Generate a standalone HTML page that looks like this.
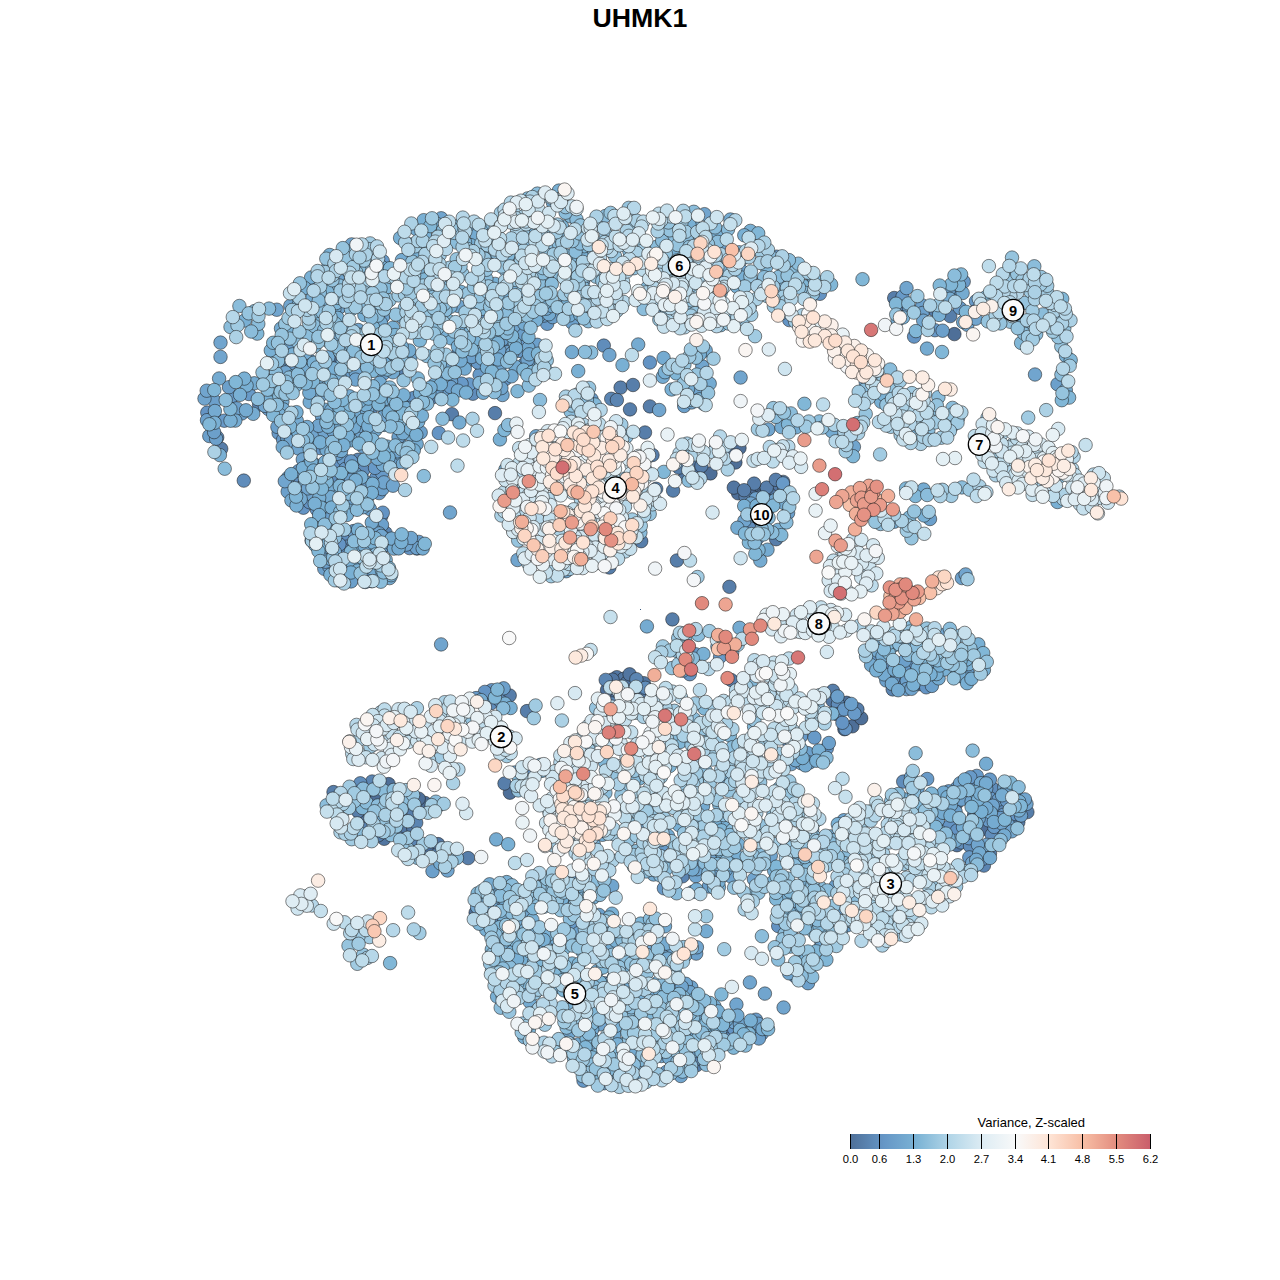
<!DOCTYPE html>
<html><head><meta charset="utf-8"><title>UHMK1</title>
<style>
html,body{margin:0;padding:0;background:#fff}
body{width:1280px;height:1280px;overflow:hidden;font-family:"Liberation Sans",sans-serif}
svg{display:block;font-family:"Liberation Sans",sans-serif}
#p circle{r:6.75px;stroke:#1e1e1e;stroke-width:.62px;stroke-opacity:.88}
.lb{fill:#fbfbfb;stroke:#000;stroke-width:1.25px}
.lt{font-size:14.6px;font-weight:700;text-anchor:middle;fill:#000}
.tk{font-size:11.2px;text-anchor:middle;fill:#000}
.lgt{font-size:13px;text-anchor:end;fill:#000}
.ttl{font-size:26.7px;font-weight:700;text-anchor:middle;fill:#000}
.a{fill:#4e6f98}.b{fill:#5276a1}.c{fill:#577eaa}.d{fill:#5b85b2}.e{fill:#608dbb}.f{fill:#6494c4}.g{fill:#689ac8}.h{fill:#6ca0cb}.i{fill:#71a5ce}.j{fill:#75abd1}.k{fill:#79b0d4}.l{fill:#81b7d7}.m{fill:#8bbddb}.n{fill:#96c4de}.o{fill:#a1cbe2}.p{fill:#acd1e5}.q{fill:#b6d7e9}.r{fill:#bedceb}.s{fill:#c6e0ed}.t{fill:#cfe5f0}.u{fill:#d7e9f2}.v{fill:#dfedf4}.w{fill:#e4f0f5}.x{fill:#e9f2f6}.y{fill:#eff4f7}.z{fill:#f4f6f8}.A{fill:#f9f9f9}.B{fill:#faf5f2}.C{fill:#fbf1eb}.D{fill:#fcede4}.E{fill:#fde9dd}.F{fill:#fee4d6}.G{fill:#fddece}.H{fill:#fcd7c4}.I{fill:#facfbb}.J{fill:#f9c8b2}.K{fill:#f8c1a9}.L{fill:#f5b9a1}.M{fill:#f1af99}.N{fill:#eda592}.O{fill:#e99c8b}.P{fill:#e59284}.Q{fill:#e1897d}.R{fill:#dc807a}.S{fill:#d77776}.T{fill:#d36f72}.U{fill:#ce666f}.V{fill:#c95d6b}
</style></head><body>
<svg width="1280" height="1280" viewBox="0 0 1280 1280">
<rect width="1280" height="1280" fill="#fff"/>
<text class="ttl" x="640" y="27">UHMK1</text>
<g id="p">
<circle class="a" cx="509.9" cy="792.7" r="6.75"/>
<circle class="a" cx="472.7" cy="388.0" r="6.75"/>
<circle class="a" cx="361.5" cy="821.4" r="6.75"/>
<circle class="a" cx="739.5" cy="448.0" r="6.75"/>
<circle class="a" cx="763.3" cy="491.8" r="6.75"/>
<circle class="a" cx="618.7" cy="706.2" r="6.75"/>
<circle class="a" cx="852.4" cy="726.3" r="6.75"/>
<circle class="a" cx="611.6" cy="691.7" r="6.75"/>
<circle class="a" cx="370.2" cy="795.1" r="6.75"/>
<circle class="a" cx="603.9" cy="702.0" r="6.75"/>
<circle class="a" cx="402.1" cy="813.9" r="6.75"/>
<circle class="a" cx="753.7" cy="489.8" r="6.75"/>
<circle class="a" cx="612.9" cy="697.0" r="6.75"/>
<circle class="a" cx="424.2" cy="853.0" r="6.75"/>
<circle class="a" cx="750.1" cy="494.6" r="6.75"/>
<circle class="a" cx="918.5" cy="684.1" r="6.75"/>
<circle class="a" cx="1010.7" cy="818.5" r="6.75"/>
<circle class="a" cx="425.1" cy="803.0" r="6.75"/>
<circle class="a" cx="775.8" cy="492.5" r="6.75"/>
<circle class="a" cx="376.2" cy="800.1" r="6.75"/>
<circle class="a" cx="984.8" cy="828.7" r="6.75"/>
<circle class="a" cx="767.6" cy="497.3" r="6.75"/>
<circle class="a" cx="631.4" cy="704.8" r="6.75"/>
<circle class="a" cx="861.2" cy="718.2" r="6.75"/>
<circle class="a" cx="738.1" cy="493.3" r="6.75"/>
<circle class="a" cx="716.1" cy="447.4" r="6.75"/>
<circle class="a" cx="640.8" cy="703.9" r="6.75"/>
<circle class="a" cx="406.3" cy="843.8" r="6.75"/>
<circle class="a" cx="418.7" cy="798.7" r="6.75"/>
<circle class="a" cx="904.4" cy="684.6" r="6.75"/>
<circle class="a" cx="616.1" cy="685.5" r="6.75"/>
<circle class="a" cx="623.2" cy="696.8" r="6.75"/>
<circle class="a" cx="710.5" cy="473.4" r="6.75"/>
<circle class="a" cx="846.6" cy="702.8" r="6.75"/>
<circle class="a" cx="338.8" cy="359.6" r="6.75"/>
<circle class="a" cx="954.4" cy="334.1" r="6.75"/>
<circle class="a" cx="647.3" cy="692.4" r="6.75"/>
<circle class="a" cx="429.3" cy="848.4" r="6.75"/>
<circle class="a" cx="761.2" cy="496.4" r="6.75"/>
<circle class="a" cx="784.6" cy="490.4" r="6.75"/>
<circle class="a" cx="735.4" cy="462.5" r="6.75"/>
<circle class="a" cx="956.2" cy="803.8" r="6.75"/>
<circle class="a" cx="607.0" cy="690.0" r="6.75"/>
<circle class="a" cx="388.6" cy="784.1" r="6.75"/>
<circle class="a" cx="475.6" cy="912.7" r="6.75"/>
<circle class="a" cx="850.1" cy="708.7" r="6.75"/>
<circle class="b" cx="398.6" cy="830.7" r="6.75"/>
<circle class="b" cx="772.2" cy="488.0" r="6.75"/>
<circle class="b" cx="405.2" cy="826.5" r="6.75"/>
<circle class="b" cx="633.2" cy="695.0" r="6.75"/>
<circle class="b" cx="778.6" cy="484.7" r="6.75"/>
<circle class="b" cx="413.2" cy="828.0" r="6.75"/>
<circle class="b" cx="639.0" cy="695.9" r="6.75"/>
<circle class="b" cx="685.4" cy="475.5" r="6.75"/>
<circle class="b" cx="844.4" cy="729.2" r="6.75"/>
<circle class="b" cx="616.8" cy="677.2" r="6.75"/>
<circle class="b" cx="832.5" cy="700.6" r="6.75"/>
<circle class="b" cx="636.8" cy="700.0" r="6.75"/>
<circle class="b" cx="623.6" cy="678.8" r="6.75"/>
<circle class="b" cx="626.8" cy="682.8" r="6.75"/>
<circle class="b" cx="384.2" cy="838.8" r="6.75"/>
<circle class="b" cx="694.6" cy="466.5" r="6.75"/>
<circle class="b" cx="629.6" cy="674.3" r="6.75"/>
<circle class="b" cx="733.8" cy="487.6" r="6.75"/>
<circle class="b" cx="636.0" cy="706.1" r="6.75"/>
<circle class="b" cx="643.8" cy="683.2" r="6.75"/>
<circle class="b" cx="957.0" cy="845.2" r="6.75"/>
<circle class="b" cx="438.1" cy="844.1" r="6.75"/>
<circle class="b" cx="624.4" cy="701.3" r="6.75"/>
<circle class="b" cx="620.0" cy="693.1" r="6.75"/>
<circle class="b" cx="762.0" cy="282.9" r="6.75"/>
<circle class="b" cx="612.5" cy="679.6" r="6.75"/>
<circle class="c" cx="738.8" cy="683.8" r="6.75"/>
<circle class="c" cx="672.4" cy="619.4" r="6.75"/>
<circle class="c" cx="650.6" cy="496.2" r="6.75"/>
<circle class="c" cx="673.1" cy="490.6" r="6.75"/>
<circle class="c" cx="495.0" cy="413.1" r="6.75"/>
<circle class="c" cx="731.2" cy="680.0" r="6.75"/>
<circle class="c" cx="620.6" cy="387.6" r="6.75"/>
<circle class="c" cx="729.4" cy="586.8" r="6.75"/>
<circle class="c" cx="221.2" cy="448.8" r="6.75"/>
<circle class="c" cx="451.9" cy="414.2" r="6.75"/>
<circle class="c" cx="468.1" cy="858.1" r="6.75"/>
<circle class="c" cx="676.9" cy="560.5" r="6.75"/>
<circle class="c" cx="633.0" cy="385.0" r="6.75"/>
<circle class="c" cx="645.0" cy="432.5" r="6.75"/>
<circle class="c" cx="745.6" cy="496.7" r="6.75"/>
<circle class="c" cx="389.4" cy="794.0" r="6.75"/>
<circle class="c" cx="974.1" cy="815.3" r="6.75"/>
<circle class="c" cx="766.7" cy="487.6" r="6.75"/>
<circle class="c" cx="832.9" cy="690.8" r="6.75"/>
<circle class="c" cx="701.4" cy="466.0" r="6.75"/>
<circle class="c" cx="413.6" cy="813.2" r="6.75"/>
<circle class="c" cx="754.1" cy="483.6" r="6.75"/>
<circle class="c" cx="509.7" cy="695.5" r="6.75"/>
<circle class="c" cx="783.2" cy="481.9" r="6.75"/>
<circle class="c" cx="729.9" cy="455.0" r="6.75"/>
<circle class="c" cx="1027.4" cy="812.1" r="6.75"/>
<circle class="c" cx="378.2" cy="835.3" r="6.75"/>
<circle class="c" cx="385.9" cy="821.1" r="6.75"/>
<circle class="c" cx="582.8" cy="398.1" r="6.75"/>
<circle class="c" cx="990.0" cy="853.1" r="6.75"/>
<circle class="c" cx="371.4" cy="581.1" r="6.75"/>
<circle class="c" cx="934.5" cy="310.0" r="6.75"/>
<circle class="c" cx="678.9" cy="467.6" r="6.75"/>
<circle class="c" cx="894.2" cy="298.0" r="6.75"/>
<circle class="c" cx="744.1" cy="490.2" r="6.75"/>
<circle class="c" cx="333.5" cy="792.1" r="6.75"/>
<circle class="c" cx="775.8" cy="479.8" r="6.75"/>
<circle class="c" cx="368.4" cy="837.5" r="6.75"/>
<circle class="c" cx="358.1" cy="811.4" r="6.75"/>
<circle class="c" cx="436.4" cy="855.2" r="6.75"/>
<circle class="c" cx="930.3" cy="680.5" r="6.75"/>
<circle class="c" cx="696.8" cy="1065.1" r="6.75"/>
<circle class="c" cx="1018.3" cy="822.3" r="6.75"/>
<circle class="c" cx="904.9" cy="310.8" r="6.75"/>
<circle class="c" cx="609.4" cy="567.5" r="6.75"/>
<circle class="c" cx="652.5" cy="455.0" r="6.75"/>
<circle class="c" cx="577.5" cy="426.2" r="6.75"/>
<circle class="c" cx="527.0" cy="711.1" r="6.75"/>
<circle class="c" cx="663.1" cy="946.2" r="6.75"/>
<circle class="c" cx="630.0" cy="409.4" r="6.75"/>
<circle class="c" cx="641.2" cy="541.2" r="6.75"/>
<circle class="c" cx="649.9" cy="406.4" r="6.75"/>
<circle class="c" cx="571.9" cy="426.9" r="6.75"/>
<circle class="c" cx="504.5" cy="783.5" r="6.75"/>
<circle class="c" cx="349.7" cy="556.4" r="6.75"/>
<circle class="c" cx="950.2" cy="316.1" r="6.75"/>
<circle class="c" cx="776.1" cy="539.2" r="6.75"/>
<circle class="c" cx="857.4" cy="709.3" r="6.75"/>
<circle class="d" cx="259.1" cy="404.6" r="6.75"/>
<circle class="d" cx="385.6" cy="533.0" r="6.75"/>
<circle class="d" cx="978.3" cy="808.2" r="6.75"/>
<circle class="d" cx="605.7" cy="679.9" r="6.75"/>
<circle class="d" cx="416.2" cy="822.8" r="6.75"/>
<circle class="d" cx="372.1" cy="781.5" r="6.75"/>
<circle class="d" cx="983.9" cy="865.6" r="6.75"/>
<circle class="d" cx="612.0" cy="703.5" r="6.75"/>
<circle class="d" cx="580.2" cy="396.2" r="6.75"/>
<circle class="d" cx="432.5" cy="397.3" r="6.75"/>
<circle class="d" cx="416.2" cy="843.4" r="6.75"/>
<circle class="d" cx="636.4" cy="679.2" r="6.75"/>
<circle class="d" cx="359.7" cy="466.5" r="6.75"/>
<circle class="d" cx="682.6" cy="876.3" r="6.75"/>
<circle class="d" cx="358.0" cy="459.8" r="6.75"/>
<circle class="d" cx="611.2" cy="398.8" r="6.75"/>
<circle class="d" cx="616.9" cy="400.0" r="6.75"/>
<circle class="d" cx="513.8" cy="531.9" r="6.75"/>
<circle class="d" cx="656.2" cy="488.8" r="6.75"/>
<circle class="d" cx="697.2" cy="1058.8" r="6.75"/>
<circle class="d" cx="381.3" cy="516.1" r="6.75"/>
<circle class="d" cx="665.1" cy="948.3" r="6.75"/>
<circle class="d" cx="362.4" cy="828.6" r="6.75"/>
<circle class="d" cx="403.7" cy="372.4" r="6.75"/>
<circle class="d" cx="892.7" cy="689.4" r="6.75"/>
<circle class="d" cx="610.6" cy="992.8" r="6.75"/>
<circle class="e" cx="504.5" cy="346.7" r="6.75"/>
<circle class="e" cx="972.4" cy="786.0" r="6.75"/>
<circle class="e" cx="450.4" cy="368.9" r="6.75"/>
<circle class="e" cx="752.0" cy="525.8" r="6.75"/>
<circle class="e" cx="956.0" cy="822.1" r="6.75"/>
<circle class="e" cx="217.2" cy="437.4" r="6.75"/>
<circle class="e" cx="360.3" cy="783.3" r="6.75"/>
<circle class="e" cx="961.0" cy="842.4" r="6.75"/>
<circle class="e" cx="417.0" cy="548.5" r="6.75"/>
<circle class="e" cx="752.5" cy="1030.3" r="6.75"/>
<circle class="e" cx="770.3" cy="291.3" r="6.75"/>
<circle class="e" cx="371.9" cy="407.4" r="6.75"/>
<circle class="e" cx="243.8" cy="480.6" r="6.75"/>
<circle class="e" cx="603.8" cy="345.6" r="6.75"/>
<circle class="e" cx="457.9" cy="354.5" r="6.75"/>
<circle class="e" cx="888.4" cy="666.5" r="6.75"/>
<circle class="e" cx="472.9" cy="393.7" r="6.75"/>
<circle class="e" cx="531.4" cy="771.7" r="6.75"/>
<circle class="e" cx="645.4" cy="687.8" r="6.75"/>
<circle class="e" cx="342.6" cy="537.3" r="6.75"/>
<circle class="e" cx="298.9" cy="481.9" r="6.75"/>
<circle class="e" cx="518.3" cy="330.0" r="6.75"/>
<circle class="e" cx="998.9" cy="834.5" r="6.75"/>
<circle class="e" cx="789.1" cy="742.8" r="6.75"/>
<circle class="e" cx="837.9" cy="704.2" r="6.75"/>
<circle class="e" cx="903.2" cy="781.6" r="6.75"/>
<circle class="e" cx="332.6" cy="513.9" r="6.75"/>
<circle class="e" cx="363.1" cy="470.2" r="6.75"/>
<circle class="e" cx="768.6" cy="508.3" r="6.75"/>
<circle class="e" cx="672.5" cy="988.0" r="6.75"/>
<circle class="e" cx="499.3" cy="919.6" r="6.75"/>
<circle class="e" cx="995.7" cy="812.8" r="6.75"/>
<circle class="e" cx="726.2" cy="1033.8" r="6.75"/>
<circle class="e" cx="991.9" cy="788.0" r="6.75"/>
<circle class="e" cx="795.1" cy="976.2" r="6.75"/>
<circle class="e" cx="727.8" cy="1026.1" r="6.75"/>
<circle class="e" cx="315.9" cy="440.3" r="6.75"/>
<circle class="e" cx="970.0" cy="846.0" r="6.75"/>
<circle class="e" cx="347.0" cy="546.6" r="6.75"/>
<circle class="e" cx="378.2" cy="521.4" r="6.75"/>
<circle class="e" cx="837.2" cy="714.3" r="6.75"/>
<circle class="e" cx="901.8" cy="678.8" r="6.75"/>
<circle class="e" cx="342.8" cy="549.6" r="6.75"/>
<circle class="e" cx="491.1" cy="703.2" r="6.75"/>
<circle class="e" cx="1000.6" cy="809.5" r="6.75"/>
<circle class="e" cx="336.7" cy="482.0" r="6.75"/>
<circle class="e" cx="991.7" cy="834.8" r="6.75"/>
<circle class="f" cx="982.9" cy="858.7" r="6.75"/>
<circle class="f" cx="776.8" cy="256.7" r="6.75"/>
<circle class="f" cx="438.8" cy="433.0" r="6.75"/>
<circle class="f" cx="500.1" cy="700.8" r="6.75"/>
<circle class="f" cx="320.1" cy="448.1" r="6.75"/>
<circle class="f" cx="326.2" cy="505.6" r="6.75"/>
<circle class="f" cx="972.8" cy="867.5" r="6.75"/>
<circle class="f" cx="481.0" cy="316.1" r="6.75"/>
<circle class="f" cx="948.5" cy="289.9" r="6.75"/>
<circle class="f" cx="517.9" cy="952.3" r="6.75"/>
<circle class="f" cx="383.6" cy="575.5" r="6.75"/>
<circle class="f" cx="826.8" cy="748.5" r="6.75"/>
<circle class="f" cx="513.1" cy="946.6" r="6.75"/>
<circle class="f" cx="649.6" cy="814.9" r="6.75"/>
<circle class="f" cx="316.9" cy="509.6" r="6.75"/>
<circle class="f" cx="893.4" cy="678.5" r="6.75"/>
<circle class="f" cx="879.1" cy="644.1" r="6.75"/>
<circle class="f" cx="538.1" cy="227.1" r="6.75"/>
<circle class="f" cx="383.8" cy="537.6" r="6.75"/>
<circle class="f" cx="689.8" cy="674.2" r="6.75"/>
<circle class="f" cx="531.1" cy="320.1" r="6.75"/>
<circle class="f" cx="303.4" cy="507.7" r="6.75"/>
<circle class="f" cx="309.6" cy="502.2" r="6.75"/>
<circle class="f" cx="926.2" cy="687.3" r="6.75"/>
<circle class="f" cx="440.5" cy="372.0" r="6.75"/>
<circle class="f" cx="778.2" cy="926.0" r="6.75"/>
<circle class="f" cx="734.1" cy="1029.0" r="6.75"/>
<circle class="f" cx="207.3" cy="412.6" r="6.75"/>
<circle class="f" cx="911.5" cy="661.9" r="6.75"/>
<circle class="f" cx="406.0" cy="401.2" r="6.75"/>
<circle class="f" cx="914.1" cy="336.6" r="6.75"/>
<circle class="f" cx="364.9" cy="572.5" r="6.75"/>
<circle class="f" cx="409.6" cy="548.1" r="6.75"/>
<circle class="f" cx="492.3" cy="355.8" r="6.75"/>
<circle class="f" cx="413.4" cy="398.1" r="6.75"/>
<circle class="f" cx="338.7" cy="580.4" r="6.75"/>
<circle class="f" cx="394.4" cy="462.9" r="6.75"/>
<circle class="f" cx="845.5" cy="728.8" r="6.75"/>
<circle class="f" cx="819.9" cy="293.8" r="6.75"/>
<circle class="f" cx="491.7" cy="690.2" r="6.75"/>
<circle class="f" cx="484.9" cy="691.9" r="6.75"/>
<circle class="f" cx="949.3" cy="826.3" r="6.75"/>
<circle class="f" cx="957.0" cy="830.5" r="6.75"/>
<circle class="f" cx="484.3" cy="339.8" r="6.75"/>
<circle class="f" cx="575.8" cy="319.0" r="6.75"/>
<circle class="f" cx="394.8" cy="455.5" r="6.75"/>
<circle class="f" cx="501.0" cy="382.8" r="6.75"/>
<circle class="f" cx="789.3" cy="320.1" r="6.75"/>
<circle class="f" cx="347.6" cy="576.3" r="6.75"/>
<circle class="f" cx="706.1" cy="388.7" r="6.75"/>
<circle class="f" cx="339.4" cy="544.4" r="6.75"/>
<circle class="f" cx="842.4" cy="722.8" r="6.75"/>
<circle class="f" cx="505.4" cy="379.0" r="6.75"/>
<circle class="f" cx="356.0" cy="493.6" r="6.75"/>
<circle class="f" cx="649.9" cy="362.5" r="6.75"/>
<circle class="f" cx="376.4" cy="477.6" r="6.75"/>
<circle class="f" cx="616.8" cy="949.5" r="6.75"/>
<circle class="f" cx="349.7" cy="361.5" r="6.75"/>
<circle class="f" cx="343.6" cy="480.3" r="6.75"/>
<circle class="f" cx="484.4" cy="902.8" r="6.75"/>
<circle class="f" cx="346.4" cy="581.7" r="6.75"/>
<circle class="f" cx="1014.2" cy="813.8" r="6.75"/>
<circle class="f" cx="661.2" cy="251.0" r="6.75"/>
<circle class="f" cx="337.7" cy="466.4" r="6.75"/>
<circle class="f" cx="311.5" cy="283.7" r="6.75"/>
<circle class="f" cx="287.6" cy="364.5" r="6.75"/>
<circle class="f" cx="525.6" cy="328.3" r="6.75"/>
<circle class="f" cx="693.3" cy="1040.5" r="6.75"/>
<circle class="f" cx="843.7" cy="910.5" r="6.75"/>
<circle class="f" cx="382.8" cy="512.7" r="6.75"/>
<circle class="f" cx="377.8" cy="293.6" r="6.75"/>
<circle class="g" cx="753.0" cy="235.2" r="6.75"/>
<circle class="g" cx="562.4" cy="312.6" r="6.75"/>
<circle class="g" cx="990.4" cy="798.5" r="6.75"/>
<circle class="g" cx="354.9" cy="422.7" r="6.75"/>
<circle class="g" cx="278.6" cy="433.0" r="6.75"/>
<circle class="g" cx="378.8" cy="389.6" r="6.75"/>
<circle class="g" cx="666.4" cy="1071.9" r="6.75"/>
<circle class="g" cx="364.6" cy="564.0" r="6.75"/>
<circle class="g" cx="844.1" cy="709.4" r="6.75"/>
<circle class="g" cx="343.7" cy="459.7" r="6.75"/>
<circle class="g" cx="345.4" cy="468.9" r="6.75"/>
<circle class="g" cx="524.5" cy="364.1" r="6.75"/>
<circle class="g" cx="755.9" cy="1019.7" r="6.75"/>
<circle class="g" cx="357.5" cy="301.2" r="6.75"/>
<circle class="g" cx="268.4" cy="409.1" r="6.75"/>
<circle class="g" cx="976.8" cy="775.9" r="6.75"/>
<circle class="g" cx="801.1" cy="736.2" r="6.75"/>
<circle class="g" cx="382.2" cy="473.2" r="6.75"/>
<circle class="g" cx="520.7" cy="346.2" r="6.75"/>
<circle class="g" cx="956.7" cy="788.2" r="6.75"/>
<circle class="g" cx="382.8" cy="261.1" r="6.75"/>
<circle class="g" cx="976.0" cy="301.2" r="6.75"/>
<circle class="g" cx="970.3" cy="777.2" r="6.75"/>
<circle class="g" cx="309.0" cy="359.9" r="6.75"/>
<circle class="g" cx="902.5" cy="296.6" r="6.75"/>
<circle class="g" cx="969.1" cy="838.2" r="6.75"/>
<circle class="g" cx="757.2" cy="538.6" r="6.75"/>
<circle class="g" cx="1003.8" cy="814.7" r="6.75"/>
<circle class="g" cx="327.4" cy="541.0" r="6.75"/>
<circle class="g" cx="283.1" cy="439.7" r="6.75"/>
<circle class="g" cx="1017.5" cy="796.9" r="6.75"/>
<circle class="g" cx="959.8" cy="308.0" r="6.75"/>
<circle class="g" cx="353.5" cy="531.1" r="6.75"/>
<circle class="g" cx="989.9" cy="779.6" r="6.75"/>
<circle class="g" cx="591.5" cy="399.2" r="6.75"/>
<circle class="g" cx="323.5" cy="516.8" r="6.75"/>
<circle class="g" cx="934.9" cy="330.2" r="6.75"/>
<circle class="g" cx="662.2" cy="844.7" r="6.75"/>
<circle class="g" cx="289.9" cy="370.2" r="6.75"/>
<circle class="g" cx="998.6" cy="799.6" r="6.75"/>
<circle class="g" cx="585.2" cy="1066.8" r="6.75"/>
<circle class="g" cx="932.4" cy="666.7" r="6.75"/>
<circle class="g" cx="465.4" cy="363.6" r="6.75"/>
<circle class="g" cx="325.6" cy="529.2" r="6.75"/>
<circle class="g" cx="380.1" cy="453.6" r="6.75"/>
<circle class="g" cx="994.2" cy="826.9" r="6.75"/>
<circle class="g" cx="957.4" cy="293.6" r="6.75"/>
<circle class="g" cx="469.3" cy="384.4" r="6.75"/>
<circle class="g" cx="476.1" cy="698.1" r="6.75"/>
<circle class="g" cx="927.2" cy="779.0" r="6.75"/>
<circle class="g" cx="481.5" cy="366.6" r="6.75"/>
<circle class="g" cx="277.4" cy="406.5" r="6.75"/>
<circle class="g" cx="872.6" cy="654.8" r="6.75"/>
<circle class="g" cx="672.4" cy="244.1" r="6.75"/>
<circle class="g" cx="418.9" cy="541.9" r="6.75"/>
<circle class="g" cx="966.0" cy="794.1" r="6.75"/>
<circle class="g" cx="364.8" cy="481.4" r="6.75"/>
<circle class="g" cx="1000.3" cy="818.0" r="6.75"/>
<circle class="g" cx="744.2" cy="1026.7" r="6.75"/>
<circle class="g" cx="379.1" cy="493.1" r="6.75"/>
<circle class="g" cx="695.6" cy="654.2" r="6.75"/>
<circle class="g" cx="974.8" cy="311.6" r="6.75"/>
<circle class="g" cx="1006.7" cy="829.3" r="6.75"/>
<circle class="g" cx="948.7" cy="791.3" r="6.75"/>
<circle class="g" cx="392.8" cy="362.2" r="6.75"/>
<circle class="g" cx="334.8" cy="290.4" r="6.75"/>
<circle class="g" cx="1006.9" cy="800.8" r="6.75"/>
<circle class="g" cx="479.6" cy="374.8" r="6.75"/>
<circle class="g" cx="367.0" cy="488.5" r="6.75"/>
<circle class="g" cx="963.7" cy="281.6" r="6.75"/>
<circle class="g" cx="562.2" cy="306.1" r="6.75"/>
<circle class="g" cx="309.6" cy="364.9" r="6.75"/>
<circle class="g" cx="409.7" cy="407.9" r="6.75"/>
<circle class="g" cx="573.8" cy="928.4" r="6.75"/>
<circle class="g" cx="720.1" cy="656.8" r="6.75"/>
<circle class="g" cx="784.3" cy="488.9" r="6.75"/>
<circle class="g" cx="298.7" cy="471.0" r="6.75"/>
<circle class="g" cx="809.9" cy="285.1" r="6.75"/>
<circle class="g" cx="520.0" cy="350.9" r="6.75"/>
<circle class="g" cx="295.2" cy="425.8" r="6.75"/>
<circle class="g" cx="905.0" cy="671.1" r="6.75"/>
<circle class="g" cx="356.3" cy="488.7" r="6.75"/>
<circle class="g" cx="248.9" cy="394.0" r="6.75"/>
<circle class="g" cx="663.9" cy="888.3" r="6.75"/>
<circle class="g" cx="988.3" cy="820.3" r="6.75"/>
<circle class="g" cx="214.2" cy="416.2" r="6.75"/>
<circle class="g" cx="309.7" cy="442.7" r="6.75"/>
<circle class="g" cx="351.1" cy="461.3" r="6.75"/>
<circle class="g" cx="814.4" cy="737.6" r="6.75"/>
<circle class="g" cx="224.3" cy="420.7" r="6.75"/>
<circle class="g" cx="375.0" cy="467.9" r="6.75"/>
<circle class="g" cx="583.5" cy="1080.7" r="6.75"/>
<circle class="g" cx="477.8" cy="362.5" r="6.75"/>
<circle class="g" cx="544.6" cy="884.8" r="6.75"/>
<circle class="g" cx="909.5" cy="646.4" r="6.75"/>
<circle class="g" cx="368.5" cy="339.9" r="6.75"/>
<circle class="g" cx="547.2" cy="323.8" r="6.75"/>
<circle class="g" cx="461.6" cy="383.6" r="6.75"/>
<circle class="g" cx="854.5" cy="713.5" r="6.75"/>
<circle class="g" cx="761.8" cy="1033.6" r="6.75"/>
<circle class="g" cx="782.9" cy="483.4" r="6.75"/>
<circle class="g" cx="755.4" cy="1034.7" r="6.75"/>
<circle class="g" cx="519.7" cy="341.4" r="6.75"/>
<circle class="g" cx="969.3" cy="857.4" r="6.75"/>
<circle class="g" cx="232.4" cy="396.6" r="6.75"/>
<circle class="g" cx="492.3" cy="380.9" r="6.75"/>
<circle class="h" cx="478.5" cy="344.7" r="6.75"/>
<circle class="h" cx="355.2" cy="473.6" r="6.75"/>
<circle class="h" cx="420.7" cy="432.4" r="6.75"/>
<circle class="h" cx="363.3" cy="446.8" r="6.75"/>
<circle class="h" cx="693.8" cy="1051.4" r="6.75"/>
<circle class="h" cx="229.0" cy="387.2" r="6.75"/>
<circle class="h" cx="209.3" cy="436.0" r="6.75"/>
<circle class="h" cx="327.8" cy="519.4" r="6.75"/>
<circle class="h" cx="807.6" cy="753.1" r="6.75"/>
<circle class="h" cx="984.0" cy="801.5" r="6.75"/>
<circle class="h" cx="741.4" cy="270.8" r="6.75"/>
<circle class="h" cx="808.0" cy="983.2" r="6.75"/>
<circle class="h" cx="568.7" cy="973.8" r="6.75"/>
<circle class="h" cx="451.1" cy="381.5" r="6.75"/>
<circle class="h" cx="836.5" cy="910.0" r="6.75"/>
<circle class="h" cx="967.5" cy="672.3" r="6.75"/>
<circle class="h" cx="931.9" cy="685.9" r="6.75"/>
<circle class="h" cx="1004.3" cy="787.2" r="6.75"/>
<circle class="h" cx="351.0" cy="479.6" r="6.75"/>
<circle class="h" cx="708.9" cy="886.5" r="6.75"/>
<circle class="h" cx="851.2" cy="703.9" r="6.75"/>
<circle class="h" cx="377.0" cy="547.4" r="6.75"/>
<circle class="h" cx="344.8" cy="499.1" r="6.75"/>
<circle class="h" cx="216.1" cy="438.7" r="6.75"/>
<circle class="h" cx="822.4" cy="930.4" r="6.75"/>
<circle class="h" cx="761.1" cy="521.8" r="6.75"/>
<circle class="h" cx="1008.1" cy="824.9" r="6.75"/>
<circle class="h" cx="399.5" cy="460.5" r="6.75"/>
<circle class="h" cx="440.5" cy="392.2" r="6.75"/>
<circle class="h" cx="723.3" cy="311.6" r="6.75"/>
<circle class="h" cx="755.9" cy="498.5" r="6.75"/>
<circle class="h" cx="503.6" cy="688.3" r="6.75"/>
<circle class="h" cx="574.9" cy="1004.8" r="6.75"/>
<circle class="h" cx="725.5" cy="784.2" r="6.75"/>
<circle class="h" cx="351.4" cy="373.8" r="6.75"/>
<circle class="h" cx="543.3" cy="930.7" r="6.75"/>
<circle class="h" cx="359.8" cy="408.2" r="6.75"/>
<circle class="h" cx="1021.0" cy="815.5" r="6.75"/>
<circle class="h" cx="449.7" cy="392.3" r="6.75"/>
<circle class="h" cx="416.8" cy="548.1" r="6.75"/>
<circle class="h" cx="287.7" cy="491.6" r="6.75"/>
<circle class="h" cx="604.5" cy="983.3" r="6.75"/>
<circle class="h" cx="703.6" cy="403.8" r="6.75"/>
<circle class="h" cx="583.2" cy="281.2" r="6.75"/>
<circle class="h" cx="909.3" cy="308.9" r="6.75"/>
<circle class="h" cx="961.9" cy="578.1" r="6.75"/>
<circle class="h" cx="948.8" cy="290.1" r="6.75"/>
<circle class="h" cx="432.5" cy="871.2" r="6.75"/>
<circle class="h" cx="1057.5" cy="384.2" r="6.75"/>
<circle class="h" cx="821.4" cy="942.4" r="6.75"/>
<circle class="h" cx="847.1" cy="925.4" r="6.75"/>
<circle class="h" cx="565.2" cy="891.7" r="6.75"/>
<circle class="h" cx="421.7" cy="249.7" r="6.75"/>
<circle class="h" cx="382.3" cy="489.1" r="6.75"/>
<circle class="h" cx="484.9" cy="913.2" r="6.75"/>
<circle class="h" cx="369.9" cy="509.0" r="6.75"/>
<circle class="h" cx="334.1" cy="500.2" r="6.75"/>
<circle class="h" cx="886.3" cy="680.5" r="6.75"/>
<circle class="h" cx="961.3" cy="799.5" r="6.75"/>
<circle class="h" cx="955.6" cy="811.7" r="6.75"/>
<circle class="h" cx="904.7" cy="660.7" r="6.75"/>
<circle class="h" cx="920.6" cy="672.4" r="6.75"/>
<circle class="h" cx="593.8" cy="1018.4" r="6.75"/>
<circle class="h" cx="321.7" cy="540.3" r="6.75"/>
<circle class="h" cx="753.8" cy="863.3" r="6.75"/>
<circle class="h" cx="572.0" cy="322.6" r="6.75"/>
<circle class="h" cx="616.5" cy="1000.6" r="6.75"/>
<circle class="h" cx="758.9" cy="1038.5" r="6.75"/>
<circle class="h" cx="835.9" cy="885.7" r="6.75"/>
<circle class="h" cx="986.2" cy="788.6" r="6.75"/>
<circle class="h" cx="930.0" cy="519.0" r="6.75"/>
<circle class="h" cx="906.8" cy="680.7" r="6.75"/>
<circle class="h" cx="324.3" cy="568.8" r="6.75"/>
<circle class="h" cx="654.8" cy="928.7" r="6.75"/>
<circle class="h" cx="581.2" cy="402.1" r="6.75"/>
<circle class="h" cx="714.1" cy="1052.8" r="6.75"/>
<circle class="h" cx="696.8" cy="1003.6" r="6.75"/>
<circle class="h" cx="287.0" cy="443.5" r="6.75"/>
<circle class="h" cx="837.5" cy="696.5" r="6.75"/>
<circle class="h" cx="329.3" cy="566.7" r="6.75"/>
<circle class="h" cx="529.3" cy="360.6" r="6.75"/>
<circle class="h" cx="288.0" cy="477.8" r="6.75"/>
<circle class="h" cx="277.4" cy="426.9" r="6.75"/>
<circle class="h" cx="459.4" cy="327.3" r="6.75"/>
<circle class="h" cx="917.6" cy="788.8" r="6.75"/>
<circle class="h" cx="461.5" cy="228.6" r="6.75"/>
<circle class="h" cx="917.3" cy="677.2" r="6.75"/>
<circle class="h" cx="399.8" cy="444.0" r="6.75"/>
<circle class="h" cx="301.6" cy="487.4" r="6.75"/>
<circle class="h" cx="325.6" cy="561.7" r="6.75"/>
<circle class="h" cx="788.1" cy="512.9" r="6.75"/>
<circle class="h" cx="684.2" cy="406.0" r="6.75"/>
<circle class="h" cx="572.0" cy="877.7" r="6.75"/>
<circle class="h" cx="922.3" cy="305.4" r="6.75"/>
<circle class="h" cx="331.8" cy="527.7" r="6.75"/>
<circle class="h" cx="608.9" cy="1025.1" r="6.75"/>
<circle class="h" cx="398.1" cy="544.1" r="6.75"/>
<circle class="h" cx="982.1" cy="436.5" r="6.75"/>
<circle class="h" cx="313.6" cy="429.3" r="6.75"/>
<circle class="h" cx="1010.6" cy="789.4" r="6.75"/>
<circle class="h" cx="375.2" cy="445.7" r="6.75"/>
<circle class="h" cx="450.5" cy="387.0" r="6.75"/>
<circle class="h" cx="288.8" cy="345.6" r="6.75"/>
<circle class="h" cx="324.4" cy="551.5" r="6.75"/>
<circle class="h" cx="809.6" cy="762.5" r="6.75"/>
<circle class="h" cx="471.5" cy="357.0" r="6.75"/>
<circle class="h" cx="214.8" cy="401.3" r="6.75"/>
<circle class="h" cx="575.5" cy="939.5" r="6.75"/>
<circle class="h" cx="645.0" cy="469.1" r="6.75"/>
<circle class="h" cx="365.3" cy="582.0" r="6.75"/>
<circle class="h" cx="537.1" cy="344.8" r="6.75"/>
<circle class="h" cx="398.5" cy="437.1" r="6.75"/>
<circle class="h" cx="598.9" cy="914.9" r="6.75"/>
<circle class="h" cx="522.1" cy="333.7" r="6.75"/>
<circle class="h" cx="241.7" cy="413.5" r="6.75"/>
<circle class="h" cx="543.9" cy="315.6" r="6.75"/>
<circle class="h" cx="405.0" cy="421.1" r="6.75"/>
<circle class="h" cx="534.1" cy="361.7" r="6.75"/>
<circle class="h" cx="351.1" cy="581.4" r="6.75"/>
<circle class="h" cx="927.9" cy="663.5" r="6.75"/>
<circle class="h" cx="552.7" cy="317.1" r="6.75"/>
<circle class="h" cx="568.1" cy="897.8" r="6.75"/>
<circle class="h" cx="337.4" cy="453.8" r="6.75"/>
<circle class="h" cx="383.7" cy="373.3" r="6.75"/>
<circle class="h" cx="386.7" cy="545.2" r="6.75"/>
<circle class="h" cx="351.9" cy="505.4" r="6.75"/>
<circle class="h" cx="214.1" cy="432.1" r="6.75"/>
<circle class="h" cx="717.5" cy="854.2" r="6.75"/>
<circle class="h" cx="236.7" cy="408.4" r="6.75"/>
<circle class="h" cx="542.1" cy="451.9" r="6.75"/>
<circle class="h" cx="758.2" cy="1023.8" r="6.75"/>
<circle class="h" cx="906.6" cy="689.1" r="6.75"/>
<circle class="h" cx="363.0" cy="371.9" r="6.75"/>
<circle class="h" cx="382.0" cy="524.8" r="6.75"/>
<circle class="h" cx="322.0" cy="416.3" r="6.75"/>
<circle class="h" cx="922.5" cy="313.0" r="6.75"/>
<circle class="h" cx="930.5" cy="822.7" r="6.75"/>
<circle class="h" cx="207.0" cy="420.2" r="6.75"/>
<circle class="h" cx="492.4" cy="367.0" r="6.75"/>
<circle class="h" cx="717.2" cy="871.3" r="6.75"/>
<circle class="h" cx="1006.0" cy="792.1" r="6.75"/>
<circle class="h" cx="682.8" cy="670.6" r="6.75"/>
<circle class="h" cx="570.6" cy="271.2" r="6.75"/>
<circle class="h" cx="503.1" cy="339.0" r="6.75"/>
<circle class="h" cx="983.1" cy="850.0" r="6.75"/>
<circle class="h" cx="376.4" cy="579.8" r="6.75"/>
<circle class="h" cx="547.4" cy="943.2" r="6.75"/>
<circle class="h" cx="942.6" cy="330.7" r="6.75"/>
<circle class="h" cx="678.3" cy="294.5" r="6.75"/>
<circle class="h" cx="304.1" cy="447.9" r="6.75"/>
<circle class="h" cx="277.0" cy="352.8" r="6.75"/>
<circle class="h" cx="828.9" cy="743.0" r="6.75"/>
<circle class="h" cx="696.2" cy="953.6" r="6.75"/>
<circle class="h" cx="580.7" cy="1051.6" r="6.75"/>
<circle class="h" cx="287.1" cy="437.4" r="6.75"/>
<circle class="i" cx="442.5" cy="378.0" r="6.75"/>
<circle class="i" cx="671.8" cy="953.8" r="6.75"/>
<circle class="i" cx="367.8" cy="552.5" r="6.75"/>
<circle class="i" cx="406.3" cy="544.6" r="6.75"/>
<circle class="i" cx="314.6" cy="435.0" r="6.75"/>
<circle class="i" cx="311.6" cy="540.4" r="6.75"/>
<circle class="i" cx="604.3" cy="1083.2" r="6.75"/>
<circle class="i" cx="290.3" cy="305.7" r="6.75"/>
<circle class="i" cx="351.7" cy="244.4" r="6.75"/>
<circle class="i" cx="504.0" cy="929.6" r="6.75"/>
<circle class="i" cx="1002.0" cy="823.4" r="6.75"/>
<circle class="i" cx="220.5" cy="342.6" r="6.75"/>
<circle class="i" cx="441.1" cy="644.4" r="6.75"/>
<circle class="i" cx="527.5" cy="360.0" r="6.75"/>
<circle class="i" cx="736.4" cy="1004.5" r="6.75"/>
<circle class="i" cx="764.9" cy="993.6" r="6.75"/>
<circle class="i" cx="517.5" cy="560.0" r="6.75"/>
<circle class="i" cx="783.6" cy="1007.5" r="6.75"/>
<circle class="i" cx="609.4" cy="355.0" r="6.75"/>
<circle class="i" cx="659.2" cy="410.0" r="6.75"/>
<circle class="i" cx="740.6" cy="377.5" r="6.75"/>
<circle class="i" cx="450.0" cy="512.5" r="6.75"/>
<circle class="i" cx="502.5" cy="395.0" r="6.75"/>
<circle class="i" cx="536.2" cy="436.2" r="6.75"/>
<circle class="i" cx="447.5" cy="870.5" r="6.75"/>
<circle class="i" cx="749.9" cy="982.4" r="6.75"/>
<circle class="i" cx="965.6" cy="574.4" r="6.75"/>
<circle class="i" cx="566.2" cy="571.2" r="6.75"/>
<circle class="i" cx="220.5" cy="356.9" r="6.75"/>
<circle class="i" cx="1035.0" cy="374.5" r="6.75"/>
<circle class="i" cx="710.8" cy="1009.6" r="6.75"/>
<circle class="i" cx="499.4" cy="368.0" r="6.75"/>
<circle class="i" cx="335.7" cy="393.4" r="6.75"/>
<circle class="i" cx="645.9" cy="949.9" r="6.75"/>
<circle class="i" cx="624.9" cy="982.7" r="6.75"/>
<circle class="i" cx="696.7" cy="389.7" r="6.75"/>
<circle class="i" cx="492.1" cy="907.9" r="6.75"/>
<circle class="i" cx="509.9" cy="960.6" r="6.75"/>
<circle class="i" cx="383.9" cy="482.4" r="6.75"/>
<circle class="i" cx="965.3" cy="678.5" r="6.75"/>
<circle class="i" cx="923.2" cy="320.7" r="6.75"/>
<circle class="i" cx="327.3" cy="533.8" r="6.75"/>
<circle class="i" cx="791.3" cy="764.1" r="6.75"/>
<circle class="i" cx="290.8" cy="440.7" r="6.75"/>
<circle class="i" cx="731.1" cy="876.6" r="6.75"/>
<circle class="i" cx="372.9" cy="423.7" r="6.75"/>
<circle class="i" cx="355.7" cy="372.1" r="6.75"/>
<circle class="i" cx="960.1" cy="783.3" r="6.75"/>
<circle class="i" cx="324.4" cy="431.6" r="6.75"/>
<circle class="i" cx="551.9" cy="929.2" r="6.75"/>
<circle class="i" cx="204.5" cy="398.6" r="6.75"/>
<circle class="i" cx="610.4" cy="982.7" r="6.75"/>
<circle class="i" cx="441.2" cy="218.3" r="6.75"/>
<circle class="i" cx="992.7" cy="805.7" r="6.75"/>
<circle class="i" cx="968.6" cy="832.6" r="6.75"/>
<circle class="i" cx="344.7" cy="409.6" r="6.75"/>
<circle class="i" cx="591.1" cy="1050.6" r="6.75"/>
<circle class="i" cx="696.9" cy="947.3" r="6.75"/>
<circle class="i" cx="600.3" cy="1024.3" r="6.75"/>
<circle class="i" cx="573.5" cy="892.3" r="6.75"/>
<circle class="i" cx="358.3" cy="330.0" r="6.75"/>
<circle class="i" cx="809.5" cy="316.9" r="6.75"/>
<circle class="i" cx="298.4" cy="448.5" r="6.75"/>
<circle class="i" cx="301.6" cy="366.5" r="6.75"/>
<circle class="i" cx="475.4" cy="243.9" r="6.75"/>
<circle class="i" cx="382.8" cy="449.2" r="6.75"/>
<circle class="i" cx="303.6" cy="338.0" r="6.75"/>
<circle class="i" cx="865.7" cy="382.1" r="6.75"/>
<circle class="i" cx="477.1" cy="907.0" r="6.75"/>
<circle class="i" cx="569.6" cy="1032.5" r="6.75"/>
<circle class="i" cx="337.8" cy="398.5" r="6.75"/>
<circle class="i" cx="369.1" cy="391.1" r="6.75"/>
<circle class="i" cx="362.8" cy="430.9" r="6.75"/>
<circle class="i" cx="695.9" cy="876.1" r="6.75"/>
<circle class="i" cx="410.4" cy="357.5" r="6.75"/>
<circle class="i" cx="691.8" cy="402.4" r="6.75"/>
<circle class="i" cx="703.6" cy="1014.0" r="6.75"/>
<circle class="i" cx="911.0" cy="777.1" r="6.75"/>
<circle class="i" cx="709.3" cy="822.9" r="6.75"/>
<circle class="i" cx="700.3" cy="236.9" r="6.75"/>
<circle class="i" cx="725.8" cy="869.8" r="6.75"/>
<circle class="i" cx="978.7" cy="818.5" r="6.75"/>
<circle class="i" cx="206.7" cy="390.7" r="6.75"/>
<circle class="i" cx="692.6" cy="892.0" r="6.75"/>
<circle class="i" cx="680.8" cy="1076.0" r="6.75"/>
<circle class="i" cx="383.2" cy="316.5" r="6.75"/>
<circle class="i" cx="691.3" cy="987.3" r="6.75"/>
<circle class="i" cx="341.9" cy="281.4" r="6.75"/>
<circle class="i" cx="458.3" cy="306.0" r="6.75"/>
<circle class="i" cx="526.0" cy="912.8" r="6.75"/>
<circle class="i" cx="685.8" cy="983.8" r="6.75"/>
<circle class="i" cx="636.5" cy="996.9" r="6.75"/>
<circle class="i" cx="753.9" cy="879.2" r="6.75"/>
<circle class="i" cx="318.6" cy="425.8" r="6.75"/>
<circle class="i" cx="789.1" cy="973.3" r="6.75"/>
<circle class="i" cx="655.6" cy="1009.8" r="6.75"/>
<circle class="i" cx="313.7" cy="335.1" r="6.75"/>
<circle class="i" cx="539.0" cy="315.7" r="6.75"/>
<circle class="i" cx="661.7" cy="316.6" r="6.75"/>
<circle class="i" cx="935.6" cy="807.8" r="6.75"/>
<circle class="i" cx="734.2" cy="1022.2" r="6.75"/>
<circle class="i" cx="327.2" cy="546.6" r="6.75"/>
<circle class="i" cx="802.1" cy="960.7" r="6.75"/>
<circle class="i" cx="1011.8" cy="831.3" r="6.75"/>
<circle class="i" cx="395.7" cy="542.4" r="6.75"/>
<circle class="i" cx="768.3" cy="429.4" r="6.75"/>
<circle class="i" cx="514.2" cy="893.7" r="6.75"/>
<circle class="i" cx="538.2" cy="906.5" r="6.75"/>
<circle class="i" cx="739.9" cy="1024.1" r="6.75"/>
<circle class="i" cx="689.9" cy="992.2" r="6.75"/>
<circle class="i" cx="624.6" cy="1043.6" r="6.75"/>
<circle class="i" cx="967.4" cy="324.8" r="6.75"/>
<circle class="i" cx="305.3" cy="483.0" r="6.75"/>
<circle class="i" cx="344.8" cy="566.0" r="6.75"/>
<circle class="i" cx="320.6" cy="395.4" r="6.75"/>
<circle class="i" cx="302.8" cy="459.4" r="6.75"/>
<circle class="i" cx="401.4" cy="454.8" r="6.75"/>
<circle class="i" cx="347.9" cy="353.7" r="6.75"/>
<circle class="i" cx="514.8" cy="772.5" r="6.75"/>
<circle class="i" cx="698.9" cy="864.9" r="6.75"/>
<circle class="i" cx="513.6" cy="919.1" r="6.75"/>
<circle class="i" cx="376.6" cy="560.0" r="6.75"/>
<circle class="i" cx="704.5" cy="214.2" r="6.75"/>
<circle class="i" cx="1026.5" cy="803.9" r="6.75"/>
<circle class="i" cx="359.7" cy="439.0" r="6.75"/>
<circle class="i" cx="286.4" cy="422.6" r="6.75"/>
<circle class="i" cx="353.7" cy="259.1" r="6.75"/>
<circle class="i" cx="446.9" cy="363.1" r="6.75"/>
<circle class="i" cx="801.2" cy="763.2" r="6.75"/>
<circle class="i" cx="332.4" cy="373.0" r="6.75"/>
<circle class="i" cx="635.7" cy="947.9" r="6.75"/>
<circle class="i" cx="943.2" cy="635.2" r="6.75"/>
<circle class="i" cx="355.7" cy="379.6" r="6.75"/>
<circle class="i" cx="612.2" cy="886.0" r="6.75"/>
<circle class="i" cx="693.7" cy="274.2" r="6.75"/>
<circle class="i" cx="661.4" cy="1056.0" r="6.75"/>
<circle class="i" cx="497.6" cy="900.7" r="6.75"/>
<circle class="i" cx="373.4" cy="529.2" r="6.75"/>
<circle class="i" cx="793.2" cy="737.7" r="6.75"/>
<circle class="i" cx="937.9" cy="820.1" r="6.75"/>
<circle class="i" cx="725.2" cy="243.8" r="6.75"/>
<circle class="i" cx="339.3" cy="307.4" r="6.75"/>
<circle class="i" cx="311.5" cy="494.5" r="6.75"/>
<circle class="i" cx="972.2" cy="862.9" r="6.75"/>
<circle class="i" cx="912.2" cy="808.5" r="6.75"/>
<circle class="i" cx="710.3" cy="859.3" r="6.75"/>
<circle class="i" cx="348.4" cy="327.9" r="6.75"/>
<circle class="i" cx="315.6" cy="465.3" r="6.75"/>
<circle class="i" cx="507.6" cy="352.2" r="6.75"/>
<circle class="i" cx="276.7" cy="385.7" r="6.75"/>
<circle class="i" cx="667.0" cy="981.1" r="6.75"/>
<circle class="i" cx="742.7" cy="258.3" r="6.75"/>
<circle class="i" cx="383.5" cy="407.0" r="6.75"/>
<circle class="i" cx="843.8" cy="820.2" r="6.75"/>
<circle class="i" cx="697.1" cy="869.2" r="6.75"/>
<circle class="i" cx="691.2" cy="1033.9" r="6.75"/>
<circle class="i" cx="774.6" cy="500.3" r="6.75"/>
<circle class="i" cx="331.2" cy="491.2" r="6.75"/>
<circle class="i" cx="926.0" cy="805.8" r="6.75"/>
<circle class="i" cx="524.4" cy="297.3" r="6.75"/>
<circle class="i" cx="384.2" cy="424.9" r="6.75"/>
<circle class="i" cx="495.9" cy="299.6" r="6.75"/>
<circle class="i" cx="501.4" cy="388.1" r="6.75"/>
<circle class="i" cx="307.9" cy="488.4" r="6.75"/>
<circle class="i" cx="388.4" cy="395.0" r="6.75"/>
<circle class="i" cx="644.3" cy="825.1" r="6.75"/>
<circle class="i" cx="666.8" cy="864.1" r="6.75"/>
<circle class="i" cx="594.3" cy="414.1" r="6.75"/>
<circle class="i" cx="743.1" cy="1039.1" r="6.75"/>
<circle class="i" cx="379.1" cy="533.4" r="6.75"/>
<circle class="i" cx="468.3" cy="223.0" r="6.75"/>
<circle class="i" cx="329.3" cy="387.8" r="6.75"/>
<circle class="i" cx="333.1" cy="285.3" r="6.75"/>
<circle class="i" cx="393.0" cy="485.7" r="6.75"/>
<circle class="i" cx="499.5" cy="350.8" r="6.75"/>
<circle class="i" cx="906.5" cy="288.1" r="6.75"/>
<circle class="i" cx="410.9" cy="244.5" r="6.75"/>
<circle class="i" cx="853.9" cy="446.8" r="6.75"/>
<circle class="i" cx="337.8" cy="277.4" r="6.75"/>
<circle class="i" cx="504.2" cy="906.4" r="6.75"/>
<circle class="i" cx="975.8" cy="318.7" r="6.75"/>
<circle class="i" cx="702.3" cy="366.3" r="6.75"/>
<circle class="i" cx="368.1" cy="286.2" r="6.75"/>
<circle class="i" cx="521.6" cy="926.9" r="6.75"/>
<circle class="i" cx="1024.9" cy="799.4" r="6.75"/>
<circle class="i" cx="506.4" cy="944.5" r="6.75"/>
<circle class="i" cx="359.5" cy="415.4" r="6.75"/>
<circle class="i" cx="750.8" cy="503.5" r="6.75"/>
<circle class="i" cx="333.1" cy="430.9" r="6.75"/>
<circle class="i" cx="744.4" cy="520.8" r="6.75"/>
<circle class="i" cx="368.8" cy="433.0" r="6.75"/>
<circle class="i" cx="411.0" cy="538.0" r="6.75"/>
<circle class="i" cx="285.4" cy="372.4" r="6.75"/>
<circle class="i" cx="681.7" cy="986.8" r="6.75"/>
<circle class="i" cx="397.5" cy="451.3" r="6.75"/>
<circle class="i" cx="383.7" cy="416.6" r="6.75"/>
<circle class="i" cx="266.1" cy="378.9" r="6.75"/>
<circle class="i" cx="514.1" cy="325.9" r="6.75"/>
<circle class="i" cx="538.5" cy="948.7" r="6.75"/>
<circle class="i" cx="672.4" cy="1062.3" r="6.75"/>
<circle class="i" cx="307.8" cy="465.4" r="6.75"/>
<circle class="i" cx="698.9" cy="1017.9" r="6.75"/>
<circle class="i" cx="986.8" cy="844.8" r="6.75"/>
<circle class="i" cx="977.9" cy="844.8" r="6.75"/>
<circle class="i" cx="341.6" cy="423.8" r="6.75"/>
<circle class="i" cx="391.5" cy="544.4" r="6.75"/>
<circle class="i" cx="276.8" cy="309.7" r="6.75"/>
<circle class="i" cx="754.3" cy="515.8" r="6.75"/>
<circle class="i" cx="971.6" cy="801.3" r="6.75"/>
<circle class="i" cx="721.9" cy="1016.3" r="6.75"/>
<circle class="i" cx="820.5" cy="947.9" r="6.75"/>
<circle class="i" cx="264.8" cy="405.8" r="6.75"/>
<circle class="i" cx="662.9" cy="956.2" r="6.75"/>
<circle class="i" cx="578.7" cy="933.0" r="6.75"/>
<circle class="i" cx="542.2" cy="955.5" r="6.75"/>
<circle class="i" cx="284.8" cy="481.2" r="6.75"/>
<circle class="i" cx="911.5" cy="688.8" r="6.75"/>
<circle class="i" cx="770.8" cy="855.8" r="6.75"/>
<circle class="i" cx="381.3" cy="535.9" r="6.75"/>
<circle class="i" cx="512.3" cy="353.0" r="6.75"/>
<circle class="i" cx="683.8" cy="1034.7" r="6.75"/>
<circle class="j" cx="556.1" cy="436.2" r="6.75"/>
<circle class="j" cx="360.1" cy="548.6" r="6.75"/>
<circle class="j" cx="298.8" cy="304.6" r="6.75"/>
<circle class="j" cx="643.2" cy="1064.6" r="6.75"/>
<circle class="j" cx="382.9" cy="464.7" r="6.75"/>
<circle class="j" cx="669.6" cy="258.7" r="6.75"/>
<circle class="j" cx="884.1" cy="674.4" r="6.75"/>
<circle class="j" cx="363.1" cy="507.3" r="6.75"/>
<circle class="j" cx="362.4" cy="350.3" r="6.75"/>
<circle class="j" cx="309.7" cy="402.1" r="6.75"/>
<circle class="j" cx="614.4" cy="1034.6" r="6.75"/>
<circle class="j" cx="334.1" cy="336.4" r="6.75"/>
<circle class="j" cx="549.0" cy="314.2" r="6.75"/>
<circle class="j" cx="952.3" cy="669.7" r="6.75"/>
<circle class="j" cx="602.4" cy="834.8" r="6.75"/>
<circle class="j" cx="959.7" cy="675.9" r="6.75"/>
<circle class="j" cx="388.3" cy="402.7" r="6.75"/>
<circle class="j" cx="798.0" cy="744.8" r="6.75"/>
<circle class="j" cx="737.4" cy="527.8" r="6.75"/>
<circle class="j" cx="665.9" cy="1008.5" r="6.75"/>
<circle class="j" cx="877.0" cy="650.5" r="6.75"/>
<circle class="j" cx="980.9" cy="783.2" r="6.75"/>
<circle class="j" cx="416.7" cy="444.0" r="6.75"/>
<circle class="j" cx="894.4" cy="521.7" r="6.75"/>
<circle class="j" cx="805.4" cy="765.4" r="6.75"/>
<circle class="j" cx="422.7" cy="548.5" r="6.75"/>
<circle class="j" cx="576.7" cy="1000.0" r="6.75"/>
<circle class="j" cx="720.0" cy="1031.4" r="6.75"/>
<circle class="j" cx="457.9" cy="390.6" r="6.75"/>
<circle class="j" cx="427.0" cy="260.0" r="6.75"/>
<circle class="j" cx="1023.1" cy="324.3" r="6.75"/>
<circle class="j" cx="577.7" cy="1044.4" r="6.75"/>
<circle class="j" cx="379.9" cy="382.8" r="6.75"/>
<circle class="j" cx="921.2" cy="662.0" r="6.75"/>
<circle class="j" cx="665.8" cy="975.8" r="6.75"/>
<circle class="j" cx="951.0" cy="804.7" r="6.75"/>
<circle class="j" cx="335.3" cy="422.7" r="6.75"/>
<circle class="j" cx="336.1" cy="505.4" r="6.75"/>
<circle class="j" cx="632.8" cy="1053.1" r="6.75"/>
<circle class="j" cx="663.6" cy="358.0" r="6.75"/>
<circle class="j" cx="767.5" cy="549.7" r="6.75"/>
<circle class="j" cx="667.5" cy="958.6" r="6.75"/>
<circle class="j" cx="906.4" cy="642.6" r="6.75"/>
<circle class="j" cx="307.1" cy="427.0" r="6.75"/>
<circle class="j" cx="557.7" cy="940.4" r="6.75"/>
<circle class="j" cx="653.6" cy="874.5" r="6.75"/>
<circle class="j" cx="540.6" cy="764.8" r="6.75"/>
<circle class="j" cx="342.9" cy="574.0" r="6.75"/>
<circle class="j" cx="329.2" cy="486.3" r="6.75"/>
<circle class="j" cx="528.4" cy="347.9" r="6.75"/>
<circle class="j" cx="714.4" cy="1006.2" r="6.75"/>
<circle class="j" cx="979.2" cy="853.3" r="6.75"/>
<circle class="j" cx="416.2" cy="229.1" r="6.75"/>
<circle class="j" cx="377.6" cy="284.4" r="6.75"/>
<circle class="j" cx="254.3" cy="383.3" r="6.75"/>
<circle class="j" cx="741.5" cy="311.8" r="6.75"/>
<circle class="j" cx="610.7" cy="1007.1" r="6.75"/>
<circle class="j" cx="437.1" cy="224.0" r="6.75"/>
<circle class="j" cx="296.8" cy="420.7" r="6.75"/>
<circle class="j" cx="797.7" cy="753.5" r="6.75"/>
<circle class="j" cx="384.7" cy="399.0" r="6.75"/>
<circle class="j" cx="282.4" cy="401.7" r="6.75"/>
<circle class="j" cx="502.0" cy="963.9" r="6.75"/>
<circle class="j" cx="781.5" cy="313.3" r="6.75"/>
<circle class="j" cx="665.2" cy="991.9" r="6.75"/>
<circle class="j" cx="324.8" cy="409.7" r="6.75"/>
<circle class="j" cx="464.6" cy="329.6" r="6.75"/>
<circle class="j" cx="688.0" cy="389.0" r="6.75"/>
<circle class="j" cx="990.9" cy="812.8" r="6.75"/>
<circle class="j" cx="493.4" cy="376.2" r="6.75"/>
<circle class="j" cx="943.0" cy="812.8" r="6.75"/>
<circle class="j" cx="278.2" cy="411.7" r="6.75"/>
<circle class="j" cx="377.6" cy="458.8" r="6.75"/>
<circle class="j" cx="891.9" cy="683.8" r="6.75"/>
<circle class="j" cx="379.6" cy="821.7" r="6.75"/>
<circle class="j" cx="291.4" cy="500.4" r="6.75"/>
<circle class="j" cx="709.7" cy="383.6" r="6.75"/>
<circle class="j" cx="955.5" cy="840.9" r="6.75"/>
<circle class="j" cx="384.8" cy="357.6" r="6.75"/>
<circle class="j" cx="738.8" cy="1035.8" r="6.75"/>
<circle class="j" cx="949.8" cy="298.8" r="6.75"/>
<circle class="j" cx="435.0" cy="383.9" r="6.75"/>
<circle class="j" cx="551.5" cy="892.0" r="6.75"/>
<circle class="j" cx="898.2" cy="690.2" r="6.75"/>
<circle class="j" cx="380.8" cy="322.6" r="6.75"/>
<circle class="j" cx="393.0" cy="372.3" r="6.75"/>
<circle class="j" cx="642.9" cy="958.0" r="6.75"/>
<circle class="j" cx="508.2" cy="916.2" r="6.75"/>
<circle class="j" cx="809.9" cy="861.4" r="6.75"/>
<circle class="j" cx="305.5" cy="353.0" r="6.75"/>
<circle class="j" cx="354.0" cy="427.4" r="6.75"/>
<circle class="j" cx="344.7" cy="286.7" r="6.75"/>
<circle class="j" cx="421.6" cy="274.5" r="6.75"/>
<circle class="j" cx="756.2" cy="849.8" r="6.75"/>
<circle class="j" cx="795.6" cy="760.2" r="6.75"/>
<circle class="j" cx="529.3" cy="238.0" r="6.75"/>
<circle class="j" cx="389.6" cy="578.1" r="6.75"/>
<circle class="j" cx="402.4" cy="317.3" r="6.75"/>
<circle class="j" cx="640.1" cy="1078.8" r="6.75"/>
<circle class="j" cx="481.3" cy="352.6" r="6.75"/>
<circle class="j" cx="1004.3" cy="835.5" r="6.75"/>
<circle class="j" cx="830.5" cy="836.4" r="6.75"/>
<circle class="j" cx="349.4" cy="510.7" r="6.75"/>
<circle class="j" cx="1002.1" cy="795.3" r="6.75"/>
<circle class="j" cx="522.5" cy="267.0" r="6.75"/>
<circle class="j" cx="875.4" cy="380.5" r="6.75"/>
<circle class="j" cx="326.6" cy="450.0" r="6.75"/>
<circle class="j" cx="882.4" cy="656.4" r="6.75"/>
<circle class="j" cx="364.6" cy="546.1" r="6.75"/>
<circle class="j" cx="339.0" cy="442.8" r="6.75"/>
<circle class="j" cx="938.6" cy="678.4" r="6.75"/>
<circle class="j" cx="641.4" cy="256.5" r="6.75"/>
<circle class="j" cx="796.1" cy="427.3" r="6.75"/>
<circle class="j" cx="940.3" cy="831.9" r="6.75"/>
<circle class="j" cx="762.5" cy="1029.1" r="6.75"/>
<circle class="j" cx="472.9" cy="229.2" r="6.75"/>
<circle class="j" cx="737.4" cy="1015.6" r="6.75"/>
<circle class="j" cx="552.9" cy="202.5" r="6.75"/>
<circle class="j" cx="492.5" cy="241.8" r="6.75"/>
<circle class="j" cx="705.7" cy="350.4" r="6.75"/>
<circle class="j" cx="986.0" cy="783.4" r="6.75"/>
<circle class="j" cx="283.4" cy="409.4" r="6.75"/>
<circle class="j" cx="526.0" cy="991.6" r="6.75"/>
<circle class="j" cx="392.8" cy="809.0" r="6.75"/>
<circle class="j" cx="498.0" cy="359.5" r="6.75"/>
<circle class="j" cx="1065.8" cy="389.9" r="6.75"/>
<circle class="j" cx="923.6" cy="489.5" r="6.75"/>
<circle class="j" cx="564.1" cy="886.5" r="6.75"/>
<circle class="j" cx="533.6" cy="301.4" r="6.75"/>
<circle class="j" cx="330.8" cy="559.0" r="6.75"/>
<circle class="j" cx="372.2" cy="568.4" r="6.75"/>
<circle class="j" cx="943.6" cy="792.6" r="6.75"/>
<circle class="j" cx="621.0" cy="503.1" r="6.75"/>
<circle class="j" cx="668.8" cy="968.9" r="6.75"/>
<circle class="j" cx="442.6" cy="282.6" r="6.75"/>
<circle class="j" cx="328.3" cy="357.3" r="6.75"/>
<circle class="j" cx="529.1" cy="354.3" r="6.75"/>
<circle class="j" cx="408.0" cy="258.6" r="6.75"/>
<circle class="j" cx="351.2" cy="440.3" r="6.75"/>
<circle class="j" cx="312.4" cy="297.6" r="6.75"/>
<circle class="j" cx="888.6" cy="647.7" r="6.75"/>
<circle class="j" cx="610.0" cy="927.6" r="6.75"/>
<circle class="j" cx="371.8" cy="522.5" r="6.75"/>
<circle class="j" cx="665.0" cy="926.3" r="6.75"/>
<circle class="j" cx="349.5" cy="396.3" r="6.75"/>
<circle class="j" cx="291.3" cy="384.0" r="6.75"/>
<circle class="j" cx="496.2" cy="839.4" r="6.75"/>
<circle class="j" cx="571.9" cy="352.0" r="6.75"/>
<circle class="j" cx="459.4" cy="422.5" r="6.75"/>
<circle class="j" cx="986.1" cy="763.8" r="6.75"/>
<circle class="j" cx="646.9" cy="626.4" r="6.75"/>
<circle class="j" cx="706.2" cy="931.2" r="6.75"/>
<circle class="j" cx="927.0" cy="348.6" r="6.75"/>
<circle class="j" cx="638.2" cy="344.5" r="6.75"/>
<circle class="j" cx="323.7" cy="381.3" r="6.75"/>
<circle class="j" cx="692.5" cy="869.4" r="6.75"/>
<circle class="j" cx="521.9" cy="895.5" r="6.75"/>
<circle class="j" cx="402.8" cy="464.1" r="6.75"/>
<circle class="j" cx="532.4" cy="232.4" r="6.75"/>
<circle class="j" cx="369.7" cy="306.3" r="6.75"/>
<circle class="j" cx="623.6" cy="1009.6" r="6.75"/>
<circle class="j" cx="666.6" cy="943.6" r="6.75"/>
<circle class="j" cx="282.7" cy="447.0" r="6.75"/>
<circle class="j" cx="334.4" cy="309.1" r="6.75"/>
<circle class="j" cx="894.4" cy="669.8" r="6.75"/>
<circle class="j" cx="630.5" cy="985.0" r="6.75"/>
<circle class="j" cx="555.6" cy="1043.1" r="6.75"/>
<circle class="j" cx="760.3" cy="560.6" r="6.75"/>
<circle class="j" cx="235.3" cy="420.6" r="6.75"/>
<circle class="j" cx="536.3" cy="209.6" r="6.75"/>
<circle class="j" cx="335.4" cy="524.7" r="6.75"/>
<circle class="j" cx="498.8" cy="941.2" r="6.75"/>
<circle class="j" cx="330.5" cy="497.2" r="6.75"/>
<circle class="j" cx="375.3" cy="430.1" r="6.75"/>
<circle class="j" cx="351.7" cy="302.7" r="6.75"/>
<circle class="j" cx="572.8" cy="969.7" r="6.75"/>
<circle class="j" cx="887.7" cy="389.9" r="6.75"/>
<circle class="j" cx="667.9" cy="835.7" r="6.75"/>
<circle class="j" cx="546.2" cy="308.7" r="6.75"/>
<circle class="j" cx="473.3" cy="344.6" r="6.75"/>
<circle class="j" cx="831.8" cy="431.2" r="6.75"/>
<circle class="j" cx="464.7" cy="368.6" r="6.75"/>
<circle class="j" cx="703.7" cy="1006.6" r="6.75"/>
<circle class="j" cx="496.8" cy="892.1" r="6.75"/>
<circle class="j" cx="613.9" cy="977.3" r="6.75"/>
<circle class="j" cx="586.5" cy="310.2" r="6.75"/>
<circle class="j" cx="662.8" cy="376.8" r="6.75"/>
<circle class="j" cx="281.0" cy="328.5" r="6.75"/>
<circle class="j" cx="703.0" cy="806.0" r="6.75"/>
<circle class="j" cx="384.5" cy="363.6" r="6.75"/>
<circle class="j" cx="309.3" cy="392.7" r="6.75"/>
<circle class="j" cx="382.1" cy="267.2" r="6.75"/>
<circle class="j" cx="726.3" cy="1020.0" r="6.75"/>
<circle class="j" cx="686.9" cy="310.5" r="6.75"/>
<circle class="j" cx="749.6" cy="691.0" r="6.75"/>
<circle class="j" cx="373.7" cy="288.5" r="6.75"/>
<circle class="j" cx="794.5" cy="909.3" r="6.75"/>
<circle class="j" cx="355.4" cy="410.9" r="6.75"/>
<circle class="j" cx="976.2" cy="859.8" r="6.75"/>
<circle class="j" cx="440.3" cy="863.4" r="6.75"/>
<circle class="j" cx="401.9" cy="260.1" r="6.75"/>
<circle class="j" cx="490.6" cy="256.8" r="6.75"/>
<circle class="j" cx="331.1" cy="410.6" r="6.75"/>
<circle class="j" cx="524.3" cy="323.7" r="6.75"/>
<circle class="j" cx="253.2" cy="413.8" r="6.75"/>
<circle class="j" cx="219.1" cy="378.5" r="6.75"/>
<circle class="j" cx="918.3" cy="812.4" r="6.75"/>
<circle class="j" cx="481.0" cy="700.1" r="6.75"/>
<circle class="j" cx="785.2" cy="843.4" r="6.75"/>
<circle class="j" cx="652.1" cy="995.7" r="6.75"/>
<circle class="j" cx="502.0" cy="982.2" r="6.75"/>
<circle class="j" cx="592.2" cy="1029.4" r="6.75"/>
<circle class="j" cx="305.8" cy="370.6" r="6.75"/>
<circle class="j" cx="551.7" cy="306.0" r="6.75"/>
<circle class="j" cx="515.4" cy="366.7" r="6.75"/>
<circle class="j" cx="410.5" cy="434.7" r="6.75"/>
<circle class="j" cx="986.3" cy="808.2" r="6.75"/>
<circle class="j" cx="639.0" cy="974.1" r="6.75"/>
<circle class="j" cx="609.9" cy="948.4" r="6.75"/>
<circle class="j" cx="739.5" cy="627.8" r="6.75"/>
<circle class="j" cx="506.2" cy="297.3" r="6.75"/>
<circle class="j" cx="963.2" cy="322.0" r="6.75"/>
<circle class="j" cx="372.3" cy="333.1" r="6.75"/>
<circle class="j" cx="810.8" cy="903.0" r="6.75"/>
<circle class="j" cx="350.0" cy="341.8" r="6.75"/>
<circle class="j" cx="354.3" cy="296.4" r="6.75"/>
<circle class="j" cx="409.3" cy="350.5" r="6.75"/>
<circle class="j" cx="871.1" cy="665.1" r="6.75"/>
<circle class="j" cx="393.9" cy="548.6" r="6.75"/>
<circle class="j" cx="341.1" cy="450.9" r="6.75"/>
<circle class="j" cx="569.6" cy="315.4" r="6.75"/>
<circle class="j" cx="489.6" cy="884.3" r="6.75"/>
<circle class="j" cx="484.5" cy="897.9" r="6.75"/>
<circle class="j" cx="511.6" cy="376.3" r="6.75"/>
<circle class="j" cx="695.6" cy="227.5" r="6.75"/>
<circle class="j" cx="783.5" cy="502.8" r="6.75"/>
<circle class="j" cx="366.7" cy="499.2" r="6.75"/>
<circle class="j" cx="683.5" cy="275.1" r="6.75"/>
<circle class="j" cx="767.0" cy="669.9" r="6.75"/>
<circle class="j" cx="730.4" cy="219.5" r="6.75"/>
<circle class="j" cx="318.2" cy="377.6" r="6.75"/>
<circle class="j" cx="993.8" cy="822.0" r="6.75"/>
<circle class="j" cx="517.4" cy="923.0" r="6.75"/>
<circle class="j" cx="318.2" cy="521.1" r="6.75"/>
<circle class="j" cx="669.2" cy="1058.0" r="6.75"/>
<circle class="j" cx="399.8" cy="398.9" r="6.75"/>
<circle class="j" cx="940.7" cy="836.6" r="6.75"/>
<circle class="j" cx="483.2" cy="392.8" r="6.75"/>
<circle class="j" cx="962.6" cy="293.0" r="6.75"/>
<circle class="j" cx="877.0" cy="638.3" r="6.75"/>
<circle class="j" cx="402.9" cy="433.2" r="6.75"/>
<circle class="j" cx="391.6" cy="538.6" r="6.75"/>
<circle class="j" cx="214.9" cy="411.0" r="6.75"/>
<circle class="j" cx="460.6" cy="360.5" r="6.75"/>
<circle class="j" cx="300.7" cy="499.1" r="6.75"/>
<circle class="j" cx="398.6" cy="548.4" r="6.75"/>
<circle class="j" cx="733.1" cy="853.9" r="6.75"/>
<circle class="j" cx="807.4" cy="813.7" r="6.75"/>
<circle class="j" cx="963.0" cy="827.1" r="6.75"/>
<circle class="j" cx="400.6" cy="357.5" r="6.75"/>
<circle class="j" cx="550.9" cy="939.8" r="6.75"/>
<circle class="j" cx="697.7" cy="856.7" r="6.75"/>
<circle class="j" cx="781.4" cy="427.1" r="6.75"/>
<circle class="j" cx="504.5" cy="899.2" r="6.75"/>
<circle class="j" cx="529.7" cy="1001.8" r="6.75"/>
<circle class="j" cx="366.9" cy="272.4" r="6.75"/>
<circle class="j" cx="990.0" cy="857.9" r="6.75"/>
<circle class="j" cx="476.8" cy="235.1" r="6.75"/>
<circle class="j" cx="494.7" cy="896.7" r="6.75"/>
<circle class="j" cx="897.5" cy="320.6" r="6.75"/>
<circle class="j" cx="367.1" cy="410.8" r="6.75"/>
<circle class="j" cx="246.0" cy="410.3" r="6.75"/>
<circle class="k" cx="676.4" cy="723.3" r="6.75"/>
<circle class="k" cx="531.9" cy="976.6" r="6.75"/>
<circle class="k" cx="517.8" cy="287.8" r="6.75"/>
<circle class="k" cx="365.7" cy="405.2" r="6.75"/>
<circle class="k" cx="681.0" cy="1066.4" r="6.75"/>
<circle class="k" cx="818.8" cy="750.6" r="6.75"/>
<circle class="k" cx="450.5" cy="306.8" r="6.75"/>
<circle class="k" cx="536.2" cy="320.0" r="6.75"/>
<circle class="k" cx="964.8" cy="779.4" r="6.75"/>
<circle class="k" cx="304.4" cy="333.1" r="6.75"/>
<circle class="k" cx="319.2" cy="497.8" r="6.75"/>
<circle class="k" cx="881.2" cy="401.8" r="6.75"/>
<circle class="k" cx="399.7" cy="422.5" r="6.75"/>
<circle class="k" cx="349.8" cy="419.3" r="6.75"/>
<circle class="k" cx="451.0" cy="338.3" r="6.75"/>
<circle class="k" cx="658.9" cy="253.7" r="6.75"/>
<circle class="k" cx="917.6" cy="667.7" r="6.75"/>
<circle class="k" cx="662.9" cy="1003.8" r="6.75"/>
<circle class="k" cx="630.9" cy="1013.4" r="6.75"/>
<circle class="k" cx="352.4" cy="562.7" r="6.75"/>
<circle class="k" cx="321.9" cy="545.3" r="6.75"/>
<circle class="k" cx="883.1" cy="394.3" r="6.75"/>
<circle class="k" cx="497.1" cy="996.6" r="6.75"/>
<circle class="k" cx="699.8" cy="354.3" r="6.75"/>
<circle class="k" cx="673.6" cy="289.5" r="6.75"/>
<circle class="k" cx="951.6" cy="419.3" r="6.75"/>
<circle class="k" cx="948.5" cy="838.0" r="6.75"/>
<circle class="k" cx="429.4" cy="393.1" r="6.75"/>
<circle class="k" cx="410.8" cy="428.9" r="6.75"/>
<circle class="k" cx="913.4" cy="684.6" r="6.75"/>
<circle class="k" cx="526.2" cy="977.3" r="6.75"/>
<circle class="k" cx="562.6" cy="974.4" r="6.75"/>
<circle class="k" cx="302.9" cy="468.2" r="6.75"/>
<circle class="k" cx="394.0" cy="399.9" r="6.75"/>
<circle class="k" cx="393.0" cy="327.7" r="6.75"/>
<circle class="k" cx="514.7" cy="342.9" r="6.75"/>
<circle class="k" cx="525.5" cy="958.1" r="6.75"/>
<circle class="k" cx="1011.4" cy="270.4" r="6.75"/>
<circle class="k" cx="574.0" cy="1058.3" r="6.75"/>
<circle class="k" cx="482.1" cy="358.6" r="6.75"/>
<circle class="k" cx="477.7" cy="309.8" r="6.75"/>
<circle class="k" cx="776.8" cy="412.2" r="6.75"/>
<circle class="k" cx="418.2" cy="421.6" r="6.75"/>
<circle class="k" cx="420.1" cy="393.2" r="6.75"/>
<circle class="k" cx="421.9" cy="415.6" r="6.75"/>
<circle class="k" cx="505.1" cy="949.4" r="6.75"/>
<circle class="k" cx="359.0" cy="538.6" r="6.75"/>
<circle class="k" cx="311.3" cy="461.5" r="6.75"/>
<circle class="k" cx="388.8" cy="412.5" r="6.75"/>
<circle class="k" cx="597.0" cy="971.2" r="6.75"/>
<circle class="k" cx="548.2" cy="934.9" r="6.75"/>
<circle class="k" cx="504.3" cy="920.0" r="6.75"/>
<circle class="k" cx="939.1" cy="314.9" r="6.75"/>
<circle class="k" cx="690.7" cy="287.8" r="6.75"/>
<circle class="k" cx="718.9" cy="887.1" r="6.75"/>
<circle class="k" cx="440.8" cy="384.3" r="6.75"/>
<circle class="k" cx="430.8" cy="329.5" r="6.75"/>
<circle class="k" cx="725.0" cy="277.6" r="6.75"/>
<circle class="k" cx="774.2" cy="870.8" r="6.75"/>
<circle class="k" cx="313.8" cy="362.8" r="6.75"/>
<circle class="k" cx="947.5" cy="797.1" r="6.75"/>
<circle class="k" cx="731.5" cy="858.5" r="6.75"/>
<circle class="k" cx="401.7" cy="346.5" r="6.75"/>
<circle class="k" cx="750.7" cy="1020.5" r="6.75"/>
<circle class="k" cx="372.5" cy="483.8" r="6.75"/>
<circle class="k" cx="311.1" cy="277.5" r="6.75"/>
<circle class="k" cx="347.7" cy="435.7" r="6.75"/>
<circle class="k" cx="615.9" cy="1025.9" r="6.75"/>
<circle class="k" cx="244.8" cy="320.5" r="6.75"/>
<circle class="k" cx="731.0" cy="753.4" r="6.75"/>
<circle class="k" cx="404.9" cy="407.7" r="6.75"/>
<circle class="k" cx="968.7" cy="664.1" r="6.75"/>
<circle class="k" cx="496.1" cy="338.2" r="6.75"/>
<circle class="k" cx="401.4" cy="542.1" r="6.75"/>
<circle class="k" cx="689.7" cy="278.0" r="6.75"/>
<circle class="k" cx="512.1" cy="952.0" r="6.75"/>
<circle class="k" cx="497.9" cy="343.2" r="6.75"/>
<circle class="k" cx="457.9" cy="346.3" r="6.75"/>
<circle class="k" cx="416.3" cy="434.8" r="6.75"/>
<circle class="k" cx="325.1" cy="462.1" r="6.75"/>
<circle class="k" cx="580.2" cy="314.7" r="6.75"/>
<circle class="k" cx="330.4" cy="574.8" r="6.75"/>
<circle class="k" cx="502.6" cy="995.8" r="6.75"/>
<circle class="k" cx="320.1" cy="442.3" r="6.75"/>
<circle class="k" cx="527.1" cy="904.4" r="6.75"/>
<circle class="k" cx="975.0" cy="791.9" r="6.75"/>
<circle class="k" cx="476.1" cy="291.4" r="6.75"/>
<circle class="k" cx="532.2" cy="901.0" r="6.75"/>
<circle class="k" cx="361.3" cy="477.4" r="6.75"/>
<circle class="k" cx="246.6" cy="385.5" r="6.75"/>
<circle class="k" cx="359.9" cy="401.1" r="6.75"/>
<circle class="k" cx="544.7" cy="302.9" r="6.75"/>
<circle class="k" cx="525.8" cy="929.1" r="6.75"/>
<circle class="k" cx="739.1" cy="753.6" r="6.75"/>
<circle class="k" cx="744.2" cy="506.0" r="6.75"/>
<circle class="k" cx="683.3" cy="268.1" r="6.75"/>
<circle class="k" cx="314.6" cy="475.8" r="6.75"/>
<circle class="k" cx="334.8" cy="552.1" r="6.75"/>
<circle class="k" cx="717.8" cy="1011.3" r="6.75"/>
<circle class="k" cx="460.9" cy="291.9" r="6.75"/>
<circle class="k" cx="778.0" cy="529.9" r="6.75"/>
<circle class="k" cx="893.5" cy="645.6" r="6.75"/>
<circle class="k" cx="604.7" cy="1016.1" r="6.75"/>
<circle class="k" cx="924.1" cy="515.5" r="6.75"/>
<circle class="k" cx="642.7" cy="977.0" r="6.75"/>
<circle class="k" cx="579.3" cy="893.2" r="6.75"/>
<circle class="k" cx="328.1" cy="426.7" r="6.75"/>
<circle class="k" cx="426.5" cy="247.2" r="6.75"/>
<circle class="k" cx="444.1" cy="330.2" r="6.75"/>
<circle class="k" cx="282.4" cy="384.8" r="6.75"/>
<circle class="k" cx="541.8" cy="770.9" r="6.75"/>
<circle class="k" cx="699.7" cy="399.3" r="6.75"/>
<circle class="k" cx="673.2" cy="253.0" r="6.75"/>
<circle class="k" cx="333.0" cy="803.4" r="6.75"/>
<circle class="k" cx="924.0" cy="815.1" r="6.75"/>
<circle class="k" cx="403.5" cy="395.2" r="6.75"/>
<circle class="k" cx="837.8" cy="824.1" r="6.75"/>
<circle class="k" cx="797.2" cy="861.5" r="6.75"/>
<circle class="k" cx="762.8" cy="509.1" r="6.75"/>
<circle class="k" cx="486.2" cy="929.7" r="6.75"/>
<circle class="k" cx="584.9" cy="892.8" r="6.75"/>
<circle class="k" cx="499.9" cy="439.4" r="6.75"/>
<circle class="k" cx="622.5" cy="365.1" r="6.75"/>
<circle class="k" cx="1057.5" cy="502.0" r="6.75"/>
<circle class="k" cx="578.2" cy="371.1" r="6.75"/>
<circle class="k" cx="508.2" cy="844.2" r="6.75"/>
<circle class="k" cx="750.4" cy="230.9" r="6.75"/>
<circle class="k" cx="943.9" cy="658.1" r="6.75"/>
<circle class="k" cx="572.2" cy="305.3" r="6.75"/>
<circle class="k" cx="710.8" cy="309.6" r="6.75"/>
<circle class="k" cx="678.9" cy="825.0" r="6.75"/>
<circle class="k" cx="809.1" cy="973.1" r="6.75"/>
<circle class="k" cx="889.5" cy="635.7" r="6.75"/>
<circle class="k" cx="658.5" cy="982.1" r="6.75"/>
<circle class="k" cx="896.4" cy="637.2" r="6.75"/>
<circle class="k" cx="329.7" cy="255.0" r="6.75"/>
<circle class="k" cx="744.3" cy="235.3" r="6.75"/>
<circle class="k" cx="806.5" cy="956.9" r="6.75"/>
<circle class="k" cx="342.4" cy="363.1" r="6.75"/>
<circle class="k" cx="689.4" cy="224.3" r="6.75"/>
<circle class="k" cx="674.9" cy="1040.5" r="6.75"/>
<circle class="k" cx="593.8" cy="844.5" r="6.75"/>
<circle class="k" cx="240.0" cy="394.8" r="6.75"/>
<circle class="k" cx="470.7" cy="245.1" r="6.75"/>
<circle class="k" cx="981.4" cy="811.7" r="6.75"/>
<circle class="k" cx="723.2" cy="826.1" r="6.75"/>
<circle class="k" cx="432.1" cy="287.7" r="6.75"/>
<circle class="k" cx="534.2" cy="961.7" r="6.75"/>
<circle class="k" cx="664.5" cy="270.1" r="6.75"/>
<circle class="k" cx="660.0" cy="991.0" r="6.75"/>
<circle class="k" cx="740.7" cy="277.3" r="6.75"/>
<circle class="k" cx="296.5" cy="505.5" r="6.75"/>
<circle class="k" cx="1018.9" cy="810.4" r="6.75"/>
<circle class="k" cx="388.6" cy="457.5" r="6.75"/>
<circle class="k" cx="617.5" cy="1044.3" r="6.75"/>
<circle class="k" cx="737.6" cy="857.2" r="6.75"/>
<circle class="k" cx="713.8" cy="260.2" r="6.75"/>
<circle class="k" cx="660.9" cy="1028.9" r="6.75"/>
<circle class="k" cx="335.2" cy="531.6" r="6.75"/>
<circle class="k" cx="496.7" cy="318.9" r="6.75"/>
<circle class="k" cx="358.5" cy="249.3" r="6.75"/>
<circle class="k" cx="532.1" cy="928.1" r="6.75"/>
<circle class="k" cx="339.6" cy="376.9" r="6.75"/>
<circle class="k" cx="660.9" cy="1039.0" r="6.75"/>
<circle class="k" cx="613.0" cy="1077.6" r="6.75"/>
<circle class="k" cx="571.5" cy="280.2" r="6.75"/>
<circle class="k" cx="476.8" cy="338.9" r="6.75"/>
<circle class="k" cx="314.3" cy="480.7" r="6.75"/>
<circle class="k" cx="571.4" cy="983.2" r="6.75"/>
<circle class="k" cx="230.5" cy="420.7" r="6.75"/>
<circle class="k" cx="298.3" cy="432.3" r="6.75"/>
<circle class="k" cx="569.3" cy="1009.7" r="6.75"/>
<circle class="k" cx="404.6" cy="795.0" r="6.75"/>
<circle class="k" cx="425.2" cy="235.6" r="6.75"/>
<circle class="k" cx="664.9" cy="372.2" r="6.75"/>
<circle class="k" cx="950.5" cy="815.6" r="6.75"/>
<circle class="k" cx="739.1" cy="252.3" r="6.75"/>
<circle class="k" cx="343.5" cy="445.1" r="6.75"/>
<circle class="k" cx="315.2" cy="545.0" r="6.75"/>
<circle class="k" cx="285.3" cy="357.4" r="6.75"/>
<circle class="k" cx="683.9" cy="1046.0" r="6.75"/>
<circle class="k" cx="722.8" cy="855.4" r="6.75"/>
<circle class="k" cx="642.6" cy="994.8" r="6.75"/>
<circle class="k" cx="506.7" cy="882.1" r="6.75"/>
<circle class="k" cx="799.5" cy="918.7" r="6.75"/>
<circle class="k" cx="714.8" cy="823.7" r="6.75"/>
<circle class="k" cx="355.7" cy="480.2" r="6.75"/>
<circle class="k" cx="333.4" cy="368.5" r="6.75"/>
<circle class="k" cx="730.8" cy="864.4" r="6.75"/>
<circle class="k" cx="780.4" cy="286.0" r="6.75"/>
<circle class="k" cx="321.1" cy="507.6" r="6.75"/>
<circle class="k" cx="547.8" cy="372.4" r="6.75"/>
<circle class="k" cx="807.8" cy="885.6" r="6.75"/>
<circle class="k" cx="358.0" cy="529.7" r="6.75"/>
<circle class="k" cx="426.0" cy="327.8" r="6.75"/>
<circle class="k" cx="804.2" cy="969.0" r="6.75"/>
<circle class="k" cx="291.2" cy="474.1" r="6.75"/>
<circle class="k" cx="978.1" cy="799.5" r="6.75"/>
<circle class="k" cx="385.8" cy="271.7" r="6.75"/>
<circle class="k" cx="944.8" cy="669.5" r="6.75"/>
<circle class="k" cx="546.0" cy="947.8" r="6.75"/>
<circle class="k" cx="339.5" cy="411.2" r="6.75"/>
<circle class="k" cx="296.5" cy="412.2" r="6.75"/>
<circle class="k" cx="524.3" cy="1037.2" r="6.75"/>
<circle class="k" cx="435.9" cy="292.3" r="6.75"/>
<circle class="k" cx="712.7" cy="1030.2" r="6.75"/>
<circle class="k" cx="293.9" cy="334.3" r="6.75"/>
<circle class="k" cx="532.4" cy="919.9" r="6.75"/>
<circle class="k" cx="400.1" cy="237.9" r="6.75"/>
<circle class="k" cx="915.6" cy="798.4" r="6.75"/>
<circle class="k" cx="612.0" cy="913.7" r="6.75"/>
<circle class="k" cx="357.7" cy="570.5" r="6.75"/>
<circle class="k" cx="1066.0" cy="356.0" r="6.75"/>
<circle class="k" cx="557.5" cy="1047.3" r="6.75"/>
<circle class="k" cx="539.6" cy="959.9" r="6.75"/>
<circle class="k" cx="391.1" cy="575.2" r="6.75"/>
<circle class="k" cx="487.0" cy="367.4" r="6.75"/>
<circle class="k" cx="618.4" cy="955.0" r="6.75"/>
<circle class="k" cx="504.9" cy="703.6" r="6.75"/>
<circle class="k" cx="738.4" cy="844.3" r="6.75"/>
<circle class="k" cx="505.4" cy="469.6" r="6.75"/>
<circle class="k" cx="214.5" cy="422.8" r="6.75"/>
<circle class="k" cx="756.5" cy="505.7" r="6.75"/>
<circle class="k" cx="694.9" cy="999.0" r="6.75"/>
<circle class="k" cx="552.2" cy="876.2" r="6.75"/>
<circle class="k" cx="372.8" cy="542.5" r="6.75"/>
<circle class="k" cx="326.7" cy="293.5" r="6.75"/>
<circle class="k" cx="288.9" cy="332.8" r="6.75"/>
<circle class="k" cx="368.4" cy="398.6" r="6.75"/>
<circle class="k" cx="543.7" cy="939.9" r="6.75"/>
<circle class="k" cx="905.0" cy="799.4" r="6.75"/>
<circle class="k" cx="978.3" cy="644.3" r="6.75"/>
<circle class="k" cx="936.5" cy="674.1" r="6.75"/>
<circle class="k" cx="371.8" cy="492.9" r="6.75"/>
<circle class="k" cx="939.8" cy="665.5" r="6.75"/>
<circle class="k" cx="293.8" cy="376.0" r="6.75"/>
<circle class="k" cx="568.2" cy="300.5" r="6.75"/>
<circle class="k" cx="718.6" cy="881.9" r="6.75"/>
<circle class="k" cx="279.9" cy="415.0" r="6.75"/>
<circle class="k" cx="364.4" cy="315.1" r="6.75"/>
<circle class="k" cx="816.3" cy="760.7" r="6.75"/>
<circle class="k" cx="269.7" cy="400.5" r="6.75"/>
<circle class="k" cx="553.9" cy="961.6" r="6.75"/>
<circle class="k" cx="863.3" cy="875.8" r="6.75"/>
<circle class="k" cx="516.0" cy="348.3" r="6.75"/>
<circle class="k" cx="328.8" cy="303.5" r="6.75"/>
<circle class="k" cx="363.0" cy="420.1" r="6.75"/>
<circle class="k" cx="273.1" cy="389.4" r="6.75"/>
<circle class="k" cx="292.6" cy="354.4" r="6.75"/>
<circle class="k" cx="731.7" cy="281.6" r="6.75"/>
<circle class="k" cx="980.1" cy="793.6" r="6.75"/>
<circle class="k" cx="413.8" cy="450.4" r="6.75"/>
<circle class="k" cx="716.6" cy="1026.4" r="6.75"/>
<circle class="k" cx="788.4" cy="753.9" r="6.75"/>
<circle class="k" cx="337.6" cy="317.9" r="6.75"/>
<circle class="k" cx="730.4" cy="777.9" r="6.75"/>
<circle class="k" cx="415.6" cy="254.2" r="6.75"/>
<circle class="k" cx="720.0" cy="273.0" r="6.75"/>
<circle class="k" cx="794.7" cy="900.8" r="6.75"/>
<circle class="k" cx="466.1" cy="392.6" r="6.75"/>
<circle class="k" cx="495.1" cy="283.9" r="6.75"/>
<circle class="k" cx="313.6" cy="470.5" r="6.75"/>
<circle class="k" cx="729.6" cy="309.0" r="6.75"/>
<circle class="k" cx="346.8" cy="515.0" r="6.75"/>
<circle class="k" cx="331.6" cy="507.6" r="6.75"/>
<circle class="k" cx="423.5" cy="269.0" r="6.75"/>
<circle class="k" cx="381.9" cy="556.7" r="6.75"/>
<circle class="k" cx="304.6" cy="287.9" r="6.75"/>
<circle class="k" cx="244.3" cy="378.6" r="6.75"/>
<circle class="k" cx="511.3" cy="216.7" r="6.75"/>
<circle class="k" cx="696.5" cy="889.5" r="6.75"/>
<circle class="k" cx="549.4" cy="811.6" r="6.75"/>
<circle class="k" cx="582.1" cy="256.1" r="6.75"/>
<circle class="k" cx="368.8" cy="811.2" r="6.75"/>
<circle class="k" cx="423.7" cy="220.2" r="6.75"/>
<circle class="k" cx="967.1" cy="683.2" r="6.75"/>
<circle class="k" cx="717.6" cy="234.8" r="6.75"/>
<circle class="k" cx="703.4" cy="654.0" r="6.75"/>
<circle class="k" cx="789.4" cy="912.7" r="6.75"/>
<circle class="k" cx="806.1" cy="896.3" r="6.75"/>
<circle class="k" cx="314.7" cy="503.8" r="6.75"/>
<circle class="k" cx="785.0" cy="895.9" r="6.75"/>
<circle class="k" cx="219.9" cy="455.1" r="6.75"/>
<circle class="k" cx="813.9" cy="925.7" r="6.75"/>
<circle class="k" cx="796.8" cy="891.7" r="6.75"/>
<circle class="k" cx="562.0" cy="899.5" r="6.75"/>
<circle class="k" cx="966.4" cy="659.6" r="6.75"/>
<circle class="k" cx="368.3" cy="426.1" r="6.75"/>
<circle class="k" cx="517.1" cy="959.4" r="6.75"/>
<circle class="k" cx="1019.1" cy="801.4" r="6.75"/>
<circle class="k" cx="593.4" cy="897.5" r="6.75"/>
<circle class="k" cx="558.9" cy="190.6" r="6.75"/>
<circle class="k" cx="582.4" cy="898.7" r="6.75"/>
<circle class="k" cx="386.9" cy="446.5" r="6.75"/>
<circle class="k" cx="809.5" cy="300.8" r="6.75"/>
<circle class="k" cx="319.1" cy="515.0" r="6.75"/>
<circle class="k" cx="971.4" cy="678.8" r="6.75"/>
<circle class="k" cx="736.8" cy="286.6" r="6.75"/>
<circle class="k" cx="722.1" cy="268.5" r="6.75"/>
<circle class="k" cx="915.3" cy="433.5" r="6.75"/>
<circle class="k" cx="592.7" cy="1038.9" r="6.75"/>
<circle class="k" cx="270.8" cy="350.4" r="6.75"/>
<circle class="k" cx="615.6" cy="940.8" r="6.75"/>
<circle class="k" cx="671.6" cy="389.5" r="6.75"/>
<circle class="k" cx="554.4" cy="987.6" r="6.75"/>
<circle class="k" cx="430.5" cy="387.4" r="6.75"/>
<circle class="k" cx="876.3" cy="670.4" r="6.75"/>
<circle class="k" cx="983.9" cy="669.9" r="6.75"/>
<circle class="k" cx="930.5" cy="674.3" r="6.75"/>
<circle class="k" cx="350.9" cy="572.5" r="6.75"/>
<circle class="k" cx="802.6" cy="758.0" r="6.75"/>
<circle class="k" cx="510.6" cy="708.0" r="6.75"/>
<circle class="k" cx="903.1" cy="317.4" r="6.75"/>
<circle class="l" cx="875.0" cy="878.4" r="6.75"/>
<circle class="l" cx="336.5" cy="417.8" r="6.75"/>
<circle class="l" cx="685.3" cy="640.4" r="6.75"/>
<circle class="l" cx="751.2" cy="686.2" r="6.75"/>
<circle class="l" cx="1069.1" cy="397.6" r="6.75"/>
<circle class="l" cx="584.4" cy="246.2" r="6.75"/>
<circle class="l" cx="923.0" cy="644.1" r="6.75"/>
<circle class="l" cx="720.7" cy="292.7" r="6.75"/>
<circle class="l" cx="647.7" cy="287.3" r="6.75"/>
<circle class="l" cx="579.3" cy="238.2" r="6.75"/>
<circle class="l" cx="813.5" cy="931.8" r="6.75"/>
<circle class="l" cx="390.0" cy="268.2" r="6.75"/>
<circle class="l" cx="826.4" cy="959.7" r="6.75"/>
<circle class="l" cx="296.1" cy="496.6" r="6.75"/>
<circle class="l" cx="341.1" cy="473.0" r="6.75"/>
<circle class="l" cx="641.6" cy="1059.8" r="6.75"/>
<circle class="l" cx="505.5" cy="959.1" r="6.75"/>
<circle class="l" cx="313.1" cy="381.8" r="6.75"/>
<circle class="l" cx="314.7" cy="346.0" r="6.75"/>
<circle class="l" cx="456.5" cy="226.4" r="6.75"/>
<circle class="l" cx="700.0" cy="777.1" r="6.75"/>
<circle class="l" cx="257.3" cy="333.6" r="6.75"/>
<circle class="l" cx="555.1" cy="950.7" r="6.75"/>
<circle class="l" cx="971.6" cy="806.9" r="6.75"/>
<circle class="l" cx="1061.8" cy="400.2" r="6.75"/>
<circle class="l" cx="325.4" cy="287.8" r="6.75"/>
<circle class="l" cx="541.5" cy="966.7" r="6.75"/>
<circle class="l" cx="523.3" cy="982.2" r="6.75"/>
<circle class="l" cx="853.1" cy="456.2" r="6.75"/>
<circle class="l" cx="942.0" cy="352.0" r="6.75"/>
<circle class="l" cx="862.5" cy="279.2" r="6.75"/>
<circle class="l" cx="390.1" cy="963.1" r="6.75"/>
<circle class="l" cx="721.4" cy="994.4" r="6.75"/>
<circle class="l" cx="504.4" cy="430.0" r="6.75"/>
<circle class="l" cx="531.2" cy="380.0" r="6.75"/>
<circle class="l" cx="663.8" cy="471.9" r="6.75"/>
<circle class="l" cx="273.2" cy="342.8" r="6.75"/>
<circle class="l" cx="636.1" cy="1013.0" r="6.75"/>
<circle class="l" cx="430.9" cy="274.5" r="6.75"/>
<circle class="l" cx="773.0" cy="882.0" r="6.75"/>
<circle class="l" cx="372.5" cy="439.7" r="6.75"/>
<circle class="l" cx="290.3" cy="426.6" r="6.75"/>
<circle class="l" cx="438.2" cy="805.8" r="6.75"/>
<circle class="l" cx="491.9" cy="371.7" r="6.75"/>
<circle class="l" cx="375.4" cy="348.3" r="6.75"/>
<circle class="l" cx="676.1" cy="226.2" r="6.75"/>
<circle class="l" cx="364.2" cy="459.7" r="6.75"/>
<circle class="l" cx="539.8" cy="899.8" r="6.75"/>
<circle class="l" cx="470.6" cy="331.7" r="6.75"/>
<circle class="l" cx="350.9" cy="551.7" r="6.75"/>
<circle class="l" cx="629.4" cy="251.3" r="6.75"/>
<circle class="l" cx="361.9" cy="334.8" r="6.75"/>
<circle class="l" cx="834.4" cy="840.0" r="6.75"/>
<circle class="l" cx="804.1" cy="865.2" r="6.75"/>
<circle class="l" cx="815.9" cy="951.3" r="6.75"/>
<circle class="l" cx="733.6" cy="1047.7" r="6.75"/>
<circle class="l" cx="758.5" cy="550.1" r="6.75"/>
<circle class="l" cx="369.3" cy="417.2" r="6.75"/>
<circle class="l" cx="362.4" cy="808.0" r="6.75"/>
<circle class="l" cx="874.6" cy="857.2" r="6.75"/>
<circle class="l" cx="691.0" cy="1021.7" r="6.75"/>
<circle class="l" cx="543.9" cy="906.8" r="6.75"/>
<circle class="l" cx="348.2" cy="413.8" r="6.75"/>
<circle class="l" cx="447.3" cy="282.5" r="6.75"/>
<circle class="l" cx="482.4" cy="308.8" r="6.75"/>
<circle class="l" cx="594.5" cy="252.6" r="6.75"/>
<circle class="l" cx="273.2" cy="415.0" r="6.75"/>
<circle class="l" cx="721.3" cy="830.4" r="6.75"/>
<circle class="l" cx="572.1" cy="885.2" r="6.75"/>
<circle class="l" cx="365.6" cy="437.8" r="6.75"/>
<circle class="l" cx="719.2" cy="279.3" r="6.75"/>
<circle class="l" cx="383.9" cy="456.5" r="6.75"/>
<circle class="l" cx="669.8" cy="766.0" r="6.75"/>
<circle class="l" cx="766.2" cy="266.8" r="6.75"/>
<circle class="l" cx="430.3" cy="226.1" r="6.75"/>
<circle class="l" cx="465.0" cy="242.2" r="6.75"/>
<circle class="l" cx="572.2" cy="963.5" r="6.75"/>
<circle class="l" cx="437.1" cy="303.5" r="6.75"/>
<circle class="l" cx="398.5" cy="417.6" r="6.75"/>
<circle class="l" cx="788.1" cy="424.2" r="6.75"/>
<circle class="l" cx="880.1" cy="665.8" r="6.75"/>
<circle class="l" cx="339.0" cy="406.5" r="6.75"/>
<circle class="l" cx="538.0" cy="353.7" r="6.75"/>
<circle class="l" cx="755.3" cy="553.7" r="6.75"/>
<circle class="l" cx="499.6" cy="927.2" r="6.75"/>
<circle class="l" cx="717.9" cy="863.9" r="6.75"/>
<circle class="l" cx="586.6" cy="1038.5" r="6.75"/>
<circle class="l" cx="793.2" cy="927.8" r="6.75"/>
<circle class="l" cx="748.9" cy="542.4" r="6.75"/>
<circle class="l" cx="701.4" cy="1052.0" r="6.75"/>
<circle class="l" cx="394.8" cy="335.1" r="6.75"/>
<circle class="l" cx="725.3" cy="706.6" r="6.75"/>
<circle class="l" cx="976.4" cy="823.7" r="6.75"/>
<circle class="l" cx="373.1" cy="370.9" r="6.75"/>
<circle class="l" cx="1020.8" cy="806.0" r="6.75"/>
<circle class="l" cx="704.4" cy="1027.3" r="6.75"/>
<circle class="l" cx="790.4" cy="946.6" r="6.75"/>
<circle class="l" cx="513.5" cy="931.0" r="6.75"/>
<circle class="l" cx="214.3" cy="390.0" r="6.75"/>
<circle class="l" cx="906.0" cy="824.0" r="6.75"/>
<circle class="l" cx="754.1" cy="726.7" r="6.75"/>
<circle class="l" cx="627.2" cy="954.0" r="6.75"/>
<circle class="l" cx="680.3" cy="741.9" r="6.75"/>
<circle class="l" cx="710.2" cy="738.5" r="6.75"/>
<circle class="l" cx="519.1" cy="778.2" r="6.75"/>
<circle class="l" cx="479.2" cy="923.7" r="6.75"/>
<circle class="l" cx="688.6" cy="851.1" r="6.75"/>
<circle class="l" cx="740.0" cy="1029.9" r="6.75"/>
<circle class="l" cx="402.9" cy="413.4" r="6.75"/>
<circle class="l" cx="543.9" cy="972.5" r="6.75"/>
<circle class="l" cx="577.7" cy="265.8" r="6.75"/>
<circle class="l" cx="508.1" cy="308.0" r="6.75"/>
<circle class="l" cx="387.3" cy="369.5" r="6.75"/>
<circle class="l" cx="385.5" cy="288.4" r="6.75"/>
<circle class="l" cx="965.9" cy="311.8" r="6.75"/>
<circle class="l" cx="906.1" cy="488.4" r="6.75"/>
<circle class="l" cx="714.3" cy="888.1" r="6.75"/>
<circle class="l" cx="666.9" cy="313.6" r="6.75"/>
<circle class="l" cx="517.3" cy="983.3" r="6.75"/>
<circle class="l" cx="684.9" cy="955.9" r="6.75"/>
<circle class="l" cx="588.7" cy="896.3" r="6.75"/>
<circle class="l" cx="766.7" cy="256.5" r="6.75"/>
<circle class="l" cx="594.9" cy="404.5" r="6.75"/>
<circle class="l" cx="978.4" cy="655.9" r="6.75"/>
<circle class="l" cx="710.0" cy="1003.0" r="6.75"/>
<circle class="l" cx="691.2" cy="400.0" r="6.75"/>
<circle class="l" cx="983.2" cy="653.1" r="6.75"/>
<circle class="l" cx="857.4" cy="423.0" r="6.75"/>
<circle class="l" cx="361.5" cy="500.0" r="6.75"/>
<circle class="l" cx="523.5" cy="369.7" r="6.75"/>
<circle class="l" cx="781.3" cy="535.1" r="6.75"/>
<circle class="l" cx="1010.6" cy="782.7" r="6.75"/>
<circle class="l" cx="654.6" cy="959.1" r="6.75"/>
<circle class="l" cx="959.1" cy="285.1" r="6.75"/>
<circle class="l" cx="985.8" cy="297.2" r="6.75"/>
<circle class="l" cx="706.7" cy="287.8" r="6.75"/>
<circle class="l" cx="419.9" cy="340.5" r="6.75"/>
<circle class="l" cx="698.2" cy="835.7" r="6.75"/>
<circle class="l" cx="477.6" cy="893.4" r="6.75"/>
<circle class="l" cx="296.1" cy="385.2" r="6.75"/>
<circle class="l" cx="491.8" cy="949.4" r="6.75"/>
<circle class="l" cx="347.6" cy="251.5" r="6.75"/>
<circle class="l" cx="783.4" cy="908.6" r="6.75"/>
<circle class="l" cx="533.2" cy="908.2" r="6.75"/>
<circle class="l" cx="720.6" cy="325.2" r="6.75"/>
<circle class="l" cx="326.6" cy="481.5" r="6.75"/>
<circle class="l" cx="640.7" cy="923.6" r="6.75"/>
<circle class="l" cx="676.3" cy="373.4" r="6.75"/>
<circle class="l" cx="339.8" cy="485.9" r="6.75"/>
<circle class="l" cx="951.1" cy="284.5" r="6.75"/>
<circle class="l" cx="424.8" cy="543.8" r="6.75"/>
<circle class="l" cx="583.0" cy="952.5" r="6.75"/>
<circle class="l" cx="230.4" cy="409.0" r="6.75"/>
<circle class="l" cx="714.3" cy="1044.1" r="6.75"/>
<circle class="l" cx="685.4" cy="299.9" r="6.75"/>
<circle class="l" cx="562.0" cy="226.5" r="6.75"/>
<circle class="l" cx="585.5" cy="1047.3" r="6.75"/>
<circle class="l" cx="826.6" cy="932.8" r="6.75"/>
<circle class="l" cx="776.3" cy="866.7" r="6.75"/>
<circle class="l" cx="312.0" cy="314.5" r="6.75"/>
<circle class="l" cx="401.7" cy="534.3" r="6.75"/>
<circle class="l" cx="307.3" cy="438.3" r="6.75"/>
<circle class="l" cx="617.7" cy="809.6" r="6.75"/>
<circle class="l" cx="527.7" cy="198.4" r="6.75"/>
<circle class="l" cx="385.7" cy="559.9" r="6.75"/>
<circle class="l" cx="305.7" cy="383.4" r="6.75"/>
<circle class="l" cx="372.3" cy="352.6" r="6.75"/>
<circle class="l" cx="683.4" cy="997.3" r="6.75"/>
<circle class="l" cx="605.1" cy="762.6" r="6.75"/>
<circle class="l" cx="471.4" cy="310.9" r="6.75"/>
<circle class="l" cx="389.0" cy="567.9" r="6.75"/>
<circle class="l" cx="558.7" cy="886.6" r="6.75"/>
<circle class="l" cx="235.7" cy="382.1" r="6.75"/>
<circle class="l" cx="952.0" cy="426.1" r="6.75"/>
<circle class="l" cx="350.1" cy="404.7" r="6.75"/>
<circle class="l" cx="209.4" cy="424.3" r="6.75"/>
<circle class="l" cx="579.5" cy="982.2" r="6.75"/>
<circle class="l" cx="358.8" cy="443.6" r="6.75"/>
<circle class="l" cx="587.3" cy="902.3" r="6.75"/>
<circle class="l" cx="598.0" cy="1075.8" r="6.75"/>
<circle class="l" cx="945.7" cy="416.4" r="6.75"/>
<circle class="l" cx="561.7" cy="937.4" r="6.75"/>
<circle class="l" cx="532.0" cy="890.2" r="6.75"/>
<circle class="l" cx="609.1" cy="917.5" r="6.75"/>
<circle class="l" cx="554.7" cy="974.6" r="6.75"/>
<circle class="l" cx="528.5" cy="337.1" r="6.75"/>
<circle class="l" cx="616.4" cy="1070.8" r="6.75"/>
<circle class="l" cx="717.4" cy="646.6" r="6.75"/>
<circle class="l" cx="681.7" cy="1041.5" r="6.75"/>
<circle class="l" cx="636.7" cy="960.0" r="6.75"/>
<circle class="l" cx="758.2" cy="233.3" r="6.75"/>
<circle class="l" cx="570.8" cy="216.4" r="6.75"/>
<circle class="l" cx="1070.7" cy="360.1" r="6.75"/>
<circle class="l" cx="840.6" cy="932.1" r="6.75"/>
<circle class="l" cx="803.7" cy="286.1" r="6.75"/>
<circle class="l" cx="814.4" cy="278.8" r="6.75"/>
<circle class="l" cx="699.9" cy="821.6" r="6.75"/>
<circle class="l" cx="494.9" cy="697.5" r="6.75"/>
<circle class="l" cx="630.3" cy="802.4" r="6.75"/>
<circle class="l" cx="719.3" cy="804.7" r="6.75"/>
<circle class="l" cx="417.8" cy="378.4" r="6.75"/>
<circle class="l" cx="702.5" cy="306.5" r="6.75"/>
<circle class="l" cx="639.4" cy="778.5" r="6.75"/>
<circle class="l" cx="434.9" cy="321.9" r="6.75"/>
<circle class="l" cx="321.7" cy="370.2" r="6.75"/>
<circle class="l" cx="331.2" cy="380.7" r="6.75"/>
<circle class="l" cx="704.6" cy="708.6" r="6.75"/>
<circle class="l" cx="375.1" cy="538.2" r="6.75"/>
<circle class="l" cx="939.7" cy="285.5" r="6.75"/>
<circle class="l" cx="750.1" cy="282.7" r="6.75"/>
<circle class="l" cx="336.1" cy="303.1" r="6.75"/>
<circle class="l" cx="532.6" cy="371.9" r="6.75"/>
<circle class="l" cx="514.0" cy="310.9" r="6.75"/>
<circle class="l" cx="919.7" cy="806.8" r="6.75"/>
<circle class="l" cx="485.0" cy="230.0" r="6.75"/>
<circle class="l" cx="729.9" cy="735.5" r="6.75"/>
<circle class="l" cx="482.3" cy="271.9" r="6.75"/>
<circle class="l" cx="673.4" cy="239.0" r="6.75"/>
<circle class="l" cx="748.9" cy="1033.6" r="6.75"/>
<circle class="l" cx="649.5" cy="1012.5" r="6.75"/>
<circle class="l" cx="574.3" cy="1026.1" r="6.75"/>
<circle class="l" cx="706.4" cy="1022.9" r="6.75"/>
<circle class="l" cx="915.4" cy="496.0" r="6.75"/>
<circle class="l" cx="523.2" cy="940.2" r="6.75"/>
<circle class="l" cx="955.9" cy="653.3" r="6.75"/>
<circle class="l" cx="627.4" cy="970.4" r="6.75"/>
<circle class="l" cx="789.7" cy="891.5" r="6.75"/>
<circle class="l" cx="421.9" cy="321.8" r="6.75"/>
<circle class="l" cx="832.3" cy="713.6" r="6.75"/>
<circle class="l" cx="346.6" cy="347.4" r="6.75"/>
<circle class="l" cx="776.2" cy="899.1" r="6.75"/>
<circle class="l" cx="603.0" cy="967.5" r="6.75"/>
<circle class="l" cx="1021.1" cy="342.9" r="6.75"/>
<circle class="l" cx="611.8" cy="1052.3" r="6.75"/>
<circle class="l" cx="427.0" cy="288.9" r="6.75"/>
<circle class="l" cx="528.8" cy="1030.2" r="6.75"/>
<circle class="l" cx="507.0" cy="998.8" r="6.75"/>
<circle class="l" cx="586.5" cy="1029.6" r="6.75"/>
<circle class="l" cx="381.8" cy="570.0" r="6.75"/>
<circle class="l" cx="1062.2" cy="298.8" r="6.75"/>
<circle class="l" cx="768.1" cy="1029.2" r="6.75"/>
<circle class="l" cx="648.1" cy="1051.0" r="6.75"/>
<circle class="l" cx="807.9" cy="868.6" r="6.75"/>
<circle class="l" cx="931.5" cy="793.6" r="6.75"/>
<circle class="l" cx="597.5" cy="1054.3" r="6.75"/>
<circle class="l" cx="745.0" cy="533.4" r="6.75"/>
<circle class="l" cx="592.1" cy="1023.8" r="6.75"/>
<circle class="l" cx="547.8" cy="280.6" r="6.75"/>
<circle class="l" cx="512.1" cy="336.1" r="6.75"/>
<circle class="l" cx="591.8" cy="1057.4" r="6.75"/>
<circle class="l" cx="448.3" cy="320.8" r="6.75"/>
<circle class="l" cx="497.4" cy="689.6" r="6.75"/>
<circle class="l" cx="674.3" cy="305.4" r="6.75"/>
<circle class="l" cx="723.0" cy="1024.8" r="6.75"/>
<circle class="l" cx="600.0" cy="982.2" r="6.75"/>
<circle class="l" cx="909.3" cy="517.6" r="6.75"/>
<circle class="l" cx="330.0" cy="290.1" r="6.75"/>
<circle class="l" cx="594.9" cy="1013.6" r="6.75"/>
<circle class="l" cx="424.3" cy="279.5" r="6.75"/>
<circle class="l" cx="517.5" cy="391.2" r="6.75"/>
<circle class="l" cx="961.1" cy="274.4" r="6.75"/>
<circle class="l" cx="804.4" cy="403.8" r="6.75"/>
<circle class="l" cx="551.9" cy="885.6" r="6.75"/>
<circle class="l" cx="899.1" cy="671.2" r="6.75"/>
<circle class="l" cx="831.1" cy="284.5" r="6.75"/>
<circle class="l" cx="568.2" cy="524.7" r="6.75"/>
<circle class="l" cx="513.8" cy="253.9" r="6.75"/>
<circle class="l" cx="311.2" cy="524.2" r="6.75"/>
<circle class="l" cx="960.6" cy="660.6" r="6.75"/>
<circle class="l" cx="888.8" cy="653.1" r="6.75"/>
<circle class="l" cx="896.0" cy="303.7" r="6.75"/>
<circle class="l" cx="321.9" cy="488.7" r="6.75"/>
<circle class="l" cx="593.0" cy="1078.3" r="6.75"/>
<circle class="l" cx="570.5" cy="257.8" r="6.75"/>
<circle class="l" cx="483.9" cy="248.7" r="6.75"/>
<circle class="l" cx="372.9" cy="327.0" r="6.75"/>
<circle class="l" cx="889.1" cy="642.7" r="6.75"/>
<circle class="l" cx="819.4" cy="925.9" r="6.75"/>
<circle class="l" cx="508.5" cy="255.1" r="6.75"/>
<circle class="l" cx="674.7" cy="970.9" r="6.75"/>
<circle class="l" cx="352.0" cy="466.5" r="6.75"/>
<circle class="l" cx="608.9" cy="1069.7" r="6.75"/>
<circle class="l" cx="342.5" cy="399.9" r="6.75"/>
<circle class="l" cx="1004.8" cy="819.7" r="6.75"/>
<circle class="l" cx="378.5" cy="404.4" r="6.75"/>
<circle class="l" cx="320.5" cy="323.3" r="6.75"/>
<circle class="l" cx="915.9" cy="331.1" r="6.75"/>
<circle class="l" cx="925.2" cy="657.4" r="6.75"/>
<circle class="l" cx="743.8" cy="1034.3" r="6.75"/>
<circle class="l" cx="452.4" cy="399.8" r="6.75"/>
<circle class="l" cx="566.3" cy="255.6" r="6.75"/>
<circle class="l" cx="563.9" cy="948.6" r="6.75"/>
<circle class="l" cx="371.7" cy="261.1" r="6.75"/>
<circle class="l" cx="380.4" cy="396.8" r="6.75"/>
<circle class="l" cx="849.9" cy="899.7" r="6.75"/>
<circle class="l" cx="318.4" cy="551.0" r="6.75"/>
<circle class="l" cx="564.0" cy="990.4" r="6.75"/>
<circle class="l" cx="773.3" cy="505.6" r="6.75"/>
<circle class="l" cx="578.9" cy="963.9" r="6.75"/>
<circle class="l" cx="564.3" cy="237.6" r="6.75"/>
<circle class="l" cx="515.0" cy="940.6" r="6.75"/>
<circle class="l" cx="935.6" cy="826.9" r="6.75"/>
<circle class="m" cx="396.2" cy="404.0" r="6.75"/>
<circle class="m" cx="376.1" cy="554.3" r="6.75"/>
<circle class="m" cx="911.2" cy="675.4" r="6.75"/>
<circle class="m" cx="331.5" cy="452.1" r="6.75"/>
<circle class="m" cx="751.0" cy="895.6" r="6.75"/>
<circle class="m" cx="575.6" cy="251.8" r="6.75"/>
<circle class="m" cx="328.5" cy="265.3" r="6.75"/>
<circle class="m" cx="706.4" cy="1064.8" r="6.75"/>
<circle class="m" cx="432.7" cy="297.1" r="6.75"/>
<circle class="m" cx="773.3" cy="814.7" r="6.75"/>
<circle class="m" cx="675.3" cy="733.7" r="6.75"/>
<circle class="m" cx="817.5" cy="920.3" r="6.75"/>
<circle class="m" cx="898.3" cy="794.0" r="6.75"/>
<circle class="m" cx="506.4" cy="333.0" r="6.75"/>
<circle class="m" cx="805.9" cy="923.7" r="6.75"/>
<circle class="m" cx="586.1" cy="398.0" r="6.75"/>
<circle class="m" cx="914.1" cy="792.8" r="6.75"/>
<circle class="m" cx="968.5" cy="790.1" r="6.75"/>
<circle class="m" cx="883.9" cy="649.3" r="6.75"/>
<circle class="m" cx="937.5" cy="660.3" r="6.75"/>
<circle class="m" cx="801.6" cy="808.5" r="6.75"/>
<circle class="m" cx="366.8" cy="361.8" r="6.75"/>
<circle class="m" cx="605.4" cy="216.0" r="6.75"/>
<circle class="m" cx="275.8" cy="372.7" r="6.75"/>
<circle class="m" cx="369.8" cy="267.4" r="6.75"/>
<circle class="m" cx="308.7" cy="335.3" r="6.75"/>
<circle class="m" cx="633.7" cy="780.6" r="6.75"/>
<circle class="m" cx="723.8" cy="316.5" r="6.75"/>
<circle class="m" cx="337.9" cy="297.9" r="6.75"/>
<circle class="m" cx="621.7" cy="836.4" r="6.75"/>
<circle class="m" cx="594.1" cy="987.0" r="6.75"/>
<circle class="m" cx="681.5" cy="323.8" r="6.75"/>
<circle class="m" cx="511.9" cy="885.3" r="6.75"/>
<circle class="m" cx="717.8" cy="241.9" r="6.75"/>
<circle class="m" cx="445.4" cy="310.3" r="6.75"/>
<circle class="m" cx="688.6" cy="480.6" r="6.75"/>
<circle class="m" cx="693.2" cy="1017.0" r="6.75"/>
<circle class="m" cx="449.6" cy="239.1" r="6.75"/>
<circle class="m" cx="289.2" cy="377.6" r="6.75"/>
<circle class="m" cx="298.0" cy="374.1" r="6.75"/>
<circle class="m" cx="258.3" cy="323.9" r="6.75"/>
<circle class="m" cx="589.1" cy="296.5" r="6.75"/>
<circle class="m" cx="1018.6" cy="787.2" r="6.75"/>
<circle class="m" cx="492.0" cy="969.8" r="6.75"/>
<circle class="m" cx="771.4" cy="257.2" r="6.75"/>
<circle class="m" cx="575.0" cy="903.7" r="6.75"/>
<circle class="m" cx="598.8" cy="269.6" r="6.75"/>
<circle class="m" cx="389.7" cy="387.5" r="6.75"/>
<circle class="m" cx="704.7" cy="863.0" r="6.75"/>
<circle class="m" cx="372.5" cy="452.7" r="6.75"/>
<circle class="m" cx="598.1" cy="316.1" r="6.75"/>
<circle class="m" cx="626.3" cy="959.7" r="6.75"/>
<circle class="m" cx="848.8" cy="851.4" r="6.75"/>
<circle class="m" cx="754.6" cy="542.7" r="6.75"/>
<circle class="m" cx="702.9" cy="794.3" r="6.75"/>
<circle class="m" cx="817.6" cy="705.4" r="6.75"/>
<circle class="m" cx="529.0" cy="951.0" r="6.75"/>
<circle class="m" cx="448.0" cy="373.6" r="6.75"/>
<circle class="m" cx="366.4" cy="802.4" r="6.75"/>
<circle class="m" cx="794.5" cy="865.3" r="6.75"/>
<circle class="m" cx="314.4" cy="326.1" r="6.75"/>
<circle class="m" cx="507.1" cy="361.7" r="6.75"/>
<circle class="m" cx="552.8" cy="897.8" r="6.75"/>
<circle class="m" cx="804.9" cy="857.1" r="6.75"/>
<circle class="m" cx="890.2" cy="369.5" r="6.75"/>
<circle class="m" cx="669.2" cy="1004.4" r="6.75"/>
<circle class="m" cx="332.2" cy="442.0" r="6.75"/>
<circle class="m" cx="664.0" cy="1024.2" r="6.75"/>
<circle class="m" cx="697.7" cy="1038.8" r="6.75"/>
<circle class="m" cx="373.0" cy="386.3" r="6.75"/>
<circle class="m" cx="486.4" cy="278.9" r="6.75"/>
<circle class="m" cx="322.3" cy="312.0" r="6.75"/>
<circle class="m" cx="812.2" cy="976.9" r="6.75"/>
<circle class="m" cx="383.2" cy="790.2" r="6.75"/>
<circle class="m" cx="702.2" cy="1032.8" r="6.75"/>
<circle class="m" cx="670.0" cy="1046.0" r="6.75"/>
<circle class="m" cx="535.1" cy="896.9" r="6.75"/>
<circle class="m" cx="588.3" cy="321.2" r="6.75"/>
<circle class="m" cx="326.6" cy="805.3" r="6.75"/>
<circle class="m" cx="660.0" cy="271.5" r="6.75"/>
<circle class="m" cx="677.2" cy="1022.9" r="6.75"/>
<circle class="m" cx="794.7" cy="272.4" r="6.75"/>
<circle class="m" cx="812.2" cy="829.7" r="6.75"/>
<circle class="m" cx="257.8" cy="399.0" r="6.75"/>
<circle class="m" cx="802.1" cy="905.6" r="6.75"/>
<circle class="m" cx="855.8" cy="898.2" r="6.75"/>
<circle class="m" cx="631.3" cy="1028.5" r="6.75"/>
<circle class="m" cx="800.7" cy="748.6" r="6.75"/>
<circle class="m" cx="351.0" cy="309.4" r="6.75"/>
<circle class="m" cx="508.2" cy="313.4" r="6.75"/>
<circle class="m" cx="326.4" cy="422.2" r="6.75"/>
<circle class="m" cx="716.1" cy="293.4" r="6.75"/>
<circle class="m" cx="711.3" cy="299.8" r="6.75"/>
<circle class="m" cx="633.8" cy="1064.6" r="6.75"/>
<circle class="m" cx="961.9" cy="487.4" r="6.75"/>
<circle class="m" cx="945.8" cy="833.6" r="6.75"/>
<circle class="m" cx="335.1" cy="537.6" r="6.75"/>
<circle class="m" cx="381.7" cy="368.6" r="6.75"/>
<circle class="m" cx="561.4" cy="556.5" r="6.75"/>
<circle class="m" cx="340.0" cy="351.8" r="6.75"/>
<circle class="m" cx="588.9" cy="1033.7" r="6.75"/>
<circle class="m" cx="392.6" cy="417.6" r="6.75"/>
<circle class="m" cx="456.9" cy="242.6" r="6.75"/>
<circle class="m" cx="582.5" cy="1025.7" r="6.75"/>
<circle class="m" cx="676.7" cy="893.3" r="6.75"/>
<circle class="m" cx="278.1" cy="360.8" r="6.75"/>
<circle class="m" cx="676.1" cy="1030.6" r="6.75"/>
<circle class="m" cx="340.3" cy="511.8" r="6.75"/>
<circle class="m" cx="239.4" cy="306.0" r="6.75"/>
<circle class="m" cx="723.7" cy="815.1" r="6.75"/>
<circle class="m" cx="524.2" cy="245.2" r="6.75"/>
<circle class="m" cx="779.2" cy="788.3" r="6.75"/>
<circle class="m" cx="1000.6" cy="840.0" r="6.75"/>
<circle class="m" cx="251.2" cy="331.5" r="6.75"/>
<circle class="m" cx="698.0" cy="289.8" r="6.75"/>
<circle class="m" cx="579.2" cy="1018.4" r="6.75"/>
<circle class="m" cx="908.7" cy="654.8" r="6.75"/>
<circle class="m" cx="650.4" cy="305.4" r="6.75"/>
<circle class="m" cx="492.5" cy="224.0" r="6.75"/>
<circle class="m" cx="801.6" cy="976.0" r="6.75"/>
<circle class="m" cx="363.2" cy="788.7" r="6.75"/>
<circle class="m" cx="359.5" cy="833.1" r="6.75"/>
<circle class="m" cx="439.9" cy="363.8" r="6.75"/>
<circle class="m" cx="471.6" cy="349.6" r="6.75"/>
<circle class="m" cx="582.7" cy="286.9" r="6.75"/>
<circle class="m" cx="798.3" cy="263.7" r="6.75"/>
<circle class="m" cx="579.5" cy="916.1" r="6.75"/>
<circle class="m" cx="747.2" cy="751.9" r="6.75"/>
<circle class="m" cx="224.7" cy="468.7" r="6.75"/>
<circle class="m" cx="316.9" cy="367.5" r="6.75"/>
<circle class="m" cx="484.5" cy="296.5" r="6.75"/>
<circle class="m" cx="679.1" cy="993.9" r="6.75"/>
<circle class="m" cx="899.2" cy="644.3" r="6.75"/>
<circle class="m" cx="788.9" cy="260.1" r="6.75"/>
<circle class="m" cx="512.2" cy="913.6" r="6.75"/>
<circle class="m" cx="254.5" cy="311.1" r="6.75"/>
<circle class="m" cx="380.8" cy="581.7" r="6.75"/>
<circle class="m" cx="562.4" cy="980.2" r="6.75"/>
<circle class="m" cx="545.1" cy="890.8" r="6.75"/>
<circle class="m" cx="662.6" cy="984.5" r="6.75"/>
<circle class="m" cx="509.9" cy="967.2" r="6.75"/>
<circle class="m" cx="559.4" cy="274.2" r="6.75"/>
<circle class="m" cx="690.3" cy="1013.3" r="6.75"/>
<circle class="m" cx="819.7" cy="887.0" r="6.75"/>
<circle class="m" cx="778.2" cy="959.6" r="6.75"/>
<circle class="m" cx="398.0" cy="428.1" r="6.75"/>
<circle class="m" cx="790.8" cy="413.4" r="6.75"/>
<circle class="m" cx="622.3" cy="940.3" r="6.75"/>
<circle class="m" cx="938.4" cy="397.2" r="6.75"/>
<circle class="m" cx="519.1" cy="947.5" r="6.75"/>
<circle class="m" cx="704.2" cy="1000.6" r="6.75"/>
<circle class="m" cx="814.5" cy="836.9" r="6.75"/>
<circle class="m" cx="393.7" cy="789.9" r="6.75"/>
<circle class="m" cx="602.0" cy="1065.0" r="6.75"/>
<circle class="m" cx="390.9" cy="835.1" r="6.75"/>
<circle class="m" cx="1036.2" cy="334.2" r="6.75"/>
<circle class="m" cx="576.5" cy="219.3" r="6.75"/>
<circle class="m" cx="569.9" cy="918.9" r="6.75"/>
<circle class="m" cx="1031.3" cy="332.4" r="6.75"/>
<circle class="m" cx="643.8" cy="930.0" r="6.75"/>
<circle class="m" cx="279.3" cy="396.2" r="6.75"/>
<circle class="m" cx="333.1" cy="557.5" r="6.75"/>
<circle class="m" cx="857.3" cy="833.1" r="6.75"/>
<circle class="m" cx="462.4" cy="351.3" r="6.75"/>
<circle class="m" cx="969.0" cy="653.6" r="6.75"/>
<circle class="m" cx="784.7" cy="933.7" r="6.75"/>
<circle class="m" cx="636.5" cy="851.0" r="6.75"/>
<circle class="m" cx="768.6" cy="517.8" r="6.75"/>
<circle class="m" cx="594.1" cy="951.1" r="6.75"/>
<circle class="m" cx="786.4" cy="522.4" r="6.75"/>
<circle class="m" cx="690.0" cy="235.8" r="6.75"/>
<circle class="m" cx="1059.7" cy="476.6" r="6.75"/>
<circle class="m" cx="506.1" cy="270.8" r="6.75"/>
<circle class="m" cx="783.2" cy="273.6" r="6.75"/>
<circle class="m" cx="805.7" cy="292.9" r="6.75"/>
<circle class="m" cx="337.9" cy="347.4" r="6.75"/>
<circle class="m" cx="570.7" cy="411.6" r="6.75"/>
<circle class="m" cx="732.7" cy="830.0" r="6.75"/>
<circle class="m" cx="377.8" cy="315.6" r="6.75"/>
<circle class="m" cx="357.0" cy="509.8" r="6.75"/>
<circle class="m" cx="376.3" cy="339.1" r="6.75"/>
<circle class="m" cx="479.6" cy="383.0" r="6.75"/>
<circle class="m" cx="529.7" cy="895.4" r="6.75"/>
<circle class="m" cx="648.9" cy="265.4" r="6.75"/>
<circle class="m" cx="626.4" cy="436.7" r="6.75"/>
<circle class="m" cx="775.9" cy="416.9" r="6.75"/>
<circle class="m" cx="908.3" cy="303.5" r="6.75"/>
<circle class="m" cx="539.3" cy="283.2" r="6.75"/>
<circle class="m" cx="323.8" cy="279.6" r="6.75"/>
<circle class="m" cx="399.0" cy="281.8" r="6.75"/>
<circle class="m" cx="592.8" cy="1064.5" r="6.75"/>
<circle class="m" cx="827.2" cy="890.4" r="6.75"/>
<circle class="m" cx="456.9" cy="857.9" r="6.75"/>
<circle class="m" cx="662.9" cy="997.2" r="6.75"/>
<circle class="m" cx="708.4" cy="872.8" r="6.75"/>
<circle class="m" cx="346.4" cy="269.3" r="6.75"/>
<circle class="m" cx="732.6" cy="747.2" r="6.75"/>
<circle class="m" cx="733.2" cy="314.8" r="6.75"/>
<circle class="m" cx="1034.3" cy="266.3" r="6.75"/>
<circle class="m" cx="427.2" cy="403.7" r="6.75"/>
<circle class="m" cx="704.6" cy="320.5" r="6.75"/>
<circle class="m" cx="605.4" cy="792.9" r="6.75"/>
<circle class="m" cx="640.4" cy="532.6" r="6.75"/>
<circle class="m" cx="977.3" cy="864.5" r="6.75"/>
<circle class="m" cx="772.3" cy="532.6" r="6.75"/>
<circle class="m" cx="660.3" cy="875.5" r="6.75"/>
<circle class="m" cx="728.0" cy="229.4" r="6.75"/>
<circle class="m" cx="955.0" cy="648.3" r="6.75"/>
<circle class="m" cx="668.0" cy="987.0" r="6.75"/>
<circle class="m" cx="671.4" cy="1073.2" r="6.75"/>
<circle class="m" cx="489.0" cy="236.2" r="6.75"/>
<circle class="m" cx="705.7" cy="771.0" r="6.75"/>
<circle class="m" cx="668.6" cy="236.7" r="6.75"/>
<circle class="m" cx="524.5" cy="202.2" r="6.75"/>
<circle class="m" cx="729.8" cy="835.0" r="6.75"/>
<circle class="m" cx="949.8" cy="628.8" r="6.75"/>
<circle class="m" cx="646.1" cy="871.4" r="6.75"/>
<circle class="m" cx="670.7" cy="1025.6" r="6.75"/>
<circle class="m" cx="541.9" cy="240.5" r="6.75"/>
<circle class="m" cx="508.1" cy="425.0" r="6.75"/>
<circle class="m" cx="591.2" cy="352.5" r="6.75"/>
<circle class="m" cx="972.6" cy="750.6" r="6.75"/>
<circle class="m" cx="423.8" cy="476.1" r="6.75"/>
<circle class="m" cx="528.8" cy="385.6" r="6.75"/>
<circle class="m" cx="954.4" cy="275.5" r="6.75"/>
<circle class="m" cx="540.0" cy="400.0" r="6.75"/>
<circle class="m" cx="761.9" cy="936.2" r="6.75"/>
<circle class="m" cx="585.0" cy="352.0" r="6.75"/>
<circle class="m" cx="442.5" cy="418.8" r="6.75"/>
<circle class="m" cx="915.6" cy="753.2" r="6.75"/>
<circle class="m" cx="586.9" cy="400.0" r="6.75"/>
<circle class="m" cx="355.8" cy="285.7" r="6.75"/>
<circle class="m" cx="901.8" cy="636.7" r="6.75"/>
<circle class="m" cx="527.4" cy="375.0" r="6.75"/>
<circle class="m" cx="584.1" cy="234.3" r="6.75"/>
<circle class="m" cx="1024.0" cy="333.5" r="6.75"/>
<circle class="m" cx="502.8" cy="968.5" r="6.75"/>
<circle class="m" cx="362.5" cy="306.8" r="6.75"/>
<circle class="m" cx="619.1" cy="1058.8" r="6.75"/>
<circle class="m" cx="319.8" cy="293.0" r="6.75"/>
<circle class="m" cx="297.5" cy="341.5" r="6.75"/>
<circle class="m" cx="693.9" cy="718.9" r="6.75"/>
<circle class="m" cx="872.9" cy="510.5" r="6.75"/>
<circle class="m" cx="503.2" cy="708.3" r="6.75"/>
<circle class="m" cx="267.6" cy="389.7" r="6.75"/>
<circle class="m" cx="566.6" cy="1027.6" r="6.75"/>
<circle class="m" cx="916.8" cy="646.7" r="6.75"/>
<circle class="m" cx="377.8" cy="805.5" r="6.75"/>
<circle class="m" cx="522.0" cy="292.6" r="6.75"/>
<circle class="m" cx="675.9" cy="283.6" r="6.75"/>
<circle class="m" cx="348.7" cy="493.6" r="6.75"/>
<circle class="m" cx="286.0" cy="381.7" r="6.75"/>
<circle class="m" cx="732.2" cy="652.4" r="6.75"/>
<circle class="m" cx="656.3" cy="247.0" r="6.75"/>
<circle class="m" cx="359.2" cy="268.2" r="6.75"/>
<circle class="m" cx="682.4" cy="258.3" r="6.75"/>
<circle class="m" cx="631.9" cy="1080.7" r="6.75"/>
<circle class="m" cx="726.5" cy="860.9" r="6.75"/>
<circle class="m" cx="300.1" cy="361.6" r="6.75"/>
<circle class="m" cx="276.9" cy="404.9" r="6.75"/>
<circle class="m" cx="911.7" cy="626.7" r="6.75"/>
<circle class="m" cx="318.8" cy="300.6" r="6.75"/>
<circle class="m" cx="599.8" cy="894.9" r="6.75"/>
<circle class="m" cx="629.7" cy="1018.3" r="6.75"/>
<circle class="m" cx="662.2" cy="240.7" r="6.75"/>
<circle class="m" cx="368.0" cy="533.6" r="6.75"/>
<circle class="m" cx="643.7" cy="309.0" r="6.75"/>
<circle class="m" cx="514.3" cy="304.6" r="6.75"/>
<circle class="m" cx="404.8" cy="803.6" r="6.75"/>
<circle class="m" cx="508.8" cy="495.4" r="6.75"/>
<circle class="m" cx="303.0" cy="440.7" r="6.75"/>
<circle class="m" cx="435.9" cy="801.7" r="6.75"/>
<circle class="m" cx="767.2" cy="529.7" r="6.75"/>
<circle class="m" cx="758.8" cy="852.0" r="6.75"/>
<circle class="m" cx="344.2" cy="489.2" r="6.75"/>
<circle class="m" cx="660.0" cy="801.6" r="6.75"/>
<circle class="m" cx="952.9" cy="798.3" r="6.75"/>
<circle class="m" cx="390.4" cy="426.5" r="6.75"/>
<circle class="m" cx="511.0" cy="979.7" r="6.75"/>
<circle class="m" cx="616.9" cy="553.5" r="6.75"/>
<circle class="m" cx="541.2" cy="362.5" r="6.75"/>
<circle class="m" cx="500.2" cy="910.9" r="6.75"/>
<circle class="m" cx="505.8" cy="889.9" r="6.75"/>
<circle class="m" cx="334.5" cy="402.2" r="6.75"/>
<circle class="m" cx="437.3" cy="328.4" r="6.75"/>
<circle class="m" cx="830.9" cy="843.4" r="6.75"/>
<circle class="m" cx="687.4" cy="271.0" r="6.75"/>
<circle class="m" cx="823.7" cy="905.5" r="6.75"/>
<circle class="m" cx="500.1" cy="895.7" r="6.75"/>
<circle class="m" cx="606.1" cy="560.7" r="6.75"/>
<circle class="m" cx="594.7" cy="880.8" r="6.75"/>
<circle class="m" cx="831.7" cy="863.4" r="6.75"/>
<circle class="m" cx="408.1" cy="798.2" r="6.75"/>
<circle class="m" cx="692.6" cy="307.0" r="6.75"/>
<circle class="m" cx="353.5" cy="350.7" r="6.75"/>
<circle class="m" cx="230.5" cy="327.0" r="6.75"/>
<circle class="m" cx="395.4" cy="445.5" r="6.75"/>
<circle class="m" cx="877.2" cy="375.8" r="6.75"/>
<circle class="m" cx="693.8" cy="211.8" r="6.75"/>
<circle class="m" cx="367.1" cy="367.3" r="6.75"/>
<circle class="m" cx="335.1" cy="323.5" r="6.75"/>
<circle class="m" cx="553.9" cy="239.5" r="6.75"/>
<circle class="m" cx="324.2" cy="330.0" r="6.75"/>
<circle class="m" cx="676.7" cy="650.9" r="6.75"/>
<circle class="m" cx="554.4" cy="248.5" r="6.75"/>
<circle class="m" cx="715.1" cy="227.4" r="6.75"/>
<circle class="m" cx="889.0" cy="881.1" r="6.75"/>
<circle class="m" cx="952.5" cy="407.9" r="6.75"/>
<circle class="m" cx="543.0" cy="273.3" r="6.75"/>
<circle class="m" cx="804.8" cy="928.4" r="6.75"/>
<circle class="m" cx="551.8" cy="283.9" r="6.75"/>
<circle class="m" cx="444.2" cy="304.1" r="6.75"/>
<circle class="m" cx="404.8" cy="308.1" r="6.75"/>
<circle class="m" cx="706.1" cy="294.0" r="6.75"/>
<circle class="m" cx="571.8" cy="845.4" r="6.75"/>
<circle class="m" cx="539.5" cy="887.2" r="6.75"/>
<circle class="m" cx="697.6" cy="1009.3" r="6.75"/>
<circle class="m" cx="580.1" cy="243.5" r="6.75"/>
<circle class="m" cx="960.3" cy="792.5" r="6.75"/>
<circle class="m" cx="666.4" cy="868.7" r="6.75"/>
<circle class="m" cx="422.9" cy="402.0" r="6.75"/>
<circle class="m" cx="565.6" cy="212.7" r="6.75"/>
<circle class="m" cx="507.8" cy="328.4" r="6.75"/>
<circle class="m" cx="891.2" cy="800.9" r="6.75"/>
<circle class="m" cx="500.7" cy="1007.7" r="6.75"/>
<circle class="m" cx="1042.9" cy="314.4" r="6.75"/>
<circle class="m" cx="761.6" cy="528.8" r="6.75"/>
<circle class="m" cx="1014.6" cy="806.6" r="6.75"/>
<circle class="m" cx="880.6" cy="524.0" r="6.75"/>
<circle class="m" cx="698.4" cy="634.9" r="6.75"/>
<circle class="m" cx="371.3" cy="317.9" r="6.75"/>
<circle class="m" cx="812.4" cy="884.8" r="6.75"/>
<circle class="m" cx="671.0" cy="300.8" r="6.75"/>
<circle class="m" cx="338.9" cy="285.4" r="6.75"/>
<circle class="m" cx="682.5" cy="1071.6" r="6.75"/>
<circle class="m" cx="468.8" cy="338.3" r="6.75"/>
<circle class="m" cx="324.7" cy="524.6" r="6.75"/>
<circle class="m" cx="687.1" cy="240.1" r="6.75"/>
<circle class="m" cx="631.2" cy="1007.3" r="6.75"/>
<circle class="m" cx="404.1" cy="363.0" r="6.75"/>
<circle class="m" cx="935.2" cy="412.0" r="6.75"/>
<circle class="m" cx="778.9" cy="276.8" r="6.75"/>
<circle class="m" cx="426.8" cy="356.0" r="6.75"/>
<circle class="m" cx="819.3" cy="421.4" r="6.75"/>
<circle class="m" cx="497.1" cy="253.6" r="6.75"/>
<circle class="m" cx="764.2" cy="277.2" r="6.75"/>
<circle class="m" cx="745.4" cy="1045.6" r="6.75"/>
<circle class="m" cx="927.2" cy="495.0" r="6.75"/>
<circle class="m" cx="502.3" cy="375.5" r="6.75"/>
<circle class="m" cx="269.0" cy="308.6" r="6.75"/>
<circle class="m" cx="354.1" cy="541.3" r="6.75"/>
<circle class="m" cx="529.8" cy="780.5" r="6.75"/>
<circle class="m" cx="541.7" cy="984.5" r="6.75"/>
<circle class="m" cx="564.8" cy="941.2" r="6.75"/>
<circle class="m" cx="581.3" cy="909.9" r="6.75"/>
<circle class="m" cx="494.4" cy="392.2" r="6.75"/>
<circle class="m" cx="443.1" cy="230.1" r="6.75"/>
<circle class="m" cx="844.5" cy="863.1" r="6.75"/>
<circle class="m" cx="1061.4" cy="374.6" r="6.75"/>
<circle class="m" cx="864.5" cy="389.6" r="6.75"/>
<circle class="m" cx="495.6" cy="934.9" r="6.75"/>
<circle class="m" cx="225.7" cy="400.1" r="6.75"/>
<circle class="m" cx="383.5" cy="572.4" r="6.75"/>
<circle class="m" cx="928.3" cy="430.5" r="6.75"/>
<circle class="m" cx="546.4" cy="248.4" r="6.75"/>
<circle class="m" cx="625.0" cy="478.6" r="6.75"/>
<circle class="m" cx="650.0" cy="919.2" r="6.75"/>
<circle class="m" cx="692.8" cy="658.4" r="6.75"/>
<circle class="m" cx="537.4" cy="193.6" r="6.75"/>
<circle class="m" cx="826.5" cy="757.9" r="6.75"/>
<circle class="m" cx="417.5" cy="857.9" r="6.75"/>
<circle class="n" cx="557.1" cy="900.1" r="6.75"/>
<circle class="n" cx="610.6" cy="212.9" r="6.75"/>
<circle class="n" cx="618.9" cy="967.0" r="6.75"/>
<circle class="n" cx="322.1" cy="389.7" r="6.75"/>
<circle class="n" cx="776.0" cy="892.9" r="6.75"/>
<circle class="n" cx="823.0" cy="762.5" r="6.75"/>
<circle class="n" cx="599.2" cy="517.7" r="6.75"/>
<circle class="n" cx="565.0" cy="966.1" r="6.75"/>
<circle class="n" cx="1041.0" cy="277.0" r="6.75"/>
<circle class="n" cx="788.0" cy="878.6" r="6.75"/>
<circle class="n" cx="553.5" cy="891.5" r="6.75"/>
<circle class="n" cx="792.3" cy="847.0" r="6.75"/>
<circle class="n" cx="395.8" cy="314.6" r="6.75"/>
<circle class="n" cx="749.8" cy="306.1" r="6.75"/>
<circle class="n" cx="540.6" cy="977.2" r="6.75"/>
<circle class="n" cx="384.2" cy="807.1" r="6.75"/>
<circle class="n" cx="563.5" cy="892.5" r="6.75"/>
<circle class="n" cx="931.5" cy="812.7" r="6.75"/>
<circle class="n" cx="758.4" cy="892.9" r="6.75"/>
<circle class="n" cx="688.6" cy="1041.6" r="6.75"/>
<circle class="n" cx="381.8" cy="444.6" r="6.75"/>
<circle class="n" cx="312.5" cy="487.7" r="6.75"/>
<circle class="n" cx="1062.4" cy="393.1" r="6.75"/>
<circle class="n" cx="575.9" cy="1049.6" r="6.75"/>
<circle class="n" cx="963.4" cy="870.9" r="6.75"/>
<circle class="n" cx="991.7" cy="845.1" r="6.75"/>
<circle class="n" cx="523.5" cy="934.3" r="6.75"/>
<circle class="n" cx="695.9" cy="357.7" r="6.75"/>
<circle class="n" cx="1059.3" cy="314.5" r="6.75"/>
<circle class="n" cx="799.0" cy="287.6" r="6.75"/>
<circle class="n" cx="681.0" cy="1001.7" r="6.75"/>
<circle class="n" cx="661.0" cy="1008.4" r="6.75"/>
<circle class="n" cx="467.5" cy="248.9" r="6.75"/>
<circle class="n" cx="685.4" cy="452.5" r="6.75"/>
<circle class="n" cx="523.0" cy="231.8" r="6.75"/>
<circle class="n" cx="357.2" cy="334.6" r="6.75"/>
<circle class="n" cx="492.7" cy="347.3" r="6.75"/>
<circle class="n" cx="818.7" cy="892.7" r="6.75"/>
<circle class="n" cx="492.4" cy="954.4" r="6.75"/>
<circle class="n" cx="530.7" cy="216.6" r="6.75"/>
<circle class="n" cx="529.0" cy="887.6" r="6.75"/>
<circle class="n" cx="325.9" cy="473.3" r="6.75"/>
<circle class="n" cx="870.5" cy="373.5" r="6.75"/>
<circle class="n" cx="958.1" cy="418.1" r="6.75"/>
<circle class="n" cx="417.7" cy="326.0" r="6.75"/>
<circle class="n" cx="984.6" cy="795.4" r="6.75"/>
<circle class="n" cx="828.0" cy="943.3" r="6.75"/>
<circle class="n" cx="454.8" cy="372.2" r="6.75"/>
<circle class="n" cx="403.6" cy="380.4" r="6.75"/>
<circle class="n" cx="1012.0" cy="257.6" r="6.75"/>
<circle class="n" cx="569.4" cy="934.0" r="6.75"/>
<circle class="n" cx="604.4" cy="880.2" r="6.75"/>
<circle class="n" cx="281.0" cy="421.0" r="6.75"/>
<circle class="n" cx="1010.4" cy="321.8" r="6.75"/>
<circle class="n" cx="330.7" cy="327.6" r="6.75"/>
<circle class="n" cx="658.6" cy="291.0" r="6.75"/>
<circle class="n" cx="698.2" cy="994.1" r="6.75"/>
<circle class="n" cx="634.0" cy="268.2" r="6.75"/>
<circle class="n" cx="661.2" cy="226.9" r="6.75"/>
<circle class="n" cx="987.5" cy="417.7" r="6.75"/>
<circle class="n" cx="629.1" cy="1039.5" r="6.75"/>
<circle class="n" cx="664.6" cy="743.2" r="6.75"/>
<circle class="n" cx="656.2" cy="1041.4" r="6.75"/>
<circle class="n" cx="626.0" cy="789.9" r="6.75"/>
<circle class="n" cx="970.4" cy="648.4" r="6.75"/>
<circle class="n" cx="629.7" cy="993.6" r="6.75"/>
<circle class="n" cx="718.7" cy="840.5" r="6.75"/>
<circle class="n" cx="506.5" cy="939.3" r="6.75"/>
<circle class="n" cx="657.7" cy="1074.1" r="6.75"/>
<circle class="n" cx="389.5" cy="300.2" r="6.75"/>
<circle class="n" cx="910.3" cy="631.5" r="6.75"/>
<circle class="n" cx="527.7" cy="893.2" r="6.75"/>
<circle class="n" cx="560.6" cy="910.2" r="6.75"/>
<circle class="n" cx="412.3" cy="261.7" r="6.75"/>
<circle class="n" cx="886.4" cy="404.9" r="6.75"/>
<circle class="n" cx="628.3" cy="840.3" r="6.75"/>
<circle class="n" cx="530.9" cy="1021.5" r="6.75"/>
<circle class="n" cx="636.5" cy="978.3" r="6.75"/>
<circle class="n" cx="335.0" cy="448.1" r="6.75"/>
<circle class="n" cx="321.0" cy="477.5" r="6.75"/>
<circle class="n" cx="548.4" cy="233.4" r="6.75"/>
<circle class="n" cx="630.7" cy="824.3" r="6.75"/>
<circle class="n" cx="328.1" cy="341.1" r="6.75"/>
<circle class="n" cx="1012.0" cy="279.1" r="6.75"/>
<circle class="n" cx="596.0" cy="276.7" r="6.75"/>
<circle class="n" cx="615.0" cy="256.3" r="6.75"/>
<circle class="n" cx="953.7" cy="678.4" r="6.75"/>
<circle class="n" cx="732.5" cy="811.1" r="6.75"/>
<circle class="n" cx="546.9" cy="879.0" r="6.75"/>
<circle class="n" cx="684.1" cy="833.2" r="6.75"/>
<circle class="n" cx="633.3" cy="228.5" r="6.75"/>
<circle class="n" cx="914.2" cy="511.4" r="6.75"/>
<circle class="n" cx="677.1" cy="1052.3" r="6.75"/>
<circle class="n" cx="686.0" cy="1050.9" r="6.75"/>
<circle class="n" cx="813.5" cy="880.0" r="6.75"/>
<circle class="n" cx="510.3" cy="357.9" r="6.75"/>
<circle class="n" cx="546.8" cy="360.4" r="6.75"/>
<circle class="n" cx="696.8" cy="374.6" r="6.75"/>
<circle class="n" cx="959.3" cy="818.2" r="6.75"/>
<circle class="n" cx="380.5" cy="288.5" r="6.75"/>
<circle class="n" cx="497.6" cy="294.6" r="6.75"/>
<circle class="n" cx="589.3" cy="1072.8" r="6.75"/>
<circle class="n" cx="647.0" cy="954.9" r="6.75"/>
<circle class="n" cx="556.3" cy="259.5" r="6.75"/>
<circle class="n" cx="1017.4" cy="828.4" r="6.75"/>
<circle class="n" cx="542.8" cy="268.1" r="6.75"/>
<circle class="n" cx="375.4" cy="358.8" r="6.75"/>
<circle class="n" cx="534.8" cy="993.2" r="6.75"/>
<circle class="n" cx="596.1" cy="708.1" r="6.75"/>
<circle class="n" cx="367.5" cy="504.4" r="6.75"/>
<circle class="n" cx="652.7" cy="923.3" r="6.75"/>
<circle class="n" cx="669.7" cy="230.3" r="6.75"/>
<circle class="n" cx="804.9" cy="847.3" r="6.75"/>
<circle class="n" cx="295.0" cy="293.9" r="6.75"/>
<circle class="n" cx="621.4" cy="795.0" r="6.75"/>
<circle class="n" cx="347.1" cy="424.9" r="6.75"/>
<circle class="n" cx="594.0" cy="999.6" r="6.75"/>
<circle class="n" cx="285.3" cy="324.1" r="6.75"/>
<circle class="n" cx="361.7" cy="557.4" r="6.75"/>
<circle class="n" cx="824.1" cy="912.6" r="6.75"/>
<circle class="n" cx="642.6" cy="1054.7" r="6.75"/>
<circle class="n" cx="657.8" cy="949.1" r="6.75"/>
<circle class="n" cx="933.7" cy="882.0" r="6.75"/>
<circle class="n" cx="684.4" cy="1014.5" r="6.75"/>
<circle class="n" cx="588.0" cy="760.4" r="6.75"/>
<circle class="n" cx="590.8" cy="262.9" r="6.75"/>
<circle class="n" cx="728.7" cy="790.8" r="6.75"/>
<circle class="n" cx="787.5" cy="787.4" r="6.75"/>
<circle class="n" cx="923.6" cy="823.3" r="6.75"/>
<circle class="n" cx="327.3" cy="415.8" r="6.75"/>
<circle class="n" cx="372.8" cy="394.3" r="6.75"/>
<circle class="n" cx="618.0" cy="1082.4" r="6.75"/>
<circle class="n" cx="318.2" cy="342.1" r="6.75"/>
<circle class="n" cx="704.0" cy="728.9" r="6.75"/>
<circle class="n" cx="690.7" cy="862.8" r="6.75"/>
<circle class="n" cx="938.1" cy="305.2" r="6.75"/>
<circle class="n" cx="520.2" cy="316.1" r="6.75"/>
<circle class="n" cx="320.2" cy="561.0" r="6.75"/>
<circle class="n" cx="585.0" cy="297.0" r="6.75"/>
<circle class="n" cx="925.8" cy="669.7" r="6.75"/>
<circle class="n" cx="875.3" cy="521.9" r="6.75"/>
<circle class="n" cx="490.1" cy="963.6" r="6.75"/>
<circle class="n" cx="788.7" cy="795.7" r="6.75"/>
<circle class="n" cx="995.6" cy="439.0" r="6.75"/>
<circle class="n" cx="986.8" cy="661.8" r="6.75"/>
<circle class="n" cx="728.9" cy="1043.4" r="6.75"/>
<circle class="n" cx="1024.9" cy="302.8" r="6.75"/>
<circle class="n" cx="335.7" cy="518.4" r="6.75"/>
<circle class="n" cx="454.2" cy="331.5" r="6.75"/>
<circle class="n" cx="330.6" cy="470.4" r="6.75"/>
<circle class="n" cx="673.9" cy="997.9" r="6.75"/>
<circle class="n" cx="960.2" cy="635.6" r="6.75"/>
<circle class="n" cx="597.2" cy="991.9" r="6.75"/>
<circle class="n" cx="522.7" cy="1023.5" r="6.75"/>
<circle class="n" cx="1054.6" cy="317.7" r="6.75"/>
<circle class="n" cx="346.1" cy="257.7" r="6.75"/>
<circle class="n" cx="652.0" cy="810.2" r="6.75"/>
<circle class="n" cx="987.8" cy="321.4" r="6.75"/>
<circle class="n" cx="665.8" cy="253.6" r="6.75"/>
<circle class="n" cx="865.7" cy="413.9" r="6.75"/>
<circle class="n" cx="605.7" cy="233.6" r="6.75"/>
<circle class="n" cx="470.7" cy="720.2" r="6.75"/>
<circle class="n" cx="401.8" cy="449.4" r="6.75"/>
<circle class="n" cx="649.7" cy="514.0" r="6.75"/>
<circle class="n" cx="925.1" cy="810.6" r="6.75"/>
<circle class="n" cx="413.1" cy="795.1" r="6.75"/>
<circle class="n" cx="567.1" cy="546.8" r="6.75"/>
<circle class="n" cx="408.4" cy="447.3" r="6.75"/>
<circle class="n" cx="556.3" cy="569.6" r="6.75"/>
<circle class="n" cx="812.8" cy="294.0" r="6.75"/>
<circle class="n" cx="923.8" cy="678.9" r="6.75"/>
<circle class="n" cx="728.7" cy="323.6" r="6.75"/>
<circle class="n" cx="582.8" cy="1076.1" r="6.75"/>
<circle class="n" cx="572.4" cy="241.1" r="6.75"/>
<circle class="n" cx="691.1" cy="1065.8" r="6.75"/>
<circle class="n" cx="605.8" cy="1001.1" r="6.75"/>
<circle class="n" cx="558.7" cy="877.3" r="6.75"/>
<circle class="n" cx="822.4" cy="427.6" r="6.75"/>
<circle class="n" cx="289.7" cy="338.6" r="6.75"/>
<circle class="n" cx="1017.2" cy="274.0" r="6.75"/>
<circle class="n" cx="694.9" cy="313.0" r="6.75"/>
<circle class="n" cx="907.2" cy="402.5" r="6.75"/>
<circle class="n" cx="330.7" cy="394.9" r="6.75"/>
<circle class="n" cx="481.7" cy="891.0" r="6.75"/>
<circle class="n" cx="271.9" cy="381.0" r="6.75"/>
<circle class="n" cx="374.4" cy="811.2" r="6.75"/>
<circle class="n" cx="506.1" cy="924.9" r="6.75"/>
<circle class="n" cx="396.2" cy="826.4" r="6.75"/>
<circle class="n" cx="603.7" cy="890.6" r="6.75"/>
<circle class="n" cx="572.1" cy="405.5" r="6.75"/>
<circle class="n" cx="281.7" cy="335.0" r="6.75"/>
<circle class="n" cx="918.0" cy="658.0" r="6.75"/>
<circle class="n" cx="783.9" cy="412.6" r="6.75"/>
<circle class="n" cx="390.4" cy="818.7" r="6.75"/>
<circle class="n" cx="406.6" cy="453.0" r="6.75"/>
<circle class="n" cx="678.2" cy="637.9" r="6.75"/>
<circle class="n" cx="832.6" cy="932.4" r="6.75"/>
<circle class="n" cx="683.8" cy="383.2" r="6.75"/>
<circle class="n" cx="671.9" cy="668.1" r="6.75"/>
<circle class="n" cx="631.2" cy="963.7" r="6.75"/>
<circle class="n" cx="454.6" cy="232.9" r="6.75"/>
<circle class="n" cx="342.8" cy="248.1" r="6.75"/>
<circle class="n" cx="668.4" cy="222.5" r="6.75"/>
<circle class="n" cx="789.3" cy="506.9" r="6.75"/>
<circle class="n" cx="437.3" cy="368.0" r="6.75"/>
<circle class="n" cx="691.5" cy="300.3" r="6.75"/>
<circle class="n" cx="734.1" cy="887.7" r="6.75"/>
<circle class="n" cx="451.2" cy="227.7" r="6.75"/>
<circle class="n" cx="936.8" cy="405.3" r="6.75"/>
<circle class="n" cx="1017.7" cy="328.2" r="6.75"/>
<circle class="n" cx="960.4" cy="667.5" r="6.75"/>
<circle class="n" cx="494.6" cy="324.2" r="6.75"/>
<circle class="n" cx="361.5" cy="357.1" r="6.75"/>
<circle class="n" cx="278.0" cy="342.9" r="6.75"/>
<circle class="n" cx="612.4" cy="954.8" r="6.75"/>
<circle class="n" cx="342.1" cy="334.1" r="6.75"/>
<circle class="n" cx="621.7" cy="1071.0" r="6.75"/>
<circle class="n" cx="545.6" cy="254.0" r="6.75"/>
<circle class="n" cx="404.1" cy="736.6" r="6.75"/>
<circle class="n" cx="280.7" cy="391.7" r="6.75"/>
<circle class="n" cx="425.7" cy="389.8" r="6.75"/>
<circle class="n" cx="750.4" cy="276.2" r="6.75"/>
<circle class="n" cx="704.1" cy="1058.9" r="6.75"/>
<circle class="n" cx="392.5" cy="391.7" r="6.75"/>
<circle class="n" cx="363.5" cy="249.3" r="6.75"/>
<circle class="n" cx="896.2" cy="314.5" r="6.75"/>
<circle class="n" cx="595.9" cy="242.8" r="6.75"/>
<circle class="n" cx="401.6" cy="809.0" r="6.75"/>
<circle class="n" cx="356.2" cy="272.2" r="6.75"/>
<circle class="n" cx="655.7" cy="918.5" r="6.75"/>
<circle class="n" cx="595.9" cy="1068.7" r="6.75"/>
<circle class="n" cx="602.9" cy="1054.2" r="6.75"/>
<circle class="n" cx="685.6" cy="788.2" r="6.75"/>
<circle class="n" cx="677.7" cy="245.0" r="6.75"/>
<circle class="n" cx="709.0" cy="756.7" r="6.75"/>
<circle class="n" cx="742.8" cy="319.5" r="6.75"/>
<circle class="n" cx="723.3" cy="1039.8" r="6.75"/>
<circle class="n" cx="522.6" cy="272.8" r="6.75"/>
<circle class="n" cx="684.4" cy="364.8" r="6.75"/>
<circle class="n" cx="248.7" cy="313.3" r="6.75"/>
<circle class="n" cx="742.6" cy="866.5" r="6.75"/>
<circle class="n" cx="808.0" cy="951.5" r="6.75"/>
<circle class="n" cx="300.1" cy="381.1" r="6.75"/>
<circle class="n" cx="733.9" cy="1039.6" r="6.75"/>
<circle class="n" cx="754.4" cy="720.2" r="6.75"/>
<circle class="n" cx="962.7" cy="837.1" r="6.75"/>
<circle class="n" cx="915.8" cy="440.0" r="6.75"/>
<circle class="n" cx="565.6" cy="207.1" r="6.75"/>
<circle class="n" cx="646.9" cy="973.0" r="6.75"/>
<circle class="n" cx="539.7" cy="217.5" r="6.75"/>
<circle class="n" cx="484.4" cy="258.5" r="6.75"/>
<circle class="n" cx="579.3" cy="233.4" r="6.75"/>
<circle class="n" cx="354.2" cy="801.4" r="6.75"/>
<circle class="n" cx="848.8" cy="920.8" r="6.75"/>
<circle class="n" cx="677.5" cy="1061.8" r="6.75"/>
<circle class="n" cx="776.6" cy="876.5" r="6.75"/>
<circle class="n" cx="413.3" cy="298.5" r="6.75"/>
<circle class="n" cx="810.5" cy="834.2" r="6.75"/>
<circle class="n" cx="285.5" cy="393.9" r="6.75"/>
<circle class="n" cx="708.1" cy="392.9" r="6.75"/>
<circle class="n" cx="698.8" cy="843.7" r="6.75"/>
<circle class="n" cx="353.7" cy="291.0" r="6.75"/>
<circle class="n" cx="583.7" cy="318.4" r="6.75"/>
<circle class="n" cx="572.4" cy="945.6" r="6.75"/>
<circle class="n" cx="480.5" cy="303.5" r="6.75"/>
<circle class="n" cx="433.9" cy="333.7" r="6.75"/>
<circle class="n" cx="617.6" cy="543.4" r="6.75"/>
<circle class="n" cx="952.7" cy="664.8" r="6.75"/>
<circle class="n" cx="509.3" cy="1011.8" r="6.75"/>
<circle class="n" cx="434.5" cy="363.5" r="6.75"/>
<circle class="n" cx="552.1" cy="300.0" r="6.75"/>
<circle class="n" cx="360.6" cy="573.4" r="6.75"/>
<circle class="n" cx="617.5" cy="776.3" r="6.75"/>
<circle class="n" cx="676.6" cy="1069.4" r="6.75"/>
<circle class="n" cx="628.7" cy="207.9" r="6.75"/>
<circle class="n" cx="407.8" cy="849.0" r="6.75"/>
<circle class="n" cx="456.6" cy="259.2" r="6.75"/>
<circle class="n" cx="597.1" cy="539.6" r="6.75"/>
<circle class="n" cx="498.1" cy="329.1" r="6.75"/>
<circle class="n" cx="689.4" cy="247.0" r="6.75"/>
<circle class="n" cx="583.8" cy="777.3" r="6.75"/>
<circle class="n" cx="602.3" cy="280.9" r="6.75"/>
<circle class="n" cx="782.7" cy="939.3" r="6.75"/>
<circle class="n" cx="490.8" cy="928.7" r="6.75"/>
<circle class="n" cx="534.9" cy="886.2" r="6.75"/>
<circle class="n" cx="814.1" cy="890.1" r="6.75"/>
<circle class="n" cx="384.0" cy="309.6" r="6.75"/>
<circle class="n" cx="752.5" cy="854.9" r="6.75"/>
<circle class="n" cx="926.7" cy="628.5" r="6.75"/>
<circle class="n" cx="760.3" cy="825.4" r="6.75"/>
<circle class="n" cx="516.1" cy="280.0" r="6.75"/>
<circle class="n" cx="1061.3" cy="346.4" r="6.75"/>
<circle class="n" cx="610.5" cy="298.1" r="6.75"/>
<circle class="n" cx="670.4" cy="276.6" r="6.75"/>
<circle class="n" cx="924.9" cy="865.5" r="6.75"/>
<circle class="n" cx="429.3" cy="315.3" r="6.75"/>
<circle class="n" cx="501.3" cy="266.5" r="6.75"/>
<circle class="n" cx="937.6" cy="652.5" r="6.75"/>
<circle class="n" cx="578.2" cy="947.6" r="6.75"/>
<circle class="n" cx="632.9" cy="495.8" r="6.75"/>
<circle class="n" cx="486.4" cy="269.8" r="6.75"/>
<circle class="n" cx="478.9" cy="296.2" r="6.75"/>
<circle class="n" cx="490.1" cy="306.6" r="6.75"/>
<circle class="n" cx="911.5" cy="538.3" r="6.75"/>
<circle class="n" cx="837.7" cy="857.0" r="6.75"/>
<circle class="n" cx="803.9" cy="874.7" r="6.75"/>
<circle class="n" cx="383.1" cy="298.5" r="6.75"/>
<circle class="n" cx="292.7" cy="393.1" r="6.75"/>
<circle class="n" cx="763.7" cy="534.4" r="6.75"/>
<circle class="n" cx="631.6" cy="753.9" r="6.75"/>
<circle class="n" cx="527.3" cy="315.8" r="6.75"/>
<circle class="n" cx="655.4" cy="794.4" r="6.75"/>
<circle class="n" cx="299.9" cy="283.3" r="6.75"/>
<circle class="n" cx="659.3" cy="319.7" r="6.75"/>
<circle class="n" cx="373.4" cy="789.5" r="6.75"/>
<circle class="n" cx="787.6" cy="275.3" r="6.75"/>
<circle class="n" cx="518.2" cy="790.4" r="6.75"/>
<circle class="n" cx="468.0" cy="293.5" r="6.75"/>
<circle class="n" cx="952.2" cy="414.5" r="6.75"/>
<circle class="n" cx="262.5" cy="372.4" r="6.75"/>
<circle class="n" cx="807.9" cy="961.6" r="6.75"/>
<circle class="n" cx="462.3" cy="273.5" r="6.75"/>
<circle class="n" cx="760.2" cy="782.3" r="6.75"/>
<circle class="n" cx="580.9" cy="302.5" r="6.75"/>
<circle class="n" cx="675.9" cy="1017.6" r="6.75"/>
<circle class="n" cx="1058.3" cy="337.2" r="6.75"/>
<circle class="n" cx="728.1" cy="643.9" r="6.75"/>
<circle class="n" cx="696.3" cy="265.1" r="6.75"/>
<circle class="n" cx="691.5" cy="744.7" r="6.75"/>
<circle class="n" cx="363.2" cy="954.7" r="6.75"/>
<circle class="n" cx="518.2" cy="540.6" r="6.75"/>
<circle class="n" cx="737.7" cy="644.8" r="6.75"/>
<circle class="n" cx="332.4" cy="280.3" r="6.75"/>
<circle class="n" cx="439.7" cy="244.6" r="6.75"/>
<circle class="n" cx="790.3" cy="933.0" r="6.75"/>
<circle class="n" cx="493.5" cy="959.8" r="6.75"/>
<circle class="n" cx="326.3" cy="258.7" r="6.75"/>
<circle class="n" cx="384.1" cy="825.5" r="6.75"/>
<circle class="n" cx="849.0" cy="914.2" r="6.75"/>
<circle class="n" cx="402.7" cy="848.1" r="6.75"/>
<circle class="n" cx="460.5" cy="266.7" r="6.75"/>
<circle class="n" cx="598.4" cy="1042.4" r="6.75"/>
<circle class="n" cx="586.0" cy="275.6" r="6.75"/>
<circle class="n" cx="773.3" cy="408.1" r="6.75"/>
<circle class="n" cx="318.4" cy="336.8" r="6.75"/>
<circle class="n" cx="683.5" cy="947.1" r="6.75"/>
<circle class="n" cx="496.4" cy="314.2" r="6.75"/>
<circle class="n" cx="638.3" cy="1020.3" r="6.75"/>
<circle class="n" cx="833.7" cy="905.6" r="6.75"/>
<circle class="n" cx="1064.3" cy="328.3" r="6.75"/>
<circle class="n" cx="473.9" cy="287.0" r="6.75"/>
<circle class="n" cx="708.0" cy="244.3" r="6.75"/>
<circle class="n" cx="1006.6" cy="312.1" r="6.75"/>
<circle class="n" cx="627.4" cy="1032.8" r="6.75"/>
<circle class="n" cx="579.0" cy="1011.0" r="6.75"/>
<circle class="n" cx="489.0" cy="332.5" r="6.75"/>
<circle class="n" cx="932.8" cy="658.6" r="6.75"/>
<circle class="n" cx="894.4" cy="388.8" r="6.75"/>
<circle class="n" cx="718.8" cy="849.1" r="6.75"/>
<circle class="n" cx="589.1" cy="387.9" r="6.75"/>
<circle class="n" cx="566.7" cy="281.3" r="6.75"/>
<circle class="n" cx="604.7" cy="934.0" r="6.75"/>
<circle class="n" cx="532.0" cy="473.1" r="6.75"/>
<circle class="n" cx="439.9" cy="308.9" r="6.75"/>
<circle class="n" cx="487.5" cy="291.7" r="6.75"/>
<circle class="n" cx="574.3" cy="1021.0" r="6.75"/>
<circle class="n" cx="392.2" cy="814.4" r="6.75"/>
<circle class="n" cx="973.5" cy="487.2" r="6.75"/>
<circle class="n" cx="535.6" cy="1012.2" r="6.75"/>
<circle class="n" cx="621.2" cy="1015.9" r="6.75"/>
<circle class="n" cx="442.6" cy="290.3" r="6.75"/>
<circle class="n" cx="580.4" cy="225.4" r="6.75"/>
<circle class="n" cx="430.8" cy="254.8" r="6.75"/>
<circle class="n" cx="908.7" cy="408.8" r="6.75"/>
<circle class="n" cx="521.7" cy="1032.6" r="6.75"/>
<circle class="n" cx="1000.3" cy="323.4" r="6.75"/>
<circle class="n" cx="424.4" cy="315.8" r="6.75"/>
<circle class="n" cx="609.2" cy="1056.5" r="6.75"/>
<circle class="n" cx="563.0" cy="1048.5" r="6.75"/>
<circle class="n" cx="928.6" cy="637.7" r="6.75"/>
<circle class="n" cx="348.5" cy="945.7" r="6.75"/>
<circle class="n" cx="738.4" cy="745.0" r="6.75"/>
<circle class="n" cx="309.8" cy="449.7" r="6.75"/>
<circle class="n" cx="634.5" cy="770.8" r="6.75"/>
<circle class="n" cx="774.7" cy="947.2" r="6.75"/>
<circle class="n" cx="677.6" cy="269.4" r="6.75"/>
<circle class="n" cx="433.7" cy="308.2" r="6.75"/>
<circle class="n" cx="540.4" cy="296.0" r="6.75"/>
<circle class="n" cx="546.6" cy="228.5" r="6.75"/>
<circle class="n" cx="910.2" cy="782.1" r="6.75"/>
<circle class="n" cx="530.6" cy="327.8" r="6.75"/>
<circle class="n" cx="348.2" cy="365.9" r="6.75"/>
<circle class="o" cx="536.8" cy="972.0" r="6.75"/>
<circle class="o" cx="598.3" cy="941.5" r="6.75"/>
<circle class="o" cx="851.1" cy="843.7" r="6.75"/>
<circle class="o" cx="795.5" cy="851.1" r="6.75"/>
<circle class="o" cx="633.9" cy="866.7" r="6.75"/>
<circle class="o" cx="762.9" cy="497.4" r="6.75"/>
<circle class="o" cx="299.4" cy="331.7" r="6.75"/>
<circle class="o" cx="591.0" cy="742.2" r="6.75"/>
<circle class="o" cx="332.6" cy="275.3" r="6.75"/>
<circle class="o" cx="656.1" cy="1034.5" r="6.75"/>
<circle class="o" cx="508.5" cy="303.1" r="6.75"/>
<circle class="o" cx="766.8" cy="295.9" r="6.75"/>
<circle class="o" cx="465.2" cy="345.2" r="6.75"/>
<circle class="o" cx="744.8" cy="286.5" r="6.75"/>
<circle class="o" cx="709.7" cy="783.1" r="6.75"/>
<circle class="o" cx="820.6" cy="850.5" r="6.75"/>
<circle class="o" cx="526.5" cy="256.7" r="6.75"/>
<circle class="o" cx="568.4" cy="1042.8" r="6.75"/>
<circle class="o" cx="597.8" cy="1085.6" r="6.75"/>
<circle class="o" cx="535.2" cy="305.7" r="6.75"/>
<circle class="o" cx="674.4" cy="710.8" r="6.75"/>
<circle class="o" cx="528.1" cy="526.0" r="6.75"/>
<circle class="o" cx="369.1" cy="344.5" r="6.75"/>
<circle class="o" cx="340.0" cy="432.5" r="6.75"/>
<circle class="o" cx="398.6" cy="295.4" r="6.75"/>
<circle class="o" cx="618.8" cy="931.3" r="6.75"/>
<circle class="o" cx="573.4" cy="1053.6" r="6.75"/>
<circle class="o" cx="453.4" cy="272.2" r="6.75"/>
<circle class="o" cx="850.8" cy="864.4" r="6.75"/>
<circle class="o" cx="808.8" cy="421.5" r="6.75"/>
<circle class="o" cx="947.3" cy="662.9" r="6.75"/>
<circle class="o" cx="441.0" cy="757.2" r="6.75"/>
<circle class="o" cx="773.3" cy="286.7" r="6.75"/>
<circle class="o" cx="845.7" cy="451.3" r="6.75"/>
<circle class="o" cx="692.3" cy="1006.0" r="6.75"/>
<circle class="o" cx="707.6" cy="1038.2" r="6.75"/>
<circle class="o" cx="340.6" cy="290.5" r="6.75"/>
<circle class="o" cx="662.6" cy="216.3" r="6.75"/>
<circle class="o" cx="797.8" cy="278.5" r="6.75"/>
<circle class="o" cx="859.1" cy="853.7" r="6.75"/>
<circle class="o" cx="606.1" cy="818.6" r="6.75"/>
<circle class="o" cx="782.8" cy="919.5" r="6.75"/>
<circle class="o" cx="562.3" cy="242.9" r="6.75"/>
<circle class="o" cx="812.4" cy="877.8" r="6.75"/>
<circle class="o" cx="972.1" cy="820.4" r="6.75"/>
<circle class="o" cx="576.6" cy="288.6" r="6.75"/>
<circle class="o" cx="973.7" cy="655.5" r="6.75"/>
<circle class="o" cx="549.0" cy="1051.1" r="6.75"/>
<circle class="o" cx="689.0" cy="735.6" r="6.75"/>
<circle class="o" cx="810.4" cy="966.6" r="6.75"/>
<circle class="o" cx="854.0" cy="923.2" r="6.75"/>
<circle class="o" cx="380.6" cy="334.0" r="6.75"/>
<circle class="o" cx="849.1" cy="869.4" r="6.75"/>
<circle class="o" cx="331.3" cy="344.4" r="6.75"/>
<circle class="o" cx="969.7" cy="827.5" r="6.75"/>
<circle class="o" cx="613.9" cy="1064.4" r="6.75"/>
<circle class="o" cx="550.6" cy="292.8" r="6.75"/>
<circle class="o" cx="570.1" cy="1023.5" r="6.75"/>
<circle class="o" cx="345.0" cy="795.2" r="6.75"/>
<circle class="o" cx="488.4" cy="286.4" r="6.75"/>
<circle class="o" cx="593.4" cy="945.4" r="6.75"/>
<circle class="o" cx="760.6" cy="251.1" r="6.75"/>
<circle class="o" cx="786.8" cy="817.1" r="6.75"/>
<circle class="o" cx="439.7" cy="254.9" r="6.75"/>
<circle class="o" cx="394.5" cy="341.8" r="6.75"/>
<circle class="o" cx="816.5" cy="963.9" r="6.75"/>
<circle class="o" cx="690.9" cy="315.6" r="6.75"/>
<circle class="o" cx="814.4" cy="822.1" r="6.75"/>
<circle class="o" cx="748.7" cy="860.7" r="6.75"/>
<circle class="o" cx="765.2" cy="743.8" r="6.75"/>
<circle class="o" cx="677.2" cy="1044.5" r="6.75"/>
<circle class="o" cx="662.9" cy="646.4" r="6.75"/>
<circle class="o" cx="533.8" cy="718.2" r="6.75"/>
<circle class="o" cx="755.0" cy="336.2" r="6.75"/>
<circle class="o" cx="535.6" cy="705.5" r="6.75"/>
<circle class="o" cx="419.4" cy="933.1" r="6.75"/>
<circle class="o" cx="1028.2" cy="417.6" r="6.75"/>
<circle class="o" cx="706.2" cy="916.2" r="6.75"/>
<circle class="o" cx="967.5" cy="579.2" r="6.75"/>
<circle class="o" cx="697.5" cy="577.0" r="6.75"/>
<circle class="o" cx="880.1" cy="454.4" r="6.75"/>
<circle class="o" cx="724.2" cy="949.2" r="6.75"/>
<circle class="o" cx="893.0" cy="660.0" r="6.75"/>
<circle class="o" cx="287.0" cy="452.6" r="6.75"/>
<circle class="o" cx="980.7" cy="673.7" r="6.75"/>
<circle class="o" cx="334.9" cy="580.3" r="6.75"/>
<circle class="o" cx="830.8" cy="920.4" r="6.75"/>
<circle class="o" cx="826.1" cy="849.6" r="6.75"/>
<circle class="o" cx="891.9" cy="398.9" r="6.75"/>
<circle class="o" cx="785.7" cy="923.7" r="6.75"/>
<circle class="o" cx="659.1" cy="1013.7" r="6.75"/>
<circle class="o" cx="795.2" cy="962.2" r="6.75"/>
<circle class="o" cx="890.1" cy="917.7" r="6.75"/>
<circle class="o" cx="589.0" cy="245.0" r="6.75"/>
<circle class="o" cx="431.7" cy="805.1" r="6.75"/>
<circle class="o" cx="871.5" cy="852.5" r="6.75"/>
<circle class="o" cx="1047.3" cy="292.5" r="6.75"/>
<circle class="o" cx="1047.2" cy="285.8" r="6.75"/>
<circle class="o" cx="309.9" cy="476.8" r="6.75"/>
<circle class="o" cx="866.0" cy="656.2" r="6.75"/>
<circle class="o" cx="696.9" cy="781.0" r="6.75"/>
<circle class="o" cx="805.9" cy="426.7" r="6.75"/>
<circle class="o" cx="341.8" cy="813.7" r="6.75"/>
<circle class="o" cx="640.8" cy="525.8" r="6.75"/>
<circle class="o" cx="665.8" cy="1051.8" r="6.75"/>
<circle class="o" cx="957.5" cy="422.8" r="6.75"/>
<circle class="o" cx="951.3" cy="495.9" r="6.75"/>
<circle class="o" cx="763.6" cy="858.4" r="6.75"/>
<circle class="o" cx="499.2" cy="972.4" r="6.75"/>
<circle class="o" cx="1040.4" cy="284.6" r="6.75"/>
<circle class="o" cx="414.3" cy="804.6" r="6.75"/>
<circle class="o" cx="494.2" cy="288.9" r="6.75"/>
<circle class="o" cx="529.8" cy="1040.5" r="6.75"/>
<circle class="o" cx="369.5" cy="937.1" r="6.75"/>
<circle class="o" cx="363.1" cy="283.7" r="6.75"/>
<circle class="o" cx="613.5" cy="834.2" r="6.75"/>
<circle class="o" cx="342.8" cy="505.4" r="6.75"/>
<circle class="o" cx="942.4" cy="489.8" r="6.75"/>
<circle class="o" cx="756.2" cy="868.3" r="6.75"/>
<circle class="o" cx="874.9" cy="899.8" r="6.75"/>
<circle class="o" cx="715.0" cy="315.8" r="6.75"/>
<circle class="o" cx="677.4" cy="956.4" r="6.75"/>
<circle class="o" cx="689.2" cy="356.7" r="6.75"/>
<circle class="o" cx="554.4" cy="1051.1" r="6.75"/>
<circle class="o" cx="1022.4" cy="280.5" r="6.75"/>
<circle class="o" cx="517.5" cy="489.1" r="6.75"/>
<circle class="o" cx="325.5" cy="272.1" r="6.75"/>
<circle class="o" cx="670.1" cy="650.5" r="6.75"/>
<circle class="o" cx="481.2" cy="243.5" r="6.75"/>
<circle class="o" cx="517.6" cy="889.9" r="6.75"/>
<circle class="o" cx="953.5" cy="792.2" r="6.75"/>
<circle class="o" cx="1028.0" cy="336.9" r="6.75"/>
<circle class="o" cx="491.4" cy="937.7" r="6.75"/>
<circle class="o" cx="388.6" cy="829.7" r="6.75"/>
<circle class="o" cx="802.9" cy="815.2" r="6.75"/>
<circle class="o" cx="361.2" cy="491.6" r="6.75"/>
<circle class="o" cx="659.7" cy="711.1" r="6.75"/>
<circle class="o" cx="487.4" cy="245.3" r="6.75"/>
<circle class="o" cx="632.2" cy="998.9" r="6.75"/>
<circle class="o" cx="373.1" cy="254.5" r="6.75"/>
<circle class="o" cx="1030.3" cy="291.3" r="6.75"/>
<circle class="o" cx="559.0" cy="474.7" r="6.75"/>
<circle class="o" cx="423.2" cy="285.5" r="6.75"/>
<circle class="o" cx="691.8" cy="947.9" r="6.75"/>
<circle class="o" cx="570.7" cy="400.6" r="6.75"/>
<circle class="o" cx="546.0" cy="293.6" r="6.75"/>
<circle class="o" cx="418.1" cy="297.2" r="6.75"/>
<circle class="o" cx="714.5" cy="706.7" r="6.75"/>
<circle class="o" cx="747.4" cy="514.5" r="6.75"/>
<circle class="o" cx="391.3" cy="727.4" r="6.75"/>
<circle class="o" cx="443.6" cy="322.7" r="6.75"/>
<circle class="o" cx="569.6" cy="568.9" r="6.75"/>
<circle class="o" cx="786.9" cy="287.9" r="6.75"/>
<circle class="o" cx="540.1" cy="893.9" r="6.75"/>
<circle class="o" cx="415.3" cy="246.3" r="6.75"/>
<circle class="o" cx="557.3" cy="933.5" r="6.75"/>
<circle class="o" cx="604.5" cy="921.0" r="6.75"/>
<circle class="o" cx="771.1" cy="688.7" r="6.75"/>
<circle class="o" cx="690.9" cy="349.4" r="6.75"/>
<circle class="o" cx="537.8" cy="939.3" r="6.75"/>
<circle class="o" cx="761.4" cy="514.4" r="6.75"/>
<circle class="o" cx="432.0" cy="218.3" r="6.75"/>
<circle class="o" cx="407.7" cy="837.8" r="6.75"/>
<circle class="o" cx="687.6" cy="764.1" r="6.75"/>
<circle class="o" cx="578.4" cy="1030.3" r="6.75"/>
<circle class="o" cx="588.5" cy="925.5" r="6.75"/>
<circle class="o" cx="237.5" cy="325.3" r="6.75"/>
<circle class="o" cx="380.6" cy="565.4" r="6.75"/>
<circle class="o" cx="764.4" cy="886.8" r="6.75"/>
<circle class="o" cx="870.2" cy="867.8" r="6.75"/>
<circle class="o" cx="833.9" cy="848.3" r="6.75"/>
<circle class="o" cx="783.2" cy="296.7" r="6.75"/>
<circle class="o" cx="349.5" cy="786.7" r="6.75"/>
<circle class="o" cx="553.3" cy="549.8" r="6.75"/>
<circle class="o" cx="557.5" cy="307.3" r="6.75"/>
<circle class="o" cx="782.3" cy="875.9" r="6.75"/>
<circle class="o" cx="500.9" cy="212.8" r="6.75"/>
<circle class="o" cx="553.0" cy="872.6" r="6.75"/>
<circle class="o" cx="368.2" cy="296.0" r="6.75"/>
<circle class="o" cx="743.7" cy="892.3" r="6.75"/>
<circle class="o" cx="702.9" cy="346.4" r="6.75"/>
<circle class="o" cx="827.3" cy="865.3" r="6.75"/>
<circle class="o" cx="341.1" cy="369.3" r="6.75"/>
<circle class="o" cx="330.5" cy="317.1" r="6.75"/>
<circle class="o" cx="1069.7" cy="365.8" r="6.75"/>
<circle class="o" cx="912.8" cy="770.9" r="6.75"/>
<circle class="o" cx="711.0" cy="864.2" r="6.75"/>
<circle class="o" cx="363.5" cy="292.1" r="6.75"/>
<circle class="o" cx="552.0" cy="880.7" r="6.75"/>
<circle class="o" cx="588.3" cy="749.3" r="6.75"/>
<circle class="o" cx="816.9" cy="841.1" r="6.75"/>
<circle class="o" cx="751.2" cy="314.8" r="6.75"/>
<circle class="o" cx="355.5" cy="307.2" r="6.75"/>
<circle class="o" cx="564.4" cy="1022.2" r="6.75"/>
<circle class="o" cx="770.1" cy="740.0" r="6.75"/>
<circle class="o" cx="411.2" cy="413.0" r="6.75"/>
<circle class="o" cx="949.9" cy="431.0" r="6.75"/>
<circle class="o" cx="588.0" cy="934.6" r="6.75"/>
<circle class="o" cx="527.6" cy="1025.5" r="6.75"/>
<circle class="o" cx="636.4" cy="965.4" r="6.75"/>
<circle class="o" cx="744.0" cy="817.1" r="6.75"/>
<circle class="o" cx="759.6" cy="666.2" r="6.75"/>
<circle class="o" cx="977.1" cy="834.5" r="6.75"/>
<circle class="o" cx="730.4" cy="783.9" r="6.75"/>
<circle class="o" cx="751.5" cy="534.1" r="6.75"/>
<circle class="o" cx="836.3" cy="946.0" r="6.75"/>
<circle class="o" cx="294.2" cy="315.0" r="6.75"/>
<circle class="o" cx="465.5" cy="312.3" r="6.75"/>
<circle class="o" cx="370.1" cy="243.4" r="6.75"/>
<circle class="o" cx="400.2" cy="839.8" r="6.75"/>
<circle class="o" cx="586.8" cy="564.7" r="6.75"/>
<circle class="o" cx="682.4" cy="647.5" r="6.75"/>
<circle class="o" cx="386.5" cy="341.7" r="6.75"/>
<circle class="o" cx="917.4" cy="296.1" r="6.75"/>
<circle class="o" cx="900.6" cy="435.0" r="6.75"/>
<circle class="o" cx="808.3" cy="272.7" r="6.75"/>
<circle class="o" cx="918.0" cy="425.3" r="6.75"/>
<circle class="o" cx="414.8" cy="290.5" r="6.75"/>
<circle class="o" cx="952.2" cy="658.0" r="6.75"/>
<circle class="o" cx="583.1" cy="736.4" r="6.75"/>
<circle class="o" cx="263.0" cy="384.5" r="6.75"/>
<circle class="o" cx="643.9" cy="245.2" r="6.75"/>
<circle class="o" cx="719.8" cy="735.7" r="6.75"/>
<circle class="o" cx="520.7" cy="303.8" r="6.75"/>
<circle class="o" cx="1008.0" cy="290.1" r="6.75"/>
<circle class="o" cx="372.5" cy="293.1" r="6.75"/>
<circle class="o" cx="780.5" cy="880.4" r="6.75"/>
<circle class="o" cx="312.2" cy="374.1" r="6.75"/>
<circle class="o" cx="437.9" cy="297.0" r="6.75"/>
<circle class="o" cx="520.4" cy="977.9" r="6.75"/>
<circle class="o" cx="773.8" cy="844.0" r="6.75"/>
<circle class="o" cx="708.1" cy="1017.7" r="6.75"/>
<circle class="o" cx="443.7" cy="803.8" r="6.75"/>
<circle class="o" cx="533.2" cy="311.8" r="6.75"/>
<circle class="o" cx="728.7" cy="762.1" r="6.75"/>
<circle class="o" cx="312.0" cy="541.0" r="6.75"/>
<circle class="o" cx="788.0" cy="886.5" r="6.75"/>
<circle class="o" cx="999.3" cy="845.0" r="6.75"/>
<circle class="o" cx="1032.8" cy="339.4" r="6.75"/>
<circle class="o" cx="538.1" cy="989.7" r="6.75"/>
<circle class="o" cx="906.8" cy="530.7" r="6.75"/>
<circle class="o" cx="683.2" cy="868.2" r="6.75"/>
<circle class="o" cx="599.0" cy="1019.5" r="6.75"/>
<circle class="o" cx="584.8" cy="929.1" r="6.75"/>
<circle class="o" cx="685.8" cy="795.6" r="6.75"/>
<circle class="o" cx="294.6" cy="488.2" r="6.75"/>
<circle class="o" cx="638.0" cy="238.3" r="6.75"/>
<circle class="o" cx="785.3" cy="302.2" r="6.75"/>
<circle class="o" cx="682.9" cy="961.6" r="6.75"/>
<circle class="o" cx="405.9" cy="790.1" r="6.75"/>
<circle class="o" cx="383.6" cy="832.1" r="6.75"/>
<circle class="o" cx="478.7" cy="323.7" r="6.75"/>
<circle class="o" cx="1009.8" cy="809.2" r="6.75"/>
<circle class="o" cx="529.4" cy="534.6" r="6.75"/>
<circle class="o" cx="380.2" cy="303.3" r="6.75"/>
<circle class="o" cx="658.4" cy="1048.3" r="6.75"/>
<circle class="o" cx="789.3" cy="781.3" r="6.75"/>
<circle class="o" cx="506.4" cy="323.8" r="6.75"/>
<circle class="o" cx="991.4" cy="433.4" r="6.75"/>
<circle class="o" cx="288.5" cy="318.1" r="6.75"/>
<circle class="o" cx="678.8" cy="871.5" r="6.75"/>
<circle class="o" cx="553.8" cy="254.3" r="6.75"/>
<circle class="o" cx="681.5" cy="222.2" r="6.75"/>
<circle class="o" cx="671.3" cy="1033.5" r="6.75"/>
<circle class="o" cx="506.8" cy="756.1" r="6.75"/>
<circle class="o" cx="449.6" cy="267.8" r="6.75"/>
<circle class="o" cx="364.1" cy="541.1" r="6.75"/>
<circle class="o" cx="668.7" cy="368.7" r="6.75"/>
<circle class="o" cx="601.7" cy="961.0" r="6.75"/>
<circle class="o" cx="328.9" cy="310.9" r="6.75"/>
<circle class="o" cx="515.4" cy="525.5" r="6.75"/>
<circle class="o" cx="556.4" cy="554.8" r="6.75"/>
<circle class="o" cx="412.4" cy="457.2" r="6.75"/>
<circle class="o" cx="564.3" cy="294.2" r="6.75"/>
<circle class="o" cx="1004.5" cy="781.5" r="6.75"/>
<circle class="o" cx="630.7" cy="935.1" r="6.75"/>
<circle class="o" cx="861.0" cy="829.6" r="6.75"/>
<circle class="o" cx="1035.6" cy="453.8" r="6.75"/>
<circle class="o" cx="580.8" cy="291.1" r="6.75"/>
<circle class="o" cx="422.0" cy="306.0" r="6.75"/>
<circle class="o" cx="386.2" cy="800.4" r="6.75"/>
<circle class="o" cx="1032.4" cy="311.0" r="6.75"/>
<circle class="o" cx="302.8" cy="429.0" r="6.75"/>
<circle class="o" cx="912.3" cy="788.1" r="6.75"/>
<circle class="o" cx="578.7" cy="284.0" r="6.75"/>
<circle class="o" cx="671.3" cy="841.2" r="6.75"/>
<circle class="o" cx="890.8" cy="426.8" r="6.75"/>
<circle class="o" cx="357.3" cy="963.8" r="6.75"/>
<circle class="o" cx="364.0" cy="260.6" r="6.75"/>
<circle class="o" cx="390.2" cy="467.4" r="6.75"/>
<circle class="o" cx="546.0" cy="484.4" r="6.75"/>
<circle class="o" cx="634.4" cy="258.7" r="6.75"/>
<circle class="o" cx="445.9" cy="354.7" r="6.75"/>
<circle class="o" cx="351.7" cy="839.2" r="6.75"/>
<circle class="o" cx="639.8" cy="866.1" r="6.75"/>
<circle class="o" cx="949.5" cy="844.6" r="6.75"/>
<circle class="o" cx="594.8" cy="427.1" r="6.75"/>
<circle class="o" cx="570.8" cy="292.6" r="6.75"/>
<circle class="o" cx="1036.9" cy="469.3" r="6.75"/>
<circle class="o" cx="349.1" cy="807.9" r="6.75"/>
<circle class="o" cx="354.8" cy="398.6" r="6.75"/>
<circle class="o" cx="510.0" cy="897.2" r="6.75"/>
<circle class="o" cx="695.3" cy="703.4" r="6.75"/>
<circle class="o" cx="692.8" cy="251.0" r="6.75"/>
<circle class="o" cx="664.6" cy="262.7" r="6.75"/>
<circle class="o" cx="899.9" cy="381.3" r="6.75"/>
<circle class="o" cx="405.0" cy="294.6" r="6.75"/>
<circle class="o" cx="858.7" cy="391.8" r="6.75"/>
<circle class="o" cx="572.2" cy="888.4" r="6.75"/>
<circle class="o" cx="908.2" cy="525.5" r="6.75"/>
<circle class="o" cx="675.3" cy="847.2" r="6.75"/>
<circle class="o" cx="390.1" cy="276.9" r="6.75"/>
<circle class="o" cx="509.7" cy="905.7" r="6.75"/>
<circle class="o" cx="899.9" cy="934.4" r="6.75"/>
<circle class="o" cx="969.6" cy="489.7" r="6.75"/>
<circle class="o" cx="287.2" cy="387.2" r="6.75"/>
<circle class="o" cx="868.8" cy="837.8" r="6.75"/>
<circle class="o" cx="365.6" cy="729.3" r="6.75"/>
<circle class="o" cx="784.1" cy="948.4" r="6.75"/>
<circle class="o" cx="590.1" cy="822.4" r="6.75"/>
<circle class="o" cx="635.8" cy="811.5" r="6.75"/>
<circle class="o" cx="491.5" cy="301.1" r="6.75"/>
<circle class="o" cx="487.6" cy="894.0" r="6.75"/>
<circle class="o" cx="410.8" cy="293.4" r="6.75"/>
<circle class="o" cx="368.9" cy="249.1" r="6.75"/>
<circle class="o" cx="521.2" cy="533.8" r="6.75"/>
<circle class="o" cx="423.3" cy="843.9" r="6.75"/>
<circle class="o" cx="696.3" cy="773.2" r="6.75"/>
<circle class="o" cx="922.4" cy="421.1" r="6.75"/>
<circle class="o" cx="718.0" cy="1049.9" r="6.75"/>
<circle class="o" cx="539.3" cy="927.3" r="6.75"/>
<circle class="o" cx="362.0" cy="533.0" r="6.75"/>
<circle class="o" cx="929.2" cy="419.1" r="6.75"/>
<circle class="o" cx="727.9" cy="850.4" r="6.75"/>
<circle class="o" cx="558.7" cy="1039.1" r="6.75"/>
<circle class="o" cx="551.2" cy="576.2" r="6.75"/>
<circle class="o" cx="728.7" cy="1015.6" r="6.75"/>
<circle class="o" cx="666.2" cy="293.9" r="6.75"/>
<circle class="o" cx="292.1" cy="310.0" r="6.75"/>
<circle class="o" cx="437.5" cy="350.3" r="6.75"/>
<circle class="o" cx="912.2" cy="813.5" r="6.75"/>
<circle class="o" cx="591.3" cy="494.2" r="6.75"/>
<circle class="o" cx="272.0" cy="363.8" r="6.75"/>
<circle class="o" cx="961.2" cy="649.3" r="6.75"/>
<circle class="o" cx="358.6" cy="936.0" r="6.75"/>
<circle class="o" cx="713.4" cy="754.5" r="6.75"/>
<circle class="o" cx="646.2" cy="1082.0" r="6.75"/>
<circle class="o" cx="309.2" cy="323.3" r="6.75"/>
<circle class="o" cx="489.9" cy="726.8" r="6.75"/>
<circle class="o" cx="316.0" cy="539.0" r="6.75"/>
<circle class="o" cx="505.7" cy="990.1" r="6.75"/>
<circle class="o" cx="580.7" cy="465.2" r="6.75"/>
<circle class="o" cx="723.6" cy="1044.7" r="6.75"/>
<circle class="o" cx="773.9" cy="306.4" r="6.75"/>
<circle class="o" cx="440.3" cy="341.3" r="6.75"/>
<circle class="o" cx="788.6" cy="728.8" r="6.75"/>
<circle class="o" cx="999.4" cy="287.9" r="6.75"/>
<circle class="o" cx="370.4" cy="746.8" r="6.75"/>
<circle class="o" cx="717.8" cy="299.2" r="6.75"/>
<circle class="o" cx="704.3" cy="825.4" r="6.75"/>
<circle class="o" cx="353.1" cy="267.0" r="6.75"/>
<circle class="o" cx="961.4" cy="654.9" r="6.75"/>
<circle class="o" cx="344.4" cy="529.6" r="6.75"/>
<circle class="o" cx="997.2" cy="427.5" r="6.75"/>
<circle class="o" cx="556.4" cy="232.3" r="6.75"/>
<circle class="o" cx="646.8" cy="811.3" r="6.75"/>
<circle class="o" cx="882.1" cy="382.5" r="6.75"/>
<circle class="o" cx="619.5" cy="972.9" r="6.75"/>
<circle class="o" cx="996.4" cy="459.5" r="6.75"/>
<circle class="o" cx="795.1" cy="321.5" r="6.75"/>
<circle class="o" cx="916.8" cy="877.5" r="6.75"/>
<circle class="o" cx="709.4" cy="631.1" r="6.75"/>
<circle class="o" cx="391.6" cy="367.5" r="6.75"/>
<circle class="o" cx="1053.1" cy="331.7" r="6.75"/>
<circle class="o" cx="989.5" cy="305.4" r="6.75"/>
<circle class="o" cx="661.0" cy="776.9" r="6.75"/>
<circle class="o" cx="552.9" cy="564.7" r="6.75"/>
<circle class="o" cx="685.6" cy="231.8" r="6.75"/>
<circle class="o" cx="354.4" cy="793.2" r="6.75"/>
<circle class="o" cx="582.7" cy="1059.9" r="6.75"/>
<circle class="o" cx="698.7" cy="814.5" r="6.75"/>
<circle class="o" cx="570.0" cy="265.8" r="6.75"/>
<circle class="o" cx="574.4" cy="915.3" r="6.75"/>
<circle class="o" cx="518.8" cy="914.3" r="6.75"/>
<circle class="o" cx="717.3" cy="799.8" r="6.75"/>
<circle class="o" cx="406.7" cy="288.5" r="6.75"/>
<circle class="o" cx="903.9" cy="864.1" r="6.75"/>
<circle class="o" cx="358.6" cy="943.8" r="6.75"/>
<circle class="o" cx="691.2" cy="1071.1" r="6.75"/>
<circle class="o" cx="562.2" cy="1007.3" r="6.75"/>
<circle class="o" cx="441.4" cy="399.2" r="6.75"/>
<circle class="o" cx="633.6" cy="855.0" r="6.75"/>
<circle class="o" cx="325.3" cy="361.7" r="6.75"/>
<circle class="o" cx="544.8" cy="1024.7" r="6.75"/>
<circle class="o" cx="805.5" cy="831.5" r="6.75"/>
<circle class="o" cx="621.3" cy="424.6" r="6.75"/>
<circle class="o" cx="956.1" cy="886.6" r="6.75"/>
<circle class="o" cx="779.6" cy="753.7" r="6.75"/>
<circle class="o" cx="932.4" cy="641.1" r="6.75"/>
<circle class="o" cx="664.4" cy="818.5" r="6.75"/>
<circle class="o" cx="340.4" cy="328.2" r="6.75"/>
<circle class="o" cx="541.3" cy="230.6" r="6.75"/>
<circle class="o" cx="734.5" cy="847.2" r="6.75"/>
<circle class="o" cx="909.4" cy="636.3" r="6.75"/>
<circle class="o" cx="693.4" cy="784.4" r="6.75"/>
<circle class="o" cx="678.4" cy="664.1" r="6.75"/>
<circle class="o" cx="561.1" cy="786.3" r="6.75"/>
<circle class="o" cx="636.5" cy="836.1" r="6.75"/>
<circle class="o" cx="757.9" cy="429.2" r="6.75"/>
<circle class="o" cx="911.9" cy="393.1" r="6.75"/>
<circle class="o" cx="258.5" cy="316.0" r="6.75"/>
<circle class="o" cx="632.2" cy="519.5" r="6.75"/>
<circle class="o" cx="478.4" cy="254.9" r="6.75"/>
<circle class="o" cx="928.8" cy="511.8" r="6.75"/>
<circle class="o" cx="935.4" cy="422.4" r="6.75"/>
<circle class="o" cx="660.9" cy="840.0" r="6.75"/>
<circle class="o" cx="941.3" cy="437.7" r="6.75"/>
<circle class="o" cx="538.6" cy="369.9" r="6.75"/>
<circle class="o" cx="780.4" cy="306.1" r="6.75"/>
<circle class="o" cx="641.2" cy="1013.2" r="6.75"/>
<circle class="o" cx="746.4" cy="686.9" r="6.75"/>
<circle class="o" cx="634.0" cy="1033.0" r="6.75"/>
<circle class="o" cx="746.7" cy="856.3" r="6.75"/>
<circle class="o" cx="764.2" cy="863.8" r="6.75"/>
<circle class="o" cx="368.6" cy="557.6" r="6.75"/>
<circle class="o" cx="806.4" cy="806.8" r="6.75"/>
<circle class="o" cx="913.9" cy="312.6" r="6.75"/>
<circle class="o" cx="520.9" cy="260.5" r="6.75"/>
<circle class="o" cx="577.9" cy="276.4" r="6.75"/>
<circle class="o" cx="626.9" cy="1004.9" r="6.75"/>
<circle class="o" cx="634.9" cy="952.6" r="6.75"/>
<circle class="o" cx="563.8" cy="929.3" r="6.75"/>
<circle class="o" cx="699.1" cy="295.7" r="6.75"/>
<circle class="o" cx="634.7" cy="476.5" r="6.75"/>
<circle class="o" cx="557.5" cy="224.5" r="6.75"/>
<circle class="o" cx="552.8" cy="845.4" r="6.75"/>
<circle class="o" cx="304.9" cy="478.2" r="6.75"/>
<circle class="o" cx="455.0" cy="267.2" r="6.75"/>
<circle class="o" cx="713.5" cy="358.7" r="6.75"/>
<circle class="o" cx="663.7" cy="965.7" r="6.75"/>
<circle class="o" cx="632.1" cy="1022.3" r="6.75"/>
<circle class="o" cx="891.9" cy="794.9" r="6.75"/>
<circle class="p" cx="955.1" cy="301.7" r="6.75"/>
<circle class="p" cx="655.1" cy="302.0" r="6.75"/>
<circle class="p" cx="954.0" cy="639.7" r="6.75"/>
<circle class="p" cx="340.5" cy="832.3" r="6.75"/>
<circle class="p" cx="418.1" cy="331.9" r="6.75"/>
<circle class="p" cx="563.4" cy="318.9" r="6.75"/>
<circle class="p" cx="747.7" cy="812.9" r="6.75"/>
<circle class="p" cx="527.7" cy="944.2" r="6.75"/>
<circle class="p" cx="429.0" cy="759.9" r="6.75"/>
<circle class="p" cx="214.4" cy="452.0" r="6.75"/>
<circle class="p" cx="537.7" cy="1043.7" r="6.75"/>
<circle class="p" cx="669.1" cy="890.6" r="6.75"/>
<circle class="p" cx="560.6" cy="890.8" r="6.75"/>
<circle class="p" cx="628.6" cy="939.8" r="6.75"/>
<circle class="p" cx="395.6" cy="278.4" r="6.75"/>
<circle class="p" cx="636.6" cy="252.9" r="6.75"/>
<circle class="p" cx="638.0" cy="928.6" r="6.75"/>
<circle class="p" cx="417.7" cy="241.0" r="6.75"/>
<circle class="p" cx="414.1" cy="275.4" r="6.75"/>
<circle class="p" cx="920.8" cy="443.9" r="6.75"/>
<circle class="p" cx="572.2" cy="759.9" r="6.75"/>
<circle class="p" cx="438.0" cy="236.7" r="6.75"/>
<circle class="p" cx="729.4" cy="275.4" r="6.75"/>
<circle class="p" cx="517.5" cy="991.6" r="6.75"/>
<circle class="p" cx="703.3" cy="751.2" r="6.75"/>
<circle class="p" cx="1044.1" cy="470.2" r="6.75"/>
<circle class="p" cx="760.3" cy="263.0" r="6.75"/>
<circle class="p" cx="673.8" cy="960.5" r="6.75"/>
<circle class="p" cx="378.9" cy="426.1" r="6.75"/>
<circle class="p" cx="827.2" cy="277.2" r="6.75"/>
<circle class="p" cx="634.9" cy="1002.7" r="6.75"/>
<circle class="p" cx="844.4" cy="432.2" r="6.75"/>
<circle class="p" cx="461.2" cy="336.1" r="6.75"/>
<circle class="p" cx="789.7" cy="492.5" r="6.75"/>
<circle class="p" cx="531.7" cy="967.2" r="6.75"/>
<circle class="p" cx="531.6" cy="277.5" r="6.75"/>
<circle class="p" cx="670.0" cy="319.6" r="6.75"/>
<circle class="p" cx="653.9" cy="821.2" r="6.75"/>
<circle class="p" cx="308.7" cy="318.5" r="6.75"/>
<circle class="p" cx="578.0" cy="444.1" r="6.75"/>
<circle class="p" cx="914.1" cy="419.6" r="6.75"/>
<circle class="p" cx="392.8" cy="353.1" r="6.75"/>
<circle class="p" cx="1025.1" cy="285.1" r="6.75"/>
<circle class="p" cx="473.1" cy="251.2" r="6.75"/>
<circle class="p" cx="416.9" cy="708.2" r="6.75"/>
<circle class="p" cx="942.5" cy="803.8" r="6.75"/>
<circle class="p" cx="345.3" cy="833.8" r="6.75"/>
<circle class="p" cx="757.3" cy="286.1" r="6.75"/>
<circle class="p" cx="580.9" cy="499.5" r="6.75"/>
<circle class="p" cx="492.8" cy="942.2" r="6.75"/>
<circle class="p" cx="307.2" cy="309.9" r="6.75"/>
<circle class="p" cx="344.0" cy="583.5" r="6.75"/>
<circle class="p" cx="683.2" cy="210.8" r="6.75"/>
<circle class="p" cx="732.4" cy="729.0" r="6.75"/>
<circle class="p" cx="281.8" cy="350.7" r="6.75"/>
<circle class="p" cx="910.7" cy="443.0" r="6.75"/>
<circle class="p" cx="425.4" cy="254.0" r="6.75"/>
<circle class="p" cx="913.4" cy="410.8" r="6.75"/>
<circle class="p" cx="829.2" cy="912.7" r="6.75"/>
<circle class="p" cx="695.9" cy="793.1" r="6.75"/>
<circle class="p" cx="650.6" cy="1007.8" r="6.75"/>
<circle class="p" cx="538.7" cy="1008.6" r="6.75"/>
<circle class="p" cx="604.9" cy="242.0" r="6.75"/>
<circle class="p" cx="645.0" cy="989.9" r="6.75"/>
<circle class="p" cx="1054.8" cy="311.0" r="6.75"/>
<circle class="p" cx="686.1" cy="262.9" r="6.75"/>
<circle class="p" cx="520.1" cy="311.1" r="6.75"/>
<circle class="p" cx="802.6" cy="315.2" r="6.75"/>
<circle class="p" cx="630.1" cy="214.6" r="6.75"/>
<circle class="p" cx="495.5" cy="385.2" r="6.75"/>
<circle class="p" cx="811.9" cy="718.4" r="6.75"/>
<circle class="p" cx="731.4" cy="772.1" r="6.75"/>
<circle class="p" cx="899.8" cy="636.3" r="6.75"/>
<circle class="p" cx="525.4" cy="782.2" r="6.75"/>
<circle class="p" cx="647.4" cy="1057.4" r="6.75"/>
<circle class="p" cx="508.0" cy="955.0" r="6.75"/>
<circle class="p" cx="783.7" cy="265.5" r="6.75"/>
<circle class="p" cx="890.7" cy="816.1" r="6.75"/>
<circle class="p" cx="606.5" cy="961.5" r="6.75"/>
<circle class="p" cx="586.0" cy="494.6" r="6.75"/>
<circle class="p" cx="236.2" cy="337.1" r="6.75"/>
<circle class="p" cx="516.2" cy="511.7" r="6.75"/>
<circle class="p" cx="517.1" cy="230.0" r="6.75"/>
<circle class="p" cx="595.5" cy="925.7" r="6.75"/>
<circle class="p" cx="991.6" cy="423.0" r="6.75"/>
<circle class="p" cx="364.8" cy="378.5" r="6.75"/>
<circle class="p" cx="570.7" cy="884.0" r="6.75"/>
<circle class="p" cx="385.5" cy="814.9" r="6.75"/>
<circle class="p" cx="935.5" cy="844.5" r="6.75"/>
<circle class="p" cx="625.9" cy="1023.3" r="6.75"/>
<circle class="p" cx="487.0" cy="380.0" r="6.75"/>
<circle class="p" cx="516.6" cy="785.8" r="6.75"/>
<circle class="p" cx="1034.9" cy="299.2" r="6.75"/>
<circle class="p" cx="350.9" cy="833.5" r="6.75"/>
<circle class="p" cx="359.5" cy="289.1" r="6.75"/>
<circle class="p" cx="655.7" cy="267.8" r="6.75"/>
<circle class="p" cx="494.5" cy="985.7" r="6.75"/>
<circle class="p" cx="587.7" cy="981.9" r="6.75"/>
<circle class="p" cx="596.7" cy="225.7" r="6.75"/>
<circle class="p" cx="571.4" cy="830.2" r="6.75"/>
<circle class="p" cx="588.2" cy="949.0" r="6.75"/>
<circle class="p" cx="417.0" cy="833.7" r="6.75"/>
<circle class="p" cx="499.8" cy="883.1" r="6.75"/>
<circle class="p" cx="1029.7" cy="278.4" r="6.75"/>
<circle class="p" cx="670.9" cy="1068.2" r="6.75"/>
<circle class="p" cx="613.1" cy="538.7" r="6.75"/>
<circle class="p" cx="474.6" cy="900.0" r="6.75"/>
<circle class="p" cx="439.4" cy="263.8" r="6.75"/>
<circle class="p" cx="694.9" cy="840.7" r="6.75"/>
<circle class="p" cx="608.1" cy="833.8" r="6.75"/>
<circle class="p" cx="677.0" cy="260.5" r="6.75"/>
<circle class="p" cx="1070.8" cy="494.8" r="6.75"/>
<circle class="p" cx="365.7" cy="254.5" r="6.75"/>
<circle class="p" cx="900.6" cy="911.7" r="6.75"/>
<circle class="p" cx="844.4" cy="874.3" r="6.75"/>
<circle class="p" cx="902.5" cy="405.9" r="6.75"/>
<circle class="p" cx="672.5" cy="364.8" r="6.75"/>
<circle class="p" cx="752.8" cy="901.3" r="6.75"/>
<circle class="p" cx="820.3" cy="856.0" r="6.75"/>
<circle class="p" cx="879.4" cy="861.7" r="6.75"/>
<circle class="p" cx="793.9" cy="788.7" r="6.75"/>
<circle class="p" cx="511.4" cy="238.4" r="6.75"/>
<circle class="p" cx="542.6" cy="196.1" r="6.75"/>
<circle class="p" cx="935.5" cy="894.4" r="6.75"/>
<circle class="p" cx="574.1" cy="987.9" r="6.75"/>
<circle class="p" cx="979.4" cy="486.2" r="6.75"/>
<circle class="p" cx="397.7" cy="364.6" r="6.75"/>
<circle class="p" cx="270.0" cy="405.5" r="6.75"/>
<circle class="p" cx="549.8" cy="902.0" r="6.75"/>
<circle class="p" cx="565.3" cy="432.7" r="6.75"/>
<circle class="p" cx="607.3" cy="478.7" r="6.75"/>
<circle class="p" cx="623.5" cy="949.6" r="6.75"/>
<circle class="p" cx="1042.7" cy="484.4" r="6.75"/>
<circle class="p" cx="464.0" cy="321.1" r="6.75"/>
<circle class="p" cx="430.8" cy="841.3" r="6.75"/>
<circle class="p" cx="723.0" cy="875.1" r="6.75"/>
<circle class="p" cx="291.4" cy="412.8" r="6.75"/>
<circle class="p" cx="614.1" cy="931.1" r="6.75"/>
<circle class="p" cx="545.9" cy="1008.6" r="6.75"/>
<circle class="p" cx="514.0" cy="213.0" r="6.75"/>
<circle class="p" cx="778.4" cy="822.6" r="6.75"/>
<circle class="p" cx="946.8" cy="651.2" r="6.75"/>
<circle class="p" cx="407.9" cy="821.2" r="6.75"/>
<circle class="p" cx="641.7" cy="852.5" r="6.75"/>
<circle class="p" cx="757.9" cy="533.5" r="6.75"/>
<circle class="p" cx="882.3" cy="945.5" r="6.75"/>
<circle class="p" cx="345.1" cy="301.6" r="6.75"/>
<circle class="p" cx="1050.9" cy="327.5" r="6.75"/>
<circle class="p" cx="652.5" cy="504.3" r="6.75"/>
<circle class="p" cx="498.0" cy="949.5" r="6.75"/>
<circle class="p" cx="860.7" cy="571.5" r="6.75"/>
<circle class="p" cx="826.2" cy="949.4" r="6.75"/>
<circle class="p" cx="618.6" cy="784.2" r="6.75"/>
<circle class="p" cx="334.4" cy="263.5" r="6.75"/>
<circle class="p" cx="406.5" cy="312.4" r="6.75"/>
<circle class="p" cx="645.7" cy="493.4" r="6.75"/>
<circle class="p" cx="970.9" cy="870.3" r="6.75"/>
<circle class="p" cx="837.3" cy="893.1" r="6.75"/>
<circle class="p" cx="568.8" cy="308.7" r="6.75"/>
<circle class="p" cx="698.6" cy="759.6" r="6.75"/>
<circle class="p" cx="717.4" cy="267.3" r="6.75"/>
<circle class="p" cx="864.9" cy="650.6" r="6.75"/>
<circle class="p" cx="923.5" cy="437.0" r="6.75"/>
<circle class="p" cx="650.5" cy="869.8" r="6.75"/>
<circle class="p" cx="873.4" cy="843.4" r="6.75"/>
<circle class="p" cx="681.6" cy="1026.4" r="6.75"/>
<circle class="p" cx="735.1" cy="269.3" r="6.75"/>
<circle class="p" cx="672.5" cy="1007.6" r="6.75"/>
<circle class="p" cx="767.5" cy="1024.5" r="6.75"/>
<circle class="p" cx="422.8" cy="240.8" r="6.75"/>
<circle class="p" cx="901.8" cy="521.1" r="6.75"/>
<circle class="p" cx="528.9" cy="273.6" r="6.75"/>
<circle class="p" cx="1063.1" cy="498.9" r="6.75"/>
<circle class="p" cx="665.4" cy="707.5" r="6.75"/>
<circle class="p" cx="683.6" cy="735.6" r="6.75"/>
<circle class="p" cx="785.9" cy="857.8" r="6.75"/>
<circle class="p" cx="758.8" cy="842.2" r="6.75"/>
<circle class="p" cx="663.4" cy="278.0" r="6.75"/>
<circle class="p" cx="451.5" cy="277.5" r="6.75"/>
<circle class="p" cx="798.1" cy="949.1" r="6.75"/>
<circle class="p" cx="995.7" cy="315.3" r="6.75"/>
<circle class="p" cx="560.7" cy="252.8" r="6.75"/>
<circle class="p" cx="583.9" cy="486.4" r="6.75"/>
<circle class="p" cx="317.8" cy="402.7" r="6.75"/>
<circle class="p" cx="427.1" cy="323.0" r="6.75"/>
<circle class="p" cx="487.1" cy="351.4" r="6.75"/>
<circle class="p" cx="789.0" cy="432.3" r="6.75"/>
<circle class="p" cx="1027.4" cy="445.9" r="6.75"/>
<circle class="p" cx="603.8" cy="1073.9" r="6.75"/>
<circle class="p" cx="585.8" cy="994.7" r="6.75"/>
<circle class="p" cx="596.5" cy="216.6" r="6.75"/>
<circle class="p" cx="779.9" cy="496.0" r="6.75"/>
<circle class="p" cx="505.1" cy="280.8" r="6.75"/>
<circle class="p" cx="939.4" cy="647.8" r="6.75"/>
<circle class="p" cx="749.6" cy="1038.3" r="6.75"/>
<circle class="p" cx="724.2" cy="843.2" r="6.75"/>
<circle class="p" cx="995.9" cy="475.3" r="6.75"/>
<circle class="p" cx="615.4" cy="305.0" r="6.75"/>
<circle class="p" cx="662.4" cy="832.8" r="6.75"/>
<circle class="p" cx="524.1" cy="216.0" r="6.75"/>
<circle class="p" cx="567.7" cy="910.0" r="6.75"/>
<circle class="p" cx="515.0" cy="319.1" r="6.75"/>
<circle class="p" cx="1084.8" cy="488.6" r="6.75"/>
<circle class="p" cx="353.5" cy="331.4" r="6.75"/>
<circle class="p" cx="830.8" cy="856.1" r="6.75"/>
<circle class="p" cx="707.9" cy="838.5" r="6.75"/>
<circle class="p" cx="718.6" cy="834.4" r="6.75"/>
<circle class="p" cx="544.0" cy="1042.7" r="6.75"/>
<circle class="p" cx="929.3" cy="440.1" r="6.75"/>
<circle class="p" cx="563.4" cy="1016.0" r="6.75"/>
<circle class="p" cx="700.2" cy="261.0" r="6.75"/>
<circle class="p" cx="727.7" cy="469.4" r="6.75"/>
<circle class="p" cx="735.3" cy="781.0" r="6.75"/>
<circle class="p" cx="708.9" cy="792.7" r="6.75"/>
<circle class="p" cx="1002.4" cy="307.3" r="6.75"/>
<circle class="p" cx="687.1" cy="443.6" r="6.75"/>
<circle class="p" cx="385.7" cy="304.1" r="6.75"/>
<circle class="p" cx="798.3" cy="705.3" r="6.75"/>
<circle class="p" cx="671.4" cy="756.7" r="6.75"/>
<circle class="p" cx="682.7" cy="811.8" r="6.75"/>
<circle class="p" cx="848.4" cy="837.8" r="6.75"/>
<circle class="p" cx="1026.9" cy="320.3" r="6.75"/>
<circle class="p" cx="646.2" cy="292.4" r="6.75"/>
<circle class="p" cx="614.6" cy="486.6" r="6.75"/>
<circle class="p" cx="744.6" cy="909.4" r="6.75"/>
<circle class="p" cx="802.8" cy="900.5" r="6.75"/>
<circle class="p" cx="909.8" cy="863.1" r="6.75"/>
<circle class="p" cx="636.3" cy="712.7" r="6.75"/>
<circle class="p" cx="438.6" cy="318.0" r="6.75"/>
<circle class="p" cx="868.9" cy="397.8" r="6.75"/>
<circle class="p" cx="1034.9" cy="282.7" r="6.75"/>
<circle class="p" cx="782.1" cy="256.3" r="6.75"/>
<circle class="p" cx="590.5" cy="510.0" r="6.75"/>
<circle class="p" cx="695.0" cy="454.4" r="6.75"/>
<circle class="p" cx="703.3" cy="836.6" r="6.75"/>
<circle class="p" cx="528.2" cy="563.4" r="6.75"/>
<circle class="p" cx="1070.5" cy="320.3" r="6.75"/>
<circle class="p" cx="461.0" cy="342.3" r="6.75"/>
<circle class="p" cx="500.3" cy="990.7" r="6.75"/>
<circle class="p" cx="428.0" cy="812.8" r="6.75"/>
<circle class="p" cx="870.7" cy="820.7" r="6.75"/>
<circle class="p" cx="712.7" cy="759.5" r="6.75"/>
<circle class="p" cx="636.7" cy="220.6" r="6.75"/>
<circle class="p" cx="613.5" cy="828.7" r="6.75"/>
<circle class="p" cx="814.5" cy="897.7" r="6.75"/>
<circle class="p" cx="756.1" cy="885.5" r="6.75"/>
<circle class="p" cx="626.9" cy="230.7" r="6.75"/>
<circle class="p" cx="565.3" cy="439.8" r="6.75"/>
<circle class="p" cx="742.7" cy="802.1" r="6.75"/>
<circle class="p" cx="589.5" cy="306.3" r="6.75"/>
<circle class="p" cx="522.2" cy="478.0" r="6.75"/>
<circle class="p" cx="462.6" cy="246.9" r="6.75"/>
<circle class="p" cx="616.7" cy="310.9" r="6.75"/>
<circle class="p" cx="721.1" cy="769.7" r="6.75"/>
<circle class="p" cx="637.0" cy="792.5" r="6.75"/>
<circle class="p" cx="336.0" cy="270.9" r="6.75"/>
<circle class="p" cx="761.4" cy="881.1" r="6.75"/>
<circle class="p" cx="658.8" cy="263.0" r="6.75"/>
<circle class="p" cx="700.4" cy="384.0" r="6.75"/>
<circle class="p" cx="542.9" cy="522.9" r="6.75"/>
<circle class="p" cx="451.5" cy="861.7" r="6.75"/>
<circle class="p" cx="1009.3" cy="477.2" r="6.75"/>
<circle class="p" cx="320.2" cy="286.5" r="6.75"/>
<circle class="p" cx="532.3" cy="197.0" r="6.75"/>
<circle class="p" cx="759.5" cy="864.4" r="6.75"/>
<circle class="p" cx="768.0" cy="249.8" r="6.75"/>
<circle class="p" cx="405.0" cy="490.0" r="6.75"/>
<circle class="p" cx="413.8" cy="929.4" r="6.75"/>
<circle class="p" cx="577.5" cy="394.4" r="6.75"/>
<circle class="p" cx="541.2" cy="358.8" r="6.75"/>
<circle class="p" cx="561.9" cy="720.5" r="6.75"/>
<circle class="p" cx="1046.2" cy="410.1" r="6.75"/>
<circle class="p" cx="472.5" cy="418.8" r="6.75"/>
<circle class="p" cx="453.1" cy="783.1" r="6.75"/>
<circle class="p" cx="649.9" cy="1001.3" r="6.75"/>
<circle class="p" cx="355.9" cy="254.3" r="6.75"/>
<circle class="p" cx="913.4" cy="916.7" r="6.75"/>
<circle class="p" cx="940.3" cy="496.1" r="6.75"/>
<circle class="p" cx="673.6" cy="808.0" r="6.75"/>
<circle class="p" cx="594.5" cy="869.2" r="6.75"/>
<circle class="p" cx="716.3" cy="815.2" r="6.75"/>
<circle class="p" cx="317.7" cy="271.0" r="6.75"/>
<circle class="p" cx="600.0" cy="920.3" r="6.75"/>
<circle class="p" cx="515.2" cy="901.8" r="6.75"/>
<circle class="p" cx="859.3" cy="625.7" r="6.75"/>
<circle class="p" cx="697.1" cy="232.0" r="6.75"/>
<circle class="p" cx="659.8" cy="274.8" r="6.75"/>
<circle class="p" cx="939.4" cy="837.4" r="6.75"/>
<circle class="p" cx="563.9" cy="830.3" r="6.75"/>
<circle class="p" cx="649.3" cy="930.2" r="6.75"/>
<circle class="p" cx="334.0" cy="384.8" r="6.75"/>
<circle class="p" cx="868.2" cy="843.9" r="6.75"/>
<circle class="p" cx="930.1" cy="305.5" r="6.75"/>
<circle class="p" cx="326.5" cy="323.5" r="6.75"/>
<circle class="p" cx="739.5" cy="797.2" r="6.75"/>
<circle class="p" cx="562.3" cy="985.3" r="6.75"/>
<circle class="p" cx="299.1" cy="297.7" r="6.75"/>
<circle class="p" cx="541.5" cy="309.3" r="6.75"/>
<circle class="p" cx="726.1" cy="723.8" r="6.75"/>
<circle class="p" cx="764.3" cy="242.6" r="6.75"/>
<circle class="p" cx="664.5" cy="1043.2" r="6.75"/>
<circle class="p" cx="485.5" cy="344.2" r="6.75"/>
<circle class="p" cx="358.8" cy="740.2" r="6.75"/>
<circle class="p" cx="824.6" cy="723.5" r="6.75"/>
<circle class="p" cx="619.7" cy="528.4" r="6.75"/>
<circle class="p" cx="617.0" cy="438.6" r="6.75"/>
<circle class="p" cx="707.5" cy="260.3" r="6.75"/>
<circle class="p" cx="892.4" cy="923.2" r="6.75"/>
<circle class="p" cx="488.3" cy="264.9" r="6.75"/>
<circle class="p" cx="584.6" cy="305.4" r="6.75"/>
<circle class="p" cx="367.3" cy="957.9" r="6.75"/>
<circle class="p" cx="925.0" cy="393.6" r="6.75"/>
<circle class="p" cx="478.7" cy="282.1" r="6.75"/>
<circle class="p" cx="359.6" cy="257.4" r="6.75"/>
<circle class="p" cx="593.9" cy="930.6" r="6.75"/>
<circle class="p" cx="611.6" cy="963.3" r="6.75"/>
<circle class="p" cx="567.1" cy="241.7" r="6.75"/>
<circle class="p" cx="834.4" cy="424.8" r="6.75"/>
<circle class="p" cx="1065.2" cy="494.7" r="6.75"/>
<circle class="p" cx="356.9" cy="498.3" r="6.75"/>
<circle class="p" cx="798.7" cy="940.2" r="6.75"/>
<circle class="p" cx="516.1" cy="218.1" r="6.75"/>
<circle class="p" cx="968.5" cy="639.0" r="6.75"/>
<circle class="p" cx="518.3" cy="481.0" r="6.75"/>
<circle class="p" cx="587.9" cy="796.9" r="6.75"/>
<circle class="p" cx="928.5" cy="632.8" r="6.75"/>
<circle class="p" cx="583.1" cy="471.0" r="6.75"/>
<circle class="p" cx="677.9" cy="367.4" r="6.75"/>
<circle class="p" cx="775.0" cy="712.5" r="6.75"/>
<circle class="p" cx="565.9" cy="396.6" r="6.75"/>
<circle class="p" cx="1034.5" cy="463.6" r="6.75"/>
<circle class="p" cx="633.1" cy="1073.3" r="6.75"/>
<circle class="p" cx="582.6" cy="938.1" r="6.75"/>
<circle class="p" cx="607.3" cy="1035.4" r="6.75"/>
<circle class="p" cx="531.1" cy="221.5" r="6.75"/>
<circle class="p" cx="929.2" cy="887.2" r="6.75"/>
<circle class="p" cx="720.5" cy="254.2" r="6.75"/>
<circle class="p" cx="773.4" cy="298.9" r="6.75"/>
<circle class="p" cx="405.2" cy="242.5" r="6.75"/>
<circle class="p" cx="661.3" cy="867.2" r="6.75"/>
<circle class="p" cx="797.5" cy="820.5" r="6.75"/>
<circle class="p" cx="342.6" cy="804.1" r="6.75"/>
<circle class="p" cx="757.4" cy="760.0" r="6.75"/>
<circle class="p" cx="643.2" cy="842.3" r="6.75"/>
<circle class="p" cx="575.4" cy="330.5" r="6.75"/>
<circle class="p" cx="411.3" cy="223.5" r="6.75"/>
<circle class="p" cx="905.1" cy="650.1" r="6.75"/>
<circle class="p" cx="825.6" cy="835.7" r="6.75"/>
<circle class="p" cx="526.4" cy="452.9" r="6.75"/>
<circle class="p" cx="1034.8" cy="292.2" r="6.75"/>
<circle class="p" cx="782.4" cy="818.8" r="6.75"/>
<circle class="p" cx="582.9" cy="261.9" r="6.75"/>
<circle class="p" cx="927.8" cy="330.0" r="6.75"/>
<circle class="p" cx="657.6" cy="231.2" r="6.75"/>
<circle class="p" cx="363.8" cy="395.2" r="6.75"/>
<circle class="p" cx="603.8" cy="266.3" r="6.75"/>
<circle class="p" cx="607.3" cy="516.1" r="6.75"/>
<circle class="p" cx="748.3" cy="866.0" r="6.75"/>
<circle class="p" cx="750.9" cy="271.5" r="6.75"/>
<circle class="p" cx="660.2" cy="855.9" r="6.75"/>
<circle class="p" cx="519.0" cy="998.0" r="6.75"/>
<circle class="p" cx="888.1" cy="872.6" r="6.75"/>
<circle class="p" cx="961.4" cy="412.4" r="6.75"/>
<circle class="p" cx="801.9" cy="891.6" r="6.75"/>
<circle class="p" cx="783.2" cy="887.8" r="6.75"/>
<circle class="p" cx="370.8" cy="300.9" r="6.75"/>
<circle class="p" cx="688.6" cy="1058.5" r="6.75"/>
<circle class="p" cx="612.4" cy="860.6" r="6.75"/>
<circle class="p" cx="1022.9" cy="468.8" r="6.75"/>
<circle class="p" cx="671.8" cy="1012.4" r="6.75"/>
<circle class="p" cx="679.9" cy="632.8" r="6.75"/>
<circle class="p" cx="523.6" cy="250.4" r="6.75"/>
<circle class="p" cx="776.8" cy="917.7" r="6.75"/>
<circle class="p" cx="559.1" cy="529.2" r="6.75"/>
<circle class="p" cx="958.0" cy="876.1" r="6.75"/>
<circle class="p" cx="863.2" cy="422.5" r="6.75"/>
<circle class="p" cx="564.4" cy="444.9" r="6.75"/>
<circle class="p" cx="572.6" cy="285.9" r="6.75"/>
<circle class="p" cx="575.7" cy="908.2" r="6.75"/>
<circle class="p" cx="894.5" cy="633.0" r="6.75"/>
<circle class="p" cx="756.3" cy="299.1" r="6.75"/>
<circle class="p" cx="700.9" cy="277.4" r="6.75"/>
<circle class="p" cx="687.4" cy="657.9" r="6.75"/>
<circle class="p" cx="846.3" cy="445.1" r="6.75"/>
<circle class="p" cx="455.6" cy="322.1" r="6.75"/>
<circle class="p" cx="858.1" cy="433.3" r="6.75"/>
<circle class="p" cx="748.8" cy="257.3" r="6.75"/>
<circle class="p" cx="634.6" cy="941.4" r="6.75"/>
<circle class="p" cx="371.7" cy="841.2" r="6.75"/>
<circle class="p" cx="1062.1" cy="323.3" r="6.75"/>
<circle class="p" cx="445.1" cy="866.8" r="6.75"/>
<circle class="p" cx="549.7" cy="270.8" r="6.75"/>
<circle class="p" cx="930.0" cy="654.5" r="6.75"/>
<circle class="p" cx="351.7" cy="336.3" r="6.75"/>
<circle class="p" cx="883.1" cy="853.5" r="6.75"/>
<circle class="p" cx="576.2" cy="899.2" r="6.75"/>
<circle class="p" cx="815.2" cy="711.4" r="6.75"/>
<circle class="p" cx="544.1" cy="367.3" r="6.75"/>
<circle class="p" cx="666.9" cy="738.7" r="6.75"/>
<circle class="p" cx="619.3" cy="1086.9" r="6.75"/>
<circle class="p" cx="816.7" cy="902.1" r="6.75"/>
<circle class="p" cx="349.2" cy="296.1" r="6.75"/>
<circle class="p" cx="644.2" cy="515.5" r="6.75"/>
<circle class="p" cx="661.3" cy="652.5" r="6.75"/>
<circle class="p" cx="558.2" cy="199.2" r="6.75"/>
<circle class="p" cx="894.1" cy="514.4" r="6.75"/>
<circle class="p" cx="656.3" cy="937.1" r="6.75"/>
<circle class="p" cx="444.7" cy="702.2" r="6.75"/>
<circle class="p" cx="643.7" cy="716.9" r="6.75"/>
<circle class="p" cx="501.4" cy="515.5" r="6.75"/>
<circle class="p" cx="767.5" cy="261.3" r="6.75"/>
<circle class="p" cx="373.6" cy="823.9" r="6.75"/>
<circle class="q" cx="510.3" cy="500.5" r="6.75"/>
<circle class="q" cx="422.1" cy="261.9" r="6.75"/>
<circle class="q" cx="1072.2" cy="469.0" r="6.75"/>
<circle class="q" cx="406.4" cy="323.0" r="6.75"/>
<circle class="q" cx="751.8" cy="756.5" r="6.75"/>
<circle class="q" cx="393.1" cy="930.2" r="6.75"/>
<circle class="q" cx="908.6" cy="858.5" r="6.75"/>
<circle class="q" cx="439.9" cy="277.6" r="6.75"/>
<circle class="q" cx="913.1" cy="846.7" r="6.75"/>
<circle class="q" cx="614.7" cy="970.6" r="6.75"/>
<circle class="q" cx="887.8" cy="824.3" r="6.75"/>
<circle class="q" cx="749.5" cy="308.2" r="6.75"/>
<circle class="q" cx="661.9" cy="1080.3" r="6.75"/>
<circle class="q" cx="906.6" cy="877.7" r="6.75"/>
<circle class="q" cx="760.2" cy="836.2" r="6.75"/>
<circle class="q" cx="997.2" cy="301.3" r="6.75"/>
<circle class="q" cx="609.7" cy="507.6" r="6.75"/>
<circle class="q" cx="911.7" cy="880.0" r="6.75"/>
<circle class="q" cx="769.8" cy="447.0" r="6.75"/>
<circle class="q" cx="917.0" cy="823.7" r="6.75"/>
<circle class="q" cx="947.2" cy="437.6" r="6.75"/>
<circle class="q" cx="779.9" cy="408.3" r="6.75"/>
<circle class="q" cx="812.8" cy="959.5" r="6.75"/>
<circle class="q" cx="636.4" cy="263.5" r="6.75"/>
<circle class="q" cx="363.4" cy="797.2" r="6.75"/>
<circle class="q" cx="595.9" cy="824.3" r="6.75"/>
<circle class="q" cx="526.0" cy="899.9" r="6.75"/>
<circle class="q" cx="850.9" cy="435.3" r="6.75"/>
<circle class="q" cx="649.3" cy="823.5" r="6.75"/>
<circle class="q" cx="462.8" cy="217.6" r="6.75"/>
<circle class="q" cx="342.8" cy="356.6" r="6.75"/>
<circle class="q" cx="621.3" cy="723.9" r="6.75"/>
<circle class="q" cx="618.1" cy="983.2" r="6.75"/>
<circle class="q" cx="823.2" cy="841.9" r="6.75"/>
<circle class="q" cx="1017.2" cy="292.7" r="6.75"/>
<circle class="q" cx="718.4" cy="1055.1" r="6.75"/>
<circle class="q" cx="628.3" cy="497.8" r="6.75"/>
<circle class="q" cx="1010.4" cy="296.2" r="6.75"/>
<circle class="q" cx="928.0" cy="407.1" r="6.75"/>
<circle class="q" cx="600.6" cy="410.0" r="6.75"/>
<circle class="q" cx="737.3" cy="317.3" r="6.75"/>
<circle class="q" cx="506.3" cy="285.9" r="6.75"/>
<circle class="q" cx="625.3" cy="551.4" r="6.75"/>
<circle class="q" cx="378.1" cy="258.7" r="6.75"/>
<circle class="q" cx="1093.7" cy="474.5" r="6.75"/>
<circle class="q" cx="623.0" cy="281.3" r="6.75"/>
<circle class="q" cx="893.3" cy="913.6" r="6.75"/>
<circle class="q" cx="962.9" cy="876.7" r="6.75"/>
<circle class="q" cx="379.1" cy="830.3" r="6.75"/>
<circle class="q" cx="934.6" cy="439.7" r="6.75"/>
<circle class="q" cx="712.9" cy="848.6" r="6.75"/>
<circle class="q" cx="549.3" cy="262.6" r="6.75"/>
<circle class="q" cx="889.0" cy="842.5" r="6.75"/>
<circle class="q" cx="411.4" cy="332.6" r="6.75"/>
<circle class="q" cx="515.6" cy="223.9" r="6.75"/>
<circle class="q" cx="640.4" cy="936.0" r="6.75"/>
<circle class="q" cx="1073.6" cy="456.8" r="6.75"/>
<circle class="q" cx="886.2" cy="425.6" r="6.75"/>
<circle class="q" cx="861.5" cy="940.9" r="6.75"/>
<circle class="q" cx="349.7" cy="272.8" r="6.75"/>
<circle class="q" cx="819.3" cy="818.9" r="6.75"/>
<circle class="q" cx="681.7" cy="853.4" r="6.75"/>
<circle class="q" cx="769.9" cy="278.0" r="6.75"/>
<circle class="q" cx="879.9" cy="835.7" r="6.75"/>
<circle class="q" cx="609.3" cy="870.4" r="6.75"/>
<circle class="q" cx="474.0" cy="221.6" r="6.75"/>
<circle class="q" cx="312.0" cy="905.5" r="6.75"/>
<circle class="q" cx="528.6" cy="936.7" r="6.75"/>
<circle class="q" cx="360.6" cy="297.4" r="6.75"/>
<circle class="q" cx="664.4" cy="322.1" r="6.75"/>
<circle class="q" cx="481.5" cy="908.6" r="6.75"/>
<circle class="q" cx="746.0" cy="251.0" r="6.75"/>
<circle class="q" cx="442.3" cy="848.3" r="6.75"/>
<circle class="q" cx="623.7" cy="302.0" r="6.75"/>
<circle class="q" cx="934.6" cy="628.2" r="6.75"/>
<circle class="q" cx="700.4" cy="478.4" r="6.75"/>
<circle class="q" cx="1055.1" cy="305.0" r="6.75"/>
<circle class="q" cx="838.8" cy="828.6" r="6.75"/>
<circle class="q" cx="402.3" cy="714.5" r="6.75"/>
<circle class="q" cx="914.5" cy="526.9" r="6.75"/>
<circle class="q" cx="679.5" cy="817.6" r="6.75"/>
<circle class="q" cx="377.0" cy="246.4" r="6.75"/>
<circle class="q" cx="781.1" cy="721.6" r="6.75"/>
<circle class="q" cx="430.9" cy="282.4" r="6.75"/>
<circle class="q" cx="928.2" cy="423.9" r="6.75"/>
<circle class="q" cx="565.3" cy="267.6" r="6.75"/>
<circle class="q" cx="596.9" cy="849.9" r="6.75"/>
<circle class="q" cx="794.7" cy="803.4" r="6.75"/>
<circle class="q" cx="918.4" cy="415.2" r="6.75"/>
<circle class="q" cx="715.5" cy="1036.9" r="6.75"/>
<circle class="q" cx="850.1" cy="836.6" r="6.75"/>
<circle class="q" cx="584.5" cy="1054.4" r="6.75"/>
<circle class="q" cx="587.0" cy="770.0" r="6.75"/>
<circle class="q" cx="723.3" cy="864.6" r="6.75"/>
<circle class="q" cx="892.1" cy="928.1" r="6.75"/>
<circle class="q" cx="656.5" cy="1024.3" r="6.75"/>
<circle class="q" cx="483.8" cy="332.3" r="6.75"/>
<circle class="q" cx="835.6" cy="441.3" r="6.75"/>
<circle class="q" cx="473.0" cy="325.7" r="6.75"/>
<circle class="q" cx="685.8" cy="1029.0" r="6.75"/>
<circle class="q" cx="837.5" cy="876.6" r="6.75"/>
<circle class="q" cx="611.5" cy="1085.2" r="6.75"/>
<circle class="q" cx="647.9" cy="966.2" r="6.75"/>
<circle class="q" cx="1010.7" cy="485.0" r="6.75"/>
<circle class="q" cx="679.5" cy="453.3" r="6.75"/>
<circle class="q" cx="910.0" cy="833.9" r="6.75"/>
<circle class="q" cx="601.8" cy="864.2" r="6.75"/>
<circle class="q" cx="769.7" cy="694.3" r="6.75"/>
<circle class="q" cx="1033.6" cy="320.5" r="6.75"/>
<circle class="q" cx="728.3" cy="259.6" r="6.75"/>
<circle class="q" cx="575.5" cy="852.8" r="6.75"/>
<circle class="q" cx="350.2" cy="933.3" r="6.75"/>
<circle class="q" cx="709.4" cy="1042.4" r="6.75"/>
<circle class="q" cx="386.2" cy="390.5" r="6.75"/>
<circle class="q" cx="762.6" cy="430.7" r="6.75"/>
<circle class="q" cx="528.7" cy="995.9" r="6.75"/>
<circle class="q" cx="522.9" cy="237.7" r="6.75"/>
<circle class="q" cx="700.3" cy="894.1" r="6.75"/>
<circle class="q" cx="668.9" cy="268.3" r="6.75"/>
<circle class="q" cx="232.8" cy="317.1" r="6.75"/>
<circle class="q" cx="654.4" cy="288.1" r="6.75"/>
<circle class="q" cx="1003.6" cy="292.2" r="6.75"/>
<circle class="q" cx="445.9" cy="296.6" r="6.75"/>
<circle class="q" cx="545.3" cy="899.1" r="6.75"/>
<circle class="q" cx="585.2" cy="878.2" r="6.75"/>
<circle class="q" cx="611.1" cy="251.1" r="6.75"/>
<circle class="q" cx="1002.8" cy="274.1" r="6.75"/>
<circle class="q" cx="361.1" cy="341.2" r="6.75"/>
<circle class="q" cx="724.1" cy="283.0" r="6.75"/>
<circle class="q" cx="682.3" cy="360.6" r="6.75"/>
<circle class="q" cx="1004.7" cy="286.5" r="6.75"/>
<circle class="q" cx="642.1" cy="859.7" r="6.75"/>
<circle class="q" cx="548.2" cy="969.2" r="6.75"/>
<circle class="q" cx="713.2" cy="1022.5" r="6.75"/>
<circle class="q" cx="670.3" cy="725.4" r="6.75"/>
<circle class="q" cx="827.2" cy="923.4" r="6.75"/>
<circle class="q" cx="628.9" cy="1070.4" r="6.75"/>
<circle class="q" cx="628.9" cy="235.8" r="6.75"/>
<circle class="q" cx="384.5" cy="276.4" r="6.75"/>
<circle class="q" cx="367.8" cy="355.8" r="6.75"/>
<circle class="q" cx="748.4" cy="763.3" r="6.75"/>
<circle class="q" cx="715.6" cy="255.5" r="6.75"/>
<circle class="q" cx="842.7" cy="840.7" r="6.75"/>
<circle class="q" cx="552.0" cy="1056.4" r="6.75"/>
<circle class="q" cx="649.7" cy="844.5" r="6.75"/>
<circle class="q" cx="793.3" cy="730.9" r="6.75"/>
<circle class="q" cx="797.6" cy="420.4" r="6.75"/>
<circle class="q" cx="1012.6" cy="444.8" r="6.75"/>
<circle class="q" cx="655.0" cy="1057.2" r="6.75"/>
<circle class="q" cx="419.5" cy="384.3" r="6.75"/>
<circle class="q" cx="758.4" cy="245.9" r="6.75"/>
<circle class="q" cx="340.7" cy="793.0" r="6.75"/>
<circle class="q" cx="368.7" cy="311.2" r="6.75"/>
<circle class="q" cx="885.7" cy="833.0" r="6.75"/>
<circle class="q" cx="675.8" cy="310.4" r="6.75"/>
<circle class="q" cx="921.8" cy="838.2" r="6.75"/>
<circle class="q" cx="450.6" cy="742.0" r="6.75"/>
<circle class="q" cx="725.0" cy="446.5" r="6.75"/>
<circle class="q" cx="860.9" cy="426.7" r="6.75"/>
<circle class="q" cx="597.8" cy="298.7" r="6.75"/>
<circle class="q" cx="716.6" cy="326.2" r="6.75"/>
<circle class="q" cx="488.0" cy="358.9" r="6.75"/>
<circle class="q" cx="676.7" cy="964.6" r="6.75"/>
<circle class="q" cx="898.8" cy="392.9" r="6.75"/>
<circle class="q" cx="1071.6" cy="452.2" r="6.75"/>
<circle class="q" cx="686.6" cy="718.5" r="6.75"/>
<circle class="q" cx="783.8" cy="516.6" r="6.75"/>
<circle class="q" cx="537.1" cy="497.2" r="6.75"/>
<circle class="q" cx="594.1" cy="957.3" r="6.75"/>
<circle class="q" cx="349.1" cy="283.9" r="6.75"/>
<circle class="q" cx="1016.2" cy="463.1" r="6.75"/>
<circle class="q" cx="649.7" cy="753.9" r="6.75"/>
<circle class="q" cx="664.5" cy="878.2" r="6.75"/>
<circle class="q" cx="1066.5" cy="336.6" r="6.75"/>
<circle class="q" cx="600.0" cy="257.6" r="6.75"/>
<circle class="q" cx="720.0" cy="436.5" r="6.75"/>
<circle class="q" cx="648.4" cy="937.2" r="6.75"/>
<circle class="q" cx="793.1" cy="498.3" r="6.75"/>
<circle class="q" cx="385.0" cy="330.5" r="6.75"/>
<circle class="q" cx="642.9" cy="964.6" r="6.75"/>
<circle class="q" cx="575.0" cy="524.5" r="6.75"/>
<circle class="q" cx="900.7" cy="888.0" r="6.75"/>
<circle class="q" cx="473.8" cy="919.3" r="6.75"/>
<circle class="q" cx="879.0" cy="422.0" r="6.75"/>
<circle class="q" cx="910.3" cy="424.4" r="6.75"/>
<circle class="q" cx="584.2" cy="833.0" r="6.75"/>
<circle class="q" cx="561.9" cy="550.1" r="6.75"/>
<circle class="q" cx="691.4" cy="780.0" r="6.75"/>
<circle class="q" cx="674.7" cy="856.6" r="6.75"/>
<circle class="q" cx="307.1" cy="896.2" r="6.75"/>
<circle class="q" cx="348.8" cy="486.5" r="6.75"/>
<circle class="q" cx="506.7" cy="982.6" r="6.75"/>
<circle class="q" cx="971.1" cy="875.0" r="6.75"/>
<circle class="q" cx="900.7" cy="859.8" r="6.75"/>
<circle class="q" cx="578.0" cy="969.0" r="6.75"/>
<circle class="q" cx="448.1" cy="437.5" r="6.75"/>
<circle class="q" cx="603.9" cy="228.4" r="6.75"/>
<circle class="q" cx="408.3" cy="249.8" r="6.75"/>
<circle class="q" cx="1011.3" cy="465.0" r="6.75"/>
<circle class="q" cx="610.9" cy="706.5" r="6.75"/>
<circle class="q" cx="628.4" cy="1085.8" r="6.75"/>
<circle class="q" cx="887.3" cy="886.7" r="6.75"/>
<circle class="q" cx="730.0" cy="815.8" r="6.75"/>
<circle class="q" cx="776.6" cy="761.2" r="6.75"/>
<circle class="q" cx="345.5" cy="340.2" r="6.75"/>
<circle class="q" cx="504.5" cy="209.6" r="6.75"/>
<circle class="q" cx="556.3" cy="448.8" r="6.75"/>
<circle class="q" cx="920.3" cy="871.8" r="6.75"/>
<circle class="q" cx="588.5" cy="1079.0" r="6.75"/>
<circle class="q" cx="789.0" cy="941.2" r="6.75"/>
<circle class="q" cx="1035.8" cy="328.8" r="6.75"/>
<circle class="q" cx="1119.3" cy="496.6" r="6.75"/>
<circle class="q" cx="419.7" cy="813.0" r="6.75"/>
<circle class="q" cx="446.0" cy="249.0" r="6.75"/>
<circle class="q" cx="885.4" cy="639.3" r="6.75"/>
<circle class="q" cx="1065.2" cy="351.3" r="6.75"/>
<circle class="q" cx="653.2" cy="1079.0" r="6.75"/>
<circle class="q" cx="406.0" cy="277.3" r="6.75"/>
<circle class="q" cx="421.0" cy="290.5" r="6.75"/>
<circle class="q" cx="539.3" cy="873.0" r="6.75"/>
<circle class="q" cx="550.6" cy="1003.2" r="6.75"/>
<circle class="q" cx="386.0" cy="347.1" r="6.75"/>
<circle class="q" cx="756.2" cy="710.3" r="6.75"/>
<circle class="q" cx="413.6" cy="280.9" r="6.75"/>
<circle class="q" cx="587.3" cy="270.5" r="6.75"/>
<circle class="q" cx="596.8" cy="526.7" r="6.75"/>
<circle class="q" cx="532.4" cy="986.8" r="6.75"/>
<circle class="q" cx="568.5" cy="825.4" r="6.75"/>
<circle class="q" cx="586.2" cy="1019.5" r="6.75"/>
<circle class="q" cx="957.9" cy="865.3" r="6.75"/>
<circle class="q" cx="1010.0" cy="472.3" r="6.75"/>
<circle class="q" cx="427.7" cy="299.7" r="6.75"/>
<circle class="q" cx="659.4" cy="806.6" r="6.75"/>
<circle class="q" cx="1009.8" cy="302.3" r="6.75"/>
<circle class="q" cx="521.4" cy="511.9" r="6.75"/>
<circle class="q" cx="789.2" cy="734.9" r="6.75"/>
<circle class="q" cx="478.1" cy="275.7" r="6.75"/>
<circle class="q" cx="819.8" cy="695.1" r="6.75"/>
<circle class="q" cx="356.5" cy="724.9" r="6.75"/>
<circle class="q" cx="621.6" cy="856.5" r="6.75"/>
<circle class="q" cx="797.4" cy="885.9" r="6.75"/>
<circle class="q" cx="924.4" cy="903.9" r="6.75"/>
<circle class="q" cx="591.9" cy="837.6" r="6.75"/>
<circle class="q" cx="777.9" cy="911.5" r="6.75"/>
<circle class="q" cx="549.5" cy="499.1" r="6.75"/>
<circle class="q" cx="886.5" cy="922.4" r="6.75"/>
<circle class="q" cx="615.7" cy="897.7" r="6.75"/>
<circle class="q" cx="682.4" cy="763.6" r="6.75"/>
<circle class="q" cx="1066.2" cy="453.2" r="6.75"/>
<circle class="q" cx="552.5" cy="907.2" r="6.75"/>
<circle class="q" cx="584.7" cy="987.2" r="6.75"/>
<circle class="q" cx="706.6" cy="372.9" r="6.75"/>
<circle class="q" cx="441.9" cy="715.2" r="6.75"/>
<circle class="q" cx="928.7" cy="895.7" r="6.75"/>
<circle class="q" cx="288.7" cy="417.9" r="6.75"/>
<circle class="q" cx="713.3" cy="452.3" r="6.75"/>
<circle class="q" cx="718.6" cy="776.3" r="6.75"/>
<circle class="q" cx="1057.2" cy="328.5" r="6.75"/>
<circle class="q" cx="379.8" cy="361.4" r="6.75"/>
<circle class="q" cx="298.0" cy="311.2" r="6.75"/>
<circle class="q" cx="691.7" cy="825.8" r="6.75"/>
<circle class="q" cx="361.8" cy="244.4" r="6.75"/>
<circle class="q" cx="317.5" cy="276.3" r="6.75"/>
<circle class="q" cx="574.6" cy="395.5" r="6.75"/>
<circle class="q" cx="510.9" cy="202.6" r="6.75"/>
<circle class="q" cx="735.3" cy="220.3" r="6.75"/>
<circle class="q" cx="793.4" cy="922.3" r="6.75"/>
<circle class="q" cx="1050.3" cy="303.0" r="6.75"/>
<circle class="q" cx="658.4" cy="701.3" r="6.75"/>
<circle class="q" cx="604.4" cy="1039.3" r="6.75"/>
<circle class="q" cx="854.6" cy="889.0" r="6.75"/>
<circle class="q" cx="980.7" cy="493.0" r="6.75"/>
<circle class="q" cx="814.3" cy="289.2" r="6.75"/>
<circle class="q" cx="675.4" cy="882.3" r="6.75"/>
<circle class="q" cx="687.1" cy="375.2" r="6.75"/>
<circle class="q" cx="409.5" cy="370.6" r="6.75"/>
<circle class="q" cx="331.1" cy="542.5" r="6.75"/>
<circle class="q" cx="458.4" cy="769.5" r="6.75"/>
<circle class="q" cx="492.6" cy="736.0" r="6.75"/>
<circle class="q" cx="572.1" cy="894.0" r="6.75"/>
<circle class="q" cx="435.2" cy="241.6" r="6.75"/>
<circle class="q" cx="923.3" cy="652.8" r="6.75"/>
<circle class="q" cx="713.7" cy="882.9" r="6.75"/>
<circle class="q" cx="313.6" cy="290.7" r="6.75"/>
<circle class="q" cx="613.0" cy="744.4" r="6.75"/>
<circle class="q" cx="898.8" cy="926.8" r="6.75"/>
<circle class="q" cx="402.4" cy="351.9" r="6.75"/>
<circle class="q" cx="797.5" cy="870.9" r="6.75"/>
<circle class="q" cx="675.2" cy="463.3" r="6.75"/>
<circle class="q" cx="557.7" cy="441.3" r="6.75"/>
<circle class="q" cx="596.7" cy="321.5" r="6.75"/>
<circle class="q" cx="818.9" cy="913.6" r="6.75"/>
<circle class="q" cx="495.0" cy="249.5" r="6.75"/>
<circle class="q" cx="695.7" cy="629.1" r="6.75"/>
<circle class="q" cx="606.8" cy="247.9" r="6.75"/>
<circle class="q" cx="370.4" cy="818.2" r="6.75"/>
<circle class="q" cx="655.0" cy="853.1" r="6.75"/>
<circle class="q" cx="436.7" cy="355.8" r="6.75"/>
<circle class="q" cx="897.3" cy="377.5" r="6.75"/>
<circle class="q" cx="871.3" cy="811.3" r="6.75"/>
<circle class="q" cx="526.2" cy="224.3" r="6.75"/>
<circle class="q" cx="547.9" cy="984.2" r="6.75"/>
<circle class="q" cx="647.0" cy="864.0" r="6.75"/>
<circle class="q" cx="680.7" cy="780.2" r="6.75"/>
<circle class="q" cx="676.0" cy="290.8" r="6.75"/>
<circle class="q" cx="928.8" cy="322.6" r="6.75"/>
<circle class="q" cx="680.9" cy="697.2" r="6.75"/>
<circle class="q" cx="635.5" cy="991.0" r="6.75"/>
<circle class="q" cx="581.7" cy="479.4" r="6.75"/>
<circle class="q" cx="734.8" cy="757.5" r="6.75"/>
<circle class="q" cx="999.4" cy="312.1" r="6.75"/>
<circle class="q" cx="589.2" cy="1002.4" r="6.75"/>
<circle class="q" cx="355.5" cy="406.0" r="6.75"/>
<circle class="q" cx="343.5" cy="558.8" r="6.75"/>
<circle class="q" cx="1065.8" cy="313.6" r="6.75"/>
<circle class="q" cx="711.7" cy="319.1" r="6.75"/>
<circle class="q" cx="465.3" cy="231.5" r="6.75"/>
<circle class="q" cx="371.9" cy="956.0" r="6.75"/>
<circle class="q" cx="928.5" cy="817.0" r="6.75"/>
<circle class="q" cx="560.4" cy="762.4" r="6.75"/>
<circle class="q" cx="604.0" cy="988.1" r="6.75"/>
<circle class="q" cx="1064.9" cy="308.6" r="6.75"/>
<circle class="q" cx="691.8" cy="798.2" r="6.75"/>
<circle class="q" cx="471.7" cy="278.7" r="6.75"/>
<circle class="q" cx="736.0" cy="690.4" r="6.75"/>
<circle class="q" cx="597.5" cy="563.0" r="6.75"/>
<circle class="q" cx="611.7" cy="1019.8" r="6.75"/>
<circle class="q" cx="659.7" cy="790.7" r="6.75"/>
<circle class="q" cx="670.4" cy="216.4" r="6.75"/>
<circle class="q" cx="782.1" cy="698.2" r="6.75"/>
<circle class="q" cx="657.0" cy="865.5" r="6.75"/>
<circle class="q" cx="896.0" cy="832.1" r="6.75"/>
<circle class="q" cx="626.8" cy="271.5" r="6.75"/>
<circle class="q" cx="626.7" cy="813.1" r="6.75"/>
<circle class="q" cx="517.3" cy="472.5" r="6.75"/>
<circle class="q" cx="543.1" cy="1004.3" r="6.75"/>
<circle class="q" cx="798.6" cy="980.4" r="6.75"/>
<circle class="q" cx="899.9" cy="429.5" r="6.75"/>
<circle class="q" cx="767.9" cy="765.6" r="6.75"/>
<circle class="q" cx="693.9" cy="245.9" r="6.75"/>
<circle class="q" cx="778.8" cy="670.6" r="6.75"/>
<circle class="q" cx="679.0" cy="844.4" r="6.75"/>
<circle class="q" cx="1063.0" cy="368.7" r="6.75"/>
<circle class="q" cx="688.8" cy="811.2" r="6.75"/>
<circle class="q" cx="625.0" cy="506.8" r="6.75"/>
<circle class="q" cx="502.6" cy="254.6" r="6.75"/>
<circle class="q" cx="551.5" cy="197.7" r="6.75"/>
<circle class="q" cx="525.8" cy="221.5" r="6.75"/>
<circle class="q" cx="750.4" cy="836.4" r="6.75"/>
<circle class="q" cx="416.7" cy="404.9" r="6.75"/>
<circle class="q" cx="582.6" cy="922.7" r="6.75"/>
<circle class="q" cx="583.4" cy="424.7" r="6.75"/>
<circle class="q" cx="756.1" cy="772.0" r="6.75"/>
<circle class="q" cx="667.8" cy="1037.3" r="6.75"/>
<circle class="q" cx="824.2" cy="286.9" r="6.75"/>
<circle class="q" cx="1046.3" cy="279.8" r="6.75"/>
<circle class="q" cx="684.6" cy="327.3" r="6.75"/>
<circle class="q" cx="462.3" cy="237.6" r="6.75"/>
<circle class="q" cx="587.7" cy="292.0" r="6.75"/>
<circle class="q" cx="716.3" cy="288.5" r="6.75"/>
<circle class="q" cx="530.0" cy="201.6" r="6.75"/>
<circle class="q" cx="670.1" cy="308.1" r="6.75"/>
<circle class="q" cx="815.0" cy="857.4" r="6.75"/>
<circle class="q" cx="804.3" cy="299.1" r="6.75"/>
<circle class="q" cx="794.4" cy="917.5" r="6.75"/>
<circle class="q" cx="640.7" cy="818.0" r="6.75"/>
<circle class="q" cx="875.1" cy="815.3" r="6.75"/>
<circle class="q" cx="1001.7" cy="433.8" r="6.75"/>
<circle class="q" cx="846.9" cy="919.5" r="6.75"/>
<circle class="q" cx="661.1" cy="220.7" r="6.75"/>
<circle class="q" cx="370.2" cy="927.5" r="6.75"/>
<circle class="q" cx="898.2" cy="906.0" r="6.75"/>
<circle class="q" cx="396.2" cy="820.6" r="6.75"/>
<circle class="q" cx="894.7" cy="635.8" r="6.75"/>
<circle class="q" cx="929.0" cy="842.4" r="6.75"/>
<circle class="q" cx="638.3" cy="296.2" r="6.75"/>
<circle class="q" cx="1020.8" cy="268.4" r="6.75"/>
<circle class="q" cx="338.1" cy="801.7" r="6.75"/>
<circle class="q" cx="791.4" cy="299.1" r="6.75"/>
<circle class="q" cx="335.3" cy="561.4" r="6.75"/>
<circle class="q" cx="579.6" cy="1068.8" r="6.75"/>
<circle class="q" cx="884.3" cy="910.4" r="6.75"/>
<circle class="q" cx="681.6" cy="861.2" r="6.75"/>
<circle class="q" cx="613.6" cy="478.2" r="6.75"/>
<circle class="q" cx="879.5" cy="885.2" r="6.75"/>
<circle class="q" cx="1009.3" cy="265.9" r="6.75"/>
<circle class="q" cx="380.8" cy="712.3" r="6.75"/>
<circle class="q" cx="996.1" cy="295.9" r="6.75"/>
<circle class="q" cx="814.1" cy="909.6" r="6.75"/>
<circle class="q" cx="788.3" cy="446.6" r="6.75"/>
<circle class="q" cx="1014.2" cy="286.2" r="6.75"/>
<circle class="q" cx="764.0" cy="290.2" r="6.75"/>
<circle class="q" cx="786.9" cy="905.4" r="6.75"/>
<circle class="q" cx="951.4" cy="882.3" r="6.75"/>
<circle class="q" cx="793.0" cy="752.5" r="6.75"/>
<circle class="q" cx="756.3" cy="813.2" r="6.75"/>
<circle class="q" cx="838.6" cy="920.5" r="6.75"/>
<circle class="q" cx="717.5" cy="304.6" r="6.75"/>
<circle class="q" cx="376.1" cy="299.8" r="6.75"/>
<circle class="q" cx="986.4" cy="492.2" r="6.75"/>
<circle class="q" cx="682.8" cy="654.7" r="6.75"/>
<circle class="q" cx="1043.1" cy="474.9" r="6.75"/>
<circle class="q" cx="375.4" cy="419.1" r="6.75"/>
<circle class="q" cx="532.3" cy="876.3" r="6.75"/>
<circle class="q" cx="650.8" cy="836.3" r="6.75"/>
<circle class="q" cx="890.1" cy="909.5" r="6.75"/>
<circle class="q" cx="310.4" cy="533.3" r="6.75"/>
<circle class="q" cx="616.4" cy="297.6" r="6.75"/>
<circle class="q" cx="708.5" cy="669.0" r="6.75"/>
<circle class="q" cx="392.5" cy="798.5" r="6.75"/>
<circle class="q" cx="348.3" cy="290.7" r="6.75"/>
<circle class="q" cx="598.3" cy="493.0" r="6.75"/>
<circle class="q" cx="725.1" cy="458.6" r="6.75"/>
<circle class="q" cx="630.7" cy="861.6" r="6.75"/>
<circle class="q" cx="634.0" cy="207.9" r="6.75"/>
<circle class="q" cx="568.3" cy="450.5" r="6.75"/>
<circle class="q" cx="537.3" cy="518.9" r="6.75"/>
<circle class="q" cx="603.0" cy="993.9" r="6.75"/>
<circle class="q" cx="588.5" cy="806.7" r="6.75"/>
<circle class="q" cx="385.8" cy="742.5" r="6.75"/>
<circle class="q" cx="863.8" cy="403.8" r="6.75"/>
<circle class="q" cx="619.9" cy="1075.9" r="6.75"/>
<circle class="q" cx="488.8" cy="918.9" r="6.75"/>
<circle class="q" cx="582.3" cy="270.6" r="6.75"/>
<circle class="q" cx="602.3" cy="787.4" r="6.75"/>
<circle class="r" cx="704.2" cy="855.9" r="6.75"/>
<circle class="r" cx="449.1" cy="221.7" r="6.75"/>
<circle class="r" cx="798.4" cy="897.3" r="6.75"/>
<circle class="r" cx="353.6" cy="828.0" r="6.75"/>
<circle class="r" cx="710.7" cy="223.4" r="6.75"/>
<circle class="r" cx="397.8" cy="744.6" r="6.75"/>
<circle class="r" cx="872.0" cy="383.8" r="6.75"/>
<circle class="r" cx="997.7" cy="464.2" r="6.75"/>
<circle class="r" cx="1053.1" cy="495.9" r="6.75"/>
<circle class="r" cx="769.9" cy="796.4" r="6.75"/>
<circle class="r" cx="535.3" cy="241.5" r="6.75"/>
<circle class="r" cx="1074.8" cy="474.9" r="6.75"/>
<circle class="r" cx="410.3" cy="269.5" r="6.75"/>
<circle class="r" cx="785.3" cy="704.5" r="6.75"/>
<circle class="r" cx="789.9" cy="723.6" r="6.75"/>
<circle class="r" cx="259.0" cy="308.9" r="6.75"/>
<circle class="r" cx="452.4" cy="359.2" r="6.75"/>
<circle class="r" cx="411.3" cy="364.2" r="6.75"/>
<circle class="r" cx="549.3" cy="963.2" r="6.75"/>
<circle class="r" cx="531.9" cy="206.6" r="6.75"/>
<circle class="r" cx="584.2" cy="959.3" r="6.75"/>
<circle class="r" cx="404.5" cy="231.8" r="6.75"/>
<circle class="r" cx="1020.4" cy="286.0" r="6.75"/>
<circle class="r" cx="754.4" cy="660.2" r="6.75"/>
<circle class="r" cx="928.6" cy="848.5" r="6.75"/>
<circle class="r" cx="692.8" cy="444.8" r="6.75"/>
<circle class="r" cx="352.2" cy="753.6" r="6.75"/>
<circle class="r" cx="616.1" cy="532.5" r="6.75"/>
<circle class="r" cx="686.3" cy="251.2" r="6.75"/>
<circle class="r" cx="1056.8" cy="297.2" r="6.75"/>
<circle class="r" cx="341.8" cy="417.7" r="6.75"/>
<circle class="r" cx="512.9" cy="987.5" r="6.75"/>
<circle class="r" cx="955.1" cy="488.8" r="6.75"/>
<circle class="r" cx="650.1" cy="787.8" r="6.75"/>
<circle class="r" cx="672.4" cy="691.6" r="6.75"/>
<circle class="r" cx="852.8" cy="917.5" r="6.75"/>
<circle class="r" cx="483.4" cy="327.0" r="6.75"/>
<circle class="r" cx="707.5" cy="798.1" r="6.75"/>
<circle class="r" cx="605.8" cy="770.6" r="6.75"/>
<circle class="r" cx="600.1" cy="929.3" r="6.75"/>
<circle class="r" cx="866.7" cy="811.4" r="6.75"/>
<circle class="r" cx="866.9" cy="571.9" r="6.75"/>
<circle class="r" cx="845.0" cy="827.5" r="6.75"/>
<circle class="r" cx="723.6" cy="700.9" r="6.75"/>
<circle class="r" cx="876.3" cy="801.6" r="6.75"/>
<circle class="r" cx="872.0" cy="645.5" r="6.75"/>
<circle class="r" cx="916.0" cy="638.4" r="6.75"/>
<circle class="r" cx="765.3" cy="707.1" r="6.75"/>
<circle class="r" cx="435.4" cy="259.2" r="6.75"/>
<circle class="r" cx="344.5" cy="922.3" r="6.75"/>
<circle class="r" cx="542.4" cy="245.6" r="6.75"/>
<circle class="r" cx="815.0" cy="284.5" r="6.75"/>
<circle class="r" cx="487.2" cy="322.7" r="6.75"/>
<circle class="r" cx="463.7" cy="223.5" r="6.75"/>
<circle class="r" cx="740.0" cy="875.2" r="6.75"/>
<circle class="r" cx="707.6" cy="743.0" r="6.75"/>
<circle class="r" cx="612.0" cy="269.2" r="6.75"/>
<circle class="r" cx="545.8" cy="1017.2" r="6.75"/>
<circle class="r" cx="904.1" cy="421.4" r="6.75"/>
<circle class="r" cx="865.2" cy="857.1" r="6.75"/>
<circle class="r" cx="810.7" cy="712.1" r="6.75"/>
<circle class="r" cx="645.1" cy="1034.4" r="6.75"/>
<circle class="r" cx="362.2" cy="960.4" r="6.75"/>
<circle class="r" cx="926.7" cy="412.7" r="6.75"/>
<circle class="r" cx="495.8" cy="227.4" r="6.75"/>
<circle class="r" cx="522.1" cy="282.2" r="6.75"/>
<circle class="r" cx="665.7" cy="751.8" r="6.75"/>
<circle class="r" cx="521.7" cy="255.7" r="6.75"/>
<circle class="r" cx="878.2" cy="805.9" r="6.75"/>
<circle class="r" cx="435.0" cy="811.3" r="6.75"/>
<circle class="r" cx="609.7" cy="242.9" r="6.75"/>
<circle class="r" cx="572.5" cy="492.7" r="6.75"/>
<circle class="r" cx="545.3" cy="989.6" r="6.75"/>
<circle class="r" cx="415.8" cy="724.7" r="6.75"/>
<circle class="r" cx="656.1" cy="1001.2" r="6.75"/>
<circle class="r" cx="594.5" cy="445.9" r="6.75"/>
<circle class="r" cx="576.1" cy="832.6" r="6.75"/>
<circle class="r" cx="365.8" cy="930.1" r="6.75"/>
<circle class="r" cx="988.9" cy="266.1" r="6.75"/>
<circle class="r" cx="690.0" cy="560.5" r="6.75"/>
<circle class="r" cx="431.2" cy="446.9" r="6.75"/>
<circle class="r" cx="515.0" cy="863.0" r="6.75"/>
<circle class="r" cx="973.5" cy="479.6" r="6.75"/>
<circle class="r" cx="631.9" cy="355.0" r="6.75"/>
<circle class="r" cx="477.0" cy="430.8" r="6.75"/>
<circle class="r" cx="408.1" cy="912.5" r="6.75"/>
<circle class="r" cx="463.1" cy="440.5" r="6.75"/>
<circle class="r" cx="842.5" cy="778.8" r="6.75"/>
<circle class="r" cx="372.5" cy="581.1" r="6.75"/>
<circle class="r" cx="877.0" cy="922.1" r="6.75"/>
<circle class="r" cx="535.2" cy="982.6" r="6.75"/>
<circle class="r" cx="519.3" cy="463.4" r="6.75"/>
<circle class="r" cx="619.6" cy="245.3" r="6.75"/>
<circle class="r" cx="589.6" cy="888.4" r="6.75"/>
<circle class="r" cx="622.0" cy="686.7" r="6.75"/>
<circle class="r" cx="792.4" cy="742.6" r="6.75"/>
<circle class="r" cx="699.9" cy="690.1" r="6.75"/>
<circle class="r" cx="617.6" cy="766.1" r="6.75"/>
<circle class="r" cx="899.8" cy="838.5" r="6.75"/>
<circle class="r" cx="650.7" cy="1065.4" r="6.75"/>
<circle class="r" cx="337.6" cy="529.8" r="6.75"/>
<circle class="r" cx="788.9" cy="658.5" r="6.75"/>
<circle class="r" cx="384.5" cy="709.4" r="6.75"/>
<circle class="r" cx="678.9" cy="275.8" r="6.75"/>
<circle class="r" cx="659.4" cy="960.7" r="6.75"/>
<circle class="r" cx="1031.0" cy="481.6" r="6.75"/>
<circle class="r" cx="478.8" cy="224.8" r="6.75"/>
<circle class="r" cx="919.4" cy="857.1" r="6.75"/>
<circle class="r" cx="746.6" cy="823.6" r="6.75"/>
<circle class="r" cx="747.1" cy="699.0" r="6.75"/>
<circle class="r" cx="658.3" cy="223.5" r="6.75"/>
<circle class="r" cx="878.7" cy="633.9" r="6.75"/>
<circle class="r" cx="577.3" cy="529.6" r="6.75"/>
<circle class="r" cx="733.4" cy="838.7" r="6.75"/>
<circle class="r" cx="929.3" cy="801.9" r="6.75"/>
<circle class="r" cx="777.1" cy="262.7" r="6.75"/>
<circle class="r" cx="846.7" cy="845.3" r="6.75"/>
<circle class="r" cx="996.6" cy="282.7" r="6.75"/>
<circle class="r" cx="615.7" cy="236.5" r="6.75"/>
<circle class="r" cx="447.7" cy="848.1" r="6.75"/>
<circle class="r" cx="606.1" cy="743.6" r="6.75"/>
<circle class="r" cx="894.7" cy="822.5" r="6.75"/>
<circle class="r" cx="514.1" cy="515.9" r="6.75"/>
<circle class="r" cx="974.8" cy="436.0" r="6.75"/>
<circle class="r" cx="1033.3" cy="449.8" r="6.75"/>
<circle class="r" cx="588.7" cy="447.5" r="6.75"/>
<circle class="r" cx="366.4" cy="566.6" r="6.75"/>
<circle class="r" cx="604.4" cy="830.5" r="6.75"/>
<circle class="r" cx="708.6" cy="728.1" r="6.75"/>
<circle class="r" cx="990.1" cy="291.5" r="6.75"/>
<circle class="r" cx="635.9" cy="686.8" r="6.75"/>
<circle class="r" cx="813.4" cy="273.0" r="6.75"/>
<circle class="r" cx="668.5" cy="282.3" r="6.75"/>
<circle class="r" cx="621.6" cy="711.6" r="6.75"/>
<circle class="r" cx="666.8" cy="1016.8" r="6.75"/>
<circle class="r" cx="648.8" cy="983.7" r="6.75"/>
<circle class="r" cx="1008.2" cy="447.3" r="6.75"/>
<circle class="r" cx="578.1" cy="405.4" r="6.75"/>
<circle class="r" cx="783.2" cy="802.2" r="6.75"/>
<circle class="r" cx="604.8" cy="1061.2" r="6.75"/>
<circle class="r" cx="515.0" cy="295.3" r="6.75"/>
<circle class="r" cx="543.5" cy="544.2" r="6.75"/>
<circle class="r" cx="512.8" cy="974.5" r="6.75"/>
<circle class="r" cx="876.1" cy="909.1" r="6.75"/>
<circle class="r" cx="626.5" cy="757.1" r="6.75"/>
<circle class="r" cx="579.1" cy="799.8" r="6.75"/>
<circle class="r" cx="915.2" cy="868.1" r="6.75"/>
<circle class="r" cx="798.1" cy="790.6" r="6.75"/>
<circle class="r" cx="433.2" cy="246.1" r="6.75"/>
<circle class="r" cx="840.0" cy="882.8" r="6.75"/>
<circle class="r" cx="1060.7" cy="306.4" r="6.75"/>
<circle class="r" cx="748.7" cy="237.7" r="6.75"/>
<circle class="r" cx="770.9" cy="747.0" r="6.75"/>
<circle class="r" cx="897.8" cy="819.1" r="6.75"/>
<circle class="r" cx="702.7" cy="228.3" r="6.75"/>
<circle class="r" cx="742.2" cy="638.8" r="6.75"/>
<circle class="r" cx="816.2" cy="935.7" r="6.75"/>
<circle class="r" cx="622.7" cy="999.6" r="6.75"/>
<circle class="r" cx="981.9" cy="447.3" r="6.75"/>
<circle class="r" cx="848.9" cy="892.0" r="6.75"/>
<circle class="r" cx="421.3" cy="230.6" r="6.75"/>
<circle class="r" cx="581.9" cy="807.6" r="6.75"/>
<circle class="r" cx="415.3" cy="269.1" r="6.75"/>
<circle class="r" cx="1045.9" cy="300.8" r="6.75"/>
<circle class="r" cx="1049.6" cy="319.3" r="6.75"/>
<circle class="r" cx="680.6" cy="299.0" r="6.75"/>
<circle class="r" cx="535.4" cy="236.1" r="6.75"/>
<circle class="r" cx="574.8" cy="229.4" r="6.75"/>
<circle class="r" cx="915.5" cy="835.4" r="6.75"/>
<circle class="r" cx="607.4" cy="308.3" r="6.75"/>
<circle class="r" cx="945.2" cy="307.5" r="6.75"/>
<circle class="r" cx="500.0" cy="238.5" r="6.75"/>
<circle class="r" cx="490.9" cy="974.3" r="6.75"/>
<circle class="r" cx="705.6" cy="237.0" r="6.75"/>
<circle class="r" cx="509.5" cy="736.5" r="6.75"/>
<circle class="r" cx="430.8" cy="269.6" r="6.75"/>
<circle class="r" cx="1068.2" cy="381.4" r="6.75"/>
<circle class="r" cx="741.6" cy="763.3" r="6.75"/>
<circle class="r" cx="679.2" cy="229.9" r="6.75"/>
<circle class="r" cx="525.5" cy="278.6" r="6.75"/>
<circle class="r" cx="550.7" cy="435.9" r="6.75"/>
<circle class="r" cx="658.9" cy="213.7" r="6.75"/>
<circle class="r" cx="328.6" cy="277.7" r="6.75"/>
<circle class="r" cx="659.8" cy="819.9" r="6.75"/>
<circle class="r" cx="357.2" cy="823.4" r="6.75"/>
<circle class="r" cx="876.3" cy="386.7" r="6.75"/>
<circle class="r" cx="886.8" cy="940.8" r="6.75"/>
<circle class="r" cx="851.2" cy="831.9" r="6.75"/>
<circle class="r" cx="657.7" cy="772.8" r="6.75"/>
<circle class="r" cx="578.1" cy="492.2" r="6.75"/>
<circle class="r" cx="418.4" cy="850.9" r="6.75"/>
<circle class="r" cx="671.7" cy="745.4" r="6.75"/>
<circle class="r" cx="934.5" cy="800.6" r="6.75"/>
<circle class="r" cx="1012.3" cy="452.6" r="6.75"/>
<circle class="r" cx="368.9" cy="832.7" r="6.75"/>
<circle class="r" cx="448.0" cy="707.9" r="6.75"/>
<circle class="r" cx="441.6" cy="856.4" r="6.75"/>
<circle class="r" cx="726.8" cy="239.4" r="6.75"/>
<circle class="r" cx="873.3" cy="928.3" r="6.75"/>
<circle class="r" cx="1003.3" cy="461.8" r="6.75"/>
<circle class="r" cx="610.2" cy="687.4" r="6.75"/>
<circle class="r" cx="850.4" cy="819.4" r="6.75"/>
<circle class="r" cx="685.3" cy="216.4" r="6.75"/>
<circle class="r" cx="780.2" cy="675.9" r="6.75"/>
<circle class="r" cx="884.6" cy="518.3" r="6.75"/>
<circle class="r" cx="707.6" cy="816.6" r="6.75"/>
<circle class="r" cx="643.6" cy="793.3" r="6.75"/>
<circle class="r" cx="484.0" cy="721.6" r="6.75"/>
<circle class="r" cx="911.8" cy="400.1" r="6.75"/>
<circle class="r" cx="515.0" cy="495.7" r="6.75"/>
<circle class="r" cx="332.0" cy="810.5" r="6.75"/>
<circle class="r" cx="613.9" cy="494.3" r="6.75"/>
<circle class="r" cx="643.2" cy="221.6" r="6.75"/>
<circle class="r" cx="588.0" cy="731.7" r="6.75"/>
<circle class="r" cx="676.1" cy="388.3" r="6.75"/>
<circle class="r" cx="688.0" cy="295.7" r="6.75"/>
<circle class="r" cx="871.6" cy="585.4" r="6.75"/>
<circle class="r" cx="732.6" cy="265.0" r="6.75"/>
<circle class="r" cx="509.9" cy="266.4" r="6.75"/>
<circle class="r" cx="864.2" cy="870.3" r="6.75"/>
<circle class="r" cx="548.9" cy="951.5" r="6.75"/>
<circle class="r" cx="707.8" cy="877.6" r="6.75"/>
<circle class="r" cx="629.3" cy="258.8" r="6.75"/>
<circle class="r" cx="741.0" cy="776.6" r="6.75"/>
<circle class="r" cx="563.5" cy="490.7" r="6.75"/>
<circle class="r" cx="574.5" cy="749.0" r="6.75"/>
<circle class="r" cx="589.6" cy="478.1" r="6.75"/>
<circle class="r" cx="887.7" cy="930.2" r="6.75"/>
<circle class="r" cx="976.8" cy="496.1" r="6.75"/>
<circle class="r" cx="676.9" cy="645.7" r="6.75"/>
<circle class="r" cx="645.7" cy="775.3" r="6.75"/>
<circle class="r" cx="705.7" cy="405.1" r="6.75"/>
<circle class="r" cx="610.9" cy="987.8" r="6.75"/>
<circle class="r" cx="907.8" cy="904.5" r="6.75"/>
<circle class="r" cx="351.9" cy="930.1" r="6.75"/>
<circle class="r" cx="875.0" cy="848.2" r="6.75"/>
<circle class="r" cx="426.7" cy="333.0" r="6.75"/>
<circle class="r" cx="700.5" cy="723.0" r="6.75"/>
<circle class="r" cx="665.7" cy="688.0" r="6.75"/>
<circle class="r" cx="579.0" cy="883.7" r="6.75"/>
<circle class="r" cx="602.7" cy="953.5" r="6.75"/>
<circle class="r" cx="383.6" cy="351.5" r="6.75"/>
<circle class="r" cx="797.8" cy="842.1" r="6.75"/>
<circle class="r" cx="684.7" cy="774.5" r="6.75"/>
<circle class="r" cx="1054.3" cy="476.9" r="6.75"/>
<circle class="r" cx="757.5" cy="776.7" r="6.75"/>
<circle class="r" cx="503.9" cy="492.4" r="6.75"/>
<circle class="r" cx="843.3" cy="426.1" r="6.75"/>
<circle class="r" cx="529.4" cy="1013.4" r="6.75"/>
<circle class="r" cx="730.7" cy="702.4" r="6.75"/>
<circle class="r" cx="679.5" cy="235.8" r="6.75"/>
<circle class="r" cx="562.6" cy="879.8" r="6.75"/>
<circle class="r" cx="855.1" cy="400.8" r="6.75"/>
<circle class="r" cx="438.8" cy="739.2" r="6.75"/>
<circle class="r" cx="916.8" cy="639.0" r="6.75"/>
<circle class="r" cx="332.8" cy="798.7" r="6.75"/>
<circle class="r" cx="604.8" cy="552.4" r="6.75"/>
<circle class="r" cx="607.2" cy="319.1" r="6.75"/>
<circle class="r" cx="478.2" cy="269.3" r="6.75"/>
<circle class="r" cx="494.8" cy="979.4" r="6.75"/>
<circle class="r" cx="653.4" cy="1049.0" r="6.75"/>
<circle class="r" cx="559.6" cy="227.6" r="6.75"/>
<circle class="r" cx="562.1" cy="957.2" r="6.75"/>
<circle class="r" cx="641.5" cy="226.5" r="6.75"/>
<circle class="r" cx="825.8" cy="856.8" r="6.75"/>
<circle class="r" cx="783.6" cy="769.6" r="6.75"/>
<circle class="r" cx="580.7" cy="827.3" r="6.75"/>
<circle class="r" cx="618.5" cy="844.7" r="6.75"/>
<circle class="r" cx="678.7" cy="1037.9" r="6.75"/>
<circle class="r" cx="745.6" cy="311.7" r="6.75"/>
<circle class="r" cx="489.7" cy="900.0" r="6.75"/>
<circle class="r" cx="1017.1" cy="438.7" r="6.75"/>
<circle class="r" cx="579.2" cy="749.7" r="6.75"/>
<circle class="r" cx="581.3" cy="412.2" r="6.75"/>
<circle class="r" cx="777.0" cy="810.5" r="6.75"/>
<circle class="r" cx="795.5" cy="814.9" r="6.75"/>
<circle class="r" cx="524.7" cy="891.0" r="6.75"/>
<circle class="r" cx="408.0" cy="859.0" r="6.75"/>
<circle class="r" cx="316.8" cy="409.7" r="6.75"/>
<circle class="r" cx="612.7" cy="450.4" r="6.75"/>
<circle class="r" cx="675.9" cy="945.7" r="6.75"/>
<circle class="r" cx="592.1" cy="543.5" r="6.75"/>
<circle class="r" cx="1033.7" cy="274.3" r="6.75"/>
<circle class="r" cx="796.7" cy="809.0" r="6.75"/>
<circle class="r" cx="567.2" cy="553.3" r="6.75"/>
<circle class="r" cx="608.5" cy="524.1" r="6.75"/>
<circle class="r" cx="585.7" cy="846.8" r="6.75"/>
<circle class="r" cx="824.8" cy="712.9" r="6.75"/>
<circle class="r" cx="586.1" cy="1011.8" r="6.75"/>
<circle class="r" cx="418.0" cy="264.5" r="6.75"/>
<circle class="r" cx="618.0" cy="558.8" r="6.75"/>
<circle class="r" cx="410.8" cy="318.5" r="6.75"/>
<circle class="r" cx="582.9" cy="877.7" r="6.75"/>
<circle class="r" cx="392.3" cy="803.8" r="6.75"/>
<circle class="r" cx="680.0" cy="328.3" r="6.75"/>
<circle class="r" cx="850.3" cy="826.7" r="6.75"/>
<circle class="r" cx="842.2" cy="441.9" r="6.75"/>
<circle class="r" cx="535.5" cy="379.5" r="6.75"/>
<circle class="r" cx="379.5" cy="780.6" r="6.75"/>
<circle class="r" cx="944.7" cy="425.4" r="6.75"/>
<circle class="r" cx="594.6" cy="516.5" r="6.75"/>
<circle class="r" cx="470.9" cy="255.9" r="6.75"/>
<circle class="r" cx="557.2" cy="880.3" r="6.75"/>
<circle class="r" cx="897.4" cy="827.2" r="6.75"/>
<circle class="r" cx="1037.8" cy="449.1" r="6.75"/>
<circle class="r" cx="610.3" cy="474.5" r="6.75"/>
<circle class="r" cx="997.0" cy="434.1" r="6.75"/>
<circle class="r" cx="789.9" cy="700.8" r="6.75"/>
<circle class="r" cx="492.2" cy="296.1" r="6.75"/>
<circle class="r" cx="919.8" cy="906.5" r="6.75"/>
<circle class="r" cx="523.3" cy="553.4" r="6.75"/>
<circle class="r" cx="591.9" cy="994.8" r="6.75"/>
<circle class="r" cx="657.5" cy="781.0" r="6.75"/>
<circle class="r" cx="1041.0" cy="466.2" r="6.75"/>
<circle class="r" cx="402.7" cy="334.3" r="6.75"/>
<circle class="r" cx="412.0" cy="852.7" r="6.75"/>
<circle class="r" cx="587.6" cy="726.4" r="6.75"/>
<circle class="r" cx="574.6" cy="1014.3" r="6.75"/>
<circle class="r" cx="791.2" cy="689.1" r="6.75"/>
<circle class="r" cx="740.2" cy="1044.8" r="6.75"/>
<circle class="r" cx="905.9" cy="838.9" r="6.75"/>
<circle class="r" cx="685.8" cy="289.9" r="6.75"/>
<circle class="r" cx="888.1" cy="524.8" r="6.75"/>
<circle class="r" cx="619.2" cy="277.0" r="6.75"/>
<circle class="r" cx="774.2" cy="728.5" r="6.75"/>
<circle class="r" cx="736.2" cy="865.4" r="6.75"/>
<circle class="r" cx="826.0" cy="938.5" r="6.75"/>
<circle class="r" cx="686.7" cy="1002.0" r="6.75"/>
<circle class="r" cx="545.5" cy="355.6" r="6.75"/>
<circle class="r" cx="530.3" cy="884.2" r="6.75"/>
<circle class="r" cx="631.6" cy="761.1" r="6.75"/>
<circle class="r" cx="597.7" cy="739.5" r="6.75"/>
<circle class="r" cx="556.4" cy="830.4" r="6.75"/>
<circle class="r" cx="784.2" cy="850.3" r="6.75"/>
<circle class="r" cx="772.8" cy="461.4" r="6.75"/>
<circle class="r" cx="321.0" cy="469.9" r="6.75"/>
<circle class="r" cx="696.4" cy="400.9" r="6.75"/>
<circle class="r" cx="575.4" cy="514.3" r="6.75"/>
<circle class="r" cx="882.5" cy="918.4" r="6.75"/>
<circle class="r" cx="504.3" cy="511.3" r="6.75"/>
<circle class="r" cx="751.2" cy="781.6" r="6.75"/>
<circle class="r" cx="902.3" cy="416.5" r="6.75"/>
<circle class="r" cx="604.2" cy="457.1" r="6.75"/>
<circle class="r" cx="435.1" cy="372.5" r="6.75"/>
<circle class="r" cx="1079.8" cy="504.1" r="6.75"/>
<circle class="r" cx="411.5" cy="311.4" r="6.75"/>
<circle class="r" cx="678.8" cy="717.8" r="6.75"/>
<circle class="r" cx="874.3" cy="393.0" r="6.75"/>
<circle class="r" cx="329.5" cy="459.8" r="6.75"/>
<circle class="r" cx="808.4" cy="912.8" r="6.75"/>
<circle class="r" cx="643.5" cy="270.0" r="6.75"/>
<circle class="r" cx="978.8" cy="298.8" r="6.75"/>
<circle class="r" cx="520.0" cy="504.2" r="6.75"/>
<circle class="r" cx="637.8" cy="876.9" r="6.75"/>
<circle class="r" cx="359.1" cy="753.9" r="6.75"/>
<circle class="r" cx="779.8" cy="738.5" r="6.75"/>
<circle class="r" cx="563.8" cy="277.7" r="6.75"/>
<circle class="r" cx="563.6" cy="569.6" r="6.75"/>
<circle class="r" cx="708.9" cy="720.3" r="6.75"/>
<circle class="r" cx="931.3" cy="907.3" r="6.75"/>
<circle class="r" cx="599.2" cy="424.1" r="6.75"/>
<circle class="r" cx="614.4" cy="215.9" r="6.75"/>
<circle class="r" cx="710.4" cy="282.7" r="6.75"/>
<circle class="r" cx="923.6" cy="400.7" r="6.75"/>
<circle class="r" cx="812.9" cy="803.6" r="6.75"/>
<circle class="r" cx="457.5" cy="465.6" r="6.75"/>
<circle class="r" cx="823.1" cy="404.5" r="6.75"/>
<circle class="r" cx="555.0" cy="373.8" r="6.75"/>
<circle class="r" cx="310.6" cy="455.3" r="6.75"/>
<circle class="r" cx="520.8" cy="277.8" r="6.75"/>
<circle class="r" cx="625.0" cy="817.7" r="6.75"/>
<circle class="r" cx="569.0" cy="564.0" r="6.75"/>
<circle class="r" cx="767.3" cy="831.8" r="6.75"/>
<circle class="r" cx="560.9" cy="466.3" r="6.75"/>
<circle class="r" cx="406.5" cy="461.5" r="6.75"/>
<circle class="r" cx="456.2" cy="293.5" r="6.75"/>
<circle class="r" cx="349.7" cy="741.4" r="6.75"/>
<circle class="r" cx="908.3" cy="925.3" r="6.75"/>
<circle class="r" cx="559.0" cy="946.9" r="6.75"/>
<circle class="r" cx="524.3" cy="306.7" r="6.75"/>
<circle class="r" cx="604.9" cy="285.2" r="6.75"/>
<circle class="r" cx="336.9" cy="814.5" r="6.75"/>
<circle class="r" cx="687.1" cy="816.0" r="6.75"/>
<circle class="r" cx="854.9" cy="907.9" r="6.75"/>
<circle class="r" cx="795.2" cy="284.6" r="6.75"/>
<circle class="r" cx="637.6" cy="804.4" r="6.75"/>
<circle class="s" cx="398.2" cy="850.3" r="6.75"/>
<circle class="s" cx="860.1" cy="891.9" r="6.75"/>
<circle class="s" cx="584.4" cy="1007.1" r="6.75"/>
<circle class="s" cx="349.3" cy="319.9" r="6.75"/>
<circle class="s" cx="707.4" cy="1050.9" r="6.75"/>
<circle class="s" cx="392.4" cy="734.0" r="6.75"/>
<circle class="s" cx="622.1" cy="439.7" r="6.75"/>
<circle class="s" cx="357.5" cy="729.6" r="6.75"/>
<circle class="s" cx="496.6" cy="724.3" r="6.75"/>
<circle class="s" cx="690.4" cy="709.2" r="6.75"/>
<circle class="s" cx="529.0" cy="298.8" r="6.75"/>
<circle class="s" cx="751.6" cy="913.2" r="6.75"/>
<circle class="s" cx="845.0" cy="900.8" r="6.75"/>
<circle class="s" cx="567.2" cy="801.3" r="6.75"/>
<circle class="s" cx="552.1" cy="827.8" r="6.75"/>
<circle class="s" cx="424.5" cy="723.3" r="6.75"/>
<circle class="s" cx="1032.6" cy="494.9" r="6.75"/>
<circle class="s" cx="1097.5" cy="488.8" r="6.75"/>
<circle class="s" cx="895.4" cy="413.5" r="6.75"/>
<circle class="s" cx="712.2" cy="744.1" r="6.75"/>
<circle class="s" cx="593.4" cy="270.1" r="6.75"/>
<circle class="s" cx="558.0" cy="460.2" r="6.75"/>
<circle class="s" cx="773.4" cy="887.5" r="6.75"/>
<circle class="s" cx="496.3" cy="304.3" r="6.75"/>
<circle class="s" cx="794.5" cy="835.3" r="6.75"/>
<circle class="s" cx="782.8" cy="690.1" r="6.75"/>
<circle class="s" cx="669.9" cy="695.6" r="6.75"/>
<circle class="s" cx="762.1" cy="771.5" r="6.75"/>
<circle class="s" cx="928.6" cy="874.6" r="6.75"/>
<circle class="s" cx="511.0" cy="483.7" r="6.75"/>
<circle class="s" cx="431.0" cy="857.1" r="6.75"/>
<circle class="s" cx="755.5" cy="835.8" r="6.75"/>
<circle class="s" cx="934.5" cy="634.9" r="6.75"/>
<circle class="s" cx="449.8" cy="748.6" r="6.75"/>
<circle class="s" cx="782.8" cy="446.3" r="6.75"/>
<circle class="s" cx="588.3" cy="430.4" r="6.75"/>
<circle class="s" cx="903.0" cy="842.5" r="6.75"/>
<circle class="s" cx="572.8" cy="768.9" r="6.75"/>
<circle class="s" cx="1038.2" cy="459.5" r="6.75"/>
<circle class="s" cx="399.6" cy="789.2" r="6.75"/>
<circle class="s" cx="770.0" cy="773.3" r="6.75"/>
<circle class="s" cx="608.3" cy="726.6" r="6.75"/>
<circle class="s" cx="572.8" cy="427.5" r="6.75"/>
<circle class="s" cx="782.2" cy="729.0" r="6.75"/>
<circle class="s" cx="485.3" cy="240.6" r="6.75"/>
<circle class="s" cx="534.2" cy="955.5" r="6.75"/>
<circle class="s" cx="690.3" cy="841.7" r="6.75"/>
<circle class="s" cx="326.9" cy="811.6" r="6.75"/>
<circle class="s" cx="878.5" cy="926.7" r="6.75"/>
<circle class="s" cx="746.8" cy="777.0" r="6.75"/>
<circle class="s" cx="550.1" cy="455.3" r="6.75"/>
<circle class="s" cx="894.2" cy="892.1" r="6.75"/>
<circle class="s" cx="553.3" cy="266.6" r="6.75"/>
<circle class="s" cx="902.9" cy="924.4" r="6.75"/>
<circle class="s" cx="739.2" cy="826.8" r="6.75"/>
<circle class="s" cx="557.3" cy="575.6" r="6.75"/>
<circle class="s" cx="583.3" cy="447.1" r="6.75"/>
<circle class="s" cx="950.6" cy="634.9" r="6.75"/>
<circle class="s" cx="278.8" cy="378.9" r="6.75"/>
<circle class="s" cx="607.7" cy="856.0" r="6.75"/>
<circle class="s" cx="382.8" cy="719.9" r="6.75"/>
<circle class="s" cx="572.6" cy="1065.8" r="6.75"/>
<circle class="s" cx="457.6" cy="278.3" r="6.75"/>
<circle class="s" cx="558.0" cy="782.4" r="6.75"/>
<circle class="s" cx="821.7" cy="897.7" r="6.75"/>
<circle class="s" cx="511.0" cy="222.5" r="6.75"/>
<circle class="s" cx="573.9" cy="509.3" r="6.75"/>
<circle class="s" cx="453.1" cy="717.1" r="6.75"/>
<circle class="s" cx="903.9" cy="395.0" r="6.75"/>
<circle class="s" cx="527.6" cy="267.9" r="6.75"/>
<circle class="s" cx="1100.7" cy="498.0" r="6.75"/>
<circle class="s" cx="391.4" cy="573.2" r="6.75"/>
<circle class="s" cx="502.3" cy="289.3" r="6.75"/>
<circle class="s" cx="705.7" cy="701.9" r="6.75"/>
<circle class="s" cx="627.4" cy="998.1" r="6.75"/>
<circle class="s" cx="894.3" cy="403.9" r="6.75"/>
<circle class="s" cx="368.9" cy="448.2" r="6.75"/>
<circle class="s" cx="650.1" cy="778.8" r="6.75"/>
<circle class="s" cx="381.6" cy="542.6" r="6.75"/>
<circle class="s" cx="661.4" cy="294.2" r="6.75"/>
<circle class="s" cx="531.7" cy="478.3" r="6.75"/>
<circle class="s" cx="560.3" cy="755.4" r="6.75"/>
<circle class="s" cx="588.0" cy="228.3" r="6.75"/>
<circle class="s" cx="912.1" cy="826.9" r="6.75"/>
<circle class="s" cx="523.7" cy="949.2" r="6.75"/>
<circle class="s" cx="685.7" cy="847.4" r="6.75"/>
<circle class="s" cx="345.1" cy="382.7" r="6.75"/>
<circle class="s" cx="753.5" cy="460.8" r="6.75"/>
<circle class="s" cx="361.2" cy="841.9" r="6.75"/>
<circle class="s" cx="753.5" cy="749.5" r="6.75"/>
<circle class="s" cx="1083.4" cy="508.4" r="6.75"/>
<circle class="s" cx="682.3" cy="444.6" r="6.75"/>
<circle class="s" cx="1012.3" cy="316.2" r="6.75"/>
<circle class="s" cx="865.0" cy="833.5" r="6.75"/>
<circle class="s" cx="767.7" cy="675.5" r="6.75"/>
<circle class="s" cx="841.2" cy="557.4" r="6.75"/>
<circle class="s" cx="1059.5" cy="467.1" r="6.75"/>
<circle class="s" cx="335.8" cy="570.8" r="6.75"/>
<circle class="s" cx="924.3" cy="533.8" r="6.75"/>
<circle class="s" cx="826.7" cy="619.7" r="6.75"/>
<circle class="s" cx="509.6" cy="935.6" r="6.75"/>
<circle class="s" cx="773.7" cy="662.7" r="6.75"/>
<circle class="s" cx="602.3" cy="801.0" r="6.75"/>
<circle class="s" cx="964.7" cy="632.9" r="6.75"/>
<circle class="s" cx="980.8" cy="303.9" r="6.75"/>
<circle class="s" cx="676.8" cy="458.8" r="6.75"/>
<circle class="s" cx="948.0" cy="870.4" r="6.75"/>
<circle class="s" cx="889.7" cy="894.5" r="6.75"/>
<circle class="s" cx="538.3" cy="209.1" r="6.75"/>
<circle class="s" cx="650.8" cy="851.0" r="6.75"/>
<circle class="s" cx="645.0" cy="478.2" r="6.75"/>
<circle class="s" cx="353.3" cy="759.0" r="6.75"/>
<circle class="s" cx="589.0" cy="815.7" r="6.75"/>
<circle class="s" cx="799.7" cy="698.4" r="6.75"/>
<circle class="s" cx="787.5" cy="830.8" r="6.75"/>
<circle class="s" cx="491.0" cy="219.4" r="6.75"/>
<circle class="s" cx="742.4" cy="768.8" r="6.75"/>
<circle class="s" cx="590.2" cy="486.5" r="6.75"/>
<circle class="s" cx="913.5" cy="840.4" r="6.75"/>
<circle class="s" cx="585.4" cy="858.3" r="6.75"/>
<circle class="s" cx="379.7" cy="553.8" r="6.75"/>
<circle class="s" cx="1001.7" cy="444.0" r="6.75"/>
<circle class="s" cx="782.8" cy="782.6" r="6.75"/>
<circle class="s" cx="884.2" cy="418.8" r="6.75"/>
<circle class="s" cx="724.2" cy="286.8" r="6.75"/>
<circle class="s" cx="549.9" cy="519.2" r="6.75"/>
<circle class="s" cx="779.7" cy="623.7" r="6.75"/>
<circle class="s" cx="521.6" cy="904.9" r="6.75"/>
<circle class="s" cx="919.2" cy="843.2" r="6.75"/>
<circle class="s" cx="993.4" cy="324.7" r="6.75"/>
<circle class="s" cx="1004.4" cy="303.0" r="6.75"/>
<circle class="s" cx="721.7" cy="288.8" r="6.75"/>
<circle class="s" cx="537.1" cy="475.3" r="6.75"/>
<circle class="s" cx="654.4" cy="841.9" r="6.75"/>
<circle class="s" cx="602.2" cy="311.5" r="6.75"/>
<circle class="s" cx="463.0" cy="258.9" r="6.75"/>
<circle class="s" cx="631.7" cy="701.2" r="6.75"/>
<circle class="s" cx="796.9" cy="970.1" r="6.75"/>
<circle class="s" cx="519.2" cy="448.1" r="6.75"/>
<circle class="s" cx="925.7" cy="881.4" r="6.75"/>
<circle class="s" cx="842.8" cy="938.2" r="6.75"/>
<circle class="s" cx="329.9" cy="535.9" r="6.75"/>
<circle class="s" cx="510.7" cy="753.2" r="6.75"/>
<circle class="s" cx="667.0" cy="210.6" r="6.75"/>
<circle class="s" cx="609.9" cy="529.9" r="6.75"/>
<circle class="s" cx="692.7" cy="766.5" r="6.75"/>
<circle class="s" cx="909.8" cy="909.9" r="6.75"/>
<circle class="s" cx="925.6" cy="797.8" r="6.75"/>
<circle class="s" cx="628.5" cy="246.3" r="6.75"/>
<circle class="s" cx="615.6" cy="223.8" r="6.75"/>
<circle class="s" cx="832.1" cy="586.0" r="6.75"/>
<circle class="s" cx="920.5" cy="782.7" r="6.75"/>
<circle class="s" cx="746.5" cy="807.7" r="6.75"/>
<circle class="s" cx="838.2" cy="865.9" r="6.75"/>
<circle class="s" cx="500.0" cy="753.6" r="6.75"/>
<circle class="s" cx="712.6" cy="732.0" r="6.75"/>
<circle class="s" cx="396.9" cy="814.6" r="6.75"/>
<circle class="s" cx="571.8" cy="206.4" r="6.75"/>
<circle class="s" cx="384.6" cy="715.6" r="6.75"/>
<circle class="s" cx="749.7" cy="849.8" r="6.75"/>
<circle class="s" cx="669.4" cy="822.5" r="6.75"/>
<circle class="s" cx="805.8" cy="727.7" r="6.75"/>
<circle class="s" cx="630.2" cy="548.8" r="6.75"/>
<circle class="s" cx="670.7" cy="977.0" r="6.75"/>
<circle class="s" cx="920.6" cy="863.6" r="6.75"/>
<circle class="s" cx="903.2" cy="905.8" r="6.75"/>
<circle class="s" cx="655.6" cy="870.3" r="6.75"/>
<circle class="s" cx="919.2" cy="395.0" r="6.75"/>
<circle class="s" cx="340.4" cy="517.4" r="6.75"/>
<circle class="s" cx="678.3" cy="978.2" r="6.75"/>
<circle class="s" cx="625.7" cy="829.0" r="6.75"/>
<circle class="s" cx="618.5" cy="449.5" r="6.75"/>
<circle class="s" cx="774.8" cy="684.6" r="6.75"/>
<circle class="s" cx="650.7" cy="298.7" r="6.75"/>
<circle class="s" cx="774.5" cy="791.5" r="6.75"/>
<circle class="s" cx="472.9" cy="734.8" r="6.75"/>
<circle class="s" cx="349.9" cy="955.3" r="6.75"/>
<circle class="s" cx="723.2" cy="764.6" r="6.75"/>
<circle class="s" cx="298.1" cy="440.8" r="6.75"/>
<circle class="s" cx="841.8" cy="575.2" r="6.75"/>
<circle class="s" cx="351.2" cy="277.5" r="6.75"/>
<circle class="s" cx="752.9" cy="786.8" r="6.75"/>
<circle class="s" cx="603.2" cy="780.7" r="6.75"/>
<circle class="s" cx="567.4" cy="807.1" r="6.75"/>
<circle class="s" cx="583.3" cy="527.7" r="6.75"/>
<circle class="s" cx="654.9" cy="499.7" r="6.75"/>
<circle class="s" cx="895.7" cy="799.2" r="6.75"/>
<circle class="s" cx="476.1" cy="330.1" r="6.75"/>
<circle class="s" cx="747.0" cy="328.9" r="6.75"/>
<circle class="s" cx="631.6" cy="465.3" r="6.75"/>
<circle class="s" cx="692.9" cy="1045.3" r="6.75"/>
<circle class="s" cx="553.4" cy="805.2" r="6.75"/>
<circle class="s" cx="717.9" cy="892.6" r="6.75"/>
<circle class="s" cx="550.2" cy="993.8" r="6.75"/>
<circle class="s" cx="709.8" cy="775.5" r="6.75"/>
<circle class="s" cx="1015.1" cy="474.6" r="6.75"/>
<circle class="s" cx="312.4" cy="308.3" r="6.75"/>
<circle class="s" cx="474.9" cy="314.9" r="6.75"/>
<circle class="s" cx="984.6" cy="461.9" r="6.75"/>
<circle class="s" cx="584.1" cy="852.1" r="6.75"/>
<circle class="s" cx="790.2" cy="293.0" r="6.75"/>
<circle class="s" cx="692.1" cy="276.1" r="6.75"/>
<circle class="s" cx="703.6" cy="452.0" r="6.75"/>
<circle class="s" cx="630.9" cy="949.7" r="6.75"/>
<circle class="s" cx="746.9" cy="298.0" r="6.75"/>
<circle class="s" cx="290.0" cy="293.3" r="6.75"/>
<circle class="s" cx="745.4" cy="745.9" r="6.75"/>
<circle class="s" cx="558.2" cy="809.1" r="6.75"/>
<circle class="s" cx="861.2" cy="861.0" r="6.75"/>
<circle class="s" cx="537.6" cy="445.0" r="6.75"/>
<circle class="s" cx="483.2" cy="235.3" r="6.75"/>
<circle class="s" cx="853.0" cy="539.6" r="6.75"/>
<circle class="s" cx="555.0" cy="771.2" r="6.75"/>
<circle class="s" cx="698.0" cy="255.5" r="6.75"/>
<circle class="s" cx="855.2" cy="837.9" r="6.75"/>
<circle class="s" cx="610.5" cy="617.0" r="6.75"/>
<circle class="s" cx="1085.6" cy="445.0" r="6.75"/>
<circle class="s" cx="695.0" cy="929.4" r="6.75"/>
<circle class="s" cx="590.6" cy="650.0" r="6.75"/>
<circle class="s" cx="845.5" cy="796.8" r="6.75"/>
<circle class="s" cx="687.2" cy="395.0" r="6.75"/>
<circle class="s" cx="376.2" cy="562.6" r="6.75"/>
<circle class="s" cx="942.0" cy="888.2" r="6.75"/>
<circle class="s" cx="636.3" cy="761.6" r="6.75"/>
<circle class="s" cx="422.3" cy="353.5" r="6.75"/>
<circle class="s" cx="743.5" cy="831.2" r="6.75"/>
<circle class="s" cx="366.2" cy="555.7" r="6.75"/>
<circle class="s" cx="612.4" cy="543.8" r="6.75"/>
<circle class="s" cx="578.7" cy="856.5" r="6.75"/>
<circle class="s" cx="858.0" cy="821.0" r="6.75"/>
<circle class="s" cx="573.0" cy="808.7" r="6.75"/>
<circle class="s" cx="406.9" cy="303.9" r="6.75"/>
<circle class="s" cx="575.6" cy="560.5" r="6.75"/>
<circle class="s" cx="549.8" cy="957.2" r="6.75"/>
<circle class="s" cx="776.0" cy="678.4" r="6.75"/>
<circle class="s" cx="325.8" cy="318.0" r="6.75"/>
<circle class="s" cx="905.3" cy="814.3" r="6.75"/>
<circle class="s" cx="730.4" cy="224.2" r="6.75"/>
<circle class="s" cx="545.9" cy="572.5" r="6.75"/>
<circle class="s" cx="720.6" cy="456.5" r="6.75"/>
<circle class="s" cx="903.3" cy="439.5" r="6.75"/>
<circle class="s" cx="890.7" cy="806.7" r="6.75"/>
<circle class="s" cx="813.9" cy="870.5" r="6.75"/>
<circle class="s" cx="855.3" cy="874.5" r="6.75"/>
<circle class="s" cx="755.6" cy="705.2" r="6.75"/>
<circle class="s" cx="655.1" cy="657.3" r="6.75"/>
<circle class="s" cx="633.2" cy="431.8" r="6.75"/>
<circle class="s" cx="896.5" cy="884.7" r="6.75"/>
<circle class="s" cx="626.4" cy="931.6" r="6.75"/>
<circle class="s" cx="622.3" cy="767.5" r="6.75"/>
<circle class="s" cx="708.0" cy="250.4" r="6.75"/>
<circle class="s" cx="332.2" cy="548.1" r="6.75"/>
<circle class="s" cx="663.9" cy="326.7" r="6.75"/>
<circle class="s" cx="697.2" cy="482.8" r="6.75"/>
<circle class="s" cx="399.3" cy="736.7" r="6.75"/>
<circle class="s" cx="408.4" cy="742.1" r="6.75"/>
<circle class="s" cx="613.3" cy="764.2" r="6.75"/>
<circle class="s" cx="550.3" cy="1012.3" r="6.75"/>
<circle class="s" cx="833.5" cy="560.6" r="6.75"/>
<circle class="s" cx="624.8" cy="719.9" r="6.75"/>
<circle class="s" cx="1042.8" cy="325.5" r="6.75"/>
<circle class="s" cx="507.4" cy="250.3" r="6.75"/>
<circle class="s" cx="822.0" cy="868.0" r="6.75"/>
<circle class="s" cx="644.9" cy="506.0" r="6.75"/>
<circle class="s" cx="871.4" cy="631.4" r="6.75"/>
<circle class="s" cx="943.5" cy="867.7" r="6.75"/>
<circle class="s" cx="1049.4" cy="483.9" r="6.75"/>
<circle class="s" cx="323.7" cy="374.7" r="6.75"/>
<circle class="s" cx="623.9" cy="287.2" r="6.75"/>
<circle class="s" cx="593.0" cy="453.8" r="6.75"/>
<circle class="s" cx="1091.8" cy="506.7" r="6.75"/>
<circle class="s" cx="885.0" cy="935.3" r="6.75"/>
<circle class="s" cx="372.7" cy="715.0" r="6.75"/>
<circle class="s" cx="821.0" cy="607.4" r="6.75"/>
<circle class="s" cx="388.5" cy="569.4" r="6.75"/>
<circle class="s" cx="787.0" cy="758.7" r="6.75"/>
<circle class="s" cx="568.5" cy="1016.4" r="6.75"/>
<circle class="s" cx="450.4" cy="701.5" r="6.75"/>
<circle class="s" cx="865.5" cy="847.7" r="6.75"/>
<circle class="s" cx="646.0" cy="458.5" r="6.75"/>
<circle class="s" cx="902.9" cy="809.6" r="6.75"/>
<circle class="s" cx="320.8" cy="911.0" r="6.75"/>
<circle class="s" cx="1103.8" cy="478.0" r="6.75"/>
<circle class="s" cx="631.2" cy="732.3" r="6.75"/>
<circle class="s" cx="566.8" cy="286.7" r="6.75"/>
<circle class="s" cx="684.5" cy="633.4" r="6.75"/>
<circle class="s" cx="523.1" cy="493.6" r="6.75"/>
<circle class="s" cx="558.7" cy="886.0" r="6.75"/>
<circle class="s" cx="300.4" cy="350.0" r="6.75"/>
<circle class="s" cx="1062.2" cy="460.8" r="6.75"/>
<circle class="s" cx="841.1" cy="593.6" r="6.75"/>
<circle class="s" cx="636.5" cy="537.2" r="6.75"/>
<circle class="s" cx="575.4" cy="822.8" r="6.75"/>
<circle class="s" cx="571.2" cy="421.8" r="6.75"/>
<circle class="s" cx="589.4" cy="407.8" r="6.75"/>
<circle class="s" cx="753.7" cy="791.9" r="6.75"/>
<circle class="s" cx="601.2" cy="531.0" r="6.75"/>
<circle class="s" cx="521.7" cy="786.4" r="6.75"/>
<circle class="s" cx="808.5" cy="918.2" r="6.75"/>
<circle class="s" cx="636.9" cy="744.1" r="6.75"/>
<circle class="s" cx="895.9" cy="843.2" r="6.75"/>
<circle class="s" cx="897.5" cy="423.9" r="6.75"/>
<circle class="s" cx="788.4" cy="458.0" r="6.75"/>
<circle class="s" cx="721.6" cy="748.8" r="6.75"/>
<circle class="s" cx="579.6" cy="819.6" r="6.75"/>
<circle class="s" cx="751.9" cy="768.1" r="6.75"/>
<circle class="s" cx="911.3" cy="487.4" r="6.75"/>
<circle class="s" cx="921.8" cy="429.2" r="6.75"/>
<circle class="s" cx="505.5" cy="749.8" r="6.75"/>
<circle class="s" cx="485.4" cy="888.3" r="6.75"/>
<circle class="s" cx="599.5" cy="444.8" r="6.75"/>
<circle class="s" cx="762.1" cy="735.1" r="6.75"/>
<circle class="s" cx="833.7" cy="915.8" r="6.75"/>
<circle class="s" cx="601.6" cy="245.3" r="6.75"/>
<circle class="s" cx="937.6" cy="490.4" r="6.75"/>
<circle class="s" cx="365.9" cy="757.3" r="6.75"/>
<circle class="s" cx="653.4" cy="861.0" r="6.75"/>
<circle class="s" cx="439.6" cy="269.2" r="6.75"/>
<circle class="t" cx="580.4" cy="537.0" r="6.75"/>
<circle class="t" cx="754.4" cy="805.4" r="6.75"/>
<circle class="t" cx="670.2" cy="1020.7" r="6.75"/>
<circle class="t" cx="590.7" cy="228.4" r="6.75"/>
<circle class="t" cx="1017.2" cy="433.4" r="6.75"/>
<circle class="t" cx="602.7" cy="940.1" r="6.75"/>
<circle class="t" cx="993.5" cy="470.7" r="6.75"/>
<circle class="t" cx="374.4" cy="744.3" r="6.75"/>
<circle class="t" cx="744.0" cy="740.9" r="6.75"/>
<circle class="t" cx="777.9" cy="816.2" r="6.75"/>
<circle class="t" cx="661.6" cy="258.7" r="6.75"/>
<circle class="t" cx="445.0" cy="223.9" r="6.75"/>
<circle class="t" cx="519.3" cy="970.4" r="6.75"/>
<circle class="t" cx="779.9" cy="832.2" r="6.75"/>
<circle class="t" cx="594.1" cy="915.1" r="6.75"/>
<circle class="t" cx="1002.0" cy="451.5" r="6.75"/>
<circle class="t" cx="688.3" cy="470.1" r="6.75"/>
<circle class="t" cx="718.8" cy="294.3" r="6.75"/>
<circle class="t" cx="638.7" cy="1044.2" r="6.75"/>
<circle class="t" cx="853.4" cy="848.2" r="6.75"/>
<circle class="t" cx="515.5" cy="270.4" r="6.75"/>
<circle class="t" cx="704.4" cy="845.4" r="6.75"/>
<circle class="t" cx="456.9" cy="848.8" r="6.75"/>
<circle class="t" cx="812.1" cy="700.1" r="6.75"/>
<circle class="t" cx="771.9" cy="667.5" r="6.75"/>
<circle class="t" cx="398.4" cy="709.3" r="6.75"/>
<circle class="t" cx="531.9" cy="947.4" r="6.75"/>
<circle class="t" cx="625.3" cy="218.0" r="6.75"/>
<circle class="t" cx="874.7" cy="936.7" r="6.75"/>
<circle class="t" cx="874.6" cy="873.4" r="6.75"/>
<circle class="t" cx="471.4" cy="321.2" r="6.75"/>
<circle class="t" cx="702.2" cy="666.9" r="6.75"/>
<circle class="t" cx="811.9" cy="724.8" r="6.75"/>
<circle class="t" cx="507.5" cy="465.0" r="6.75"/>
<circle class="t" cx="1027.0" cy="347.6" r="6.75"/>
<circle class="t" cx="670.2" cy="855.4" r="6.75"/>
<circle class="t" cx="369.6" cy="562.3" r="6.75"/>
<circle class="t" cx="751.3" cy="737.5" r="6.75"/>
<circle class="t" cx="905.9" cy="804.4" r="6.75"/>
<circle class="t" cx="893.6" cy="877.9" r="6.75"/>
<circle class="t" cx="549.4" cy="1043.7" r="6.75"/>
<circle class="t" cx="399.7" cy="339.7" r="6.75"/>
<circle class="t" cx="832.6" cy="627.1" r="6.75"/>
<circle class="t" cx="739.1" cy="886.7" r="6.75"/>
<circle class="t" cx="340.4" cy="391.9" r="6.75"/>
<circle class="t" cx="695.6" cy="282.9" r="6.75"/>
<circle class="t" cx="525.3" cy="263.1" r="6.75"/>
<circle class="t" cx="770.8" cy="734.8" r="6.75"/>
<circle class="t" cx="572.8" cy="1045.9" r="6.75"/>
<circle class="t" cx="878.9" cy="851.3" r="6.75"/>
<circle class="t" cx="594.4" cy="312.9" r="6.75"/>
<circle class="t" cx="923.6" cy="852.7" r="6.75"/>
<circle class="t" cx="786.4" cy="694.9" r="6.75"/>
<circle class="t" cx="505.0" cy="215.7" r="6.75"/>
<circle class="t" cx="684.0" cy="401.8" r="6.75"/>
<circle class="t" cx="800.1" cy="622.1" r="6.75"/>
<circle class="t" cx="603.1" cy="521.3" r="6.75"/>
<circle class="t" cx="628.5" cy="488.5" r="6.75"/>
<circle class="t" cx="875.3" cy="893.8" r="6.75"/>
<circle class="t" cx="771.1" cy="848.4" r="6.75"/>
<circle class="t" cx="665.0" cy="767.7" r="6.75"/>
<circle class="t" cx="982.1" cy="454.5" r="6.75"/>
<circle class="t" cx="378.0" cy="721.1" r="6.75"/>
<circle class="t" cx="830.9" cy="937.5" r="6.75"/>
<circle class="t" cx="611.7" cy="1002.4" r="6.75"/>
<circle class="t" cx="775.5" cy="829.2" r="6.75"/>
<circle class="t" cx="305.0" cy="305.5" r="6.75"/>
<circle class="t" cx="864.2" cy="839.7" r="6.75"/>
<circle class="t" cx="905.4" cy="853.1" r="6.75"/>
<circle class="t" cx="676.6" cy="865.9" r="6.75"/>
<circle class="t" cx="761.2" cy="294.2" r="6.75"/>
<circle class="t" cx="395.3" cy="474.4" r="6.75"/>
<circle class="t" cx="824.8" cy="625.6" r="6.75"/>
<circle class="t" cx="723.2" cy="303.1" r="6.75"/>
<circle class="t" cx="1071.2" cy="477.9" r="6.75"/>
<circle class="t" cx="861.8" cy="866.3" r="6.75"/>
<circle class="t" cx="811.9" cy="613.4" r="6.75"/>
<circle class="t" cx="879.2" cy="844.2" r="6.75"/>
<circle class="t" cx="297.6" cy="908.6" r="6.75"/>
<circle class="t" cx="616.1" cy="421.2" r="6.75"/>
<circle class="t" cx="703.1" cy="459.8" r="6.75"/>
<circle class="t" cx="687.1" cy="725.7" r="6.75"/>
<circle class="t" cx="722.5" cy="711.9" r="6.75"/>
<circle class="t" cx="1050.1" cy="467.6" r="6.75"/>
<circle class="t" cx="331.5" cy="299.0" r="6.75"/>
<circle class="t" cx="761.1" cy="763.4" r="6.75"/>
<circle class="t" cx="672.6" cy="750.7" r="6.75"/>
<circle class="t" cx="563.2" cy="562.6" r="6.75"/>
<circle class="t" cx="364.6" cy="383.2" r="6.75"/>
<circle class="t" cx="440.0" cy="721.0" r="6.75"/>
<circle class="t" cx="838.2" cy="568.4" r="6.75"/>
<circle class="t" cx="594.7" cy="535.0" r="6.75"/>
<circle class="t" cx="416.1" cy="321.7" r="6.75"/>
<circle class="t" cx="695.0" cy="1027.3" r="6.75"/>
<circle class="t" cx="660.9" cy="662.2" r="6.75"/>
<circle class="t" cx="538.7" cy="541.9" r="6.75"/>
<circle class="t" cx="793.1" cy="707.7" r="6.75"/>
<circle class="t" cx="565.4" cy="193.1" r="6.75"/>
<circle class="t" cx="579.5" cy="1006.2" r="6.75"/>
<circle class="t" cx="573.6" cy="432.2" r="6.75"/>
<circle class="t" cx="666.6" cy="1077.1" r="6.75"/>
<circle class="t" cx="625.4" cy="849.2" r="6.75"/>
<circle class="t" cx="632.5" cy="1042.7" r="6.75"/>
<circle class="t" cx="524.7" cy="457.8" r="6.75"/>
<circle class="t" cx="668.8" cy="714.7" r="6.75"/>
<circle class="t" cx="480.5" cy="735.5" r="6.75"/>
<circle class="t" cx="576.5" cy="209.1" r="6.75"/>
<circle class="t" cx="762.8" cy="712.7" r="6.75"/>
<circle class="t" cx="381.8" cy="758.1" r="6.75"/>
<circle class="t" cx="422.7" cy="861.2" r="6.75"/>
<circle class="t" cx="613.1" cy="997.3" r="6.75"/>
<circle class="t" cx="1001.1" cy="468.0" r="6.75"/>
<circle class="t" cx="802.9" cy="836.8" r="6.75"/>
<circle class="t" cx="1019.6" cy="458.5" r="6.75"/>
<circle class="t" cx="697.3" cy="799.4" r="6.75"/>
<circle class="t" cx="594.3" cy="292.1" r="6.75"/>
<circle class="t" cx="912.1" cy="801.5" r="6.75"/>
<circle class="t" cx="701.8" cy="248.4" r="6.75"/>
<circle class="t" cx="549.7" cy="813.8" r="6.75"/>
<circle class="t" cx="498.7" cy="243.9" r="6.75"/>
<circle class="t" cx="757.7" cy="458.9" r="6.75"/>
<circle class="t" cx="531.6" cy="251.3" r="6.75"/>
<circle class="t" cx="408.7" cy="719.7" r="6.75"/>
<circle class="t" cx="570.4" cy="456.4" r="6.75"/>
<circle class="t" cx="775.5" cy="675.9" r="6.75"/>
<circle class="t" cx="567.8" cy="785.9" r="6.75"/>
<circle class="t" cx="605.2" cy="295.8" r="6.75"/>
<circle class="t" cx="752.8" cy="761.2" r="6.75"/>
<circle class="t" cx="322.3" cy="356.8" r="6.75"/>
<circle class="t" cx="485.6" cy="389.4" r="6.75"/>
<circle class="t" cx="545.6" cy="345.6" r="6.75"/>
<circle class="t" cx="784.9" cy="368.9" r="6.75"/>
<circle class="t" cx="740.6" cy="558.2" r="6.75"/>
<circle class="t" cx="527.0" cy="860.0" r="6.75"/>
<circle class="t" cx="709.8" cy="299.0" r="6.75"/>
<circle class="t" cx="596.0" cy="553.7" r="6.75"/>
<circle class="t" cx="543.3" cy="375.1" r="6.75"/>
<circle class="t" cx="505.6" cy="480.3" r="6.75"/>
<circle class="t" cx="776.1" cy="706.1" r="6.75"/>
<circle class="t" cx="869.2" cy="565.3" r="6.75"/>
<circle class="t" cx="575.0" cy="536.7" r="6.75"/>
<circle class="t" cx="796.8" cy="614.9" r="6.75"/>
<circle class="t" cx="379.8" cy="251.6" r="6.75"/>
<circle class="t" cx="982.6" cy="424.2" r="6.75"/>
<circle class="t" cx="460.5" cy="725.4" r="6.75"/>
<circle class="t" cx="460.8" cy="715.7" r="6.75"/>
<circle class="t" cx="1012.2" cy="797.3" r="6.75"/>
<circle class="t" cx="855.4" cy="828.0" r="6.75"/>
<circle class="t" cx="682.2" cy="284.6" r="6.75"/>
<circle class="t" cx="716.9" cy="640.1" r="6.75"/>
<circle class="t" cx="409.0" cy="418.0" r="6.75"/>
<circle class="t" cx="534.2" cy="283.4" r="6.75"/>
<circle class="t" cx="333.7" cy="923.7" r="6.75"/>
<circle class="t" cx="701.6" cy="325.8" r="6.75"/>
<circle class="t" cx="644.6" cy="1004.9" r="6.75"/>
<circle class="t" cx="579.9" cy="454.8" r="6.75"/>
<circle class="t" cx="767.5" cy="838.8" r="6.75"/>
<circle class="t" cx="546.1" cy="823.0" r="6.75"/>
<circle class="t" cx="626.6" cy="525.0" r="6.75"/>
<circle class="t" cx="874.7" cy="864.3" r="6.75"/>
<circle class="t" cx="590.9" cy="765.8" r="6.75"/>
<circle class="t" cx="873.2" cy="883.4" r="6.75"/>
<circle class="t" cx="859.3" cy="807.9" r="6.75"/>
<circle class="t" cx="578.1" cy="435.5" r="6.75"/>
<circle class="t" cx="528.6" cy="209.9" r="6.75"/>
<circle class="t" cx="654.0" cy="826.0" r="6.75"/>
<circle class="t" cx="597.4" cy="481.0" r="6.75"/>
<circle class="t" cx="882.8" cy="872.6" r="6.75"/>
<circle class="t" cx="570.6" cy="436.7" r="6.75"/>
<circle class="t" cx="571.1" cy="466.1" r="6.75"/>
<circle class="t" cx="419.4" cy="317.9" r="6.75"/>
<circle class="t" cx="898.0" cy="880.0" r="6.75"/>
<circle class="t" cx="582.9" cy="387.6" r="6.75"/>
<circle class="t" cx="582.0" cy="787.1" r="6.75"/>
<circle class="t" cx="905.9" cy="935.9" r="6.75"/>
<circle class="t" cx="939.0" cy="862.7" r="6.75"/>
<circle class="t" cx="1108.0" cy="502.7" r="6.75"/>
<circle class="t" cx="576.8" cy="772.4" r="6.75"/>
<circle class="t" cx="630.7" cy="473.5" r="6.75"/>
<circle class="t" cx="567.4" cy="513.0" r="6.75"/>
<circle class="t" cx="549.1" cy="212.9" r="6.75"/>
<circle class="t" cx="364.4" cy="581.7" r="6.75"/>
<circle class="t" cx="605.4" cy="471.4" r="6.75"/>
<circle class="t" cx="599.7" cy="949.7" r="6.75"/>
<circle class="t" cx="565.7" cy="816.7" r="6.75"/>
<circle class="t" cx="615.7" cy="293.0" r="6.75"/>
<circle class="t" cx="527.4" cy="785.6" r="6.75"/>
<circle class="t" cx="730.6" cy="442.3" r="6.75"/>
<circle class="t" cx="521.2" cy="773.1" r="6.75"/>
<circle class="t" cx="340.8" cy="267.7" r="6.75"/>
<circle class="t" cx="367.8" cy="921.5" r="6.75"/>
<circle class="t" cx="844.3" cy="553.5" r="6.75"/>
<circle class="t" cx="814.5" cy="814.2" r="6.75"/>
<circle class="t" cx="588.9" cy="463.1" r="6.75"/>
<circle class="t" cx="1098.9" cy="473.1" r="6.75"/>
<circle class="t" cx="861.2" cy="577.5" r="6.75"/>
<circle class="t" cx="1022.1" cy="447.1" r="6.75"/>
<circle class="t" cx="652.1" cy="474.3" r="6.75"/>
<circle class="t" cx="663.8" cy="793.1" r="6.75"/>
<circle class="t" cx="530.6" cy="457.5" r="6.75"/>
<circle class="t" cx="685.1" cy="1022.9" r="6.75"/>
<circle class="t" cx="554.4" cy="980.7" r="6.75"/>
<circle class="t" cx="714.2" cy="842.7" r="6.75"/>
<circle class="t" cx="748.7" cy="796.0" r="6.75"/>
<circle class="t" cx="705.1" cy="312.9" r="6.75"/>
<circle class="t" cx="643.4" cy="1042.3" r="6.75"/>
<circle class="t" cx="723.5" cy="311.1" r="6.75"/>
<circle class="t" cx="562.7" cy="797.3" r="6.75"/>
<circle class="t" cx="908.5" cy="843.1" r="6.75"/>
<circle class="t" cx="920.4" cy="635.7" r="6.75"/>
<circle class="t" cx="611.4" cy="1013.6" r="6.75"/>
<circle class="t" cx="681.4" cy="287.4" r="6.75"/>
<circle class="t" cx="628.6" cy="770.3" r="6.75"/>
<circle class="t" cx="716.8" cy="217.1" r="6.75"/>
<circle class="t" cx="692.5" cy="477.7" r="6.75"/>
<circle class="t" cx="373.2" cy="725.4" r="6.75"/>
<circle class="t" cx="552.1" cy="798.2" r="6.75"/>
<circle class="t" cx="637.7" cy="700.2" r="6.75"/>
<circle class="t" cx="587.7" cy="393.6" r="6.75"/>
<circle class="t" cx="522.2" cy="767.2" r="6.75"/>
<circle class="t" cx="649.1" cy="278.8" r="6.75"/>
<circle class="t" cx="645.7" cy="1072.6" r="6.75"/>
<circle class="t" cx="630.8" cy="977.2" r="6.75"/>
<circle class="t" cx="773.9" cy="616.8" r="6.75"/>
<circle class="t" cx="621.8" cy="307.1" r="6.75"/>
<circle class="t" cx="550.8" cy="806.8" r="6.75"/>
<circle class="t" cx="528.5" cy="495.2" r="6.75"/>
<circle class="t" cx="358.9" cy="277.5" r="6.75"/>
<circle class="t" cx="542.7" cy="529.7" r="6.75"/>
<circle class="t" cx="622.8" cy="262.8" r="6.75"/>
<circle class="t" cx="747.4" cy="900.5" r="6.75"/>
<circle class="t" cx="758.6" cy="664.6" r="6.75"/>
<circle class="t" cx="1072.2" cy="487.7" r="6.75"/>
<circle class="t" cx="668.2" cy="883.5" r="6.75"/>
<circle class="t" cx="864.6" cy="884.9" r="6.75"/>
<circle class="t" cx="722.1" cy="789.2" r="6.75"/>
<circle class="t" cx="372.3" cy="733.7" r="6.75"/>
<circle class="t" cx="949.4" cy="896.4" r="6.75"/>
<circle class="t" cx="1003.5" cy="477.4" r="6.75"/>
<circle class="t" cx="978.9" cy="664.9" r="6.75"/>
<circle class="t" cx="413.0" cy="423.0" r="6.75"/>
<circle class="t" cx="520.9" cy="200.7" r="6.75"/>
<circle class="t" cx="785.7" cy="719.9" r="6.75"/>
<circle class="t" cx="340.9" cy="827.4" r="6.75"/>
<circle class="t" cx="866.2" cy="908.3" r="6.75"/>
<circle class="t" cx="284.2" cy="431.6" r="6.75"/>
<circle class="t" cx="613.1" cy="514.9" r="6.75"/>
<circle class="t" cx="711.3" cy="828.7" r="6.75"/>
<circle class="t" cx="340.1" cy="569.0" r="6.75"/>
<circle class="t" cx="483.2" cy="920.8" r="6.75"/>
<circle class="t" cx="294.5" cy="321.5" r="6.75"/>
<circle class="t" cx="552.5" cy="777.0" r="6.75"/>
<circle class="t" cx="694.8" cy="809.1" r="6.75"/>
<circle class="t" cx="569.7" cy="820.4" r="6.75"/>
<circle class="t" cx="697.6" cy="319.1" r="6.75"/>
<circle class="t" cx="404.5" cy="708.8" r="6.75"/>
<circle class="t" cx="703.3" cy="319.5" r="6.75"/>
<circle class="t" cx="810.7" cy="817.6" r="6.75"/>
<circle class="t" cx="859.5" cy="887.1" r="6.75"/>
<circle class="t" cx="453.2" cy="768.8" r="6.75"/>
<circle class="t" cx="531.7" cy="501.8" r="6.75"/>
<circle class="t" cx="693.2" cy="847.1" r="6.75"/>
<circle class="t" cx="691.1" cy="321.2" r="6.75"/>
<circle class="t" cx="858.0" cy="920.3" r="6.75"/>
<circle class="t" cx="916.1" cy="630.4" r="6.75"/>
<circle class="t" cx="600.3" cy="730.5" r="6.75"/>
<circle class="t" cx="560.9" cy="962.6" r="6.75"/>
<circle class="t" cx="824.1" cy="693.2" r="6.75"/>
<circle class="t" cx="928.9" cy="645.4" r="6.75"/>
<circle class="t" cx="609.2" cy="1045.8" r="6.75"/>
<circle class="t" cx="600.6" cy="1003.7" r="6.75"/>
<circle class="t" cx="417.1" cy="741.2" r="6.75"/>
<circle class="t" cx="623.2" cy="991.8" r="6.75"/>
<circle class="t" cx="906.8" cy="899.3" r="6.75"/>
<circle class="t" cx="654.4" cy="752.5" r="6.75"/>
<circle class="t" cx="587.5" cy="239.7" r="6.75"/>
<circle class="t" cx="1056.0" cy="485.7" r="6.75"/>
<circle class="t" cx="923.4" cy="826.5" r="6.75"/>
<circle class="t" cx="981.8" cy="433.4" r="6.75"/>
<circle class="t" cx="436.9" cy="746.1" r="6.75"/>
<circle class="t" cx="641.8" cy="1084.6" r="6.75"/>
<circle class="t" cx="642.5" cy="262.7" r="6.75"/>
<circle class="t" cx="574.0" cy="974.9" r="6.75"/>
<circle class="t" cx="422.9" cy="737.1" r="6.75"/>
<circle class="t" cx="723.1" cy="645.9" r="6.75"/>
<circle class="t" cx="461.1" cy="740.0" r="6.75"/>
<circle class="t" cx="529.6" cy="517.6" r="6.75"/>
<circle class="t" cx="920.0" cy="819.1" r="6.75"/>
<circle class="t" cx="470.1" cy="301.6" r="6.75"/>
<circle class="u" cx="869.2" cy="378.1" r="6.75"/>
<circle class="u" cx="504.4" cy="737.4" r="6.75"/>
<circle class="u" cx="437.8" cy="734.4" r="6.75"/>
<circle class="u" cx="404.7" cy="854.9" r="6.75"/>
<circle class="u" cx="591.6" cy="720.9" r="6.75"/>
<circle class="u" cx="376.3" cy="515.8" r="6.75"/>
<circle class="u" cx="763.1" cy="661.3" r="6.75"/>
<circle class="u" cx="563.6" cy="521.7" r="6.75"/>
<circle class="u" cx="608.3" cy="498.3" r="6.75"/>
<circle class="u" cx="339.2" cy="498.2" r="6.75"/>
<circle class="u" cx="624.9" cy="492.0" r="6.75"/>
<circle class="u" cx="582.8" cy="813.3" r="6.75"/>
<circle class="u" cx="606.1" cy="277.9" r="6.75"/>
<circle class="u" cx="495.2" cy="740.8" r="6.75"/>
<circle class="u" cx="528.3" cy="290.5" r="6.75"/>
<circle class="u" cx="609.4" cy="720.9" r="6.75"/>
<circle class="u" cx="538.6" cy="506.7" r="6.75"/>
<circle class="u" cx="640.5" cy="982.2" r="6.75"/>
<circle class="u" cx="534.6" cy="777.1" r="6.75"/>
<circle class="u" cx="643.8" cy="510.8" r="6.75"/>
<circle class="u" cx="1022.7" cy="474.5" r="6.75"/>
<circle class="u" cx="577.3" cy="542.1" r="6.75"/>
<circle class="u" cx="511.8" cy="247.8" r="6.75"/>
<circle class="u" cx="1006.3" cy="483.2" r="6.75"/>
<circle class="u" cx="382.9" cy="728.7" r="6.75"/>
<circle class="u" cx="771.3" cy="819.8" r="6.75"/>
<circle class="u" cx="762.6" cy="790.9" r="6.75"/>
<circle class="u" cx="641.0" cy="475.6" r="6.75"/>
<circle class="u" cx="695.4" cy="299.7" r="6.75"/>
<circle class="u" cx="539.7" cy="805.4" r="6.75"/>
<circle class="u" cx="616.9" cy="499.1" r="6.75"/>
<circle class="u" cx="712.2" cy="715.6" r="6.75"/>
<circle class="u" cx="759.2" cy="805.9" r="6.75"/>
<circle class="u" cx="357.3" cy="922.9" r="6.75"/>
<circle class="u" cx="630.6" cy="535.7" r="6.75"/>
<circle class="u" cx="715.1" cy="309.5" r="6.75"/>
<circle class="u" cx="342.4" cy="819.2" r="6.75"/>
<circle class="u" cx="535.0" cy="265.8" r="6.75"/>
<circle class="u" cx="656.4" cy="785.8" r="6.75"/>
<circle class="u" cx="566.6" cy="462.7" r="6.75"/>
<circle class="u" cx="846.6" cy="908.4" r="6.75"/>
<circle class="u" cx="875.6" cy="833.8" r="6.75"/>
<circle class="u" cx="719.4" cy="703.3" r="6.75"/>
<circle class="u" cx="1079.5" cy="480.6" r="6.75"/>
<circle class="u" cx="533.4" cy="527.1" r="6.75"/>
<circle class="u" cx="772.0" cy="629.4" r="6.75"/>
<circle class="u" cx="601.0" cy="857.4" r="6.75"/>
<circle class="u" cx="631.6" cy="530.2" r="6.75"/>
<circle class="u" cx="572.1" cy="803.5" r="6.75"/>
<circle class="u" cx="930.8" cy="866.2" r="6.75"/>
<circle class="u" cx="666.5" cy="245.9" r="6.75"/>
<circle class="u" cx="595.4" cy="547.5" r="6.75"/>
<circle class="u" cx="725.0" cy="804.7" r="6.75"/>
<circle class="u" cx="626.6" cy="1079.9" r="6.75"/>
<circle class="u" cx="600.9" cy="502.2" r="6.75"/>
<circle class="u" cx="412.2" cy="325.8" r="6.75"/>
<circle class="u" cx="544.3" cy="1051.5" r="6.75"/>
<circle class="u" cx="826.9" cy="651.9" r="6.75"/>
<circle class="u" cx="538.9" cy="412.0" r="6.75"/>
<circle class="u" cx="657.5" cy="931.2" r="6.75"/>
<circle class="u" cx="712.5" cy="512.5" r="6.75"/>
<circle class="u" cx="835.0" cy="788.1" r="6.75"/>
<circle class="u" cx="1058.2" cy="428.9" r="6.75"/>
<circle class="u" cx="751.4" cy="953.1" r="6.75"/>
<circle class="u" cx="466.2" cy="813.1" r="6.75"/>
<circle class="u" cx="660.0" cy="503.8" r="6.75"/>
<circle class="u" cx="695.0" cy="916.2" r="6.75"/>
<circle class="u" cx="761.9" cy="958.8" r="6.75"/>
<circle class="u" cx="336.2" cy="256.2" r="6.75"/>
<circle class="u" cx="988.6" cy="458.3" r="6.75"/>
<circle class="u" cx="575.3" cy="755.0" r="6.75"/>
<circle class="u" cx="843.3" cy="892.2" r="6.75"/>
<circle class="u" cx="660.7" cy="825.6" r="6.75"/>
<circle class="u" cx="498.7" cy="495.6" r="6.75"/>
<circle class="u" cx="430.7" cy="303.5" r="6.75"/>
<circle class="u" cx="635.6" cy="300.1" r="6.75"/>
<circle class="u" cx="580.0" cy="512.6" r="6.75"/>
<circle class="u" cx="582.7" cy="568.1" r="6.75"/>
<circle class="u" cx="673.0" cy="283.5" r="6.75"/>
<circle class="u" cx="663.4" cy="278.4" r="6.75"/>
<circle class="u" cx="620.6" cy="743.0" r="6.75"/>
<circle class="u" cx="539.8" cy="551.1" r="6.75"/>
<circle class="u" cx="802.9" cy="823.8" r="6.75"/>
<circle class="u" cx="558.6" cy="816.7" r="6.75"/>
<circle class="u" cx="691.6" cy="324.6" r="6.75"/>
<circle class="u" cx="834.3" cy="573.7" r="6.75"/>
<circle class="u" cx="862.0" cy="563.2" r="6.75"/>
<circle class="u" cx="782.1" cy="807.5" r="6.75"/>
<circle class="u" cx="652.1" cy="494.8" r="6.75"/>
<circle class="u" cx="569.6" cy="484.4" r="6.75"/>
<circle class="u" cx="996.9" cy="434.2" r="6.75"/>
<circle class="u" cx="736.0" cy="696.1" r="6.75"/>
<circle class="u" cx="708.9" cy="1055.3" r="6.75"/>
<circle class="u" cx="590.7" cy="754.7" r="6.75"/>
<circle class="u" cx="668.2" cy="719.3" r="6.75"/>
<circle class="u" cx="791.7" cy="315.1" r="6.75"/>
<circle class="u" cx="787.0" cy="969.0" r="6.75"/>
<circle class="u" cx="596.7" cy="793.4" r="6.75"/>
<circle class="u" cx="942.2" cy="905.5" r="6.75"/>
<circle class="u" cx="430.8" cy="765.7" r="6.75"/>
<circle class="u" cx="859.0" cy="814.3" r="6.75"/>
<circle class="u" cx="684.2" cy="768.7" r="6.75"/>
<circle class="u" cx="562.1" cy="540.8" r="6.75"/>
<circle class="u" cx="595.3" cy="470.0" r="6.75"/>
<circle class="u" cx="880.5" cy="876.8" r="6.75"/>
<circle class="u" cx="558.4" cy="825.2" r="6.75"/>
<circle class="u" cx="547.6" cy="431.2" r="6.75"/>
<circle class="u" cx="622.0" cy="517.6" r="6.75"/>
<circle class="u" cx="336.7" cy="823.4" r="6.75"/>
<circle class="u" cx="635.6" cy="984.4" r="6.75"/>
<circle class="u" cx="306.8" cy="905.7" r="6.75"/>
<circle class="u" cx="877.8" cy="557.8" r="6.75"/>
<circle class="u" cx="353.7" cy="364.1" r="6.75"/>
<circle class="u" cx="502.5" cy="1000.8" r="6.75"/>
<circle class="u" cx="600.5" cy="712.6" r="6.75"/>
<circle class="u" cx="622.8" cy="801.3" r="6.75"/>
<circle class="u" cx="300.3" cy="895.4" r="6.75"/>
<circle class="u" cx="856.4" cy="428.4" r="6.75"/>
<circle class="u" cx="628.9" cy="459.5" r="6.75"/>
<circle class="u" cx="602.9" cy="437.3" r="6.75"/>
<circle class="u" cx="542.5" cy="226.3" r="6.75"/>
<circle class="u" cx="570.7" cy="232.9" r="6.75"/>
<circle class="u" cx="527.4" cy="463.5" r="6.75"/>
<circle class="u" cx="321.5" cy="532.5" r="6.75"/>
<circle class="u" cx="861.0" cy="916.5" r="6.75"/>
<circle class="u" cx="619.2" cy="510.0" r="6.75"/>
<circle class="u" cx="923.6" cy="897.8" r="6.75"/>
<circle class="u" cx="861.3" cy="539.9" r="6.75"/>
<circle class="u" cx="608.0" cy="938.0" r="6.75"/>
<circle class="u" cx="1040.9" cy="444.5" r="6.75"/>
<circle class="u" cx="397.7" cy="797.9" r="6.75"/>
<circle class="u" cx="587.7" cy="784.0" r="6.75"/>
<circle class="u" cx="1077.8" cy="493.6" r="6.75"/>
<circle class="u" cx="621.6" cy="539.5" r="6.75"/>
<circle class="u" cx="551.0" cy="784.1" r="6.75"/>
<circle class="u" cx="899.9" cy="400.2" r="6.75"/>
<circle class="u" cx="589.8" cy="908.7" r="6.75"/>
<circle class="u" cx="433.8" cy="731.1" r="6.75"/>
<circle class="u" cx="870.0" cy="933.2" r="6.75"/>
<circle class="u" cx="526.2" cy="791.7" r="6.75"/>
<circle class="u" cx="444.5" cy="739.1" r="6.75"/>
<circle class="u" cx="638.4" cy="455.9" r="6.75"/>
<circle class="u" cx="918.4" cy="897.3" r="6.75"/>
<circle class="u" cx="513.2" cy="532.0" r="6.75"/>
<circle class="u" cx="828.7" cy="580.4" r="6.75"/>
<circle class="u" cx="672.9" cy="325.1" r="6.75"/>
<circle class="u" cx="518.1" cy="529.5" r="6.75"/>
<circle class="u" cx="704.1" cy="311.9" r="6.75"/>
<circle class="u" cx="598.8" cy="557.6" r="6.75"/>
<circle class="u" cx="435.3" cy="705.2" r="6.75"/>
<circle class="u" cx="383.3" cy="558.2" r="6.75"/>
<circle class="u" cx="494.4" cy="264.9" r="6.75"/>
<circle class="u" cx="542.1" cy="488.9" r="6.75"/>
<circle class="u" cx="694.3" cy="750.0" r="6.75"/>
<circle class="u" cx="410.7" cy="711.8" r="6.75"/>
<circle class="u" cx="618.6" cy="691.0" r="6.75"/>
<circle class="u" cx="495.3" cy="716.9" r="6.75"/>
<circle class="u" cx="787.9" cy="808.3" r="6.75"/>
<circle class="u" cx="1028.2" cy="436.6" r="6.75"/>
<circle class="u" cx="883.3" cy="626.5" r="6.75"/>
<circle class="u" cx="621.3" cy="546.7" r="6.75"/>
<circle class="u" cx="753.8" cy="825.6" r="6.75"/>
<circle class="u" cx="619.1" cy="748.8" r="6.75"/>
<circle class="u" cx="693.8" cy="803.7" r="6.75"/>
<circle class="u" cx="801.1" cy="466.9" r="6.75"/>
<circle class="u" cx="845.1" cy="614.8" r="6.75"/>
<circle class="u" cx="1092.2" cy="499.2" r="6.75"/>
<circle class="u" cx="613.6" cy="456.0" r="6.75"/>
<circle class="u" cx="920.5" cy="405.0" r="6.75"/>
<circle class="u" cx="649.2" cy="1042.4" r="6.75"/>
<circle class="u" cx="543.5" cy="769.4" r="6.75"/>
<circle class="u" cx="593.4" cy="939.6" r="6.75"/>
<circle class="u" cx="528.5" cy="923.1" r="6.75"/>
<circle class="u" cx="717.8" cy="726.0" r="6.75"/>
<circle class="u" cx="1018.6" cy="480.6" r="6.75"/>
<circle class="u" cx="557.4" cy="205.4" r="6.75"/>
<circle class="u" cx="943.2" cy="849.5" r="6.75"/>
<circle class="u" cx="550.3" cy="504.9" r="6.75"/>
<circle class="u" cx="303.9" cy="344.9" r="6.75"/>
<circle class="u" cx="716.9" cy="321.0" r="6.75"/>
<circle class="u" cx="740.3" cy="754.5" r="6.75"/>
<circle class="u" cx="764.0" cy="457.9" r="6.75"/>
<circle class="u" cx="956.6" cy="410.6" r="6.75"/>
<circle class="u" cx="386.7" cy="725.1" r="6.75"/>
<circle class="u" cx="604.3" cy="722.9" r="6.75"/>
<circle class="u" cx="636.7" cy="523.3" r="6.75"/>
<circle class="u" cx="678.3" cy="755.8" r="6.75"/>
<circle class="u" cx="665.8" cy="284.8" r="6.75"/>
<circle class="u" cx="595.8" cy="813.7" r="6.75"/>
<circle class="u" cx="649.9" cy="717.4" r="6.75"/>
<circle class="u" cx="742.3" cy="783.4" r="6.75"/>
<circle class="u" cx="458.2" cy="719.7" r="6.75"/>
<circle class="u" cx="840.7" cy="927.5" r="6.75"/>
<circle class="u" cx="642.4" cy="768.5" r="6.75"/>
<circle class="u" cx="623.5" cy="242.8" r="6.75"/>
<circle class="u" cx="500.7" cy="225.9" r="6.75"/>
<circle class="u" cx="494.6" cy="729.0" r="6.75"/>
<circle class="u" cx="737.3" cy="774.5" r="6.75"/>
<circle class="u" cx="638.8" cy="233.3" r="6.75"/>
<circle class="u" cx="743.4" cy="691.5" r="6.75"/>
<circle class="u" cx="515.6" cy="738.5" r="6.75"/>
<circle class="u" cx="830.8" cy="610.0" r="6.75"/>
<circle class="u" cx="393.8" cy="723.0" r="6.75"/>
<circle class="u" cx="613.6" cy="284.6" r="6.75"/>
<circle class="u" cx="680.0" cy="713.3" r="6.75"/>
<circle class="u" cx="652.4" cy="309.7" r="6.75"/>
<circle class="u" cx="530.0" cy="444.9" r="6.75"/>
<circle class="u" cx="368.5" cy="329.6" r="6.75"/>
<circle class="u" cx="586.7" cy="546.5" r="6.75"/>
<circle class="u" cx="738.5" cy="262.4" r="6.75"/>
<circle class="u" cx="593.8" cy="257.8" r="6.75"/>
<circle class="u" cx="873.1" cy="545.3" r="6.75"/>
<circle class="u" cx="631.4" cy="713.5" r="6.75"/>
<circle class="u" cx="494.5" cy="912.8" r="6.75"/>
<circle class="u" cx="906.7" cy="636.8" r="6.75"/>
<circle class="u" cx="586.2" cy="791.0" r="6.75"/>
<circle class="u" cx="501.0" cy="226.0" r="6.75"/>
<circle class="u" cx="568.1" cy="755.0" r="6.75"/>
<circle class="u" cx="369.6" cy="559.4" r="6.75"/>
<circle class="u" cx="641.3" cy="704.0" r="6.75"/>
<circle class="u" cx="876.3" cy="573.4" r="6.75"/>
<circle class="u" cx="507.1" cy="1006.2" r="6.75"/>
<circle class="u" cx="880.8" cy="510.6" r="6.75"/>
<circle class="u" cx="624.2" cy="701.8" r="6.75"/>
<circle class="u" cx="536.3" cy="439.6" r="6.75"/>
<circle class="u" cx="1022.5" cy="484.0" r="6.75"/>
<circle class="u" cx="764.0" cy="694.0" r="6.75"/>
<circle class="u" cx="877.2" cy="370.6" r="6.75"/>
<circle class="u" cx="1029.2" cy="457.5" r="6.75"/>
<circle class="u" cx="415.6" cy="731.6" r="6.75"/>
<circle class="u" cx="592.9" cy="737.6" r="6.75"/>
<circle class="u" cx="565.5" cy="424.0" r="6.75"/>
<circle class="u" cx="847.2" cy="590.9" r="6.75"/>
<circle class="u" cx="921.3" cy="923.4" r="6.75"/>
<circle class="u" cx="779.3" cy="449.7" r="6.75"/>
<circle class="u" cx="589.4" cy="274.0" r="6.75"/>
<circle class="u" cx="646.4" cy="498.6" r="6.75"/>
<circle class="u" cx="904.1" cy="830.1" r="6.75"/>
<circle class="u" cx="553.9" cy="466.4" r="6.75"/>
<circle class="u" cx="538.0" cy="201.4" r="6.75"/>
<circle class="u" cx="889.2" cy="638.6" r="6.75"/>
<circle class="u" cx="513.0" cy="925.4" r="6.75"/>
<circle class="u" cx="691.6" cy="832.9" r="6.75"/>
<circle class="u" cx="453.2" cy="283.8" r="6.75"/>
<circle class="u" cx="858.5" cy="552.8" r="6.75"/>
<circle class="u" cx="789.8" cy="813.3" r="6.75"/>
<circle class="u" cx="795.0" cy="631.5" r="6.75"/>
<circle class="u" cx="583.2" cy="516.6" r="6.75"/>
<circle class="u" cx="800.2" cy="632.0" r="6.75"/>
<circle class="u" cx="561.0" cy="202.0" r="6.75"/>
<circle class="u" cx="776.0" cy="801.1" r="6.75"/>
<circle class="u" cx="508.8" cy="524.3" r="6.75"/>
<circle class="u" cx="830.7" cy="590.9" r="6.75"/>
<circle class="u" cx="362.8" cy="733.0" r="6.75"/>
<circle class="u" cx="553.6" cy="225.9" r="6.75"/>
<circle class="u" cx="880.4" cy="894.8" r="6.75"/>
<circle class="u" cx="870.2" cy="917.8" r="6.75"/>
<circle class="u" cx="877.0" cy="632.2" r="6.75"/>
<circle class="u" cx="575.0" cy="693.1" r="6.75"/>
<circle class="u" cx="546.3" cy="449.3" r="6.75"/>
<circle class="u" cx="1067.3" cy="465.5" r="6.75"/>
<circle class="u" cx="940.3" cy="293.9" r="6.75"/>
<circle class="u" cx="945.1" cy="880.0" r="6.75"/>
<circle class="u" cx="665.8" cy="698.3" r="6.75"/>
<circle class="u" cx="942.3" cy="413.1" r="6.75"/>
<circle class="u" cx="590.3" cy="223.7" r="6.75"/>
<circle class="u" cx="626.9" cy="807.1" r="6.75"/>
<circle class="u" cx="581.5" cy="839.5" r="6.75"/>
<circle class="v" cx="798.6" cy="743.1" r="6.75"/>
<circle class="v" cx="716.3" cy="463.7" r="6.75"/>
<circle class="v" cx="294.2" cy="289.2" r="6.75"/>
<circle class="v" cx="485.5" cy="716.4" r="6.75"/>
<circle class="v" cx="560.5" cy="838.8" r="6.75"/>
<circle class="v" cx="601.5" cy="813.9" r="6.75"/>
<circle class="v" cx="756.6" cy="675.9" r="6.75"/>
<circle class="v" cx="565.6" cy="401.6" r="6.75"/>
<circle class="v" cx="734.7" cy="819.3" r="6.75"/>
<circle class="v" cx="765.6" cy="805.4" r="6.75"/>
<circle class="v" cx="562.5" cy="453.7" r="6.75"/>
<circle class="v" cx="524.2" cy="522.3" r="6.75"/>
<circle class="v" cx="531.1" cy="796.0" r="6.75"/>
<circle class="v" cx="555.5" cy="820.4" r="6.75"/>
<circle class="v" cx="648.4" cy="253.8" r="6.75"/>
<circle class="v" cx="599.4" cy="1059.5" r="6.75"/>
<circle class="v" cx="587.1" cy="974.9" r="6.75"/>
<circle class="v" cx="620.9" cy="494.3" r="6.75"/>
<circle class="v" cx="501.1" cy="732.9" r="6.75"/>
<circle class="v" cx="748.9" cy="818.0" r="6.75"/>
<circle class="v" cx="759.3" cy="418.7" r="6.75"/>
<circle class="v" cx="782.7" cy="456.0" r="6.75"/>
<circle class="v" cx="838.1" cy="580.4" r="6.75"/>
<circle class="v" cx="750.3" cy="831.2" r="6.75"/>
<circle class="v" cx="866.0" cy="894.8" r="6.75"/>
<circle class="v" cx="654.5" cy="489.9" r="6.75"/>
<circle class="v" cx="812.0" cy="826.8" r="6.75"/>
<circle class="v" cx="787.3" cy="862.7" r="6.75"/>
<circle class="v" cx="656.7" cy="740.7" r="6.75"/>
<circle class="v" cx="550.4" cy="558.9" r="6.75"/>
<circle class="v" cx="845.2" cy="822.9" r="6.75"/>
<circle class="v" cx="1045.1" cy="463.4" r="6.75"/>
<circle class="v" cx="635.4" cy="1086.3" r="6.75"/>
<circle class="v" cx="619.2" cy="431.9" r="6.75"/>
<circle class="v" cx="545.2" cy="192.5" r="6.75"/>
<circle class="v" cx="551.5" cy="196.4" r="6.75"/>
<circle class="v" cx="625.3" cy="1064.8" r="6.75"/>
<circle class="v" cx="626.4" cy="448.3" r="6.75"/>
<circle class="v" cx="450.0" cy="756.0" r="6.75"/>
<circle class="v" cx="301.4" cy="903.9" r="6.75"/>
<circle class="v" cx="574.5" cy="817.2" r="6.75"/>
<circle class="v" cx="446.7" cy="727.5" r="6.75"/>
<circle class="v" cx="594.8" cy="786.7" r="6.75"/>
<circle class="v" cx="571.9" cy="870.6" r="6.75"/>
<circle class="v" cx="741.1" cy="687.4" r="6.75"/>
<circle class="v" cx="698.3" cy="446.0" r="6.75"/>
<circle class="v" cx="781.0" cy="636.3" r="6.75"/>
<circle class="v" cx="530.1" cy="568.5" r="6.75"/>
<circle class="v" cx="1084.1" cy="483.5" r="6.75"/>
<circle class="v" cx="739.9" cy="297.5" r="6.75"/>
<circle class="v" cx="484.9" cy="707.1" r="6.75"/>
<circle class="v" cx="1034.1" cy="444.9" r="6.75"/>
<circle class="v" cx="716.9" cy="664.3" r="6.75"/>
<circle class="v" cx="749.1" cy="710.6" r="6.75"/>
<circle class="v" cx="607.5" cy="443.9" r="6.75"/>
<circle class="v" cx="735.3" cy="707.4" r="6.75"/>
<circle class="v" cx="577.0" cy="567.9" r="6.75"/>
<circle class="v" cx="613.8" cy="504.1" r="6.75"/>
<circle class="v" cx="1067.3" cy="500.9" r="6.75"/>
<circle class="v" cx="868.2" cy="576.7" r="6.75"/>
<circle class="v" cx="805.2" cy="633.0" r="6.75"/>
<circle class="v" cx="442.4" cy="747.5" r="6.75"/>
<circle class="v" cx="779.1" cy="793.3" r="6.75"/>
<circle class="v" cx="683.4" cy="802.9" r="6.75"/>
<circle class="v" cx="1084.1" cy="493.6" r="6.75"/>
<circle class="v" cx="533.7" cy="222.3" r="6.75"/>
<circle class="v" cx="932.6" cy="901.5" r="6.75"/>
<circle class="v" cx="888.3" cy="904.2" r="6.75"/>
<circle class="v" cx="693.9" cy="728.9" r="6.75"/>
<circle class="v" cx="734.2" cy="255.0" r="6.75"/>
<circle class="v" cx="511.9" cy="468.2" r="6.75"/>
<circle class="v" cx="549.0" cy="547.6" r="6.75"/>
<circle class="v" cx="809.9" cy="607.3" r="6.75"/>
<circle class="v" cx="571.0" cy="444.9" r="6.75"/>
<circle class="v" cx="864.2" cy="924.0" r="6.75"/>
<circle class="v" cx="632.6" cy="806.8" r="6.75"/>
<circle class="v" cx="565.9" cy="762.2" r="6.75"/>
<circle class="v" cx="899.5" cy="917.0" r="6.75"/>
<circle class="v" cx="691.2" cy="379.2" r="6.75"/>
<circle class="v" cx="793.0" cy="622.5" r="6.75"/>
<circle class="v" cx="653.4" cy="293.1" r="6.75"/>
<circle class="v" cx="792.9" cy="456.4" r="6.75"/>
<circle class="v" cx="863.5" cy="635.1" r="6.75"/>
<circle class="v" cx="567.5" cy="193.3" r="6.75"/>
<circle class="v" cx="502.0" cy="475.2" r="6.75"/>
<circle class="v" cx="623.0" cy="977.6" r="6.75"/>
<circle class="v" cx="771.4" cy="756.2" r="6.75"/>
<circle class="v" cx="523.0" cy="467.9" r="6.75"/>
<circle class="v" cx="513.1" cy="479.5" r="6.75"/>
<circle class="v" cx="685.4" cy="838.9" r="6.75"/>
<circle class="v" cx="737.9" cy="701.4" r="6.75"/>
<circle class="v" cx="846.3" cy="630.6" r="6.75"/>
<circle class="v" cx="1043.9" cy="458.1" r="6.75"/>
<circle class="v" cx="830.0" cy="566.1" r="6.75"/>
<circle class="v" cx="1012.5" cy="432.6" r="6.75"/>
<circle class="v" cx="891.2" cy="827.7" r="6.75"/>
<circle class="v" cx="782.0" cy="661.3" r="6.75"/>
<circle class="v" cx="578.7" cy="472.3" r="6.75"/>
<circle class="v" cx="784.6" cy="679.0" r="6.75"/>
<circle class="v" cx="912.2" cy="929.0" r="6.75"/>
<circle class="v" cx="905.9" cy="433.9" r="6.75"/>
<circle class="v" cx="392.9" cy="744.1" r="6.75"/>
<circle class="v" cx="508.5" cy="508.2" r="6.75"/>
<circle class="v" cx="906.2" cy="493.0" r="6.75"/>
<circle class="v" cx="547.1" cy="801.2" r="6.75"/>
<circle class="v" cx="509.7" cy="215.1" r="6.75"/>
<circle class="v" cx="1074.8" cy="499.2" r="6.75"/>
<circle class="v" cx="549.4" cy="830.0" r="6.75"/>
<circle class="v" cx="824.3" cy="717.8" r="6.75"/>
<circle class="v" cx="835.2" cy="589.7" r="6.75"/>
<circle class="v" cx="956.0" cy="880.4" r="6.75"/>
<circle class="v" cx="623.8" cy="485.2" r="6.75"/>
<circle class="v" cx="669.1" cy="797.9" r="6.75"/>
<circle class="v" cx="540.3" cy="458.0" r="6.75"/>
<circle class="v" cx="803.1" cy="625.9" r="6.75"/>
<circle class="v" cx="776.6" cy="952.9" r="6.75"/>
<circle class="v" cx="403.2" cy="722.1" r="6.75"/>
<circle class="v" cx="829.0" cy="636.8" r="6.75"/>
<circle class="v" cx="895.4" cy="812.1" r="6.75"/>
<circle class="v" cx="684.3" cy="820.0" r="6.75"/>
<circle class="v" cx="992.2" cy="433.3" r="6.75"/>
<circle class="v" cx="881.4" cy="810.0" r="6.75"/>
<circle class="v" cx="697.9" cy="740.6" r="6.75"/>
<circle class="v" cx="888.9" cy="811.0" r="6.75"/>
<circle class="v" cx="490.9" cy="316.8" r="6.75"/>
<circle class="v" cx="564.8" cy="835.3" r="6.75"/>
<circle class="v" cx="340.3" cy="580.5" r="6.75"/>
<circle class="v" cx="292.5" cy="901.3" r="6.75"/>
<circle class="v" cx="723.1" cy="755.3" r="6.75"/>
<circle class="v" cx="651.6" cy="710.2" r="6.75"/>
<circle class="v" cx="597.8" cy="451.6" r="6.75"/>
<circle class="v" cx="709.5" cy="319.4" r="6.75"/>
<circle class="v" cx="1048.5" cy="447.5" r="6.75"/>
<circle class="v" cx="574.5" cy="993.5" r="6.75"/>
<circle class="v" cx="666.2" cy="805.6" r="6.75"/>
<circle class="v" cx="908.5" cy="931.7" r="6.75"/>
<circle class="v" cx="743.3" cy="678.1" r="6.75"/>
<circle class="v" cx="527.3" cy="971.9" r="6.75"/>
<circle class="v" cx="856.3" cy="569.2" r="6.75"/>
<circle class="v" cx="705.5" cy="267.5" r="6.75"/>
<circle class="v" cx="751.3" cy="668.2" r="6.75"/>
<circle class="v" cx="562.8" cy="428.2" r="6.75"/>
<circle class="v" cx="581.1" cy="545.2" r="6.75"/>
<circle class="v" cx="747.8" cy="905.7" r="6.75"/>
<circle class="v" cx="1097.9" cy="513.4" r="6.75"/>
<circle class="v" cx="656.3" cy="707.8" r="6.75"/>
<circle class="v" cx="522.9" cy="499.3" r="6.75"/>
<circle class="v" cx="914.6" cy="860.4" r="6.75"/>
<circle class="v" cx="768.4" cy="415.1" r="6.75"/>
<circle class="v" cx="896.4" cy="866.2" r="6.75"/>
<circle class="v" cx="291.7" cy="360.3" r="6.75"/>
<circle class="v" cx="659.2" cy="218.9" r="6.75"/>
<circle class="v" cx="950.3" cy="645.3" r="6.75"/>
<circle class="v" cx="597.9" cy="756.1" r="6.75"/>
<circle class="v" cx="1104.8" cy="492.8" r="6.75"/>
<circle class="v" cx="648.9" cy="762.6" r="6.75"/>
<circle class="v" cx="516.3" cy="908.9" r="6.75"/>
<circle class="v" cx="590.5" cy="550.9" r="6.75"/>
<circle class="v" cx="372.4" cy="759.9" r="6.75"/>
<circle class="v" cx="693.8" cy="737.8" r="6.75"/>
<circle class="v" cx="616.0" cy="1015.8" r="6.75"/>
<circle class="v" cx="856.6" cy="927.1" r="6.75"/>
<circle class="v" cx="854.8" cy="859.8" r="6.75"/>
<circle class="v" cx="510.8" cy="474.7" r="6.75"/>
<circle class="v" cx="840.1" cy="632.5" r="6.75"/>
<circle class="v" cx="789.2" cy="462.7" r="6.75"/>
<circle class="v" cx="851.2" cy="626.9" r="6.75"/>
<circle class="v" cx="532.5" cy="784.3" r="6.75"/>
<circle class="v" cx="578.9" cy="518.7" r="6.75"/>
<circle class="v" cx="502.6" cy="745.6" r="6.75"/>
<circle class="v" cx="635.6" cy="490.6" r="6.75"/>
<circle class="v" cx="542.6" cy="497.3" r="6.75"/>
<circle class="v" cx="837.8" cy="546.1" r="6.75"/>
<circle class="v" cx="524.7" cy="558.4" r="6.75"/>
<circle class="v" cx="577.4" cy="450.6" r="6.75"/>
<circle class="v" cx="358.5" cy="759.8" r="6.75"/>
<circle class="v" cx="557.4" cy="703.2" r="6.75"/>
<circle class="v" cx="462.5" cy="803.8" r="6.75"/>
<circle class="v" cx="731.9" cy="986.9" r="6.75"/>
<circle class="v" cx="768.8" cy="349.4" r="6.75"/>
<circle class="v" cx="310.6" cy="893.8" r="6.75"/>
<circle class="v" cx="649.9" cy="380.5" r="6.75"/>
<circle class="v" cx="820.0" cy="698.1" r="6.75"/>
<circle class="v" cx="846.8" cy="880.8" r="6.75"/>
<circle class="v" cx="890.2" cy="409.5" r="6.75"/>
<circle class="v" cx="594.7" cy="422.4" r="6.75"/>
<circle class="v" cx="716.8" cy="715.8" r="6.75"/>
<circle class="v" cx="818.5" cy="622.8" r="6.75"/>
<circle class="v" cx="661.2" cy="297.6" r="6.75"/>
<circle class="v" cx="351.0" cy="747.1" r="6.75"/>
<circle class="v" cx="680.1" cy="302.6" r="6.75"/>
<circle class="v" cx="516.7" cy="202.4" r="6.75"/>
<circle class="v" cx="614.7" cy="710.1" r="6.75"/>
<circle class="v" cx="604.3" cy="496.1" r="6.75"/>
<circle class="v" cx="389.9" cy="748.9" r="6.75"/>
<circle class="v" cx="589.2" cy="515.7" r="6.75"/>
<circle class="v" cx="577.9" cy="309.6" r="6.75"/>
<circle class="v" cx="775.5" cy="771.5" r="6.75"/>
<circle class="v" cx="531.0" cy="490.9" r="6.75"/>
<circle class="v" cx="743.2" cy="790.7" r="6.75"/>
<circle class="v" cx="632.7" cy="239.7" r="6.75"/>
<circle class="v" cx="575.5" cy="779.5" r="6.75"/>
<circle class="v" cx="531.4" cy="452.3" r="6.75"/>
<circle class="v" cx="664.1" cy="734.9" r="6.75"/>
<circle class="v" cx="643.1" cy="834.3" r="6.75"/>
<circle class="v" cx="751.2" cy="248.5" r="6.75"/>
<circle class="v" cx="674.6" cy="728.6" r="6.75"/>
<circle class="v" cx="633.2" cy="708.8" r="6.75"/>
<circle class="v" cx="582.4" cy="551.9" r="6.75"/>
<circle class="v" cx="804.4" cy="268.7" r="6.75"/>
<circle class="v" cx="391.7" cy="754.9" r="6.75"/>
<circle class="v" cx="820.6" cy="615.9" r="6.75"/>
<circle class="v" cx="606.6" cy="300.8" r="6.75"/>
<circle class="v" cx="437.6" cy="284.8" r="6.75"/>
<circle class="v" cx="660.8" cy="318.7" r="6.75"/>
<circle class="v" cx="536.1" cy="547.7" r="6.75"/>
<circle class="v" cx="516.0" cy="221.8" r="6.75"/>
<circle class="v" cx="1032.3" cy="489.8" r="6.75"/>
<circle class="v" cx="750.7" cy="745.3" r="6.75"/>
<circle class="v" cx="472.3" cy="741.6" r="6.75"/>
<circle class="v" cx="1025.2" cy="451.2" r="6.75"/>
<circle class="v" cx="609.4" cy="548.8" r="6.75"/>
<circle class="v" cx="873.1" cy="556.2" r="6.75"/>
<circle class="v" cx="940.3" cy="895.7" r="6.75"/>
<circle class="v" cx="529.6" cy="763.5" r="6.75"/>
<circle class="v" cx="753.9" cy="697.8" r="6.75"/>
<circle class="v" cx="512.2" cy="490.4" r="6.75"/>
<circle class="v" cx="680.4" cy="317.3" r="6.75"/>
<circle class="v" cx="760.9" cy="699.0" r="6.75"/>
<circle class="v" cx="804.9" cy="708.6" r="6.75"/>
<circle class="v" cx="599.7" cy="512.2" r="6.75"/>
<circle class="v" cx="572.6" cy="476.6" r="6.75"/>
<circle class="v" cx="813.9" cy="695.7" r="6.75"/>
<circle class="v" cx="690.3" cy="791.2" r="6.75"/>
<circle class="v" cx="583.6" cy="431.4" r="6.75"/>
<circle class="v" cx="345.7" cy="799.8" r="6.75"/>
<circle class="v" cx="639.6" cy="749.9" r="6.75"/>
<circle class="v" cx="796.8" cy="734.5" r="6.75"/>
<circle class="v" cx="578.7" cy="487.2" r="6.75"/>
<circle class="v" cx="623.5" cy="213.6" r="6.75"/>
<circle class="v" cx="531.7" cy="554.0" r="6.75"/>
<circle class="v" cx="991.9" cy="463.4" r="6.75"/>
<circle class="v" cx="513.3" cy="508.0" r="6.75"/>
<circle class="v" cx="570.4" cy="742.9" r="6.75"/>
<circle class="v" cx="866.2" cy="583.5" r="6.75"/>
<circle class="v" cx="650.7" cy="699.9" r="6.75"/>
<circle class="v" cx="813.0" cy="630.5" r="6.75"/>
<circle class="v" cx="535.0" cy="469.0" r="6.75"/>
<circle class="v" cx="443.9" cy="241.0" r="6.75"/>
<circle class="v" cx="890.9" cy="935.8" r="6.75"/>
<circle class="v" cx="497.1" cy="748.6" r="6.75"/>
<circle class="v" cx="866.5" cy="555.4" r="6.75"/>
<circle class="v" cx="909.7" cy="819.5" r="6.75"/>
<circle class="v" cx="599.9" cy="263.8" r="6.75"/>
<circle class="v" cx="627.4" cy="763.4" r="6.75"/>
<circle class="v" cx="702.3" cy="241.9" r="6.75"/>
<circle class="v" cx="543.9" cy="764.1" r="6.75"/>
<circle class="w" cx="789.9" cy="674.0" r="6.75"/>
<circle class="w" cx="938.8" cy="639.8" r="6.75"/>
<circle class="w" cx="698.0" cy="215.6" r="6.75"/>
<circle class="w" cx="582.2" cy="874.3" r="6.75"/>
<circle class="w" cx="453.8" cy="724.5" r="6.75"/>
<circle class="w" cx="475.7" cy="259.1" r="6.75"/>
<circle class="w" cx="449.0" cy="232.0" r="6.75"/>
<circle class="w" cx="638.6" cy="468.9" r="6.75"/>
<circle class="w" cx="801.0" cy="612.2" r="6.75"/>
<circle class="w" cx="618.9" cy="1007.4" r="6.75"/>
<circle class="w" cx="660.2" cy="972.4" r="6.75"/>
<circle class="w" cx="436.3" cy="251.1" r="6.75"/>
<circle class="w" cx="841.8" cy="834.2" r="6.75"/>
<circle class="w" cx="733.9" cy="282.8" r="6.75"/>
<circle class="w" cx="755.8" cy="692.5" r="6.75"/>
<circle class="w" cx="539.8" cy="576.8" r="6.75"/>
<circle class="w" cx="591.8" cy="236.3" r="6.75"/>
<circle class="w" cx="431.0" cy="746.3" r="6.75"/>
<circle class="w" cx="804.4" cy="801.8" r="6.75"/>
<circle class="w" cx="739.1" cy="813.3" r="6.75"/>
<circle class="w" cx="876.3" cy="888.9" r="6.75"/>
<circle class="w" cx="906.5" cy="887.1" r="6.75"/>
<circle class="w" cx="564.8" cy="272.5" r="6.75"/>
<circle class="w" cx="644.1" cy="297.6" r="6.75"/>
<circle class="w" cx="1041.6" cy="492.0" r="6.75"/>
<circle class="w" cx="608.0" cy="783.8" r="6.75"/>
<circle class="w" cx="552.3" cy="836.5" r="6.75"/>
<circle class="w" cx="664.5" cy="305.1" r="6.75"/>
<circle class="w" cx="643.9" cy="709.0" r="6.75"/>
<circle class="w" cx="818.5" cy="635.4" r="6.75"/>
<circle class="w" cx="547.5" cy="977.2" r="6.75"/>
<circle class="w" cx="762.4" cy="688.7" r="6.75"/>
<circle class="w" cx="676.9" cy="804.2" r="6.75"/>
<circle class="w" cx="704.5" cy="1045.3" r="6.75"/>
<circle class="w" cx="531.7" cy="260.0" r="6.75"/>
<circle class="w" cx="606.9" cy="290.8" r="6.75"/>
<circle class="w" cx="656.7" cy="760.4" r="6.75"/>
<circle class="w" cx="855.0" cy="810.7" r="6.75"/>
<circle class="w" cx="807.8" cy="824.4" r="6.75"/>
<circle class="w" cx="692.6" cy="268.9" r="6.75"/>
<circle class="w" cx="865.2" cy="880.2" r="6.75"/>
<circle class="w" cx="316.1" cy="543.8" r="6.75"/>
<circle class="w" cx="597.9" cy="698.7" r="6.75"/>
<circle class="w" cx="545.8" cy="551.4" r="6.75"/>
<circle class="w" cx="946.6" cy="892.2" r="6.75"/>
<circle class="w" cx="394.5" cy="717.1" r="6.75"/>
<circle class="w" cx="638.7" cy="481.7" r="6.75"/>
<circle class="w" cx="599.2" cy="808.6" r="6.75"/>
<circle class="w" cx="768.5" cy="285.0" r="6.75"/>
<circle class="w" cx="478.7" cy="740.0" r="6.75"/>
<circle class="w" cx="445.0" cy="767.8" r="6.75"/>
<circle class="w" cx="791.0" cy="718.9" r="6.75"/>
<circle class="w" cx="372.4" cy="280.0" r="6.75"/>
<circle class="w" cx="865.0" cy="901.2" r="6.75"/>
<circle class="w" cx="884.2" cy="890.2" r="6.75"/>
<circle class="w" cx="601.0" cy="250.3" r="6.75"/>
<circle class="w" cx="670.2" cy="305.0" r="6.75"/>
<circle class="w" cx="625.4" cy="532.0" r="6.75"/>
<circle class="w" cx="652.1" cy="270.9" r="6.75"/>
<circle class="w" cx="625.6" cy="543.0" r="6.75"/>
<circle class="w" cx="811.4" cy="707.1" r="6.75"/>
<circle class="w" cx="552.1" cy="526.5" r="6.75"/>
<circle class="w" cx="480.4" cy="288.9" r="6.75"/>
<circle class="w" cx="1018.0" cy="487.5" r="6.75"/>
<circle class="w" cx="547.5" cy="221.7" r="6.75"/>
<circle class="w" cx="886.2" cy="861.0" r="6.75"/>
<circle class="w" cx="494.2" cy="232.7" r="6.75"/>
<circle class="w" cx="267.0" cy="363.2" r="6.75"/>
<circle class="w" cx="823.4" cy="611.3" r="6.75"/>
<circle class="w" cx="686.3" cy="650.2" r="6.75"/>
<circle class="w" cx="523.7" cy="538.3" r="6.75"/>
<circle class="w" cx="553.3" cy="478.6" r="6.75"/>
<circle class="w" cx="664.0" cy="758.3" r="6.75"/>
<circle class="w" cx="615.0" cy="469.0" r="6.75"/>
<circle class="w" cx="882.0" cy="900.8" r="6.75"/>
<circle class="w" cx="1052.8" cy="453.0" r="6.75"/>
<circle class="w" cx="327.6" cy="334.9" r="6.75"/>
<circle class="w" cx="698.5" cy="752.7" r="6.75"/>
<circle class="w" cx="576.5" cy="847.0" r="6.75"/>
<circle class="w" cx="679.7" cy="691.9" r="6.75"/>
<circle class="w" cx="540.1" cy="1013.7" r="6.75"/>
<circle class="w" cx="400.0" cy="749.3" r="6.75"/>
<circle class="w" cx="605.5" cy="490.0" r="6.75"/>
<circle class="w" cx="793.8" cy="747.0" r="6.75"/>
<circle class="w" cx="612.8" cy="276.6" r="6.75"/>
<circle class="w" cx="593.7" cy="505.6" r="6.75"/>
<circle class="w" cx="1055.8" cy="457.3" r="6.75"/>
<circle class="w" cx="909.2" cy="417.5" r="6.75"/>
<circle class="w" cx="766.5" cy="614.7" r="6.75"/>
<circle class="w" cx="627.3" cy="708.6" r="6.75"/>
<circle class="w" cx="686.9" cy="756.9" r="6.75"/>
<circle class="w" cx="742.0" cy="302.1" r="6.75"/>
<circle class="w" cx="542.1" cy="436.0" r="6.75"/>
<circle class="w" cx="915.9" cy="402.8" r="6.75"/>
<circle class="w" cx="955.0" cy="458.0" r="6.75"/>
<circle class="w" cx="943.0" cy="459.0" r="6.75"/>
<circle class="w" cx="733.8" cy="326.2" r="6.75"/>
<circle class="w" cx="984.6" cy="493.8" r="6.75"/>
<circle class="w" cx="1005.0" cy="429.3" r="6.75"/>
<circle class="w" cx="1089.1" cy="495.0" r="6.75"/>
<circle class="w" cx="699.0" cy="271.4" r="6.75"/>
<circle class="w" cx="647.6" cy="447.8" r="6.75"/>
<circle class="w" cx="655.1" cy="800.0" r="6.75"/>
<circle class="w" cx="817.4" cy="428.4" r="6.75"/>
<circle class="w" cx="469.0" cy="704.1" r="6.75"/>
<circle class="w" cx="539.7" cy="484.5" r="6.75"/>
<circle class="w" cx="501.2" cy="727.6" r="6.75"/>
<circle class="w" cx="1017.8" cy="469.6" r="6.75"/>
<circle class="w" cx="952.2" cy="875.5" r="6.75"/>
<circle class="w" cx="612.7" cy="440.2" r="6.75"/>
<circle class="w" cx="917.7" cy="929.0" r="6.75"/>
<circle class="w" cx="940.7" cy="876.7" r="6.75"/>
<circle class="w" cx="619.6" cy="239.4" r="6.75"/>
<circle class="w" cx="491.1" cy="722.1" r="6.75"/>
<circle class="w" cx="638.3" cy="291.0" r="6.75"/>
<circle class="w" cx="1017.0" cy="451.6" r="6.75"/>
<circle class="w" cx="909.9" cy="438.1" r="6.75"/>
<circle class="w" cx="701.3" cy="850.4" r="6.75"/>
<circle class="w" cx="849.6" cy="551.7" r="6.75"/>
<circle class="w" cx="504.4" cy="219.4" r="6.75"/>
<circle class="w" cx="918.5" cy="850.6" r="6.75"/>
<circle class="w" cx="578.1" cy="423.7" r="6.75"/>
<circle class="w" cx="704.8" cy="789.3" r="6.75"/>
<circle class="w" cx="562.0" cy="812.2" r="6.75"/>
<circle class="w" cx="760.6" cy="728.4" r="6.75"/>
<circle class="w" cx="820.8" cy="326.6" r="6.75"/>
<circle class="w" cx="579.4" cy="428.4" r="6.75"/>
<circle class="w" cx="583.8" cy="763.6" r="6.75"/>
<circle class="w" cx="610.5" cy="1030.6" r="6.75"/>
<circle class="w" cx="633.3" cy="785.9" r="6.75"/>
<circle class="w" cx="468.2" cy="711.5" r="6.75"/>
<circle class="w" cx="562.9" cy="823.6" r="6.75"/>
<circle class="w" cx="919.8" cy="882.2" r="6.75"/>
<circle class="w" cx="603.0" cy="705.5" r="6.75"/>
<circle class="w" cx="860.5" cy="591.5" r="6.75"/>
<circle class="w" cx="899.8" cy="623.9" r="6.75"/>
<circle class="w" cx="439.7" cy="726.5" r="6.75"/>
<circle class="w" cx="584.9" cy="460.1" r="6.75"/>
<circle class="w" cx="573.4" cy="790.9" r="6.75"/>
<circle class="w" cx="509.6" cy="993.7" r="6.75"/>
<circle class="w" cx="547.4" cy="527.6" r="6.75"/>
<circle class="w" cx="486.8" cy="733.2" r="6.75"/>
<circle class="w" cx="354.3" cy="556.6" r="6.75"/>
<circle class="w" cx="449.1" cy="723.1" r="6.75"/>
<circle class="w" cx="1010.1" cy="456.7" r="6.75"/>
<circle class="w" cx="795.3" cy="701.5" r="6.75"/>
<circle class="w" cx="766.3" cy="843.7" r="6.75"/>
<circle class="w" cx="453.7" cy="300.7" r="6.75"/>
<circle class="w" cx="575.5" cy="740.4" r="6.75"/>
<circle class="w" cx="646.2" cy="240.7" r="6.75"/>
<circle class="w" cx="845.5" cy="548.6" r="6.75"/>
<circle class="w" cx="488.8" cy="957.9" r="6.75"/>
<circle class="w" cx="430.8" cy="716.5" r="6.75"/>
<circle class="w" cx="561.8" cy="483.9" r="6.75"/>
<circle class="w" cx="933.4" cy="853.9" r="6.75"/>
<circle class="w" cx="406.3" cy="728.2" r="6.75"/>
<circle class="w" cx="993.0" cy="425.1" r="6.75"/>
<circle class="w" cx="521.9" cy="220.4" r="6.75"/>
<circle class="w" cx="787.8" cy="683.4" r="6.75"/>
<circle class="w" cx="605.7" cy="1078.9" r="6.75"/>
<circle class="w" cx="613.1" cy="316.0" r="6.75"/>
<circle class="w" cx="525.8" cy="204.1" r="6.75"/>
<circle class="w" cx="583.7" cy="505.9" r="6.75"/>
<circle class="w" cx="1065.9" cy="474.7" r="6.75"/>
<circle class="w" cx="655.6" cy="766.9" r="6.75"/>
<circle class="w" cx="718.9" cy="451.3" r="6.75"/>
<circle class="w" cx="644.7" cy="798.1" r="6.75"/>
<circle class="w" cx="560.7" cy="495.4" r="6.75"/>
<circle class="w" cx="883.6" cy="841.0" r="6.75"/>
<circle class="w" cx="732.7" cy="308.1" r="6.75"/>
<circle class="w" cx="604.3" cy="546.8" r="6.75"/>
<circle class="w" cx="426.9" cy="742.2" r="6.75"/>
<circle class="x" cx="714.4" cy="284.9" r="6.75"/>
<circle class="x" cx="564.5" cy="476.4" r="6.75"/>
<circle class="x" cx="652.8" cy="217.5" r="6.75"/>
<circle class="x" cx="573.4" cy="553.3" r="6.75"/>
<circle class="x" cx="754.4" cy="733.0" r="6.75"/>
<circle class="x" cx="623.2" cy="1049.3" r="6.75"/>
<circle class="x" cx="941.0" cy="858.2" r="6.75"/>
<circle class="x" cx="421.3" cy="731.7" r="6.75"/>
<circle class="x" cx="782.8" cy="614.2" r="6.75"/>
<circle class="x" cx="681.5" cy="307.3" r="6.75"/>
<circle class="x" cx="624.3" cy="732.1" r="6.75"/>
<circle class="x" cx="603.0" cy="451.2" r="6.75"/>
<circle class="x" cx="586.7" cy="915.3" r="6.75"/>
<circle class="x" cx="469.7" cy="698.6" r="6.75"/>
<circle class="x" cx="527.6" cy="470.1" r="6.75"/>
<circle class="x" cx="620.7" cy="533.6" r="6.75"/>
<circle class="x" cx="851.6" cy="594.4" r="6.75"/>
<circle class="x" cx="650.6" cy="732.9" r="6.75"/>
<circle class="x" cx="542.8" cy="564.4" r="6.75"/>
<circle class="x" cx="719.6" cy="300.6" r="6.75"/>
<circle class="x" cx="845.3" cy="571.8" r="6.75"/>
<circle class="x" cx="741.8" cy="439.9" r="6.75"/>
<circle class="x" cx="838.8" cy="562.6" r="6.75"/>
<circle class="x" cx="898.2" cy="899.6" r="6.75"/>
<circle class="x" cx="1093.8" cy="482.7" r="6.75"/>
<circle class="x" cx="800.5" cy="458.5" r="6.75"/>
<circle class="x" cx="705.1" cy="762.1" r="6.75"/>
<circle class="x" cx="698.5" cy="319.7" r="6.75"/>
<circle class="x" cx="522.5" cy="822.5" r="6.75"/>
<circle class="x" cx="825.0" cy="533.1" r="6.75"/>
<circle class="x" cx="594.4" cy="414.2" r="6.75"/>
<circle class="x" cx="815.6" cy="510.6" r="6.75"/>
<circle class="x" cx="516.4" cy="423.6" r="6.75"/>
<circle class="x" cx="667.5" cy="434.5" r="6.75"/>
<circle class="x" cx="830.6" cy="525.6" r="6.75"/>
<circle class="x" cx="815.6" cy="493.8" r="6.75"/>
<circle class="x" cx="613.7" cy="717.1" r="6.75"/>
<circle class="x" cx="828.4" cy="420.0" r="6.75"/>
<circle class="x" cx="574.5" cy="298.0" r="6.75"/>
<circle class="x" cx="1042.8" cy="496.8" r="6.75"/>
<circle class="x" cx="653.9" cy="985.7" r="6.75"/>
<circle class="x" cx="383.8" cy="766.7" r="6.75"/>
<circle class="x" cx="586.2" cy="501.3" r="6.75"/>
<circle class="x" cx="617.1" cy="521.2" r="6.75"/>
<circle class="x" cx="1052.8" cy="435.0" r="6.75"/>
<circle class="x" cx="467.6" cy="731.7" r="6.75"/>
<circle class="x" cx="707.7" cy="287.2" r="6.75"/>
<circle class="x" cx="578.7" cy="760.5" r="6.75"/>
<circle class="x" cx="515.3" cy="500.4" r="6.75"/>
<circle class="x" cx="619.0" cy="717.7" r="6.75"/>
<circle class="x" cx="842.6" cy="334.6" r="6.75"/>
<circle class="x" cx="561.1" cy="793.3" r="6.75"/>
<circle class="x" cx="664.7" cy="1032.1" r="6.75"/>
<circle class="x" cx="614.8" cy="814.5" r="6.75"/>
<circle class="x" cx="367.2" cy="739.0" r="6.75"/>
<circle class="x" cx="774.2" cy="450.6" r="6.75"/>
<circle class="x" cx="591.1" cy="777.0" r="6.75"/>
<circle class="x" cx="545.1" cy="846.1" r="6.75"/>
<circle class="x" cx="892.3" cy="860.6" r="6.75"/>
<circle class="x" cx="628.8" cy="267.0" r="6.75"/>
<circle class="x" cx="620.9" cy="696.0" r="6.75"/>
<circle class="x" cx="651.3" cy="690.2" r="6.75"/>
<circle class="x" cx="843.3" cy="561.7" r="6.75"/>
<circle class="x" cx="721.1" cy="729.5" r="6.75"/>
<circle class="x" cx="649.0" cy="455.1" r="6.75"/>
<circle class="x" cx="558.8" cy="564.2" r="6.75"/>
<circle class="x" cx="599.3" cy="820.3" r="6.75"/>
<circle class="x" cx="674.8" cy="791.3" r="6.75"/>
<circle class="x" cx="541.9" cy="502.2" r="6.75"/>
<circle class="x" cx="688.2" cy="893.9" r="6.75"/>
<circle class="x" cx="524.6" cy="482.3" r="6.75"/>
<circle class="x" cx="755.4" cy="819.5" r="6.75"/>
<circle class="x" cx="657.0" cy="730.4" r="6.75"/>
<circle class="x" cx="1084.1" cy="498.9" r="6.75"/>
<circle class="x" cx="604.8" cy="508.4" r="6.75"/>
<circle class="x" cx="477.3" cy="718.0" r="6.75"/>
<circle class="x" cx="655.0" cy="274.9" r="6.75"/>
<circle class="x" cx="521.0" cy="454.5" r="6.75"/>
<circle class="x" cx="837.0" cy="612.8" r="6.75"/>
<circle class="x" cx="920.1" cy="832.9" r="6.75"/>
<circle class="x" cx="587.8" cy="453.7" r="6.75"/>
<circle class="x" cx="712.5" cy="279.2" r="6.75"/>
<circle class="x" cx="804.7" cy="703.3" r="6.75"/>
<circle class="x" cx="693.1" cy="854.2" r="6.75"/>
<circle class="x" cx="678.5" cy="796.9" r="6.75"/>
<circle class="x" cx="767.9" cy="699.1" r="6.75"/>
<circle class="x" cx="542.0" cy="476.8" r="6.75"/>
<circle class="x" cx="758.6" cy="749.5" r="6.75"/>
<circle class="x" cx="567.6" cy="558.0" r="6.75"/>
<circle class="x" cx="630.4" cy="480.6" r="6.75"/>
<circle class="x" cx="933.9" cy="875.2" r="6.75"/>
<circle class="x" cx="851.4" cy="563.0" r="6.75"/>
<circle class="x" cx="709.5" cy="275.0" r="6.75"/>
<circle class="x" cx="539.6" cy="466.4" r="6.75"/>
<circle class="x" cx="655.1" cy="717.2" r="6.75"/>
<circle class="x" cx="570.8" cy="529.2" r="6.75"/>
<circle class="x" cx="638.8" cy="463.8" r="6.75"/>
<circle class="x" cx="548.3" cy="239.2" r="6.75"/>
<circle class="x" cx="623.9" cy="1055.9" r="6.75"/>
<circle class="x" cx="619.0" cy="706.1" r="6.75"/>
<circle class="x" cx="449.7" cy="773.0" r="6.75"/>
<circle class="x" cx="897.6" cy="804.6" r="6.75"/>
<circle class="x" cx="568.0" cy="519.1" r="6.75"/>
<circle class="x" cx="832.2" cy="614.4" r="6.75"/>
<circle class="x" cx="675.5" cy="759.8" r="6.75"/>
<circle class="x" cx="393.9" cy="273.8" r="6.75"/>
<circle class="x" cx="601.9" cy="875.5" r="6.75"/>
<circle class="x" cx="510.2" cy="276.5" r="6.75"/>
<circle class="x" cx="792.5" cy="833.2" r="6.75"/>
<circle class="x" cx="599.7" cy="485.4" r="6.75"/>
<circle class="x" cx="648.9" cy="749.1" r="6.75"/>
<circle class="x" cx="543.1" cy="259.7" r="6.75"/>
<circle class="x" cx="710.1" cy="323.8" r="6.75"/>
<circle class="x" cx="1066.9" cy="458.9" r="6.75"/>
<circle class="x" cx="546.9" cy="467.7" r="6.75"/>
<circle class="x" cx="603.1" cy="1007.9" r="6.75"/>
<circle class="x" cx="592.1" cy="565.8" r="6.75"/>
<circle class="x" cx="592.0" cy="439.9" r="6.75"/>
<circle class="x" cx="356.0" cy="748.9" r="6.75"/>
<circle class="y" cx="517.5" cy="1023.8" r="6.75"/>
<circle class="y" cx="645.0" cy="1023.8" r="6.75"/>
<circle class="y" cx="502.5" cy="973.8" r="6.75"/>
<circle class="y" cx="547.5" cy="1052.5" r="6.75"/>
<circle class="y" cx="711.2" cy="1011.2" r="6.75"/>
<circle class="y" cx="680.0" cy="1060.0" r="6.75"/>
<circle class="y" cx="672.5" cy="1047.5" r="6.75"/>
<circle class="y" cx="532.5" cy="1047.5" r="6.75"/>
<circle class="y" cx="517.5" cy="431.9" r="6.75"/>
<circle class="y" cx="662.5" cy="1030.0" r="6.75"/>
<circle class="y" cx="686.2" cy="1016.2" r="6.75"/>
<circle class="y" cx="611.2" cy="1000.0" r="6.75"/>
<circle class="y" cx="541.2" cy="907.5" r="6.75"/>
<circle class="y" cx="525.0" cy="1028.8" r="6.75"/>
<circle class="y" cx="543.8" cy="953.8" r="6.75"/>
<circle class="y" cx="560.0" cy="940.0" r="6.75"/>
<circle class="y" cx="613.8" cy="978.8" r="6.75"/>
<circle class="y" cx="585.0" cy="1025.0" r="6.75"/>
<circle class="y" cx="513.8" cy="1001.2" r="6.75"/>
<circle class="y" cx="551.2" cy="925.0" r="6.75"/>
<circle class="y" cx="560.0" cy="1055.0" r="6.75"/>
<circle class="y" cx="628.8" cy="1058.8" r="6.75"/>
<circle class="y" cx="618.8" cy="952.5" r="6.75"/>
<circle class="y" cx="663.0" cy="693.4" r="6.75"/>
<circle class="y" cx="628.9" cy="919.2" r="6.75"/>
<circle class="y" cx="710.6" cy="256.4" r="6.75"/>
<circle class="y" cx="386.5" cy="761.6" r="6.75"/>
<circle class="y" cx="652.5" cy="721.7" r="6.75"/>
<circle class="y" cx="995.8" cy="446.3" r="6.75"/>
<circle class="y" cx="780.5" cy="685.0" r="6.75"/>
<circle class="y" cx="749.0" cy="717.3" r="6.75"/>
<circle class="y" cx="356.2" cy="339.7" r="6.75"/>
<circle class="y" cx="783.0" cy="837.6" r="6.75"/>
<circle class="y" cx="556.4" cy="488.6" r="6.75"/>
<circle class="y" cx="784.6" cy="736.6" r="6.75"/>
<circle class="y" cx="380.7" cy="743.6" r="6.75"/>
<circle class="y" cx="740.8" cy="315.4" r="6.75"/>
<circle class="y" cx="723.5" cy="319.7" r="6.75"/>
<circle class="y" cx="527.2" cy="506.9" r="6.75"/>
<circle class="y" cx="993.8" cy="438.8" r="6.75"/>
<circle class="y" cx="596.4" cy="475.8" r="6.75"/>
<circle class="y" cx="797.3" cy="925.5" r="6.75"/>
<circle class="y" cx="444.7" cy="274.1" r="6.75"/>
<circle class="y" cx="1106.4" cy="486.3" r="6.75"/>
<circle class="y" cx="784.7" cy="630.9" r="6.75"/>
<circle class="y" cx="779.7" cy="766.6" r="6.75"/>
<circle class="y" cx="356.5" cy="244.7" r="6.75"/>
<circle class="y" cx="580.7" cy="523.4" r="6.75"/>
<circle class="y" cx="400.2" cy="265.3" r="6.75"/>
<circle class="y" cx="810.4" cy="810.1" r="6.75"/>
<circle class="y" cx="685.1" cy="711.2" r="6.75"/>
<circle class="y" cx="675.5" cy="217.3" r="6.75"/>
<circle class="y" cx="783.3" cy="673.6" r="6.75"/>
<circle class="y" cx="537.8" cy="217.8" r="6.75"/>
<circle class="y" cx="534.4" cy="765.7" r="6.75"/>
<circle class="y" cx="559.1" cy="850.1" r="6.75"/>
<circle class="y" cx="310.0" cy="348.5" r="6.75"/>
<circle class="y" cx="642.1" cy="942.7" r="6.75"/>
<circle class="y" cx="763.5" cy="619.9" r="6.75"/>
<circle class="y" cx="425.6" cy="763.4" r="6.75"/>
<circle class="y" cx="603.2" cy="1049.0" r="6.75"/>
<circle class="y" cx="610.1" cy="734.0" r="6.75"/>
<circle class="y" cx="848.3" cy="544.1" r="6.75"/>
<circle class="y" cx="371.6" cy="273.0" r="6.75"/>
<circle class="y" cx="454.3" cy="746.9" r="6.75"/>
<circle class="y" cx="602.5" cy="825.5" r="6.75"/>
<circle class="y" cx="610.7" cy="433.5" r="6.75"/>
<circle class="y" cx="653.8" cy="256.8" r="6.75"/>
<circle class="y" cx="610.8" cy="427.2" r="6.75"/>
<circle class="y" cx="509.6" cy="208.6" r="6.75"/>
<circle class="y" cx="655.9" cy="966.6" r="6.75"/>
<circle class="y" cx="554.6" cy="434.9" r="6.75"/>
<circle class="y" cx="772.8" cy="612.2" r="6.75"/>
<circle class="y" cx="785.7" cy="826.5" r="6.75"/>
<circle class="y" cx="1077.4" cy="487.3" r="6.75"/>
<circle class="y" cx="787.9" cy="750.8" r="6.75"/>
<circle class="y" cx="636.2" cy="970.2" r="6.75"/>
<circle class="y" cx="461.8" cy="702.1" r="6.75"/>
<circle class="y" cx="522.2" cy="808.1" r="6.75"/>
<circle class="y" cx="580.1" cy="556.7" r="6.75"/>
<circle class="y" cx="465.6" cy="255.0" r="6.75"/>
<circle class="y" cx="789.0" cy="309.3" r="6.75"/>
<circle class="y" cx="676.6" cy="1004.2" r="6.75"/>
<circle class="y" cx="751.6" cy="776.0" r="6.75"/>
<circle class="y" cx="637.3" cy="486.2" r="6.75"/>
<circle class="y" cx="879.1" cy="869.1" r="6.75"/>
<circle class="y" cx="556.7" cy="790.2" r="6.75"/>
<circle class="y" cx="604.6" cy="536.8" r="6.75"/>
<circle class="y" cx="525.1" cy="446.8" r="6.75"/>
<circle class="y" cx="814.0" cy="845.5" r="6.75"/>
<circle class="y" cx="453.3" cy="710.4" r="6.75"/>
<circle class="y" cx="576.7" cy="486.7" r="6.75"/>
<circle class="y" cx="608.9" cy="823.5" r="6.75"/>
<circle class="y" cx="611.8" cy="562.6" r="6.75"/>
<circle class="y" cx="397.1" cy="287.0" r="6.75"/>
<circle class="y" cx="740.6" cy="401.1" r="6.75"/>
<circle class="y" cx="672.5" cy="938.8" r="6.75"/>
<circle class="y" cx="655.1" cy="568.6" r="6.75"/>
<circle class="y" cx="530.0" cy="835.6" r="6.75"/>
<circle class="y" cx="675.0" cy="481.2" r="6.75"/>
<circle class="y" cx="885.0" cy="325.0" r="6.75"/>
<circle class="y" cx="481.2" cy="857.0" r="6.75"/>
<circle class="y" cx="403.3" cy="743.3" r="6.75"/>
<circle class="y" cx="449.6" cy="733.8" r="6.75"/>
<circle class="y" cx="724.4" cy="733.1" r="6.75"/>
<circle class="y" cx="698.9" cy="440.6" r="6.75"/>
<circle class="y" cx="555.2" cy="455.3" r="6.75"/>
<circle class="y" cx="561.4" cy="767.9" r="6.75"/>
<circle class="y" cx="1106.3" cy="498.1" r="6.75"/>
<circle class="y" cx="778.7" cy="715.9" r="6.75"/>
<circle class="y" cx="844.8" cy="582.8" r="6.75"/>
<circle class="y" cx="1035.6" cy="439.4" r="6.75"/>
<circle class="y" cx="509.6" cy="772.4" r="6.75"/>
<circle class="y" cx="634.7" cy="827.4" r="6.75"/>
<circle class="y" cx="680.1" cy="293.7" r="6.75"/>
<circle class="y" cx="576.6" cy="206.9" r="6.75"/>
<circle class="z" cx="686.7" cy="703.7" r="6.75"/>
<circle class="z" cx="648.6" cy="737.4" r="6.75"/>
<circle class="z" cx="463.2" cy="709.6" r="6.75"/>
<circle class="z" cx="538.6" cy="1021.2" r="6.75"/>
<circle class="z" cx="914.0" cy="853.4" r="6.75"/>
<circle class="z" cx="551.4" cy="484.0" r="6.75"/>
<circle class="z" cx="781.1" cy="668.9" r="6.75"/>
<circle class="z" cx="704.3" cy="303.6" r="6.75"/>
<circle class="z" cx="377.4" cy="739.4" r="6.75"/>
<circle class="z" cx="604.6" cy="566.2" r="6.75"/>
<circle class="z" cx="875.7" cy="551.0" r="6.75"/>
<circle class="z" cx="613.2" cy="504.0" r="6.75"/>
<circle class="z" cx="663.7" cy="288.6" r="6.75"/>
<circle class="z" cx="568.0" cy="471.6" r="6.75"/>
<circle class="z" cx="864.2" cy="367.1" r="6.75"/>
<circle class="z" cx="613.9" cy="806.4" r="6.75"/>
<circle class="z" cx="642.4" cy="742.4" r="6.75"/>
<circle class="z" cx="641.9" cy="483.3" r="6.75"/>
<circle class="z" cx="567.0" cy="979.6" r="6.75"/>
<circle class="z" cx="608.5" cy="465.2" r="6.75"/>
<circle class="z" cx="376.4" cy="265.7" r="6.75"/>
<circle class="z" cx="481.5" cy="744.0" r="6.75"/>
<circle class="z" cx="537.7" cy="558.9" r="6.75"/>
<circle class="z" cx="545.2" cy="508.8" r="6.75"/>
<circle class="z" cx="577.3" cy="450.6" r="6.75"/>
<circle class="z" cx="615.8" cy="738.6" r="6.75"/>
<circle class="z" cx="644.3" cy="464.2" r="6.75"/>
<circle class="z" cx="878.1" cy="940.4" r="6.75"/>
<circle class="z" cx="727.8" cy="712.4" r="6.75"/>
<circle class="z" cx="564.8" cy="260.0" r="6.75"/>
<circle class="z" cx="627.7" cy="694.3" r="6.75"/>
<circle class="z" cx="790.5" cy="632.7" r="6.75"/>
<circle class="z" cx="364.8" cy="724.2" r="6.75"/>
<circle class="z" cx="613.1" cy="525.1" r="6.75"/>
<circle class="z" cx="610.5" cy="508.6" r="6.75"/>
<circle class="z" cx="693.8" cy="580.0" r="6.75"/>
<circle class="z" cx="896.2" cy="328.8" r="6.75"/>
<circle class="z" cx="757.5" cy="410.5" r="6.75"/>
<circle class="z" cx="684.4" cy="553.0" r="6.75"/>
<circle class="z" cx="715.9" cy="442.3" r="6.75"/>
<circle class="z" cx="616.2" cy="508.4" r="6.75"/>
<circle class="z" cx="826.9" cy="327.0" r="6.75"/>
<circle class="z" cx="619.0" cy="520.5" r="6.75"/>
<circle class="z" cx="1022.8" cy="436.2" r="6.75"/>
<circle class="z" cx="566.7" cy="771.8" r="6.75"/>
<circle class="z" cx="531.0" cy="483.5" r="6.75"/>
<circle class="z" cx="423.1" cy="295.8" r="6.75"/>
<circle class="z" cx="929.5" cy="835.3" r="6.75"/>
<circle class="z" cx="393.1" cy="760.0" r="6.75"/>
<circle class="z" cx="883.7" cy="387.5" r="6.75"/>
<circle class="z" cx="581.3" cy="794.8" r="6.75"/>
<circle class="z" cx="736.1" cy="455.4" r="6.75"/>
<circle class="z" cx="628.7" cy="797.1" r="6.75"/>
<circle class="z" cx="472.8" cy="727.6" r="6.75"/>
<circle class="z" cx="547.9" cy="461.2" r="6.75"/>
<circle class="z" cx="559.8" cy="824.0" r="6.75"/>
<circle class="z" cx="598.0" cy="456.9" r="6.75"/>
<circle class="z" cx="769.0" cy="714.2" r="6.75"/>
<circle class="z" cx="376.4" cy="731.1" r="6.75"/>
<circle class="z" cx="847.1" cy="366.7" r="6.75"/>
<circle class="z" cx="627.8" cy="750.0" r="6.75"/>
<circle class="z" cx="639.5" cy="457.0" r="6.75"/>
<circle class="A" cx="856.7" cy="865.5" r="6.75"/>
<circle class="A" cx="663.9" cy="772.5" r="6.75"/>
<circle class="A" cx="336.4" cy="918.9" r="6.75"/>
<circle class="A" cx="529.4" cy="539.5" r="6.75"/>
<circle class="A" cx="554.4" cy="430.5" r="6.75"/>
<circle class="A" cx="598.6" cy="781.6" r="6.75"/>
<circle class="A" cx="614.7" cy="462.7" r="6.75"/>
<circle class="A" cx="808.2" cy="313.6" r="6.75"/>
<circle class="A" cx="597.6" cy="721.2" r="6.75"/>
<circle class="A" cx="578.8" cy="865.6" r="6.75"/>
<circle class="A" cx="590.0" cy="896.2" r="6.75"/>
<circle class="A" cx="665.0" cy="920.0" r="6.75"/>
<circle class="A" cx="586.9" cy="653.8" r="6.75"/>
<circle class="A" cx="509.2" cy="638.0" r="6.75"/>
<circle class="A" cx="762.0" cy="674.4" r="6.75"/>
<circle class="A" cx="577.1" cy="550.1" r="6.75"/>
<circle class="A" cx="721.4" cy="306.5" r="6.75"/>
<circle class="A" cx="510.2" cy="747.6" r="6.75"/>
<circle class="A" cx="580.9" cy="823.1" r="6.75"/>
<circle class="A" cx="449.3" cy="326.9" r="6.75"/>
<circle class="A" cx="604.4" cy="700.1" r="6.75"/>
<circle class="A" cx="834.9" cy="358.1" r="6.75"/>
<circle class="A" cx="765.9" cy="673.1" r="6.75"/>
<circle class="A" cx="569.9" cy="991.1" r="6.75"/>
<circle class="A" cx="559.8" cy="799.2" r="6.75"/>
<circle class="A" cx="602.9" cy="491.7" r="6.75"/>
<circle class="A" cx="508.9" cy="514.8" r="6.75"/>
<circle class="A" cx="787.2" cy="713.3" r="6.75"/>
<circle class="A" cx="586.1" cy="741.6" r="6.75"/>
<circle class="A" cx="1043.9" cy="461.5" r="6.75"/>
<circle class="A" cx="828.6" cy="572.5" r="6.75"/>
<circle class="A" cx="614.9" cy="731.6" r="6.75"/>
<circle class="A" cx="455.6" cy="739.9" r="6.75"/>
<circle class="A" cx="687.2" cy="460.0" r="6.75"/>
<circle class="A" cx="634.3" cy="458.1" r="6.75"/>
<circle class="A" cx="604.3" cy="513.3" r="6.75"/>
<circle class="A" cx="531.5" cy="529.9" r="6.75"/>
<circle class="A" cx="602.3" cy="739.8" r="6.75"/>
<circle class="A" cx="574.6" cy="470.3" r="6.75"/>
<circle class="A" cx="930.0" cy="860.3" r="6.75"/>
<circle class="A" cx="741.5" cy="825.2" r="6.75"/>
<circle class="A" cx="600.6" cy="470.9" r="6.75"/>
<circle class="A" cx="462.4" cy="729.7" r="6.75"/>
<circle class="A" cx="583.8" cy="490.9" r="6.75"/>
<circle class="A" cx="809.9" cy="328.8" r="6.75"/>
<circle class="A" cx="625.2" cy="527.3" r="6.75"/>
<circle class="A" cx="560.4" cy="431.5" r="6.75"/>
<circle class="A" cx="611.5" cy="544.4" r="6.75"/>
<circle class="A" cx="606.0" cy="521.8" r="6.75"/>
<circle class="B" cx="588.9" cy="824.0" r="6.75"/>
<circle class="B" cx="508.8" cy="927.0" r="6.75"/>
<circle class="B" cx="663.0" cy="291.2" r="6.75"/>
<circle class="B" cx="650.0" cy="938.8" r="6.75"/>
<circle class="B" cx="532.5" cy="1038.8" r="6.75"/>
<circle class="B" cx="586.2" cy="906.2" r="6.75"/>
<circle class="B" cx="900.0" cy="317.5" r="6.75"/>
<circle class="B" cx="623.8" cy="833.8" r="6.75"/>
<circle class="B" cx="570.0" cy="477.8" r="6.75"/>
<circle class="B" cx="594.3" cy="508.3" r="6.75"/>
<circle class="B" cx="499.6" cy="506.2" r="6.75"/>
<circle class="B" cx="583.8" cy="729.3" r="6.75"/>
<circle class="B" cx="578.9" cy="466.3" r="6.75"/>
<circle class="B" cx="1053.1" cy="477.4" r="6.75"/>
<circle class="B" cx="574.1" cy="556.8" r="6.75"/>
<circle class="B" cx="624.4" cy="777.0" r="6.75"/>
<circle class="B" cx="596.1" cy="464.6" r="6.75"/>
<circle class="B" cx="577.8" cy="521.4" r="6.75"/>
<circle class="B" cx="603.1" cy="465.2" r="6.75"/>
<circle class="B" cx="573.9" cy="807.1" r="6.75"/>
<circle class="B" cx="550.5" cy="820.3" r="6.75"/>
<circle class="B" cx="552.0" cy="475.4" r="6.75"/>
<circle class="B" cx="367.1" cy="719.4" r="6.75"/>
<circle class="B" cx="606.6" cy="438.1" r="6.75"/>
<circle class="B" cx="1049.2" cy="466.4" r="6.75"/>
<circle class="B" cx="561.7" cy="517.3" r="6.75"/>
<circle class="B" cx="594.5" cy="793.7" r="6.75"/>
<circle class="B" cx="867.2" cy="355.0" r="6.75"/>
<circle class="B" cx="614.9" cy="486.0" r="6.75"/>
<circle class="B" cx="629.2" cy="489.4" r="6.75"/>
<circle class="B" cx="609.2" cy="496.6" r="6.75"/>
<circle class="B" cx="878.1" cy="363.6" r="6.75"/>
<circle class="B" cx="1035.0" cy="474.9" r="6.75"/>
<circle class="B" cx="526.7" cy="528.4" r="6.75"/>
<circle class="B" cx="595.1" cy="727.2" r="6.75"/>
<circle class="B" cx="1062.7" cy="472.7" r="6.75"/>
<circle class="B" cx="604.2" cy="808.3" r="6.75"/>
<circle class="B" cx="619.9" cy="492.7" r="6.75"/>
<circle class="B" cx="997.6" cy="427.1" r="6.75"/>
<circle class="B" cx="622.7" cy="446.9" r="6.75"/>
<circle class="B" cx="593.8" cy="863.8" r="6.75"/>
<circle class="B" cx="635.0" cy="867.5" r="6.75"/>
<circle class="B" cx="548.8" cy="1018.8" r="6.75"/>
<circle class="B" cx="566.2" cy="1043.8" r="6.75"/>
<circle class="B" cx="922.5" cy="394.4" r="6.75"/>
<circle class="B" cx="864.4" cy="619.4" r="6.75"/>
<circle class="B" cx="751.4" cy="813.6" r="6.75"/>
<circle class="B" cx="656.2" cy="253.8" r="6.75"/>
<circle class="B" cx="678.1" cy="957.5" r="6.75"/>
<circle class="B" cx="696.4" cy="322.0" r="6.75"/>
<circle class="B" cx="973.1" cy="334.4" r="6.75"/>
<circle class="B" cx="434.4" cy="785.0" r="6.75"/>
<circle class="B" cx="665.0" cy="972.5" r="6.75"/>
<circle class="B" cx="745.5" cy="350.1" r="6.75"/>
<circle class="B" cx="535.0" cy="1022.5" r="6.75"/>
<circle class="B" cx="732.2" cy="805.0" r="6.75"/>
<circle class="B" cx="673.1" cy="464.4" r="6.75"/>
<circle class="B" cx="713.8" cy="1067.0" r="6.75"/>
<circle class="B" cx="640.0" cy="293.8" r="6.75"/>
<circle class="B" cx="554.4" cy="860.0" r="6.75"/>
<circle class="B" cx="802.8" cy="340.6" r="6.75"/>
<circle class="B" cx="634.7" cy="478.1" r="6.75"/>
<circle class="B" cx="549.7" cy="448.7" r="6.75"/>
<circle class="B" cx="564.6" cy="189.6" r="6.75"/>
<circle class="B" cx="1058.7" cy="470.3" r="6.75"/>
<circle class="B" cx="574.3" cy="516.0" r="6.75"/>
<circle class="B" cx="637.7" cy="485.6" r="6.75"/>
<circle class="B" cx="703.0" cy="293.2" r="6.75"/>
<circle class="C" cx="816.0" cy="333.0" r="6.75"/>
<circle class="C" cx="567.8" cy="514.9" r="6.75"/>
<circle class="C" cx="1058.2" cy="458.4" r="6.75"/>
<circle class="C" cx="615.2" cy="456.6" r="6.75"/>
<circle class="C" cx="571.8" cy="791.4" r="6.75"/>
<circle class="C" cx="555.2" cy="829.8" r="6.75"/>
<circle class="C" cx="658.8" cy="747.1" r="6.75"/>
<circle class="C" cx="874.6" cy="369.1" r="6.75"/>
<circle class="C" cx="634.3" cy="491.6" r="6.75"/>
<circle class="C" cx="573.4" cy="829.6" r="6.75"/>
<circle class="C" cx="1029.6" cy="466.9" r="6.75"/>
<circle class="C" cx="579.2" cy="832.7" r="6.75"/>
<circle class="C" cx="599.3" cy="457.6" r="6.75"/>
<circle class="C" cx="521.3" cy="528.2" r="6.75"/>
<circle class="C" cx="569.6" cy="520.9" r="6.75"/>
<circle class="C" cx="539.6" cy="507.4" r="6.75"/>
<circle class="C" cx="582.5" cy="814.5" r="6.75"/>
<circle class="C" cx="477.0" cy="701.7" r="6.75"/>
<circle class="C" cx="581.8" cy="827.7" r="6.75"/>
<circle class="C" cx="537.3" cy="548.9" r="6.75"/>
<circle class="C" cx="419.8" cy="747.7" r="6.75"/>
<circle class="C" cx="799.2" cy="327.0" r="6.75"/>
<circle class="C" cx="602.5" cy="526.6" r="6.75"/>
<circle class="C" cx="850.5" cy="360.8" r="6.75"/>
<circle class="C" cx="831.5" cy="325.3" r="6.75"/>
<circle class="C" cx="991.5" cy="306.2" r="6.75"/>
<circle class="C" cx="928.1" cy="385.0" r="6.75"/>
<circle class="C" cx="919.4" cy="910.0" r="6.75"/>
<circle class="C" cx="808.0" cy="800.5" r="6.75"/>
<circle class="C" cx="396.9" cy="740.0" r="6.75"/>
<circle class="C" cx="413.8" cy="785.0" r="6.75"/>
<circle class="C" cx="349.2" cy="741.9" r="6.75"/>
<circle class="C" cx="989.2" cy="414.2" r="6.75"/>
<circle class="C" cx="954.2" cy="894.2" r="6.75"/>
<circle class="C" cx="810.0" cy="304.4" r="6.75"/>
<circle class="C" cx="595.0" cy="973.8" r="6.75"/>
<circle class="C" cx="696.4" cy="340.0" r="6.75"/>
<circle class="C" cx="975.0" cy="311.9" r="6.75"/>
<circle class="C" cx="675.0" cy="296.9" r="6.75"/>
<circle class="C" cx="428.8" cy="751.2" r="6.75"/>
<circle class="C" cx="874.4" cy="790.0" r="6.75"/>
<circle class="C" cx="613.8" cy="921.2" r="6.75"/>
<circle class="C" cx="389.4" cy="718.2" r="6.75"/>
<circle class="C" cx="682.5" cy="456.9" r="6.75"/>
<circle class="C" cx="600.9" cy="830.6" r="6.75"/>
<circle class="C" cx="564.2" cy="751.0" r="6.75"/>
<circle class="C" cx="1047.2" cy="481.3" r="6.75"/>
<circle class="C" cx="1061.7" cy="453.4" r="6.75"/>
<circle class="C" cx="568.4" cy="456.8" r="6.75"/>
<circle class="C" cx="574.5" cy="462.9" r="6.75"/>
<circle class="C" cx="1069.3" cy="468.9" r="6.75"/>
<circle class="C" cx="551.5" cy="547.2" r="6.75"/>
<circle class="C" cx="610.2" cy="550.3" r="6.75"/>
<circle class="C" cx="549.2" cy="529.0" r="6.75"/>
<circle class="C" cx="854.3" cy="346.0" r="6.75"/>
<circle class="C" cx="834.1" cy="351.1" r="6.75"/>
<circle class="C" cx="569.1" cy="831.5" r="6.75"/>
<circle class="C" cx="856.7" cy="372.5" r="6.75"/>
<circle class="C" cx="831.2" cy="335.4" r="6.75"/>
<circle class="C" cx="640.5" cy="505.6" r="6.75"/>
<circle class="D" cx="549.9" cy="481.8" r="6.75"/>
<circle class="D" cx="520.1" cy="522.2" r="6.75"/>
<circle class="D" cx="1090.9" cy="478.3" r="6.75"/>
<circle class="D" cx="601.5" cy="447.9" r="6.75"/>
<circle class="D" cx="597.5" cy="826.2" r="6.75"/>
<circle class="D" cx="616.1" cy="686.8" r="6.75"/>
<circle class="D" cx="856.8" cy="365.7" r="6.75"/>
<circle class="D" cx="592.9" cy="463.0" r="6.75"/>
<circle class="D" cx="541.1" cy="438.1" r="6.75"/>
<circle class="D" cx="1031.3" cy="478.3" r="6.75"/>
<circle class="D" cx="564.2" cy="450.0" r="6.75"/>
<circle class="D" cx="608.9" cy="460.4" r="6.75"/>
<circle class="D" cx="965.6" cy="322.0" r="6.75"/>
<circle class="D" cx="651.2" cy="263.8" r="6.75"/>
<circle class="D" cx="922.5" cy="377.5" r="6.75"/>
<circle class="D" cx="909.2" cy="902.5" r="6.75"/>
<circle class="D" cx="1008.8" cy="489.2" r="6.75"/>
<circle class="D" cx="909.4" cy="376.8" r="6.75"/>
<circle class="D" cx="460.6" cy="749.4" r="6.75"/>
<circle class="D" cx="603.8" cy="266.2" r="6.75"/>
<circle class="D" cx="419.4" cy="721.2" r="6.75"/>
<circle class="D" cx="616.2" cy="268.8" r="6.75"/>
<circle class="D" cx="379.2" cy="940.6" r="6.75"/>
<circle class="D" cx="834.4" cy="617.0" r="6.75"/>
<circle class="D" cx="983.2" cy="308.9" r="6.75"/>
<circle class="D" cx="318.1" cy="880.6" r="6.75"/>
<circle class="D" cx="950.6" cy="389.5" r="6.75"/>
<circle class="D" cx="1096.9" cy="512.5" r="6.75"/>
<circle class="D" cx="581.2" cy="655.6" r="6.75"/>
<circle class="D" cx="1018.1" cy="465.6" r="6.75"/>
<circle class="D" cx="938.1" cy="896.9" r="6.75"/>
<circle class="D" cx="751.8" cy="781.8" r="6.75"/>
<circle class="D" cx="586.2" cy="469.6" r="6.75"/>
<circle class="D" cx="564.1" cy="846.6" r="6.75"/>
<circle class="D" cx="549.3" cy="540.9" r="6.75"/>
<circle class="D" cx="852.1" cy="372.0" r="6.75"/>
<circle class="D" cx="860.0" cy="355.4" r="6.75"/>
<circle class="D" cx="1035.3" cy="464.6" r="6.75"/>
<circle class="D" cx="580.0" cy="483.3" r="6.75"/>
<circle class="D" cx="863.3" cy="376.4" r="6.75"/>
<circle class="D" cx="566.8" cy="841.3" r="6.75"/>
<circle class="D" cx="589.6" cy="498.6" r="6.75"/>
<circle class="D" cx="838.8" cy="361.8" r="6.75"/>
<circle class="D" cx="1053.3" cy="463.8" r="6.75"/>
<circle class="D" cx="558.2" cy="467.1" r="6.75"/>
<circle class="D" cx="936.9" cy="588.2" r="6.75"/>
<circle class="D" cx="620.5" cy="455.2" r="6.75"/>
<circle class="D" cx="844.9" cy="342.5" r="6.75"/>
<circle class="D" cx="579.1" cy="559.4" r="6.75"/>
<circle class="D" cx="553.3" cy="457.6" r="6.75"/>
<circle class="D" cx="805.4" cy="321.5" r="6.75"/>
<circle class="D" cx="570.2" cy="484.6" r="6.75"/>
<circle class="D" cx="562.3" cy="443.7" r="6.75"/>
<circle class="D" cx="824.7" cy="321.5" r="6.75"/>
<circle class="D" cx="605.2" cy="538.0" r="6.75"/>
<circle class="D" cx="1063.9" cy="465.9" r="6.75"/>
<circle class="D" cx="1042.7" cy="478.1" r="6.75"/>
<circle class="D" cx="561.4" cy="549.0" r="6.75"/>
<circle class="E" cx="585.9" cy="840.8" r="6.75"/>
<circle class="E" cx="617.3" cy="533.0" r="6.75"/>
<circle class="E" cx="592.7" cy="478.6" r="6.75"/>
<circle class="E" cx="642.5" cy="951.9" r="6.75"/>
<circle class="E" cx="438.1" cy="739.2" r="6.75"/>
<circle class="E" cx="545.0" cy="845.0" r="6.75"/>
<circle class="E" cx="891.2" cy="938.9" r="6.75"/>
<circle class="E" cx="778.1" cy="315.6" r="6.75"/>
<circle class="E" cx="400.6" cy="720.5" r="6.75"/>
<circle class="E" cx="636.2" cy="263.8" r="6.75"/>
<circle class="E" cx="1091.2" cy="490.0" r="6.75"/>
<circle class="E" cx="628.8" cy="268.8" r="6.75"/>
<circle class="E" cx="648.8" cy="1053.8" r="6.75"/>
<circle class="E" cx="774.4" cy="623.8" r="6.75"/>
<circle class="E" cx="655.0" cy="838.8" r="6.75"/>
<circle class="E" cx="945.0" cy="388.8" r="6.75"/>
<circle class="E" cx="798.8" cy="321.4" r="6.75"/>
<circle class="E" cx="588.4" cy="845.7" r="6.75"/>
<circle class="E" cx="586.5" cy="431.8" r="6.75"/>
<circle class="E" cx="632.9" cy="496.4" r="6.75"/>
<circle class="E" cx="618.3" cy="543.5" r="6.75"/>
<circle class="E" cx="561.3" cy="804.3" r="6.75"/>
<circle class="E" cx="562.5" cy="809.2" r="6.75"/>
<circle class="E" cx="578.9" cy="445.7" r="6.75"/>
<circle class="E" cx="573.8" cy="432.5" r="6.75"/>
<circle class="E" cx="570.1" cy="811.6" r="6.75"/>
<circle class="E" cx="809.8" cy="341.6" r="6.75"/>
<circle class="E" cx="563.3" cy="512.0" r="6.75"/>
<circle class="E" cx="861.2" cy="350.5" r="6.75"/>
<circle class="E" cx="824.9" cy="336.0" r="6.75"/>
<circle class="E" cx="598.6" cy="487.6" r="6.75"/>
<circle class="E" cx="874.8" cy="360.3" r="6.75"/>
<circle class="E" cx="579.7" cy="850.2" r="6.75"/>
<circle class="E" cx="563.8" cy="817.8" r="6.75"/>
<circle class="E" cx="594.1" cy="455.6" r="6.75"/>
<circle class="E" cx="571.4" cy="821.2" r="6.75"/>
<circle class="E" cx="1045.5" cy="470.1" r="6.75"/>
<circle class="E" cx="581.0" cy="511.0" r="6.75"/>
<circle class="E" cx="561.7" cy="832.8" r="6.75"/>
<circle class="E" cx="814.9" cy="340.4" r="6.75"/>
<circle class="E" cx="847.9" cy="350.7" r="6.75"/>
<circle class="E" cx="593.2" cy="442.4" r="6.75"/>
<circle class="E" cx="599.8" cy="811.4" r="6.75"/>
<circle class="E" cx="621.0" cy="486.2" r="6.75"/>
<circle class="E" cx="1037.0" cy="470.1" r="6.75"/>
<circle class="E" cx="1068.3" cy="450.7" r="6.75"/>
<circle class="E" cx="801.6" cy="331.8" r="6.75"/>
<circle class="E" cx="575.8" cy="476.0" r="6.75"/>
<circle class="E" cx="733.8" cy="713.1" r="6.75"/>
<circle class="E" cx="839.5" cy="898.8" r="6.75"/>
<circle class="E" cx="598.8" cy="247.0" r="6.75"/>
<circle class="E" cx="455.0" cy="728.8" r="6.75"/>
<circle class="E" cx="575.6" cy="657.5" r="6.75"/>
<circle class="E" cx="820.0" cy="876.2" r="6.75"/>
<circle class="E" cx="650.0" cy="908.8" r="6.75"/>
<circle class="E" cx="575.0" cy="741.9" r="6.75"/>
<circle class="E" cx="823.8" cy="902.5" r="6.75"/>
<circle class="E" cx="691.2" cy="944.4" r="6.75"/>
<circle class="E" cx="663.8" cy="838.8" r="6.75"/>
<circle class="E" cx="851.9" cy="910.8" r="6.75"/>
<circle class="E" cx="771.2" cy="754.4" r="6.75"/>
<circle class="E" cx="565.5" cy="542.7" r="6.75"/>
<circle class="E" cx="585.0" cy="506.3" r="6.75"/>
<circle class="E" cx="750.5" cy="845.2" r="6.75"/>
<circle class="E" cx="866.4" cy="372.4" r="6.75"/>
<circle class="E" cx="588.4" cy="518.4" r="6.75"/>
<circle class="E" cx="542.4" cy="447.2" r="6.75"/>
<circle class="E" cx="543.2" cy="458.5" r="6.75"/>
<circle class="E" cx="935.8" cy="581.3" r="6.75"/>
<circle class="F" cx="593.2" cy="820.2" r="6.75"/>
<circle class="F" cx="596.7" cy="833.5" r="6.75"/>
<circle class="F" cx="599.4" cy="818.4" r="6.75"/>
<circle class="F" cx="938.7" cy="577.5" r="6.75"/>
<circle class="F" cx="942.4" cy="584.2" r="6.75"/>
<circle class="F" cx="829.7" cy="343.1" r="6.75"/>
<circle class="F" cx="612.0" cy="439.2" r="6.75"/>
<circle class="F" cx="577.5" cy="794.2" r="6.75"/>
<circle class="F" cx="597.3" cy="466.8" r="6.75"/>
<circle class="F" cx="813.1" cy="317.6" r="6.75"/>
<circle class="F" cx="555.3" cy="449.3" r="6.75"/>
<circle class="F" cx="580.0" cy="808.6" r="6.75"/>
<circle class="F" cx="588.5" cy="816.2" r="6.75"/>
<circle class="F" cx="548.5" cy="435.7" r="6.75"/>
<circle class="F" cx="590.8" cy="808.2" r="6.75"/>
<circle class="F" cx="626.6" cy="478.9" r="6.75"/>
<circle class="F" cx="583.0" cy="448.2" r="6.75"/>
<circle class="F" cx="531.5" cy="508.9" r="6.75"/>
<circle class="F" cx="563.0" cy="470.2" r="6.75"/>
<circle class="F" cx="947.0" cy="582.8" r="6.75"/>
<circle class="F" cx="592.2" cy="491.4" r="6.75"/>
<circle class="F" cx="579.5" cy="435.2" r="6.75"/>
<circle class="F" cx="642.4" cy="476.8" r="6.75"/>
<circle class="F" cx="570.6" cy="465.9" r="6.75"/>
<circle class="F" cx="683.8" cy="953.8" r="6.75"/>
<circle class="F" cx="714.4" cy="251.9" r="6.75"/>
<circle class="F" cx="1121.2" cy="498.6" r="6.75"/>
<circle class="F" cx="772.5" cy="300.6" r="6.75"/>
<circle class="F" cx="561.9" cy="872.0" r="6.75"/>
<circle class="F" cx="583.1" cy="542.5" r="6.75"/>
<circle class="F" cx="610.1" cy="465.8" r="6.75"/>
<circle class="F" cx="1048.8" cy="460.4" r="6.75"/>
<circle class="F" cx="609.3" cy="433.1" r="6.75"/>
<circle class="F" cx="853.1" cy="356.5" r="6.75"/>
<circle class="G" cx="563.3" cy="796.0" r="6.75"/>
<circle class="G" cx="588.6" cy="450.4" r="6.75"/>
<circle class="G" cx="583.5" cy="439.7" r="6.75"/>
<circle class="G" cx="618.5" cy="538.1" r="6.75"/>
<circle class="G" cx="599.9" cy="472.6" r="6.75"/>
<circle class="G" cx="552.3" cy="468.0" r="6.75"/>
<circle class="G" cx="556.9" cy="473.5" r="6.75"/>
<circle class="G" cx="632.2" cy="525.1" r="6.75"/>
<circle class="G" cx="860.9" cy="362.1" r="6.75"/>
<circle class="G" cx="401.2" cy="475.0" r="6.75"/>
<circle class="G" cx="627.5" cy="760.6" r="6.75"/>
<circle class="G" cx="665.0" cy="728.8" r="6.75"/>
<circle class="G" cx="576.9" cy="753.1" r="6.75"/>
<circle class="G" cx="589.5" cy="836.0" r="6.75"/>
<circle class="G" cx="629.7" cy="537.2" r="6.75"/>
<circle class="G" cx="835.3" cy="340.6" r="6.75"/>
<circle class="G" cx="618.1" cy="443.0" r="6.75"/>
<circle class="H" cx="771.4" cy="291.2" r="6.75"/>
<circle class="H" cx="447.5" cy="726.1" r="6.75"/>
<circle class="H" cx="380.0" cy="918.1" r="6.75"/>
<circle class="H" cx="818.1" cy="866.9" r="6.75"/>
<circle class="H" cx="606.9" cy="752.0" r="6.75"/>
<circle class="H" cx="495.1" cy="765.5" r="6.75"/>
<circle class="H" cx="562.5" cy="405.6" r="6.75"/>
<circle class="H" cx="700.5" cy="243.2" r="6.75"/>
<circle class="H" cx="748.1" cy="253.8" r="6.75"/>
<circle class="H" cx="436.2" cy="711.1" r="6.75"/>
<circle class="H" cx="633.7" cy="463.1" r="6.75"/>
<circle class="H" cx="612.2" cy="446.9" r="6.75"/>
<circle class="H" cx="524.6" cy="535.8" r="6.75"/>
<circle class="H" cx="564.2" cy="465.2" r="6.75"/>
<circle class="H" cx="584.4" cy="497.5" r="6.75"/>
<circle class="H" cx="573.7" cy="491.4" r="6.75"/>
<circle class="H" cx="944.4" cy="576.6" r="6.75"/>
<circle class="H" cx="866.1" cy="916.4" r="6.75"/>
<circle class="H" cx="876.4" cy="612.6" r="6.75"/>
<circle class="H" cx="575.0" cy="792.5" r="6.75"/>
<circle class="H" cx="636.5" cy="472.9" r="6.75"/>
<circle class="I" cx="907.3" cy="590.0" r="6.75"/>
<circle class="I" cx="610.4" cy="518.4" r="6.75"/>
<circle class="I" cx="542.3" cy="556.2" r="6.75"/>
<circle class="I" cx="559.5" cy="525.1" r="6.75"/>
<circle class="I" cx="697.5" cy="253.8" r="6.75"/>
<circle class="I" cx="886.9" cy="380.5" r="6.75"/>
<circle class="I" cx="805.0" cy="854.5" r="6.75"/>
<circle class="I" cx="372.5" cy="925.6" r="6.75"/>
<circle class="I" cx="591.9" cy="526.7" r="6.75"/>
<circle class="J" cx="533.6" cy="545.3" r="6.75"/>
<circle class="J" cx="950.5" cy="878.1" r="6.75"/>
<circle class="J" cx="718.1" cy="649.2" r="6.75"/>
<circle class="J" cx="716.2" cy="271.8" r="6.75"/>
<circle class="J" cx="374.4" cy="931.2" r="6.75"/>
<circle class="J" cx="593.5" cy="431.8" r="6.75"/>
<circle class="J" cx="556.8" cy="488.7" r="6.75"/>
<circle class="J" cx="560.9" cy="556.2" r="6.75"/>
<circle class="J" cx="567.4" cy="445.1" r="6.75"/>
<circle class="K" cx="732.0" cy="250.0" r="6.75"/>
<circle class="K" cx="890.4" cy="596.2" r="6.75"/>
<circle class="K" cx="930.1" cy="592.9" r="6.75"/>
<circle class="K" cx="919.2" cy="598.0" r="6.75"/>
<circle class="K" cx="560.0" cy="786.9" r="6.75"/>
<circle class="K" cx="1113.8" cy="496.4" r="6.75"/>
<circle class="K" cx="729.4" cy="261.2" r="6.75"/>
<circle class="K" cx="849.8" cy="504.9" r="6.75"/>
<circle class="L" cx="631.9" cy="484.2" r="6.75"/>
<circle class="L" cx="560.6" cy="511.2" r="6.75"/>
<circle class="L" cx="908.5" cy="599.7" r="6.75"/>
<circle class="L" cx="877.1" cy="500.0" r="6.75"/>
<circle class="M" cx="856.0" cy="513.9" r="6.75"/>
<circle class="M" cx="851.2" cy="492.4" r="6.75"/>
<circle class="M" cx="916.1" cy="619.4" r="6.75"/>
<circle class="M" cx="679.9" cy="670.6" r="6.75"/>
<circle class="M" cx="718.1" cy="635.0" r="6.75"/>
<circle class="M" cx="900.0" cy="611.9" r="6.75"/>
<circle class="M" cx="581.2" cy="559.2" r="6.75"/>
<circle class="M" cx="654.4" cy="675.1" r="6.75"/>
<circle class="M" cx="522.0" cy="521.8" r="6.75"/>
<circle class="M" cx="720.0" cy="290.5" r="6.75"/>
<circle class="M" cx="855.0" cy="529.4" r="6.75"/>
<circle class="M" cx="577.5" cy="492.5" r="6.75"/>
<circle class="M" cx="735.0" cy="644.4" r="6.75"/>
<circle class="M" cx="900.2" cy="584.4" r="6.75"/>
<circle class="M" cx="900.2" cy="589.3" r="6.75"/>
<circle class="M" cx="888.1" cy="495.9" r="6.75"/>
<circle class="M" cx="932.2" cy="581.4" r="6.75"/>
<circle class="M" cx="895.4" cy="597.7" r="6.75"/>
<circle class="M" cx="905.8" cy="608.0" r="6.75"/>
<circle class="M" cx="865.6" cy="508.7" r="6.75"/>
<circle class="N" cx="842.3" cy="496.1" r="6.75"/>
<circle class="N" cx="868.9" cy="485.8" r="6.75"/>
<circle class="N" cx="857.0" cy="500.5" r="6.75"/>
<circle class="N" cx="914.1" cy="599.4" r="6.75"/>
<circle class="N" cx="859.9" cy="488.1" r="6.75"/>
<circle class="N" cx="725.6" cy="604.4" r="6.75"/>
<circle class="N" cx="836.2" cy="502.0" r="6.75"/>
<circle class="N" cx="816.4" cy="556.8" r="6.75"/>
<circle class="N" cx="610.6" cy="709.2" r="6.75"/>
<circle class="N" cx="835.5" cy="540.6" r="6.75"/>
<circle class="N" cx="570.0" cy="537.5" r="6.75"/>
<circle class="N" cx="892.5" cy="613.8" r="6.75"/>
<circle class="N" cx="565.6" cy="776.4" r="6.75"/>
<circle class="O" cx="861.5" cy="497.7" r="6.75"/>
<circle class="O" cx="864.1" cy="504.3" r="6.75"/>
<circle class="O" cx="898.6" cy="602.4" r="6.75"/>
<circle class="O" cx="880.1" cy="505.2" r="6.75"/>
<circle class="O" cx="917.7" cy="591.5" r="6.75"/>
<circle class="O" cx="861.3" cy="519.7" r="6.75"/>
<circle class="O" cx="873.4" cy="492.4" r="6.75"/>
<circle class="O" cx="871.2" cy="496.8" r="6.75"/>
<circle class="O" cx="571.9" cy="522.5" r="6.75"/>
<circle class="O" cx="590.6" cy="529.2" r="6.75"/>
<circle class="O" cx="723.8" cy="648.1" r="6.75"/>
<circle class="O" cx="889.5" cy="602.5" r="6.75"/>
<circle class="O" cx="819.4" cy="465.6" r="6.75"/>
<circle class="O" cx="804.4" cy="440.1" r="6.75"/>
<circle class="O" cx="840.8" cy="545.5" r="6.75"/>
<circle class="O" cx="885.0" cy="615.6" r="6.75"/>
<circle class="O" cx="504.4" cy="500.8" r="6.75"/>
<circle class="O" cx="750.0" cy="629.4" r="6.75"/>
<circle class="O" cx="892.8" cy="509.4" r="6.75"/>
<circle class="P" cx="889.8" cy="587.4" r="6.75"/>
<circle class="P" cx="873.6" cy="509.8" r="6.75"/>
<circle class="P" cx="513.0" cy="492.5" r="6.75"/>
<circle class="P" cx="611.2" cy="540.5" r="6.75"/>
<circle class="P" cx="528.8" cy="481.2" r="6.75"/>
<circle class="P" cx="901.8" cy="598.3" r="6.75"/>
<circle class="P" cx="895.5" cy="589.8" r="6.75"/>
<circle class="P" cx="876.7" cy="486.7" r="6.75"/>
<circle class="P" cx="863.9" cy="514.7" r="6.75"/>
<circle class="Q" cx="751.9" cy="638.8" r="6.75"/>
<circle class="Q" cx="631.2" cy="748.6" r="6.75"/>
<circle class="Q" cx="685.5" cy="659.4" r="6.75"/>
<circle class="Q" cx="725.6" cy="636.9" r="6.75"/>
<circle class="Q" cx="912.6" cy="593.0" r="6.75"/>
<circle class="Q" cx="905.6" cy="584.4" r="6.75"/>
<circle class="Q" cx="605.6" cy="529.2" r="6.75"/>
<circle class="Q" cx="702.0" cy="603.2" r="6.75"/>
<circle class="Q" cx="732.0" cy="656.8" r="6.75"/>
<circle class="Q" cx="583.2" cy="773.8" r="6.75"/>
<circle class="Q" cx="760.5" cy="625.6" r="6.75"/>
<circle class="Q" cx="727.5" cy="678.1" r="6.75"/>
<circle class="R" cx="689.2" cy="630.6" r="6.75"/>
<circle class="R" cx="822.0" cy="489.2" r="6.75"/>
<circle class="R" cx="681.1" cy="719.4" r="6.75"/>
<circle class="R" cx="618.1" cy="731.4" r="6.75"/>
<circle class="R" cx="608.8" cy="732.5" r="6.75"/>
<circle class="S" cx="665.0" cy="715.6" r="6.75"/>
<circle class="S" cx="871.1" cy="329.9" r="6.75"/>
<circle class="S" cx="691.1" cy="669.5" r="6.75"/>
<circle class="S" cx="688.9" cy="646.2" r="6.75"/>
<circle class="S" cx="694.2" cy="753.9" r="6.75"/>
<circle class="S" cx="798.0" cy="657.5" r="6.75"/>
<circle class="T" cx="840.0" cy="593.1" r="6.75"/>
<circle class="T" cx="562.5" cy="467.4" r="6.75"/>
<circle class="T" cx="853.1" cy="424.4" r="6.75"/>
<circle class="T" cx="835.1" cy="474.2" r="6.75"/>
</g>
<rect x="640" y="609" width="1" height="1" fill="#3b5a80"/>
<g id="l"><circle class="lb" cx="371.4" cy="344.7" r="10.9"/><text class="lt" x="371.4" y="350.1">1</text><circle class="lb" cx="615.5" cy="487.8" r="10.9"/><text class="lt" x="615.5" y="493.2">4</text><circle class="lb" cx="679.2" cy="265.6" r="10.9"/><text class="lt" x="679.2" y="271.0">6</text><circle class="lb" cx="1013.0" cy="310.2" r="10.9"/><text class="lt" x="1013.0" y="315.6">9</text><circle class="lb" cx="979.2" cy="444.4" r="10.9"/><text class="lt" x="979.2" y="449.9">7</text><circle class="lb" cx="761.4" cy="514.6" r="10.9"/><text class="lt" x="761.4" y="520.0">10</text><circle class="lb" cx="819.1" cy="623.7" r="10.9"/><text class="lt" x="819.1" y="629.1">8</text><circle class="lb" cx="818.8" cy="623.6" r="10.9"/><text class="lt" x="818.8" y="629.0">8</text><circle class="lb" cx="501.2" cy="736.8" r="10.9"/><text class="lt" x="501.2" y="742.2">2</text><circle class="lb" cx="574.8" cy="993.7" r="10.9"/><text class="lt" x="574.8" y="999.1">5</text><circle class="lb" cx="890.6" cy="883.6" r="10.9"/><text class="lt" x="890.6" y="889.0">3</text></g>
<g id="k"><defs><linearGradient id="lg" x1="0" x2="1" y1="0" y2="0"><stop offset="0.0000" stop-color="#4e6f98"/><stop offset="0.1113" stop-color="#6596c6"/><stop offset="0.2226" stop-color="#7bb3d5"/><stop offset="0.3339" stop-color="#b3d6e8"/><stop offset="0.4452" stop-color="#dfedf4"/><stop offset="0.5548" stop-color="#f9f9f9"/><stop offset="0.6661" stop-color="#fee3d4"/><stop offset="0.7774" stop-color="#f7bda4"/><stop offset="0.8887" stop-color="#e28b7e"/><stop offset="1.0000" stop-color="#c95d6b"/></linearGradient></defs><rect x="850" y="1134" width="301" height="15" fill="url(#lg)"/><rect x="850" y="1134" width="1" height="15" fill="#000"/><text class="tk" x="850.5" y="1162.8">0.0</text><rect x="879" y="1134" width="1" height="15" fill="#000"/><text class="tk" x="879.5" y="1162.8">0.6</text><rect x="913" y="1134" width="1" height="15" fill="#000"/><text class="tk" x="913.5" y="1162.8">1.3</text><rect x="947" y="1134" width="1" height="15" fill="#000"/><text class="tk" x="947.5" y="1162.8">2.0</text><rect x="981" y="1134" width="1" height="15" fill="#000"/><text class="tk" x="981.5" y="1162.8">2.7</text><rect x="1015" y="1134" width="1" height="15" fill="#000"/><text class="tk" x="1015.5" y="1162.8">3.4</text><rect x="1048" y="1134" width="1" height="15" fill="#000"/><text class="tk" x="1048.5" y="1162.8">4.1</text><rect x="1082" y="1134" width="1" height="15" fill="#000"/><text class="tk" x="1082.5" y="1162.8">4.8</text><rect x="1116" y="1134" width="1" height="15" fill="#000"/><text class="tk" x="1116.5" y="1162.8">5.5</text><rect x="1150" y="1134" width="1" height="15" fill="#000"/><text class="tk" x="1150.5" y="1162.8">6.2</text><text class="lgt" x="1085" y="1127">Variance, Z-scaled</text></g>
</svg>
</body></html>
